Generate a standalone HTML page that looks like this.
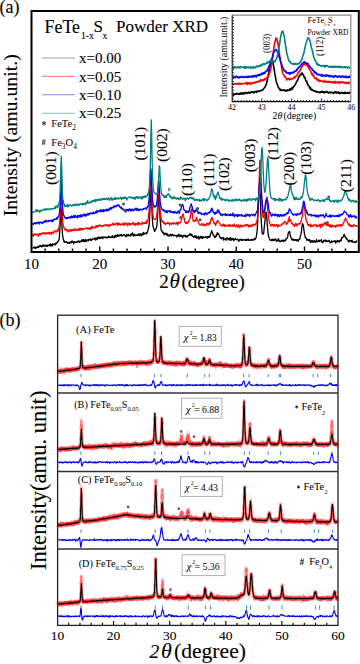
<!DOCTYPE html>
<html><head><meta charset="utf-8"><style>
html,body{margin:0;padding:0;background:#fff;}
body{width:360px;height:664px;overflow:hidden;font-family:"Liberation Serif",serif;}
svg{display:block;}
text.b{stroke:#000;stroke-width:0.2px;stroke-opacity:0.55;}
</style></head><body>
<svg width="360" height="664" viewBox="0 0 360 664">
<rect width="360" height="664" fill="#fff"/>
<text class="b" x="-0.5" y="12.6" font-size="18" font-family="Liberation Serif">(a)</text>
<path d="M32.5 248.1L32.9 248.2 33.3 247.8 33.7 247.3 34.1 247.5 34.5 247.1 34.9 247.7 35.3 248.6 35.7 247.2 36.1 247.1 36.5 247.8 36.9 247.6 37.3 247.4 37.7 246.6 38.1 247.2 38.5 247.6 38.9 246.1 39.3 246.7 39.7 245.6 40.1 246.0 40.5 245.5 40.9 246.6 41.3 245.8 41.7 246.8 42.1 246.7 42.5 246.3 42.9 244.6 43.3 246.0 43.7 246.2 44.1 246.3 44.5 245.1 44.9 245.7 45.3 245.3 45.7 245.4 46.1 246.6 46.5 245.2 46.9 245.7 47.3 246.3 47.7 245.2 48.1 245.4 48.5 245.5 48.9 245.4 49.3 244.4 49.7 245.3 50.1 246.1 50.5 244.0 50.9 245.6 51.3 245.0 51.7 244.4 52.1 246.1 52.5 245.2 52.9 243.7 53.3 244.5 53.7 244.8 54.1 244.1 54.5 244.6 54.9 243.9 55.3 244.3 55.7 244.7 56.1 243.0 56.5 243.4 56.9 242.7 57.3 242.8 57.7 241.4 58.1 241.3 58.5 240.7 58.9 240.1 59.3 237.9 59.7 232.0 60.1 225.5 60.5 217.1 60.9 207.3 61.3 209.7 61.7 218.8 62.1 228.6 62.5 234.3 62.9 237.1 63.3 239.1 63.7 240.3 64.1 242.2 64.5 241.3 64.9 241.7 65.3 242.4 65.7 242.2 66.1 242.2 66.5 241.7 66.9 242.5 67.3 242.2 67.7 243.4 68.1 243.0 68.5 242.6 68.9 243.1 69.3 242.3 69.7 243.3 70.1 242.5 70.5 242.9 70.9 241.6 71.3 242.7 71.7 241.3 72.1 241.0 72.5 242.2 72.9 241.7 73.3 242.4 73.7 243.8 74.1 241.6 74.5 241.8 74.9 242.3 75.3 242.5 75.7 241.9 76.1 241.9 76.5 242.5 76.9 242.3 77.3 241.2 77.7 241.8 78.1 241.8 78.5 241.0 78.9 241.9 79.3 241.1 79.7 242.3 80.1 241.7 80.5 241.6 80.9 241.0 81.3 241.3 81.7 239.9 82.1 240.5 82.5 241.4 82.9 239.6 83.3 241.6 83.7 239.7 84.1 241.4 84.5 240.2 84.9 241.3 85.3 240.8 85.7 239.5 86.1 241.4 86.5 241.5 86.9 240.4 87.3 240.1 87.7 240.1 88.1 239.5 88.5 240.9 88.9 239.7 89.3 239.9 89.7 239.3 90.1 239.4 90.5 238.9 90.9 240.6 91.3 239.5 91.7 240.2 92.1 239.5 92.5 238.9 92.9 239.1 93.3 238.9 93.7 239.2 94.1 238.9 94.5 238.8 94.9 238.0 95.3 238.3 95.7 240.0 96.1 238.3 96.5 237.9 96.9 238.8 97.3 239.5 97.7 237.4 98.1 238.2 98.5 237.8 98.9 236.9 99.3 238.6 99.7 238.0 100.1 238.0 100.5 237.4 100.9 238.2 101.3 237.4 101.7 237.7 102.1 236.9 102.5 236.8 102.9 238.6 103.3 237.2 103.7 237.7 104.1 237.5 104.5 237.1 104.9 237.1 105.3 237.8 105.7 237.1 106.1 237.2 106.5 237.2 106.9 238.0 107.3 237.6 107.7 237.4 108.1 236.7 108.5 236.0 108.9 237.6 109.3 237.6 109.7 236.8 110.1 237.2 110.5 237.3 110.9 237.3 111.3 237.3 111.7 236.3 112.1 237.7 112.5 235.7 112.9 237.1 113.3 236.8 113.7 237.0 114.1 237.7 114.5 237.4 114.9 235.5 115.3 235.1 115.7 236.8 116.1 235.5 116.5 236.1 116.9 236.7 117.3 234.9 117.7 234.5 118.1 236.1 118.5 235.9 118.9 235.7 119.3 235.8 119.7 235.2 120.1 234.7 120.5 235.6 120.9 235.0 121.3 234.5 121.7 236.0 122.1 235.6 122.5 235.9 122.9 234.9 123.3 235.1 123.7 234.9 124.1 234.9 124.5 235.7 124.9 235.0 125.3 235.8 125.7 235.7 126.1 236.9 126.5 234.5 126.9 236.1 127.3 235.4 127.7 235.4 128.1 234.4 128.5 235.1 128.9 235.9 129.3 235.3 129.7 235.4 130.1 235.1 130.5 236.1 130.9 235.3 131.3 233.7 131.7 234.8 132.1 233.9 132.5 232.9 132.9 234.8 133.3 236.1 133.7 235.2 134.1 234.3 134.5 234.5 134.9 235.9 135.3 235.2 135.7 235.1 136.1 235.0 136.5 235.0 136.9 235.5 137.3 235.3 137.7 235.1 138.1 234.1 138.5 235.2 138.9 234.3 139.3 235.5 139.7 233.8 140.1 234.6 140.5 234.6 140.9 233.7 141.3 235.8 141.7 235.5 142.1 234.1 142.5 234.9 142.9 234.6 143.3 232.4 143.7 234.3 144.1 234.0 144.5 233.9 144.9 233.0 145.3 233.4 145.7 233.2 146.1 233.9 146.5 233.0 146.9 232.4 147.3 232.9 147.7 230.8 148.1 229.9 148.5 227.3 148.9 227.1 149.3 222.3 149.7 215.6 150.1 206.1 150.5 195.3 150.9 189.6 151.3 193.3 151.7 203.3 152.1 213.1 152.5 221.2 152.9 225.1 153.3 227.3 153.7 228.5 154.1 229.3 154.5 231.3 154.9 230.7 155.3 230.3 155.7 229.6 156.1 228.3 156.5 227.5 156.9 225.6 157.3 220.3 157.7 213.7 158.1 204.8 158.5 196.7 158.9 193.6 159.3 201.0 159.7 209.9 160.1 219.0 160.5 223.4 160.9 227.8 161.3 230.6 161.7 230.6 162.1 231.2 162.5 232.4 162.9 232.7 163.3 232.3 163.7 233.6 164.1 234.9 164.5 233.5 164.9 233.7 165.3 233.2 165.7 234.3 166.1 233.3 166.5 233.5 166.9 235.3 167.3 233.9 167.7 235.3 168.1 235.7 168.5 234.9 168.9 235.2 169.3 236.2 169.7 234.8 170.1 234.5 170.5 234.1 170.9 235.1 171.3 236.1 171.7 235.8 172.1 234.5 172.5 234.6 172.9 234.9 173.3 235.5 173.7 235.2 174.1 235.6 174.5 235.7 174.9 235.3 175.3 235.5 175.7 235.7 176.1 235.5 176.5 236.0 176.9 237.0 177.3 236.1 177.7 235.8 178.1 234.6 178.5 236.1 178.9 234.5 179.3 234.9 179.7 236.5 180.1 236.4 180.5 235.9 180.9 234.8 181.3 235.8 181.7 235.6 182.1 236.5 182.5 237.7 182.9 236.3 183.3 235.6 183.7 235.4 184.1 236.2 184.5 236.1 184.9 235.4 185.3 236.3 185.7 235.4 186.1 237.0 186.5 237.0 186.9 237.0 187.3 235.9 187.7 236.5 188.1 235.9 188.5 235.5 188.9 235.3 189.3 234.3 189.7 233.8 190.1 235.0 190.5 234.2 190.9 234.6 191.3 235.6 191.7 234.1 192.1 235.2 192.5 236.2 192.9 236.6 193.3 236.3 193.7 237.4 194.1 236.9 194.5 236.0 194.9 236.3 195.3 237.5 195.7 237.3 196.1 235.7 196.5 238.1 196.9 237.6 197.3 238.1 197.7 237.0 198.1 237.1 198.5 236.5 198.9 239.1 199.3 237.2 199.7 238.5 200.1 237.0 200.5 237.6 200.9 236.3 201.3 237.2 201.7 238.2 202.1 236.7 202.5 238.3 202.9 237.8 203.3 236.8 203.7 237.2 204.1 237.3 204.5 237.6 204.9 237.2 205.3 237.0 205.7 237.4 206.1 236.9 206.5 236.7 206.9 237.5 207.3 238.2 207.7 236.4 208.1 237.4 208.5 236.8 208.9 236.4 209.3 237.4 209.7 236.0 210.1 236.7 210.5 234.1 210.9 233.6 211.3 231.8 211.7 230.6 212.1 231.8 212.5 232.5 212.9 234.4 213.3 235.1 213.7 235.2 214.1 236.5 214.5 236.9 214.9 237.7 215.3 236.3 215.7 236.8 216.1 235.2 216.5 236.2 216.9 234.2 217.3 232.7 217.7 233.4 218.1 234.4 218.5 233.5 218.9 234.8 219.3 235.9 219.7 236.3 220.1 237.9 220.5 237.4 220.9 237.7 221.3 238.7 221.7 237.9 222.1 238.8 222.5 237.9 222.9 237.8 223.3 237.5 223.7 240.1 224.1 238.6 224.5 239.1 224.9 238.9 225.3 239.1 225.7 239.0 226.1 240.4 226.5 238.4 226.9 238.0 227.3 238.4 227.7 238.2 228.1 239.7 228.5 239.8 228.9 238.6 229.3 238.3 229.7 239.1 230.1 240.3 230.5 237.4 230.9 239.8 231.3 238.7 231.7 240.2 232.1 238.7 232.5 239.3 232.9 238.5 233.3 238.9 233.7 240.6 234.1 240.2 234.5 239.4 234.9 239.1 235.3 238.4 235.7 239.5 236.1 239.7 236.5 239.7 236.9 239.7 237.3 239.0 237.7 239.8 238.1 239.8 238.5 240.8 238.9 241.2 239.3 239.8 239.7 239.4 240.1 239.9 240.5 239.6 240.9 239.5 241.3 240.0 241.7 239.3 242.1 240.5 242.5 240.0 242.9 240.3 243.3 240.0 243.7 239.7 244.1 239.5 244.5 240.0 244.9 239.8 245.3 240.4 245.7 240.3 246.1 239.3 246.5 240.3 246.9 239.4 247.3 239.9 247.7 240.1 248.1 238.9 248.5 240.4 248.9 240.4 249.3 240.2 249.7 240.0 250.1 240.1 250.5 239.6 250.9 240.1 251.3 239.8 251.7 240.2 252.1 239.2 252.5 240.2 252.9 240.0 253.3 239.7 253.7 239.4 254.1 240.0 254.5 238.2 254.9 239.5 255.3 239.0 255.7 238.5 256.1 237.7 256.5 235.3 256.9 232.7 257.3 228.6 257.7 221.5 258.1 212.0 258.5 200.3 258.9 192.0 259.3 186.7 259.7 187.4 260.1 193.6 260.5 202.4 260.9 214.4 261.3 222.3 261.7 226.9 262.1 232.9 262.5 233.6 262.9 234.2 263.3 233.9 263.7 233.2 264.1 228.9 264.5 225.1 264.9 221.3 265.3 216.7 265.7 212.5 266.1 212.2 266.5 214.2 266.9 219.1 267.3 224.9 267.7 229.6 268.1 233.1 268.5 236.4 268.9 236.9 269.3 238.5 269.7 239.6 270.1 239.9 270.5 240.5 270.9 240.2 271.3 239.8 271.7 240.3 272.1 239.5 272.5 239.1 272.9 240.7 273.3 240.3 273.7 240.6 274.1 239.2 274.5 240.2 274.9 240.0 275.3 239.9 275.7 238.9 276.1 240.3 276.5 241.2 276.9 240.8 277.3 240.1 277.7 240.6 278.1 241.1 278.5 238.6 278.9 240.5 279.3 241.0 279.7 241.0 280.1 241.8 280.5 241.3 280.9 240.8 281.3 240.7 281.7 241.1 282.1 240.1 282.5 240.4 282.9 241.1 283.3 241.7 283.7 240.2 284.1 240.2 284.5 240.3 284.9 241.0 285.3 239.9 285.7 240.7 286.1 238.7 286.5 238.8 286.9 238.1 287.3 237.9 287.7 236.9 288.1 233.6 288.5 232.5 288.9 232.2 289.3 231.4 289.7 231.7 290.1 235.0 290.5 236.1 290.9 237.4 291.3 237.7 291.7 239.4 292.1 239.0 292.5 240.3 292.9 239.1 293.3 239.3 293.7 240.1 294.1 239.6 294.5 240.6 294.9 240.3 295.3 239.5 295.7 240.2 296.1 239.9 296.5 240.7 296.9 239.6 297.3 239.6 297.7 240.7 298.1 241.2 298.5 240.9 298.9 239.2 299.3 239.0 299.7 239.3 300.1 237.4 300.5 235.6 300.9 234.7 301.3 232.7 301.7 229.1 302.1 225.7 302.5 223.6 302.9 224.6 303.3 225.1 303.7 228.3 304.1 231.4 304.5 234.2 304.9 235.5 305.3 237.5 305.7 237.5 306.1 238.5 306.5 238.5 306.9 240.4 307.3 239.8 307.7 239.5 308.1 240.0 308.5 240.2 308.9 240.9 309.3 239.4 309.7 239.9 310.1 240.4 310.5 242.5 310.9 241.4 311.3 240.7 311.7 241.4 312.1 242.3 312.5 240.8 312.9 240.7 313.3 241.8 313.7 241.4 314.1 241.5 314.5 240.7 314.9 242.4 315.3 242.3 315.7 241.5 316.1 241.6 316.5 239.7 316.9 241.6 317.3 241.0 317.7 241.5 318.1 241.7 318.5 241.0 318.9 240.0 319.3 241.5 319.7 240.7 320.1 241.0 320.5 240.8 320.9 241.0 321.3 239.7 321.7 242.1 322.1 241.5 322.5 242.1 322.9 242.7 323.3 241.3 323.7 240.1 324.1 240.7 324.5 240.5 324.9 241.0 325.3 241.4 325.7 240.0 326.1 241.6 326.5 240.3 326.9 241.6 327.3 241.3 327.7 241.2 328.1 241.3 328.5 241.0 328.9 241.0 329.3 240.2 329.7 241.4 330.1 242.7 330.5 242.8 330.9 242.3 331.3 241.9 331.7 240.9 332.1 242.4 332.5 241.4 332.9 241.4 333.3 241.2 333.7 241.5 334.1 241.1 334.5 241.3 334.9 240.6 335.3 241.1 335.7 243.0 336.1 241.3 336.5 241.1 336.9 241.7 337.3 241.8 337.7 240.4 338.1 241.0 338.5 241.7 338.9 241.2 339.3 241.0 339.7 241.9 340.1 240.1 340.5 240.4 340.9 239.7 341.3 240.7 341.7 237.7 342.1 238.0 342.5 237.3 342.9 237.3 343.3 236.5 343.7 236.4 344.1 234.2 344.5 236.0 344.9 235.9 345.3 236.5 345.7 238.2 346.1 237.9 346.5 237.8 346.9 239.5 347.3 239.1 347.7 240.1 348.1 241.0 348.5 241.2 348.9 242.2 349.3 241.1 349.7 240.2 350.1 240.8 350.5 240.8 350.9 240.6 351.3 241.8 351.7 241.1 352.1 240.2 352.5 242.1 352.9 241.6 353.3 241.9 353.7 241.8 354.1 242.2 354.5 241.8 354.9 242.6 355.3 242.1 355.7 242.1 356.1 242.1 356.5 240.8 356.9 241.7 357.3 241.7" fill="none" stroke="#000" stroke-width="1.3" stroke-linejoin="round"/>
<path d="M32.5 235.4L32.9 234.3 33.3 236.3 33.7 235.2 34.1 234.2 34.5 233.8 34.9 234.8 35.3 234.9 35.7 234.4 36.1 234.9 36.5 234.3 36.9 235.1 37.3 234.2 37.7 234.6 38.1 235.3 38.5 236.3 38.9 233.8 39.3 234.1 39.7 233.8 40.1 234.9 40.5 233.4 40.9 233.9 41.3 234.1 41.7 233.4 42.1 233.4 42.5 233.7 42.9 232.5 43.3 232.9 43.7 233.5 44.1 233.9 44.5 233.6 44.9 232.4 45.3 233.3 45.7 234.1 46.1 233.9 46.5 233.4 46.9 232.8 47.3 233.8 47.7 232.8 48.1 232.4 48.5 232.6 48.9 234.1 49.3 233.2 49.7 233.8 50.1 232.5 50.5 233.5 50.9 232.3 51.3 232.6 51.7 234.3 52.1 233.1 52.5 232.1 52.9 232.3 53.3 232.5 53.7 233.0 54.1 231.7 54.5 230.7 54.9 231.6 55.3 231.7 55.7 231.6 56.1 232.2 56.5 231.3 56.9 231.4 57.3 229.7 57.7 230.7 58.1 230.9 58.5 229.2 58.9 227.6 59.3 225.5 59.7 223.0 60.1 214.8 60.5 205.7 60.9 195.0 61.3 190.3 61.7 196.4 62.1 208.1 62.5 216.5 62.9 222.4 63.3 225.3 63.7 226.4 64.1 228.2 64.5 229.4 64.9 228.6 65.3 229.4 65.7 230.2 66.1 229.2 66.5 230.2 66.9 229.4 67.3 231.0 67.7 231.9 68.1 231.7 68.5 230.1 68.9 230.8 69.3 230.4 69.7 230.3 70.1 231.3 70.5 229.3 70.9 230.9 71.3 230.1 71.7 231.1 72.1 230.3 72.5 229.6 72.9 230.2 73.3 230.5 73.7 230.0 74.1 230.3 74.5 229.5 74.9 228.4 75.3 230.5 75.7 230.3 76.1 229.8 76.5 229.7 76.9 230.4 77.3 229.3 77.7 229.1 78.1 229.4 78.5 230.3 78.9 228.5 79.3 230.2 79.7 228.9 80.1 228.5 80.5 230.1 80.9 229.1 81.3 228.2 81.7 228.8 82.1 229.7 82.5 229.8 82.9 228.6 83.3 229.1 83.7 229.3 84.1 228.3 84.5 228.9 84.9 228.6 85.3 228.2 85.7 228.1 86.1 228.5 86.5 228.4 86.9 227.9 87.3 228.0 87.7 229.0 88.1 228.3 88.5 228.7 88.9 228.9 89.3 228.4 89.7 229.5 90.1 227.3 90.5 228.4 90.9 227.5 91.3 229.0 91.7 228.8 92.1 226.2 92.5 226.8 92.9 227.9 93.3 227.9 93.7 227.8 94.1 227.2 94.5 227.5 94.9 227.6 95.3 227.0 95.7 227.7 96.1 225.3 96.5 227.2 96.9 225.9 97.3 227.2 97.7 226.2 98.1 225.7 98.5 226.4 98.9 225.4 99.3 225.3 99.7 224.7 100.1 225.7 100.5 226.1 100.9 226.4 101.3 225.5 101.7 226.3 102.1 225.6 102.5 225.5 102.9 225.9 103.3 226.2 103.7 225.2 104.1 225.2 104.5 225.3 104.9 225.4 105.3 224.7 105.7 226.0 106.1 225.0 106.5 225.5 106.9 224.6 107.3 225.4 107.7 225.4 108.1 224.8 108.5 226.5 108.9 225.3 109.3 226.2 109.7 225.6 110.1 224.5 110.5 224.6 110.9 225.2 111.3 224.9 111.7 224.8 112.1 224.6 112.5 223.5 112.9 224.5 113.3 223.1 113.7 224.9 114.1 224.1 114.5 224.1 114.9 224.4 115.3 224.7 115.7 223.5 116.1 223.2 116.5 223.7 116.9 222.9 117.3 223.7 117.7 225.4 118.1 223.5 118.5 224.7 118.9 223.2 119.3 224.4 119.7 223.9 120.1 224.1 120.5 224.5 120.9 225.3 121.3 224.2 121.7 224.2 122.1 223.4 122.5 224.5 122.9 223.9 123.3 224.7 123.7 224.1 124.1 225.3 124.5 222.7 124.9 223.9 125.3 224.7 125.7 223.9 126.1 223.6 126.5 223.9 126.9 223.2 127.3 224.2 127.7 225.8 128.1 224.9 128.5 223.3 128.9 223.5 129.3 223.8 129.7 224.8 130.1 223.5 130.5 223.6 130.9 224.7 131.3 224.7 131.7 223.8 132.1 223.3 132.5 223.0 132.9 223.6 133.3 222.5 133.7 224.6 134.1 223.6 134.5 224.4 134.9 225.4 135.3 224.9 135.7 223.2 136.1 224.6 136.5 224.8 136.9 223.5 137.3 223.3 137.7 223.9 138.1 222.8 138.5 225.0 138.9 222.2 139.3 223.1 139.7 223.7 140.1 223.7 140.5 223.9 140.9 224.0 141.3 223.6 141.7 224.5 142.1 222.1 142.5 223.6 142.9 223.0 143.3 223.5 143.7 223.5 144.1 222.6 144.5 222.6 144.9 223.5 145.3 223.0 145.7 222.0 146.1 223.6 146.5 223.4 146.9 220.3 147.3 220.9 147.7 221.5 148.1 219.0 148.5 216.5 148.9 212.8 149.3 207.0 149.7 198.7 150.1 187.3 150.5 177.5 150.9 173.8 151.3 181.4 151.7 192.4 152.1 203.0 152.5 209.3 152.9 214.0 153.3 217.4 153.7 218.3 154.1 219.3 154.5 219.6 154.9 219.5 155.3 219.3 155.7 218.8 156.1 218.7 156.5 215.9 156.9 214.9 157.3 209.5 157.7 202.3 158.1 194.5 158.5 188.4 158.9 190.0 159.3 196.5 159.7 205.8 160.1 210.7 160.5 213.8 160.9 217.4 161.3 218.1 161.7 220.4 162.1 221.9 162.5 222.0 162.9 221.0 163.3 221.7 163.7 223.6 164.1 222.8 164.5 222.7 164.9 223.5 165.3 224.6 165.7 223.9 166.1 223.2 166.5 223.4 166.9 223.7 167.3 222.9 167.7 222.6 168.1 223.4 168.5 222.8 168.9 223.4 169.3 223.6 169.7 225.2 170.1 223.0 170.5 223.5 170.9 223.5 171.3 223.9 171.7 224.4 172.1 223.3 172.5 223.1 172.9 222.6 173.3 223.1 173.7 224.1 174.1 223.8 174.5 223.0 174.9 223.5 175.3 223.8 175.7 224.1 176.1 223.3 176.5 223.5 176.9 222.4 177.3 222.9 177.7 224.8 178.1 222.1 178.5 223.3 178.9 223.6 179.3 223.0 179.7 222.6 180.1 222.8 180.5 222.5 180.9 221.8 181.3 219.5 181.7 219.3 182.1 216.7 182.5 214.7 182.9 213.8 183.3 214.5 183.7 216.6 184.1 217.9 184.5 220.6 184.9 222.1 185.3 222.8 185.7 223.5 186.1 222.7 186.5 222.8 186.9 223.5 187.3 222.0 187.7 223.0 188.1 222.3 188.5 222.1 188.9 220.6 189.3 220.3 189.7 219.5 190.1 218.0 190.5 215.2 190.9 211.3 191.3 209.2 191.7 209.4 192.1 213.0 192.5 215.7 192.9 218.8 193.3 221.3 193.7 221.1 194.1 220.6 194.5 221.1 194.9 220.4 195.3 220.0 195.7 220.9 196.1 219.1 196.5 217.1 196.9 218.8 197.3 220.3 197.7 220.4 198.1 221.3 198.5 222.3 198.9 223.4 199.3 224.0 199.7 224.7 200.1 224.9 200.5 225.0 200.9 225.2 201.3 224.8 201.7 223.3 202.1 224.4 202.5 224.7 202.9 224.3 203.3 225.2 203.7 224.3 204.1 224.0 204.5 225.6 204.9 225.1 205.3 224.8 205.7 225.3 206.1 225.3 206.5 224.8 206.9 222.8 207.3 224.0 207.7 224.1 208.1 223.6 208.5 224.3 208.9 224.8 209.3 223.3 209.7 222.4 210.1 223.8 210.5 221.0 210.9 219.1 211.3 218.6 211.7 217.9 212.1 217.3 212.5 219.6 212.9 220.1 213.3 221.1 213.7 222.8 214.1 223.8 214.5 223.1 214.9 224.0 215.3 223.6 215.7 225.5 216.1 222.6 216.5 223.4 216.9 221.6 217.3 220.6 217.7 220.6 218.1 221.0 218.5 222.1 218.9 222.4 219.3 222.7 219.7 223.4 220.1 224.6 220.5 224.9 220.9 225.7 221.3 225.2 221.7 225.7 222.1 226.1 222.5 225.2 222.9 224.1 223.3 224.4 223.7 224.3 224.1 226.4 224.5 224.7 224.9 226.2 225.3 225.8 225.7 226.6 226.1 226.1 226.5 225.4 226.9 225.3 227.3 225.6 227.7 225.6 228.1 225.2 228.5 225.5 228.9 226.7 229.3 224.4 229.7 225.8 230.1 225.0 230.5 225.7 230.9 226.2 231.3 225.6 231.7 226.2 232.1 224.6 232.5 226.4 232.9 225.3 233.3 226.1 233.7 225.8 234.1 223.9 234.5 225.2 234.9 225.9 235.3 226.8 235.7 226.0 236.1 225.9 236.5 224.8 236.9 226.8 237.3 227.1 237.7 225.8 238.1 225.7 238.5 224.7 238.9 226.4 239.3 227.7 239.7 226.3 240.1 226.7 240.5 226.2 240.9 225.2 241.3 226.8 241.7 225.0 242.1 225.7 242.5 226.1 242.9 226.5 243.3 226.2 243.7 226.2 244.1 225.4 244.5 225.0 244.9 225.9 245.3 225.4 245.7 225.0 246.1 225.0 246.5 225.5 246.9 224.6 247.3 224.9 247.7 224.7 248.1 226.0 248.5 226.1 248.9 227.2 249.3 224.8 249.7 225.3 250.1 226.4 250.5 225.6 250.9 225.5 251.3 226.8 251.7 225.3 252.1 224.7 252.5 224.5 252.9 225.6 253.3 225.5 253.7 224.2 254.1 224.3 254.5 225.2 254.9 225.1 255.3 224.0 255.7 224.6 256.1 224.1 256.5 221.7 256.9 221.4 257.3 219.5 257.7 214.7 258.1 207.0 258.5 198.8 258.9 187.4 259.3 175.1 259.7 161.5 260.1 160.0 260.5 160.7 260.9 172.0 261.3 184.9 261.7 196.9 262.1 206.1 262.5 211.8 262.9 216.9 263.3 217.4 263.7 215.7 264.1 217.6 264.5 213.0 264.9 209.8 265.3 203.6 265.7 201.5 266.1 199.4 266.5 199.6 266.9 201.1 267.3 204.4 267.7 209.8 268.1 212.6 268.5 216.5 268.9 220.4 269.3 221.5 269.7 223.2 270.1 223.9 270.5 225.8 270.9 225.6 271.3 224.9 271.7 225.9 272.1 224.6 272.5 224.9 272.9 225.9 273.3 224.4 273.7 225.1 274.1 224.5 274.5 225.5 274.9 226.6 275.3 224.9 275.7 225.6 276.1 224.8 276.5 224.7 276.9 224.6 277.3 226.5 277.7 227.1 278.1 225.8 278.5 225.0 278.9 225.9 279.3 225.2 279.7 226.0 280.1 225.6 280.5 225.5 280.9 225.7 281.3 224.8 281.7 224.7 282.1 223.7 282.5 224.3 282.9 223.3 283.3 223.7 283.7 222.6 284.1 222.8 284.5 222.6 284.9 221.2 285.3 221.9 285.7 222.2 286.1 223.7 286.5 224.5 286.9 223.8 287.3 222.7 287.7 223.4 288.1 220.4 288.5 221.4 288.9 218.8 289.3 216.6 289.7 220.4 290.1 220.5 290.5 219.8 290.9 221.8 291.3 222.5 291.7 223.5 292.1 222.9 292.5 223.8 292.9 224.8 293.3 224.8 293.7 225.6 294.1 224.9 294.5 226.5 294.9 224.4 295.3 225.1 295.7 223.5 296.1 224.0 296.5 225.8 296.9 224.1 297.3 225.1 297.7 224.6 298.1 223.8 298.5 224.1 298.9 223.8 299.3 223.6 299.7 224.2 300.1 223.7 300.5 222.2 300.9 221.1 301.3 220.7 301.7 218.7 302.1 217.0 302.5 215.0 302.9 210.0 303.3 205.9 303.7 203.7 304.1 203.8 304.5 206.6 304.9 210.3 305.3 214.3 305.7 217.2 306.1 220.2 306.5 220.9 306.9 222.2 307.3 222.2 307.7 224.7 308.1 224.3 308.5 225.5 308.9 225.0 309.3 225.7 309.7 224.6 310.1 225.4 310.5 226.9 310.9 224.2 311.3 226.0 311.7 226.4 312.1 225.6 312.5 225.9 312.9 226.3 313.3 225.0 313.7 225.7 314.1 224.9 314.5 225.0 314.9 225.1 315.3 225.5 315.7 225.7 316.1 225.9 316.5 224.6 316.9 227.0 317.3 226.5 317.7 226.2 318.1 225.4 318.5 225.6 318.9 226.0 319.3 225.9 319.7 224.4 320.1 226.1 320.5 227.7 320.9 224.2 321.3 226.2 321.7 225.7 322.1 225.2 322.5 226.1 322.9 224.0 323.3 224.7 323.7 225.2 324.1 223.5 324.5 222.8 324.9 223.0 325.3 222.7 325.7 224.6 326.1 223.3 326.5 225.1 326.9 223.9 327.3 225.6 327.7 225.3 328.1 223.6 328.5 225.6 328.9 224.9 329.3 225.4 329.7 226.8 330.1 225.0 330.5 225.0 330.9 226.9 331.3 225.9 331.7 227.0 332.1 226.1 332.5 225.2 332.9 225.8 333.3 226.8 333.7 226.6 334.1 225.9 334.5 225.9 334.9 225.8 335.3 225.5 335.7 227.3 336.1 225.9 336.5 225.0 336.9 225.5 337.3 226.3 337.7 226.2 338.1 225.7 338.5 225.2 338.9 225.7 339.3 224.4 339.7 224.6 340.1 226.1 340.5 225.0 340.9 225.5 341.3 226.0 341.7 225.3 342.1 224.6 342.5 225.7 342.9 224.1 343.3 222.7 343.7 222.7 344.1 221.6 344.5 219.8 344.9 219.7 345.3 219.1 345.7 217.9 346.1 219.7 346.5 220.5 346.9 221.3 347.3 221.3 347.7 223.0 348.1 223.8 348.5 224.4 348.9 223.9 349.3 225.5 349.7 224.4 350.1 225.3 350.5 226.5 350.9 225.2 351.3 225.4 351.7 226.6 352.1 225.6 352.5 225.7 352.9 226.1 353.3 226.8 353.7 224.5 354.1 225.5 354.5 225.4 354.9 225.3 355.3 225.5 355.7 225.6 356.1 226.4 356.5 225.6 356.9 226.3 357.3 226.5" fill="none" stroke="#f00" stroke-width="1.3" stroke-linejoin="round"/>
<path d="M32.5 223.2L32.9 223.7 33.3 224.7 33.7 223.7 34.1 223.0 34.5 223.3 34.9 222.7 35.3 223.5 35.7 223.8 36.1 222.6 36.5 222.9 36.9 223.8 37.3 222.6 37.7 223.0 38.1 222.1 38.5 222.2 38.9 222.4 39.3 224.2 39.7 222.3 40.1 222.2 40.5 222.1 40.9 222.3 41.3 222.8 41.7 222.4 42.1 223.7 42.5 222.3 42.9 223.1 43.3 222.2 43.7 222.4 44.1 220.9 44.5 221.8 44.9 221.8 45.3 221.6 45.7 220.2 46.1 222.2 46.5 221.3 46.9 221.2 47.3 221.2 47.7 221.2 48.1 221.6 48.5 220.3 48.9 220.5 49.3 221.3 49.7 221.1 50.1 220.7 50.5 220.5 50.9 220.2 51.3 220.7 51.7 221.5 52.1 219.8 52.5 221.5 52.9 221.0 53.3 220.0 53.7 220.7 54.1 219.1 54.5 218.8 54.9 218.9 55.3 219.4 55.7 219.3 56.1 219.0 56.5 219.2 56.9 217.4 57.3 219.0 57.7 217.2 58.1 217.3 58.5 216.8 58.9 215.2 59.3 213.4 59.7 210.6 60.1 205.6 60.5 196.2 60.9 183.7 61.3 176.7 61.7 185.2 62.1 197.3 62.5 207.0 62.9 210.2 63.3 215.0 63.7 215.1 64.1 215.7 64.5 217.0 64.9 217.8 65.3 217.5 65.7 218.2 66.1 217.6 66.5 218.5 66.9 218.5 67.3 217.6 67.7 218.7 68.1 217.8 68.5 217.7 68.9 217.0 69.3 217.4 69.7 218.1 70.1 216.6 70.5 217.9 70.9 217.7 71.3 217.6 71.7 215.8 72.1 217.2 72.5 217.7 72.9 216.6 73.3 217.1 73.7 215.4 74.1 217.4 74.5 216.4 74.9 217.5 75.3 215.5 75.7 217.2 76.1 216.5 76.5 217.2 76.9 215.9 77.3 216.0 77.7 218.0 78.1 215.7 78.5 215.8 78.9 216.0 79.3 215.4 79.7 216.9 80.1 217.2 80.5 215.4 80.9 214.6 81.3 216.5 81.7 216.4 82.1 216.1 82.5 216.3 82.9 214.7 83.3 215.1 83.7 214.2 84.1 214.1 84.5 215.7 84.9 214.4 85.3 216.4 85.7 214.8 86.1 214.2 86.5 215.1 86.9 215.7 87.3 214.7 87.7 213.4 88.1 214.4 88.5 215.0 88.9 213.6 89.3 213.3 89.7 214.5 90.1 213.8 90.5 212.8 90.9 213.2 91.3 212.9 91.7 213.5 92.1 213.3 92.5 213.9 92.9 213.5 93.3 211.9 93.7 213.1 94.1 213.4 94.5 213.0 94.9 213.3 95.3 212.1 95.7 211.7 96.1 212.9 96.5 211.5 96.9 210.6 97.3 212.7 97.7 211.4 98.1 211.6 98.5 210.7 98.9 210.7 99.3 210.7 99.7 211.2 100.1 211.6 100.5 209.6 100.9 211.7 101.3 210.2 101.7 210.2 102.1 211.3 102.5 210.7 102.9 209.6 103.3 211.9 103.7 209.9 104.1 210.6 104.5 210.4 104.9 211.2 105.3 209.8 105.7 210.7 106.1 209.4 106.5 210.6 106.9 209.2 107.3 209.4 107.7 210.8 108.1 209.6 108.5 209.3 108.9 210.7 109.3 209.2 109.7 208.2 110.1 209.2 110.5 207.7 110.9 209.1 111.3 209.0 111.7 207.6 112.1 207.5 112.5 207.9 112.9 207.6 113.3 206.8 113.7 207.7 114.1 205.7 114.5 206.7 114.9 206.6 115.3 206.5 115.7 206.7 116.1 205.5 116.5 206.6 116.9 205.9 117.3 205.5 117.7 204.8 118.1 204.8 118.5 205.7 118.9 205.0 119.3 206.0 119.7 207.0 120.1 207.3 120.5 208.0 120.9 207.0 121.3 206.8 121.7 208.6 122.1 208.4 122.5 209.3 122.9 208.8 123.3 210.0 123.7 210.1 124.1 210.2 124.5 210.1 124.9 210.0 125.3 209.9 125.7 209.9 126.1 210.4 126.5 209.3 126.9 210.9 127.3 209.6 127.7 210.4 128.1 209.6 128.5 209.5 128.9 211.1 129.3 209.5 129.7 208.8 130.1 209.2 130.5 209.5 130.9 211.2 131.3 209.8 131.7 210.3 132.1 209.0 132.5 209.9 132.9 210.1 133.3 210.9 133.7 209.2 134.1 210.1 134.5 209.9 134.9 208.9 135.3 209.6 135.7 209.4 136.1 208.0 136.5 210.0 136.9 210.0 137.3 209.3 137.7 208.6 138.1 210.6 138.5 209.7 138.9 210.2 139.3 210.5 139.7 209.1 140.1 210.0 140.5 209.2 140.9 209.3 141.3 209.3 141.7 209.3 142.1 210.0 142.5 209.3 142.9 209.0 143.3 208.9 143.7 209.2 144.1 208.3 144.5 208.4 144.9 208.6 145.3 208.1 145.7 208.3 146.1 207.7 146.5 209.3 146.9 208.4 147.3 207.3 147.7 206.2 148.1 206.7 148.5 203.7 148.9 200.5 149.3 196.0 149.7 188.8 150.1 180.0 150.5 169.8 150.9 168.8 151.3 173.4 151.7 184.4 152.1 191.7 152.5 199.6 152.9 201.9 153.3 204.3 153.7 206.2 154.1 207.2 154.5 206.0 154.9 206.7 155.3 205.9 155.7 206.7 156.1 205.9 156.5 204.5 156.9 201.9 157.3 198.4 157.7 192.5 158.1 186.6 158.5 182.2 158.9 180.8 159.3 188.2 159.7 194.9 160.1 200.9 160.5 203.5 160.9 206.3 161.3 207.0 161.7 209.1 162.1 209.3 162.5 209.6 162.9 210.3 163.3 210.2 163.7 209.5 164.1 211.2 164.5 211.1 164.9 210.9 165.3 211.9 165.7 212.1 166.1 210.6 166.5 210.9 166.9 212.6 167.3 212.5 167.7 211.1 168.1 210.8 168.5 211.2 168.9 211.4 169.3 210.7 169.7 211.8 170.1 211.0 170.5 211.0 170.9 212.6 171.3 211.5 171.7 211.9 172.1 212.4 172.5 212.6 172.9 211.8 173.3 212.1 173.7 211.5 174.1 213.3 174.5 212.6 174.9 211.3 175.3 212.1 175.7 212.6 176.1 212.5 176.5 213.4 176.9 213.1 177.3 211.7 177.7 212.0 178.1 211.1 178.5 212.1 178.9 212.0 179.3 213.6 179.7 211.5 180.1 209.6 180.5 210.0 180.9 209.7 181.3 207.4 181.7 205.9 182.1 204.6 182.5 204.4 182.9 204.9 183.3 206.2 183.7 209.1 184.1 209.5 184.5 210.4 184.9 210.3 185.3 211.1 185.7 212.3 186.1 210.8 186.5 212.0 186.9 212.5 187.3 211.8 187.7 212.1 188.1 211.0 188.5 212.5 188.9 211.9 189.3 210.6 189.7 208.1 190.1 207.1 190.5 206.5 190.9 205.2 191.3 203.8 191.7 205.7 192.1 206.4 192.5 208.6 192.9 210.1 193.3 211.2 193.7 210.4 194.1 212.4 194.5 212.7 194.9 210.9 195.3 210.5 195.7 211.2 196.1 210.0 196.5 208.5 196.9 210.9 197.3 210.9 197.7 211.1 198.1 213.5 198.5 212.6 198.9 212.2 199.3 213.1 199.7 212.4 200.1 212.7 200.5 213.6 200.9 213.0 201.3 213.1 201.7 214.7 202.1 214.1 202.5 214.1 202.9 214.0 203.3 213.9 203.7 214.6 204.1 213.6 204.5 215.0 204.9 213.0 205.3 213.5 205.7 212.7 206.1 213.4 206.5 214.0 206.9 214.7 207.3 213.2 207.7 213.6 208.1 213.3 208.5 212.9 208.9 212.5 209.3 213.2 209.7 211.6 210.1 212.4 210.5 211.6 210.9 210.2 211.3 209.0 211.7 208.1 212.1 210.6 212.5 209.1 212.9 212.1 213.3 212.3 213.7 212.2 214.1 212.1 214.5 213.8 214.9 214.4 215.3 212.5 215.7 212.8 216.1 213.4 216.5 212.4 216.9 212.9 217.3 210.3 217.7 210.7 218.1 209.6 218.5 212.6 218.9 211.5 219.3 211.1 219.7 213.1 220.1 213.5 220.5 215.2 220.9 213.8 221.3 214.1 221.7 214.6 222.1 215.4 222.5 214.3 222.9 215.1 223.3 214.8 223.7 214.3 224.1 214.6 224.5 214.6 224.9 214.0 225.3 215.5 225.7 213.7 226.1 215.5 226.5 215.4 226.9 214.7 227.3 214.2 227.7 214.6 228.1 215.1 228.5 215.3 228.9 215.0 229.3 215.5 229.7 214.5 230.1 215.0 230.5 213.8 230.9 215.4 231.3 215.0 231.7 214.7 232.1 215.8 232.5 215.5 232.9 213.0 233.3 215.0 233.7 214.0 234.1 215.8 234.5 216.8 234.9 214.7 235.3 215.2 235.7 214.9 236.1 215.4 236.5 215.6 236.9 216.1 237.3 214.5 237.7 216.3 238.1 214.6 238.5 215.4 238.9 216.0 239.3 215.7 239.7 214.6 240.1 214.8 240.5 215.0 240.9 215.3 241.3 216.1 241.7 214.4 242.1 215.7 242.5 215.8 242.9 215.8 243.3 215.7 243.7 216.4 244.1 215.7 244.5 216.0 244.9 215.8 245.3 216.7 245.7 214.1 246.1 216.3 246.5 215.3 246.9 215.3 247.3 214.8 247.7 214.2 248.1 215.2 248.5 215.0 248.9 215.8 249.3 214.4 249.7 216.5 250.1 215.7 250.5 215.3 250.9 214.9 251.3 214.8 251.7 214.5 252.1 214.9 252.5 215.3 252.9 215.1 253.3 214.1 253.7 214.9 254.1 214.4 254.5 215.0 254.9 216.1 255.3 215.0 255.7 214.2 256.1 212.9 256.5 212.5 256.9 211.3 257.3 211.3 257.7 207.6 258.1 204.2 258.5 198.2 258.9 192.2 259.3 186.3 259.7 179.4 260.1 177.2 260.5 178.5 260.9 184.6 261.3 189.9 261.7 196.4 262.1 201.8 262.5 206.0 262.9 210.0 263.3 213.0 263.7 211.1 264.1 212.2 264.5 210.8 264.9 208.3 265.3 206.7 265.7 204.1 266.1 201.1 266.5 200.9 266.9 197.2 267.3 199.4 267.7 201.3 268.1 203.3 268.5 206.6 268.9 209.7 269.3 211.1 269.7 212.8 270.1 213.9 270.5 212.6 270.9 215.5 271.3 216.2 271.7 215.5 272.1 215.6 272.5 214.0 272.9 214.9 273.3 214.5 273.7 214.7 274.1 215.8 274.5 214.6 274.9 215.1 275.3 213.8 275.7 215.1 276.1 215.3 276.5 214.7 276.9 214.7 277.3 216.5 277.7 214.4 278.1 214.5 278.5 214.6 278.9 216.0 279.3 216.7 279.7 215.4 280.1 214.7 280.5 214.9 280.9 215.9 281.3 214.5 281.7 216.2 282.1 216.1 282.5 215.2 282.9 215.5 283.3 215.6 283.7 216.1 284.1 214.2 284.5 215.7 284.9 214.6 285.3 214.2 285.7 214.7 286.1 214.3 286.5 213.5 286.9 212.8 287.3 212.8 287.7 213.8 288.1 213.3 288.5 211.3 288.9 210.6 289.3 208.8 289.7 209.1 290.1 210.0 290.5 210.1 290.9 211.2 291.3 212.8 291.7 213.1 292.1 213.1 292.5 214.4 292.9 214.1 293.3 215.2 293.7 214.6 294.1 214.4 294.5 214.8 294.9 214.6 295.3 214.2 295.7 214.4 296.1 215.2 296.5 215.1 296.9 215.5 297.3 213.4 297.7 214.3 298.1 214.2 298.5 214.5 298.9 214.0 299.3 213.8 299.7 214.5 300.1 213.8 300.5 212.5 300.9 213.7 301.3 212.7 301.7 210.5 302.1 210.0 302.5 206.9 302.9 205.9 303.3 202.8 303.7 201.1 304.1 201.8 304.5 203.3 304.9 206.3 305.3 208.5 305.7 210.3 306.1 211.2 306.5 210.0 306.9 213.3 307.3 212.4 307.7 214.2 308.1 215.1 308.5 214.7 308.9 214.4 309.3 214.6 309.7 214.8 310.1 214.6 310.5 214.6 310.9 214.4 311.3 216.0 311.7 215.2 312.1 215.9 312.5 215.1 312.9 215.4 313.3 215.2 313.7 215.7 314.1 216.0 314.5 215.6 314.9 215.0 315.3 214.9 315.7 216.7 316.1 215.3 316.5 215.3 316.9 216.6 317.3 216.3 317.7 216.0 318.1 215.3 318.5 217.3 318.9 215.9 319.3 216.0 319.7 215.6 320.1 214.7 320.5 214.8 320.9 216.0 321.3 216.0 321.7 215.6 322.1 214.9 322.5 214.8 322.9 215.6 323.3 214.8 323.7 216.4 324.1 216.6 324.5 217.8 324.9 216.5 325.3 215.4 325.7 215.3 326.1 213.5 326.5 215.5 326.9 215.8 327.3 216.6 327.7 216.3 328.1 216.3 328.5 216.1 328.9 216.4 329.3 217.0 329.7 215.2 330.1 215.7 330.5 215.0 330.9 217.1 331.3 216.9 331.7 216.5 332.1 215.2 332.5 216.1 332.9 215.9 333.3 216.1 333.7 215.9 334.1 216.4 334.5 215.8 334.9 216.6 335.3 216.2 335.7 215.8 336.1 215.9 336.5 215.7 336.9 216.6 337.3 215.8 337.7 216.2 338.1 215.7 338.5 214.9 338.9 216.5 339.3 215.1 339.7 216.3 340.1 216.0 340.5 214.4 340.9 214.8 341.3 214.9 341.7 214.4 342.1 213.8 342.5 214.8 342.9 213.5 343.3 213.4 343.7 212.2 344.1 212.1 344.5 211.0 344.9 211.5 345.3 212.2 345.7 212.4 346.1 212.7 346.5 212.9 346.9 214.3 347.3 214.9 347.7 214.9 348.1 214.8 348.5 216.0 348.9 217.5 349.3 215.7 349.7 216.3 350.1 216.4 350.5 214.4 350.9 216.3 351.3 215.8 351.7 217.3 352.1 216.2 352.5 215.9 352.9 216.3 353.3 216.6 353.7 216.1 354.1 216.5 354.5 215.6 354.9 216.4 355.3 217.1 355.7 218.0 356.1 217.1 356.5 216.9 356.9 217.5 357.3 217.4" fill="none" stroke="#00f" stroke-width="1.3" stroke-linejoin="round"/>
<path d="M32.5 213.1L32.9 212.7 33.3 211.8 33.7 212.0 34.1 211.8 34.5 211.9 34.9 211.7 35.3 211.0 35.7 210.0 36.1 210.9 36.5 209.9 36.9 211.3 37.3 211.2 37.7 209.9 38.1 211.5 38.5 211.6 38.9 211.0 39.3 212.0 39.7 212.1 40.1 209.9 40.5 211.4 40.9 210.9 41.3 210.8 41.7 211.1 42.1 209.9 42.5 209.9 42.9 209.6 43.3 209.6 43.7 210.0 44.1 209.0 44.5 209.2 44.9 210.3 45.3 209.7 45.7 210.0 46.1 208.3 46.5 209.0 46.9 209.1 47.3 209.5 47.7 209.0 48.1 209.9 48.5 209.2 48.9 209.2 49.3 209.1 49.7 209.5 50.1 208.6 50.5 209.6 50.9 209.1 51.3 208.8 51.7 208.6 52.1 208.8 52.5 209.1 52.9 209.0 53.3 208.5 53.7 208.7 54.1 208.0 54.5 208.7 54.9 207.7 55.3 206.1 55.7 208.3 56.1 207.3 56.5 206.2 56.9 206.6 57.3 205.8 57.7 207.5 58.1 205.8 58.5 203.7 58.9 204.1 59.3 201.7 59.7 200.0 60.1 191.4 60.5 178.8 60.9 164.4 61.3 156.2 61.7 167.4 62.1 181.7 62.5 193.8 62.9 200.2 63.3 200.4 63.7 204.0 64.1 203.7 64.5 206.3 64.9 205.3 65.3 205.1 65.7 206.2 66.1 205.9 66.5 205.2 66.9 206.2 67.3 205.4 67.7 204.5 68.1 207.1 68.5 205.5 68.9 205.3 69.3 205.9 69.7 204.6 70.1 204.7 70.5 205.2 70.9 205.2 71.3 205.6 71.7 206.2 72.1 205.1 72.5 205.7 72.9 205.7 73.3 204.5 73.7 205.4 74.1 204.5 74.5 205.8 74.9 205.4 75.3 205.0 75.7 204.0 76.1 205.0 76.5 204.3 76.9 205.3 77.3 204.6 77.7 204.1 78.1 205.2 78.5 205.0 78.9 204.1 79.3 205.2 79.7 204.1 80.1 204.1 80.5 204.3 80.9 203.6 81.3 203.7 81.7 203.8 82.1 204.9 82.5 204.8 82.9 203.5 83.3 204.7 83.7 203.4 84.1 203.6 84.5 203.9 84.9 203.4 85.3 204.8 85.7 203.1 86.1 202.0 86.5 203.7 86.9 202.4 87.3 202.4 87.7 200.4 88.1 203.1 88.5 202.9 88.9 202.8 89.3 202.8 89.7 203.2 90.1 201.9 90.5 202.5 90.9 201.2 91.3 201.4 91.7 202.3 92.1 201.7 92.5 200.4 92.9 201.5 93.3 201.0 93.7 200.5 94.1 201.3 94.5 200.6 94.9 199.7 95.3 199.9 95.7 201.8 96.1 199.4 96.5 200.6 96.9 200.7 97.3 200.7 97.7 199.2 98.1 199.8 98.5 200.0 98.9 200.4 99.3 199.3 99.7 198.8 100.1 200.2 100.5 200.3 100.9 199.7 101.3 199.0 101.7 199.7 102.1 199.5 102.5 199.9 102.9 198.4 103.3 199.4 103.7 199.1 104.1 198.4 104.5 199.3 104.9 199.2 105.3 198.8 105.7 199.4 106.1 198.1 106.5 199.0 106.9 199.3 107.3 199.2 107.7 199.7 108.1 198.1 108.5 197.8 108.9 199.0 109.3 199.1 109.7 200.3 110.1 199.2 110.5 198.1 110.9 199.2 111.3 198.1 111.7 197.6 112.1 200.4 112.5 198.8 112.9 199.0 113.3 198.9 113.7 199.7 114.1 198.6 114.5 199.2 114.9 197.6 115.3 197.3 115.7 199.3 116.1 199.3 116.5 198.6 116.9 198.3 117.3 198.3 117.7 197.6 118.1 199.2 118.5 198.5 118.9 198.4 119.3 198.2 119.7 198.7 120.1 198.3 120.5 198.4 120.9 197.1 121.3 198.3 121.7 199.5 122.1 197.6 122.5 197.8 122.9 198.5 123.3 198.6 123.7 198.3 124.1 196.8 124.5 198.3 124.9 197.1 125.3 197.3 125.7 198.3 126.1 197.7 126.5 198.5 126.9 200.1 127.3 198.4 127.7 198.4 128.1 197.3 128.5 197.4 128.9 197.1 129.3 197.5 129.7 197.1 130.1 197.4 130.5 197.7 130.9 197.2 131.3 196.9 131.7 196.9 132.1 198.2 132.5 197.9 132.9 198.5 133.3 198.6 133.7 197.6 134.1 198.3 134.5 196.8 134.9 199.4 135.3 198.6 135.7 197.6 136.1 197.0 136.5 198.0 136.9 196.4 137.3 197.2 137.7 198.2 138.1 197.8 138.5 197.3 138.9 198.3 139.3 196.9 139.7 197.8 140.1 197.2 140.5 197.0 140.9 197.9 141.3 196.8 141.7 198.8 142.1 197.0 142.5 198.8 142.9 196.6 143.3 197.7 143.7 196.3 144.1 196.2 144.5 197.1 144.9 197.4 145.3 195.8 145.7 197.4 146.1 195.8 146.5 196.2 146.9 196.0 147.3 195.7 147.7 193.4 148.1 195.0 148.5 193.2 148.9 190.8 149.3 187.5 149.7 181.8 150.1 171.9 150.5 155.8 150.9 132.4 151.3 119.8 151.7 134.5 152.1 158.6 152.5 173.7 152.9 183.0 153.3 189.2 153.7 191.1 154.1 192.3 154.5 192.8 154.9 192.8 155.3 193.4 155.7 194.1 156.1 194.3 156.5 194.5 156.9 194.2 157.3 193.1 157.7 191.4 158.1 187.4 158.5 180.9 158.9 173.7 159.3 165.8 159.7 166.9 160.1 175.5 160.5 182.9 160.9 188.3 161.3 192.0 161.7 193.8 162.1 194.2 162.5 195.6 162.9 195.5 163.3 195.2 163.7 196.1 164.1 197.6 164.5 195.9 164.9 197.2 165.3 197.4 165.7 197.4 166.1 195.7 166.5 197.4 166.9 195.7 167.3 194.8 167.7 194.0 168.1 194.0 168.5 193.6 168.9 194.1 169.3 196.0 169.7 195.4 170.1 195.8 170.5 197.5 170.9 197.7 171.3 198.1 171.7 196.8 172.1 198.4 172.5 198.0 172.9 199.0 173.3 197.0 173.7 198.1 174.1 197.8 174.5 196.9 174.9 197.6 175.3 198.9 175.7 197.8 176.1 197.7 176.5 198.9 176.9 199.0 177.3 199.0 177.7 197.8 178.1 198.4 178.5 199.2 178.9 198.0 179.3 198.0 179.7 199.1 180.1 199.7 180.5 197.8 180.9 196.8 181.3 197.7 181.7 198.0 182.1 198.6 182.5 199.2 182.9 198.7 183.3 198.3 183.7 199.0 184.1 198.2 184.5 198.9 184.9 198.5 185.3 200.8 185.7 199.5 186.1 198.4 186.5 198.3 186.9 198.7 187.3 197.9 187.7 198.5 188.1 198.4 188.5 199.5 188.9 198.5 189.3 198.1 189.7 197.5 190.1 197.3 190.5 197.7 190.9 197.4 191.3 198.3 191.7 197.3 192.1 198.8 192.5 198.6 192.9 198.8 193.3 197.6 193.7 198.3 194.1 199.9 194.5 200.5 194.9 199.7 195.3 200.2 195.7 199.4 196.1 199.5 196.5 199.3 196.9 200.5 197.3 200.1 197.7 199.7 198.1 199.7 198.5 200.4 198.9 200.2 199.3 199.4 199.7 201.3 200.1 200.3 200.5 200.1 200.9 201.1 201.3 200.8 201.7 200.0 202.1 200.4 202.5 199.3 202.9 199.6 203.3 198.4 203.7 200.8 204.1 198.6 204.5 200.4 204.9 199.3 205.3 199.2 205.7 199.7 206.1 199.9 206.5 200.1 206.9 200.9 207.3 199.8 207.7 200.0 208.1 198.8 208.5 199.5 208.9 198.8 209.3 197.8 209.7 197.3 210.1 196.2 210.5 194.8 210.9 192.9 211.3 190.1 211.7 188.6 212.1 190.0 212.5 190.0 212.9 192.9 213.3 196.2 213.7 194.5 214.1 196.8 214.5 198.2 214.9 196.8 215.3 199.7 215.7 195.8 216.1 198.0 216.5 197.1 216.9 195.3 217.3 193.1 217.7 192.7 218.1 192.1 218.5 194.5 218.9 194.7 219.3 196.6 219.7 198.5 220.1 197.7 220.5 198.6 220.9 199.3 221.3 198.4 221.7 200.3 222.1 199.9 222.5 198.7 222.9 199.7 223.3 199.3 223.7 199.4 224.1 200.0 224.5 199.4 224.9 200.6 225.3 199.5 225.7 200.7 226.1 200.0 226.5 200.6 226.9 199.7 227.3 199.7 227.7 199.3 228.1 200.5 228.5 200.8 228.9 201.6 229.3 201.0 229.7 200.3 230.1 200.0 230.5 200.4 230.9 200.1 231.3 201.2 231.7 200.8 232.1 199.6 232.5 199.7 232.9 201.1 233.3 200.4 233.7 200.0 234.1 201.0 234.5 199.9 234.9 200.0 235.3 199.8 235.7 198.8 236.1 200.8 236.5 199.3 236.9 199.8 237.3 199.6 237.7 200.7 238.1 200.1 238.5 200.2 238.9 199.0 239.3 200.1 239.7 199.1 240.1 200.4 240.5 200.4 240.9 200.1 241.3 201.6 241.7 200.5 242.1 200.5 242.5 200.2 242.9 200.0 243.3 200.8 243.7 200.9 244.1 199.2 244.5 200.8 244.9 200.5 245.3 200.8 245.7 200.4 246.1 199.2 246.5 199.3 246.9 201.3 247.3 200.2 247.7 199.1 248.1 200.3 248.5 199.8 248.9 198.7 249.3 198.4 249.7 198.9 250.1 200.2 250.5 199.9 250.9 199.8 251.3 200.1 251.7 200.3 252.1 198.4 252.5 199.6 252.9 199.2 253.3 198.9 253.7 199.3 254.1 199.6 254.5 199.4 254.9 198.5 255.3 199.2 255.7 200.8 256.1 198.6 256.5 198.0 256.9 199.2 257.3 199.3 257.7 199.0 258.1 197.5 258.5 198.4 258.9 196.2 259.3 194.2 259.7 191.2 260.1 186.0 260.5 178.4 260.9 168.1 261.3 156.9 261.7 149.6 262.1 147.4 262.5 153.5 262.9 161.8 263.3 172.2 263.7 182.7 264.1 187.3 264.5 191.4 264.9 192.4 265.3 191.0 265.7 187.7 266.1 183.7 266.5 173.9 266.9 168.4 267.3 162.5 267.7 157.5 268.1 159.1 268.5 165.6 268.9 174.3 269.3 180.0 269.7 187.4 270.1 191.9 270.5 195.4 270.9 196.9 271.3 198.2 271.7 198.0 272.1 198.7 272.5 198.4 272.9 198.5 273.3 199.0 273.7 199.1 274.1 198.5 274.5 200.5 274.9 199.4 275.3 198.5 275.7 200.3 276.1 199.0 276.5 200.0 276.9 199.6 277.3 199.8 277.7 199.8 278.1 199.3 278.5 199.7 278.9 201.1 279.3 198.1 279.7 199.7 280.1 200.0 280.5 198.9 280.9 198.7 281.3 201.1 281.7 199.3 282.1 201.0 282.5 199.9 282.9 199.6 283.3 199.8 283.7 199.9 284.1 200.2 284.5 199.6 284.9 199.3 285.3 199.2 285.7 199.8 286.1 199.3 286.5 197.7 286.9 197.6 287.3 197.8 287.7 196.3 288.1 195.4 288.5 193.4 288.9 191.9 289.3 189.8 289.7 187.6 290.1 184.9 290.5 186.0 290.9 186.0 291.3 190.8 291.7 191.8 292.1 193.7 292.5 194.7 292.9 194.3 293.3 197.0 293.7 197.9 294.1 199.5 294.5 197.4 294.9 199.9 295.3 198.6 295.7 199.3 296.1 197.1 296.5 199.0 296.9 198.7 297.3 199.5 297.7 199.0 298.1 198.1 298.5 199.6 298.9 199.3 299.3 199.2 299.7 199.3 300.1 199.2 300.5 198.3 300.9 197.1 301.3 196.8 301.7 198.2 302.1 197.1 302.5 195.8 302.9 194.0 303.3 192.3 303.7 189.6 304.1 185.7 304.5 181.2 304.9 179.1 305.3 175.1 305.7 174.9 306.1 177.6 306.5 182.3 306.9 187.5 307.3 191.0 307.7 192.9 308.1 194.9 308.5 196.0 308.9 196.3 309.3 198.7 309.7 198.5 310.1 200.3 310.5 198.3 310.9 199.0 311.3 199.9 311.7 199.2 312.1 198.6 312.5 199.0 312.9 199.8 313.3 200.1 313.7 199.8 314.1 200.7 314.5 200.7 314.9 200.3 315.3 200.1 315.7 200.0 316.1 200.6 316.5 200.9 316.9 200.3 317.3 200.6 317.7 200.1 318.1 199.4 318.5 199.7 318.9 200.9 319.3 200.7 319.7 201.6 320.1 200.5 320.5 201.1 320.9 201.4 321.3 201.2 321.7 200.1 322.1 200.4 322.5 200.6 322.9 199.8 323.3 200.8 323.7 201.1 324.1 200.0 324.5 201.6 324.9 199.8 325.3 199.6 325.7 199.3 326.1 198.5 326.5 198.9 326.9 198.4 327.3 199.6 327.7 199.1 328.1 199.5 328.5 199.4 328.9 198.9 329.3 200.1 329.7 199.8 330.1 201.2 330.5 200.6 330.9 201.8 331.3 201.2 331.7 201.4 332.1 201.0 332.5 201.0 332.9 201.3 333.3 201.5 333.7 200.4 334.1 201.2 334.5 202.7 334.9 200.8 335.3 200.7 335.7 200.4 336.1 199.9 336.5 201.7 336.9 200.9 337.3 201.0 337.7 202.1 338.1 202.5 338.5 200.1 338.9 201.4 339.3 201.0 339.7 200.8 340.1 200.7 340.5 200.2 340.9 201.2 341.3 200.2 341.7 199.7 342.1 199.8 342.5 198.9 342.9 197.8 343.3 196.8 343.7 196.6 344.1 194.5 344.5 192.8 344.9 191.3 345.3 191.3 345.7 191.2 346.1 192.9 346.5 194.3 346.9 194.0 347.3 196.6 347.7 198.1 348.1 198.6 348.5 198.5 348.9 200.5 349.3 199.6 349.7 199.5 350.1 199.8 350.5 200.7 350.9 201.6 351.3 201.8 351.7 201.3 352.1 200.4 352.5 200.8 352.9 200.7 353.3 201.3 353.7 200.2 354.1 201.6 354.5 202.0 354.9 201.5 355.3 201.9 355.7 201.0 356.1 200.7 356.5 201.3 356.9 202.6 357.3 202.5" fill="none" stroke="#008080" stroke-width="1.3" stroke-linejoin="round"/>
<circle cx="123.5" cy="203.9" r="1.5" fill="#555"/>
<circle cx="125.6" cy="211.2" r="1.5" fill="#555"/>
<circle cx="180.1" cy="205.0" r="1.5" fill="#555"/>
<circle cx="180.8" cy="217.5" r="1.5" fill="#555"/>
<circle cx="197.6" cy="208.6" r="1.5" fill="#555"/>
<circle cx="200.1" cy="219.8" r="1.5" fill="#555"/>
<circle cx="328.7" cy="197.0" r="1.5" fill="#555"/>
<circle cx="327.3" cy="222.6" r="1.5" fill="#555"/>
<path d="M168.92 187.70L168.34 191.30M170.06 187.70L169.48 191.30M167.90 188.85H170.50M167.90 190.15H170.50" stroke="#555" stroke-width="0.55" fill="none"/>
<rect x="31.5" y="11" width="327.3" height="241" fill="none" stroke="#000" stroke-width="2"/>
<path d="M45.15 251V248.5 M58.80 251V248.5 M72.45 251V248.5 M86.10 251V248.5 M99.75 251V246.5 M113.40 251V248.5 M127.05 251V248.5 M140.70 251V248.5 M154.35 251V248.5 M168.00 251V246.5 M181.65 251V248.5 M195.30 251V248.5 M208.95 251V248.5 M222.60 251V248.5 M236.25 251V246.5 M249.90 251V248.5 M263.55 251V248.5 M277.20 251V248.5 M290.85 251V248.5 M304.50 251V246.5 M318.15 251V248.5 M331.80 251V248.5 M345.45 251V248.5" stroke="#000" stroke-width="1.4"/>
<text class="b" x="31.50" y="268.6" font-size="15" text-anchor="middle" font-family="Liberation Serif">10</text>
<text class="b" x="99.75" y="268.6" font-size="15" text-anchor="middle" font-family="Liberation Serif">20</text>
<text class="b" x="168.00" y="268.6" font-size="15" text-anchor="middle" font-family="Liberation Serif">30</text>
<text class="b" x="236.25" y="268.6" font-size="15" text-anchor="middle" font-family="Liberation Serif">40</text>
<text class="b" x="304.50" y="268.6" font-size="15" text-anchor="middle" font-family="Liberation Serif">50</text>
<text class="b" y="287.9" font-size="19" font-family="Liberation Serif"><tspan x="159.2">2</tspan><tspan x="169.6" font-style="italic" font-size="21">θ</tspan><tspan x="181.5">(degree)</tspan></text>
<text class="b" transform="translate(16.6 216.3) rotate(-90)" font-size="19.8" font-family="Liberation Serif">Intensity (amu.unit.)</text>
<text class="b" y="32.5" font-size="17.8" font-family="Liberation Serif"><tspan x="44.6">FeTe</tspan><tspan x="80.9" y="38.9" font-size="9.6">1-x</tspan><tspan x="93.5" y="32.4" font-size="17">S</tspan><tspan x="102.6" y="38.9" font-size="9.6">x</tspan><tspan x="116" y="31.8" font-size="17">Powder XRD</tspan></text>
<line x1="42" x2="75" y1="58.0" y2="58.0" stroke="#a0a0a0" stroke-width="1.1"/>
<text class="b" x="79" y="63.1" font-size="15" font-family="Liberation Serif">x=0.00</text>
<line x1="42" x2="75" y1="76.4" y2="76.4" stroke="#ff8888" stroke-width="1.1"/>
<text class="b" x="79" y="81.5" font-size="15" font-family="Liberation Serif">x=0.05</text>
<line x1="42" x2="75" y1="94.8" y2="94.8" stroke="#8888ff" stroke-width="1.1"/>
<text class="b" x="79" y="99.9" font-size="15" font-family="Liberation Serif">x=0.10</text>
<line x1="42" x2="75" y1="113.2" y2="113.2" stroke="#78c4c0" stroke-width="1.1"/>
<text class="b" x="79" y="118.3" font-size="15" font-family="Liberation Serif">x=0.25</text>
<path d="M44.00 121.10V125.50M42.09 122.20L45.91 124.40M42.09 124.40L45.91 122.20" stroke="#333" stroke-width="1.0"/>
<text x="51.3" y="127" font-size="10.5" font-family="Liberation Serif">FeTe<tspan font-size="7.5" dy="3">2</tspan></text>
<path d="M43.37 139.20L42.44 145.00M44.96 139.20L44.03 145.00M41.90 141.06H45.50M41.90 143.14H45.50" stroke="#222" stroke-width="0.65" fill="none"/>
<text x="51.3" y="146" font-size="10.5" font-family="Liberation Serif">Fe<tspan font-size="7.5" dy="3">3</tspan><tspan dy="-3">O</tspan><tspan font-size="7.5" dy="3">4</tspan></text>
<text class="b" transform="translate(56.3 185.0) rotate(-90)" font-size="15.5" font-family="Liberation Serif">(001)</text>
<text class="b" transform="translate(144.6 160.5) rotate(-90)" font-size="15.5" font-family="Liberation Serif">(101)</text>
<text class="b" transform="translate(166.8 162.0) rotate(-90)" font-size="15.5" font-family="Liberation Serif">(002)</text>
<text class="b" transform="translate(191.5 196.0) rotate(-90)" font-size="15.5" font-family="Liberation Serif">(110)</text>
<text class="b" transform="translate(213.8 186.0) rotate(-90)" font-size="15.5" font-family="Liberation Serif">(111)</text>
<text class="b" transform="translate(228.8 191.0) rotate(-90)" font-size="15.5" font-family="Liberation Serif">(102)</text>
<text class="b" transform="translate(254.5 172.2) rotate(-90)" font-size="15.5" font-family="Liberation Serif">(003)</text>
<text class="b" transform="translate(278.3 160.1) rotate(-90)" font-size="15.5" font-family="Liberation Serif">(112)</text>
<text class="b" transform="translate(293.7 185.4) rotate(-90)" font-size="15.5" font-family="Liberation Serif">(200)</text>
<text class="b" transform="translate(311.2 174.7) rotate(-90)" font-size="15.5" font-family="Liberation Serif">(103)</text>
<text class="b" transform="translate(351.0 192.2) rotate(-90)" font-size="15.5" font-family="Liberation Serif">(211)</text>
<path d="M232.8 94.1L233.2 94.8 233.6 94.1 234.0 94.9 234.4 94.4 234.8 93.9 235.2 94.5 235.6 93.7 236.0 93.6 236.4 93.3 236.8 94.1 237.2 93.9 237.6 93.8 238.0 93.7 238.4 94.4 238.8 93.6 239.2 93.4 239.6 94.2 240.0 94.3 240.4 93.8 240.8 92.8 241.2 93.3 241.6 93.8 242.0 93.5 242.4 94.1 242.8 92.8 243.2 93.6 243.6 93.0 244.0 93.9 244.4 93.2 244.8 93.6 245.2 92.9 245.6 92.5 246.0 92.6 246.4 92.7 246.8 92.5 247.2 93.5 247.6 93.5 248.0 93.0 248.4 92.3 248.8 92.7 249.2 92.4 249.6 93.3 250.0 92.8 250.4 92.8 250.8 92.4 251.2 91.6 251.6 92.1 252.0 91.9 252.4 92.5 252.8 92.4 253.2 91.9 253.6 92.0 254.0 92.9 254.4 91.7 254.8 91.6 255.2 91.9 255.6 91.6 256.0 91.6 256.4 92.0 256.8 92.4 257.2 90.8 257.6 91.5 258.0 91.4 258.4 91.3 258.8 91.1 259.2 90.9 259.6 91.4 260.0 90.7 260.4 90.7 260.8 90.6 261.2 90.5 261.6 90.3 262.0 90.6 262.4 90.0 262.8 89.8 263.2 89.4 263.6 88.7 264.0 88.3 264.4 87.7 264.8 87.6 265.2 86.5 265.6 85.5 266.0 85.0 266.4 83.9 266.8 81.4 267.2 81.3 267.6 78.6 268.0 76.5 268.4 74.8 268.8 72.0 269.2 69.3 269.6 68.2 270.0 64.5 270.4 63.0 270.8 61.9 271.2 60.0 271.6 60.0 272.0 60.4 272.4 62.0 272.8 61.9 273.2 64.0 273.6 66.5 274.0 68.5 274.4 70.3 274.8 73.4 275.2 75.6 275.6 77.9 276.0 80.2 276.4 82.0 276.8 83.3 277.2 84.6 277.6 85.1 278.0 86.5 278.4 87.5 278.8 87.8 279.2 88.6 279.6 88.5 280.0 89.9 280.4 90.4 280.8 89.5 281.2 90.0 281.6 89.8 282.0 90.6 282.4 90.3 282.8 90.2 283.2 90.1 283.6 90.3 284.0 89.9 284.4 90.7 284.8 90.1 285.2 90.6 285.6 90.5 286.0 90.9 286.4 90.4 286.8 90.8 287.2 89.9 287.6 90.6 288.0 90.2 288.4 90.3 288.8 90.2 289.2 90.5 289.6 89.0 290.0 90.0 290.4 89.0 290.8 90.0 291.2 88.4 291.6 88.5 292.0 87.9 292.4 89.1 292.8 87.4 293.2 87.6 293.6 86.8 294.0 85.7 294.4 85.7 294.8 85.6 295.2 84.5 295.6 84.3 296.0 82.9 296.4 82.2 296.8 81.2 297.2 80.7 297.6 80.5 298.0 79.0 298.4 78.0 298.8 76.9 299.2 76.0 299.6 76.3 300.0 74.6 300.4 74.2 300.8 74.2 301.2 73.8 301.6 74.7 302.0 72.8 302.4 74.3 302.8 74.8 303.2 74.4 303.6 75.2 304.0 76.4 304.4 77.7 304.8 77.3 305.2 77.9 305.6 79.9 306.0 81.1 306.4 81.1 306.8 81.2 307.2 83.7 307.6 83.8 308.0 85.2 308.4 85.4 308.8 85.9 309.2 86.5 309.6 88.0 310.0 88.5 310.4 87.4 310.8 88.4 311.2 90.0 311.6 89.4 312.0 89.3 312.4 90.2 312.8 90.3 313.2 90.6 313.6 90.6 314.0 90.8 314.4 90.9 314.8 91.4 315.2 91.0 315.6 91.3 316.0 91.4 316.4 92.2 316.8 91.8 317.2 91.6 317.6 92.0 318.0 92.0 318.4 92.3 318.8 92.1 319.2 92.7 319.6 92.5 320.0 92.0 320.4 91.8 320.8 92.4 321.2 92.3 321.6 92.0 322.0 91.4 322.4 91.3 322.8 92.3 323.2 92.5 323.6 92.6 324.0 91.6 324.4 92.7 324.8 92.0 325.2 92.5 325.6 92.5 326.0 92.0 326.4 92.1 326.8 91.4 327.2 92.0 327.6 91.6 328.0 92.6 328.4 92.5 328.8 92.9 329.2 92.6 329.6 92.2 330.0 92.7 330.4 92.3 330.8 92.8 331.2 92.7 331.6 92.1 332.0 92.6 332.4 92.6 332.8 92.5 333.2 93.0 333.6 93.4 334.0 92.5 334.4 92.5 334.8 91.7 335.2 92.6 335.6 92.5 336.0 91.8 336.4 92.9 336.8 93.0 337.2 92.4 337.6 92.6 338.0 92.4 338.4 93.2 338.8 92.1 339.2 92.7 339.6 93.7 340.0 92.9 340.4 93.1 340.8 92.8 341.2 92.4 341.6 92.9 342.0 93.1 342.4 92.5 342.8 93.1 343.2 93.5 343.6 93.5 344.0 92.3 344.4 92.6 344.8 92.3 345.2 93.5 345.6 93.3 346.0 93.4 346.4 92.7 346.8 92.6 347.2 93.1 347.6 93.2 348.0 92.7 348.4 93.2 348.8 93.4 349.2 93.3 349.6 92.7 350.0 92.2 350.4 93.1" fill="none" stroke="#000" stroke-width="1.6" stroke-linejoin="round"/>
<path d="M232.8 84.1L233.2 83.9 233.6 83.8 234.0 83.7 234.4 84.3 234.8 83.9 235.2 84.0 235.6 83.5 236.0 83.6 236.4 83.9 236.8 83.4 237.2 83.2 237.6 83.6 238.0 84.3 238.4 83.8 238.8 84.4 239.2 83.7 239.6 83.6 240.0 83.1 240.4 83.4 240.8 84.3 241.2 83.8 241.6 83.9 242.0 83.9 242.4 83.6 242.8 83.4 243.2 83.6 243.6 83.8 244.0 83.7 244.4 83.7 244.8 83.5 245.2 83.1 245.6 83.3 246.0 82.9 246.4 83.8 246.8 82.4 247.2 83.2 247.6 84.4 248.0 83.1 248.4 82.7 248.8 83.2 249.2 83.8 249.6 83.1 250.0 83.4 250.4 83.2 250.8 82.9 251.2 84.5 251.6 83.1 252.0 82.8 252.4 82.8 252.8 83.1 253.2 83.1 253.6 83.2 254.0 82.9 254.4 82.2 254.8 83.0 255.2 82.6 255.6 82.5 256.0 81.8 256.4 82.1 256.8 81.9 257.2 82.1 257.6 81.3 258.0 81.9 258.4 81.8 258.8 81.1 259.2 81.2 259.6 80.9 260.0 81.6 260.4 79.9 260.8 80.7 261.2 80.0 261.6 80.4 262.0 80.8 262.4 80.0 262.8 80.2 263.2 79.6 263.6 80.6 264.0 80.0 264.4 79.9 264.8 78.5 265.2 78.5 265.6 79.3 266.0 78.5 266.4 78.3 266.8 78.2 267.2 77.2 267.6 77.6 268.0 76.7 268.4 76.3 268.8 74.9 269.2 74.5 269.6 72.7 270.0 72.1 270.4 70.6 270.8 68.6 271.2 66.4 271.6 64.2 272.0 60.2 272.4 59.1 272.8 55.9 273.2 53.2 273.6 50.1 274.0 46.9 274.4 44.6 274.8 42.9 275.2 41.3 275.6 39.0 276.0 38.0 276.4 38.9 276.8 38.4 277.2 40.8 277.6 41.6 278.0 43.3 278.4 46.6 278.8 49.7 279.2 51.1 279.6 55.3 280.0 57.3 280.4 60.9 280.8 62.6 281.2 64.4 281.6 67.6 282.0 69.7 282.4 71.9 282.8 73.3 283.2 74.1 283.6 74.7 284.0 75.5 284.4 76.4 284.8 76.7 285.2 77.5 285.6 76.9 286.0 78.4 286.4 78.6 286.8 79.9 287.2 79.3 287.6 78.8 288.0 79.4 288.4 78.6 288.8 79.0 289.2 78.4 289.6 79.9 290.0 79.5 290.4 78.7 290.8 79.1 291.2 79.5 291.6 79.2 292.0 79.0 292.4 78.3 292.8 78.2 293.2 78.4 293.6 78.5 294.0 77.4 294.4 77.0 294.8 77.7 295.2 76.4 295.6 76.9 296.0 76.1 296.4 75.9 296.8 75.8 297.2 74.8 297.6 74.2 298.0 72.8 298.4 72.3 298.8 72.2 299.2 72.0 299.6 71.2 300.0 70.9 300.4 69.3 300.8 68.5 301.2 68.2 301.6 67.1 302.0 66.5 302.4 65.4 302.8 65.8 303.2 64.5 303.6 64.8 304.0 63.7 304.4 64.6 304.8 63.6 305.2 64.4 305.6 63.5 306.0 64.2 306.4 65.2 306.8 64.7 307.2 65.6 307.6 65.9 308.0 65.7 308.4 67.5 308.8 68.3 309.2 68.3 309.6 69.8 310.0 69.9 310.4 70.6 310.8 71.8 311.2 72.2 311.6 74.2 312.0 73.2 312.4 74.9 312.8 75.6 313.2 74.9 313.6 75.5 314.0 77.1 314.4 77.1 314.8 77.9 315.2 78.7 315.6 78.4 316.0 78.4 316.4 78.0 316.8 79.6 317.2 79.3 317.6 80.1 318.0 80.3 318.4 79.7 318.8 81.3 319.2 81.2 319.6 81.2 320.0 80.4 320.4 80.9 320.8 80.9 321.2 81.0 321.6 80.8 322.0 81.5 322.4 81.5 322.8 81.6 323.2 81.3 323.6 82.1 324.0 81.7 324.4 80.4 324.8 81.4 325.2 81.7 325.6 82.2 326.0 81.6 326.4 81.7 326.8 81.5 327.2 82.2 327.6 81.7 328.0 81.6 328.4 81.6 328.8 82.2 329.2 81.8 329.6 81.3 330.0 82.3 330.4 81.7 330.8 82.2 331.2 82.3 331.6 82.7 332.0 82.6 332.4 81.9 332.8 82.1 333.2 81.6 333.6 83.0 334.0 82.4 334.4 82.9 334.8 82.1 335.2 81.4 335.6 83.0 336.0 82.4 336.4 82.4 336.8 82.4 337.2 82.7 337.6 82.6 338.0 81.7 338.4 82.9 338.8 82.2 339.2 82.2 339.6 83.2 340.0 82.9 340.4 82.3 340.8 81.7 341.2 82.6 341.6 82.8 342.0 82.5 342.4 82.0 342.8 82.2 343.2 82.0 343.6 82.7 344.0 83.0 344.4 83.1 344.8 82.3 345.2 82.8 345.6 82.9 346.0 82.5 346.4 82.6 346.8 83.7 347.2 82.8 347.6 83.1 348.0 82.6 348.4 82.8 348.8 82.0 349.2 82.8 349.6 83.4 350.0 83.8 350.4 83.4" fill="none" stroke="#f00" stroke-width="1.6" stroke-linejoin="round"/>
<path d="M232.8 77.6L233.2 77.3 233.6 77.0 234.0 77.2 234.4 77.5 234.8 76.9 235.2 77.7 235.6 76.8 236.0 76.4 236.4 76.7 236.8 76.4 237.2 76.5 237.6 77.6 238.0 77.0 238.4 77.2 238.8 77.6 239.2 77.6 239.6 76.8 240.0 77.6 240.4 77.2 240.8 77.0 241.2 77.2 241.6 76.3 242.0 76.6 242.4 76.9 242.8 77.2 243.2 76.7 243.6 76.8 244.0 77.3 244.4 77.5 244.8 77.2 245.2 77.4 245.6 76.6 246.0 76.6 246.4 76.9 246.8 76.6 247.2 76.5 247.6 77.4 248.0 76.6 248.4 76.2 248.8 76.8 249.2 77.4 249.6 76.6 250.0 77.1 250.4 76.3 250.8 76.3 251.2 76.2 251.6 76.4 252.0 77.2 252.4 75.9 252.8 77.1 253.2 75.9 253.6 76.2 254.0 76.7 254.4 76.5 254.8 76.4 255.2 75.4 255.6 76.2 256.0 75.5 256.4 77.0 256.8 75.6 257.2 75.7 257.6 75.0 258.0 75.2 258.4 74.7 258.8 75.6 259.2 74.9 259.6 75.1 260.0 74.4 260.4 74.4 260.8 75.1 261.2 73.9 261.6 73.4 262.0 74.2 262.4 73.3 262.8 73.5 263.2 73.9 263.6 72.9 264.0 73.4 264.4 72.4 264.8 73.1 265.2 72.7 265.6 71.7 266.0 71.4 266.4 70.8 266.8 70.8 267.2 70.7 267.6 69.0 268.0 69.3 268.4 67.6 268.8 67.0 269.2 65.6 269.6 66.4 270.0 64.3 270.4 63.3 270.8 61.6 271.2 61.1 271.6 58.4 272.0 58.0 272.4 57.6 272.8 55.1 273.2 54.1 273.6 53.2 274.0 51.5 274.4 51.0 274.8 50.7 275.2 49.9 275.6 49.7 276.0 49.4 276.4 49.9 276.8 50.3 277.2 51.7 277.6 52.2 278.0 52.9 278.4 53.0 278.8 55.7 279.2 57.1 279.6 57.7 280.0 58.5 280.4 60.3 280.8 62.5 281.2 62.8 281.6 64.3 282.0 65.7 282.4 67.2 282.8 67.5 283.2 68.3 283.6 68.9 284.0 70.6 284.4 70.9 284.8 70.9 285.2 70.7 285.6 71.4 286.0 72.3 286.4 72.0 286.8 73.0 287.2 72.9 287.6 73.0 288.0 73.3 288.4 73.3 288.8 72.8 289.2 73.0 289.6 74.3 290.0 72.6 290.4 72.9 290.8 73.6 291.2 73.0 291.6 72.6 292.0 72.2 292.4 73.0 292.8 73.0 293.2 73.0 293.6 72.2 294.0 72.5 294.4 71.3 294.8 71.6 295.2 70.9 295.6 71.0 296.0 70.9 296.4 70.7 296.8 69.4 297.2 70.0 297.6 68.8 298.0 68.1 298.4 68.0 298.8 67.0 299.2 67.1 299.6 66.8 300.0 66.1 300.4 65.9 300.8 65.1 301.2 64.8 301.6 63.7 302.0 64.0 302.4 63.2 302.8 63.0 303.2 62.9 303.6 62.8 304.0 61.8 304.4 61.7 304.8 62.3 305.2 62.6 305.6 62.7 306.0 63.0 306.4 63.4 306.8 63.3 307.2 63.4 307.6 63.3 308.0 63.8 308.4 64.4 308.8 65.2 309.2 65.7 309.6 66.1 310.0 66.6 310.4 67.4 310.8 67.8 311.2 68.3 311.6 68.8 312.0 68.9 312.4 69.2 312.8 70.3 313.2 70.8 313.6 70.9 314.0 71.2 314.4 72.8 314.8 71.8 315.2 72.4 315.6 72.9 316.0 72.5 316.4 73.4 316.8 74.4 317.2 74.2 317.6 74.3 318.0 74.5 318.4 74.4 318.8 74.9 319.2 74.6 319.6 74.6 320.0 74.9 320.4 75.4 320.8 75.2 321.2 75.5 321.6 74.3 322.0 75.9 322.4 76.4 322.8 76.0 323.2 75.3 323.6 75.2 324.0 75.7 324.4 75.2 324.8 76.0 325.2 75.5 325.6 76.2 326.0 76.4 326.4 74.9 326.8 76.0 327.2 75.5 327.6 75.2 328.0 75.6 328.4 75.8 328.8 76.4 329.2 75.3 329.6 76.5 330.0 76.9 330.4 76.3 330.8 76.3 331.2 76.1 331.6 75.6 332.0 76.4 332.4 76.3 332.8 76.5 333.2 77.3 333.6 76.5 334.0 76.4 334.4 76.9 334.8 75.6 335.2 75.8 335.6 76.1 336.0 76.0 336.4 76.6 336.8 76.2 337.2 77.1 337.6 77.1 338.0 76.7 338.4 76.2 338.8 76.7 339.2 76.8 339.6 76.0 340.0 76.6 340.4 76.8 340.8 76.6 341.2 77.2 341.6 77.1 342.0 76.2 342.4 76.6 342.8 76.2 343.2 76.9 343.6 76.2 344.0 77.0 344.4 76.8 344.8 77.1 345.2 76.6 345.6 76.0 346.0 77.5 346.4 76.6 346.8 77.3 347.2 76.9 347.6 77.1 348.0 77.6 348.4 76.9 348.8 77.4 349.2 76.1 349.6 77.2 350.0 76.7 350.4 76.8" fill="none" stroke="#00f" stroke-width="1.6" stroke-linejoin="round"/>
<path d="M232.8 67.4L233.2 67.6 233.6 68.2 234.0 66.6 234.4 67.4 234.8 67.1 235.2 67.9 235.6 67.2 236.0 67.6 236.4 67.2 236.8 67.7 237.2 67.9 237.6 67.2 238.0 67.4 238.4 66.8 238.8 67.5 239.2 67.8 239.6 67.1 240.0 67.9 240.4 66.5 240.8 66.6 241.2 66.8 241.6 67.2 242.0 67.4 242.4 67.3 242.8 67.3 243.2 67.7 243.6 67.2 244.0 66.8 244.4 66.8 244.8 68.3 245.2 66.3 245.6 67.3 246.0 68.0 246.4 67.6 246.8 67.0 247.2 67.3 247.6 67.7 248.0 67.9 248.4 66.9 248.8 67.7 249.2 67.4 249.6 67.8 250.0 67.9 250.4 67.2 250.8 66.7 251.2 67.5 251.6 68.1 252.0 67.6 252.4 67.4 252.8 68.4 253.2 66.8 253.6 67.7 254.0 67.0 254.4 67.3 254.8 67.3 255.2 67.9 255.6 66.7 256.0 66.7 256.4 66.1 256.8 66.9 257.2 66.4 257.6 66.7 258.0 65.9 258.4 66.1 258.8 66.6 259.2 65.9 259.6 66.1 260.0 66.0 260.4 65.4 260.8 64.8 261.2 65.8 261.6 65.3 262.0 65.5 262.4 64.0 262.8 64.0 263.2 63.7 263.6 64.1 264.0 64.8 264.4 64.4 264.8 63.9 265.2 63.8 265.6 64.0 266.0 63.4 266.4 63.5 266.8 63.2 267.2 61.9 267.6 62.4 268.0 62.9 268.4 61.9 268.8 61.7 269.2 61.2 269.6 61.0 270.0 61.6 270.4 60.9 270.8 60.5 271.2 59.6 271.6 60.9 272.0 60.4 272.4 60.6 272.8 62.0 273.2 62.0 273.6 60.9 274.0 62.2 274.4 61.9 274.8 61.2 275.2 61.5 275.6 60.0 276.0 59.5 276.4 58.5 276.8 57.6 277.2 57.2 277.6 54.6 278.0 52.9 278.4 50.9 278.8 49.2 279.2 46.5 279.6 44.5 280.0 41.2 280.4 38.3 280.8 36.3 281.2 34.4 281.6 32.3 282.0 31.7 282.4 31.9 282.8 31.0 283.2 32.1 283.6 34.2 284.0 35.2 284.4 37.4 284.8 39.8 285.2 43.1 285.6 45.8 286.0 48.0 286.4 50.5 286.8 53.3 287.2 55.0 287.6 55.8 288.0 57.9 288.4 59.2 288.8 60.5 289.2 61.0 289.6 61.5 290.0 62.1 290.4 61.9 290.8 63.1 291.2 63.1 291.6 63.8 292.0 63.3 292.4 63.6 292.8 63.5 293.2 63.5 293.6 64.4 294.0 63.9 294.4 64.3 294.8 63.7 295.2 64.2 295.6 63.4 296.0 63.9 296.4 63.9 296.8 64.3 297.2 64.1 297.6 63.8 298.0 64.1 298.4 63.7 298.8 63.6 299.2 63.5 299.6 62.7 300.0 62.2 300.4 62.0 300.8 61.1 301.2 60.7 301.6 60.2 302.0 59.1 302.4 57.5 302.8 55.8 303.2 55.0 303.6 53.5 304.0 52.5 304.4 50.1 304.8 48.5 305.2 47.1 305.6 44.8 306.0 43.3 306.4 42.6 306.8 41.1 307.2 39.6 307.6 38.7 308.0 37.7 308.4 38.3 308.8 38.4 309.2 39.1 309.6 39.8 310.0 41.3 310.4 42.7 310.8 44.6 311.2 46.9 311.6 48.2 312.0 49.1 312.4 51.1 312.8 52.5 313.2 54.5 313.6 56.5 314.0 57.8 314.4 58.6 314.8 60.0 315.2 60.5 315.6 61.0 316.0 61.7 316.4 62.6 316.8 64.1 317.2 63.3 317.6 64.8 318.0 65.1 318.4 64.7 318.8 65.0 319.2 64.9 319.6 65.3 320.0 65.7 320.4 65.5 320.8 66.1 321.2 66.2 321.6 65.9 322.0 66.0 322.4 65.9 322.8 66.1 323.2 65.5 323.6 66.2 324.0 66.2 324.4 65.7 324.8 67.1 325.2 65.8 325.6 65.9 326.0 66.4 326.4 65.4 326.8 66.0 327.2 65.7 327.6 66.0 328.0 66.4 328.4 66.6 328.8 67.0 329.2 66.9 329.6 67.1 330.0 66.8 330.4 66.4 330.8 67.1 331.2 66.4 331.6 66.4 332.0 67.4 332.4 67.1 332.8 66.8 333.2 67.1 333.6 67.2 334.0 66.2 334.4 66.8 334.8 66.3 335.2 66.9 335.6 66.6 336.0 67.5 336.4 67.2 336.8 66.6 337.2 67.0 337.6 66.4 338.0 67.0 338.4 67.3 338.8 67.2 339.2 66.2 339.6 66.9 340.0 67.3 340.4 67.3 340.8 67.7 341.2 66.6 341.6 67.4 342.0 66.9 342.4 67.3 342.8 67.4 343.2 67.6 343.6 67.0 344.0 67.4 344.4 66.8 344.8 66.7 345.2 67.6 345.6 67.3 346.0 66.6 346.4 67.0 346.8 67.4 347.2 68.1 347.6 67.9 348.0 67.8 348.4 66.7 348.8 67.4 349.2 67.7 349.6 67.7 350.0 67.7 350.4 67.4" fill="none" stroke="#008080" stroke-width="1.6" stroke-linejoin="round"/>
<path d="M232.2 15.2H350.8V101.6" fill="none" stroke="#888" stroke-width="1.2"/>
<path d="M232.2 15.2V101.6H350.8" fill="none" stroke="#111" stroke-width="1.1"/>
<path d="M234.98 101.5V100.0 M237.96 101.5V100.0 M240.94 101.5V100.0 M243.92 101.5V100.0 M246.90 101.5V100.0 M249.88 101.5V100.0 M252.86 101.5V100.0 M255.84 101.5V100.0 M258.82 101.5V100.0 M261.80 101.5V98.5 M264.78 101.5V100.0 M267.76 101.5V100.0 M270.74 101.5V100.0 M273.72 101.5V100.0 M276.70 101.5V100.0 M279.68 101.5V100.0 M282.66 101.5V100.0 M285.64 101.5V100.0 M288.62 101.5V100.0 M291.60 101.5V98.5 M294.58 101.5V100.0 M297.56 101.5V100.0 M300.54 101.5V100.0 M303.52 101.5V100.0 M306.50 101.5V100.0 M309.48 101.5V100.0 M312.46 101.5V100.0 M315.44 101.5V100.0 M318.42 101.5V100.0 M321.40 101.5V98.5 M324.38 101.5V100.0 M327.36 101.5V100.0 M330.34 101.5V100.0 M333.32 101.5V100.0 M336.30 101.5V100.0 M339.28 101.5V100.0 M342.26 101.5V100.0 M345.24 101.5V100.0 M348.22 101.5V100.0 M232.5 98.9H234.0 M232.5 96.0H234.0 M232.5 93.1H234.0 M232.5 90.2H234.0 M232.5 87.3H234.0 M232.5 84.4H234.0 M232.5 81.5H234.0 M232.5 78.6H234.0 M232.5 75.7H234.0 M232.5 72.8H234.0 M232.5 69.9H234.0 M232.5 67.0H234.0 M232.5 64.1H234.0 M232.5 61.2H234.0 M232.5 58.3H234.0 M232.5 55.4H234.0 M232.5 52.5H234.0 M232.5 49.6H234.0 M232.5 46.7H234.0 M232.5 43.8H234.0 M232.5 40.9H234.0 M232.5 38.0H234.0 M232.5 35.1H234.0 M232.5 32.2H234.0 M232.5 29.3H234.0 M232.5 26.4H234.0 M232.5 23.5H234.0 M232.5 20.6H234.0 M232.5 17.7H234.0" stroke="#111" stroke-width="0.9"/>
<text x="232.00" y="109.6" font-size="8" text-anchor="middle" font-family="Liberation Serif">42</text>
<text x="261.80" y="109.6" font-size="8" text-anchor="middle" font-family="Liberation Serif">43</text>
<text x="291.60" y="109.6" font-size="8" text-anchor="middle" font-family="Liberation Serif">44</text>
<text x="321.40" y="109.6" font-size="8" text-anchor="middle" font-family="Liberation Serif">45</text>
<text x="351.20" y="109.6" font-size="8" text-anchor="middle" font-family="Liberation Serif">46</text>
<text y="119" font-size="9.8" font-family="Liberation Serif"><tspan x="272.6">2</tspan><tspan x="277.6" font-style="italic">θ</tspan><tspan x="283.6">(degree)</tspan></text>
<text transform="translate(226.6 97.5) rotate(-90)" font-size="9.9" font-family="Liberation Serif">Intensity (amu.unit.)</text>
<text y="23.4" font-size="8.4" font-family="Liberation Serif"><tspan x="307.6">FeTe</tspan><tspan x="323.8" y="26.2" font-size="4.6">1-x</tspan><tspan x="328.1" y="23.4">S</tspan><tspan x="333.2" y="26.2" font-size="4.6">x</tspan></text>
<text x="307.5" y="35.4" font-size="8.4" textLength="41" lengthAdjust="spacingAndGlyphs" font-family="Liberation Serif">Powder XRD</text>
<text transform="translate(269.6 52.9) rotate(-90)" font-size="9.4" textLength="19.2" lengthAdjust="spacingAndGlyphs" font-family="Liberation Serif">(003)</text>
<text transform="translate(322.6 55.9) rotate(-90)" font-size="9.4" textLength="19.2" lengthAdjust="spacingAndGlyphs" font-family="Liberation Serif">(112)</text>
<text class="b" x="-0.5" y="325.8" font-size="18" font-family="Liberation Serif">(b)</text>
<path d="M58.2 372.9L58.6 372.6 58.9 371.1 59.3 370.3 59.6 373.0 60.0 370.6 60.3 372.1 60.7 372.7 61.0 370.1 61.4 371.2 61.7 370.6 62.1 371.3 62.4 371.1 62.8 372.5 63.1 371.2 63.5 370.7 63.8 371.6 64.2 370.3 64.5 370.2 64.9 372.5 65.2 369.7 65.6 370.0 65.9 370.4 66.3 369.4 66.6 368.4 67.0 371.2 67.3 369.5 67.7 369.7 68.0 369.8 68.4 369.2 68.7 369.1 69.1 370.1 69.4 372.1 69.8 370.6 70.1 370.5 70.5 368.5 70.8 369.7 71.2 368.7 71.5 370.4 71.9 369.4 72.2 369.6 72.6 369.5 72.9 369.0 73.3 368.1 73.6 369.9 74.0 368.1 74.3 368.2 74.7 369.0 75.0 368.6 75.4 369.4 75.7 370.0 76.1 369.3 76.4 369.2 76.8 369.0 77.1 369.6 77.5 367.1 77.8 369.1 78.2 367.8 78.5 367.4 78.9 368.4 79.2 367.9 79.6 368.5 79.9 368.5 80.3 364.0 80.6 361.1 81.0 352.5 81.3 342.4 81.7 349.0 82.0 359.1 82.4 363.8 82.7 366.0 83.1 368.1 83.4 368.5 83.8 367.1 84.1 367.6 84.5 368.1 84.8 366.3 85.2 367.5 85.5 369.3 85.9 369.8 86.2 367.7 86.6 369.4 86.9 367.3 87.3 367.0 87.6 365.7 88.0 368.5 88.3 367.3 88.7 369.7 89.0 367.8 89.4 367.7 89.7 365.8 90.1 368.8 90.4 367.0 90.8 367.2 91.1 365.3 91.5 368.1 91.8 368.1 92.2 366.6 92.5 367.2 92.9 367.4 93.2 367.9 93.6 367.0 93.9 368.5 94.3 366.6 94.6 366.3 95.0 366.4 95.3 364.4 95.7 366.0 96.0 367.5 96.4 366.8 96.7 365.8 97.1 366.8 97.4 364.6 97.8 366.1 98.1 366.8 98.5 366.9 98.8 365.6 99.2 367.0 99.5 367.9 99.9 365.7 100.2 366.7 100.6 364.6 100.9 364.2 101.3 366.5 101.6 365.9 102.0 366.0 102.3 365.3 102.7 365.5 103.0 366.4 103.4 367.2 103.7 365.4 104.1 364.1 104.4 366.7 104.8 366.0 105.1 366.0 105.5 365.5 105.8 367.4 106.2 365.4 106.5 365.7 106.9 363.5 107.2 364.6 107.6 364.5 107.9 365.0 108.3 365.3 108.6 364.3 109.0 366.5 109.3 363.9 109.7 364.4 110.0 365.0 110.4 363.6 110.7 365.2 111.1 365.2 111.4 364.3 111.8 366.3 112.1 364.6 112.5 364.7 112.8 363.5 113.2 362.9 113.5 363.7 113.9 364.0 114.2 363.8 114.6 364.9 114.9 362.0 115.3 363.1 115.6 362.4 116.0 365.2 116.3 363.4 116.7 363.4 117.0 362.9 117.4 364.6 117.7 363.4 118.1 363.9 118.4 361.8 118.8 364.7 119.1 363.9 119.5 364.0 119.8 364.6 120.2 363.3 120.5 363.3 120.9 364.1 121.2 363.8 121.6 363.2 121.9 363.4 122.3 362.9 122.6 364.0 123.0 364.2 123.3 363.4 123.7 365.1 124.0 362.0 124.4 363.1 124.7 364.9 125.1 362.9 125.4 361.9 125.8 364.6 126.1 363.8 126.5 362.2 126.8 364.0 127.2 362.4 127.5 362.1 127.9 363.1 128.2 362.8 128.6 362.3 128.9 362.9 129.3 362.3 129.6 363.3 130.0 363.2 130.3 363.9 130.7 362.8 131.0 362.0 131.4 362.0 131.7 362.9 132.1 364.5 132.4 363.9 132.8 362.6 133.1 364.0 133.5 362.1 133.8 364.0 134.2 362.8 134.5 363.8 134.9 363.6 135.2 362.8 135.6 363.4 135.9 362.1 136.3 363.0 136.6 364.0 137.0 366.7 137.3 363.7 137.7 363.1 138.0 362.1 138.4 364.0 138.7 361.5 139.1 362.3 139.4 363.3 139.8 361.9 140.1 364.3 140.5 363.9 140.8 362.4 141.2 362.4 141.5 361.7 141.9 361.6 142.2 363.3 142.6 363.4 142.9 363.2 143.3 363.1 143.6 362.3 144.0 363.2 144.3 361.5 144.7 362.8 145.0 364.1 145.4 364.0 145.7 362.3 146.1 362.4 146.4 364.0 146.8 364.3 147.1 361.3 147.5 362.3 147.8 362.9 148.2 363.7 148.5 361.8 148.9 363.2 149.2 362.3 149.6 364.6 149.9 362.8 150.3 362.3 150.6 362.1 151.0 363.3 151.3 362.8 151.7 361.1 152.0 362.1 152.4 360.5 152.7 360.6 153.1 359.3 153.4 357.1 153.8 351.6 154.1 339.2 154.5 325.7 154.8 321.0 155.2 331.4 155.5 345.2 155.9 356.3 156.2 357.7 156.6 359.2 156.9 362.1 157.3 362.3 157.6 362.8 158.0 361.7 158.3 360.8 158.7 361.4 159.0 362.1 159.4 360.0 159.7 357.7 160.1 351.4 160.4 342.4 160.8 337.0 161.1 339.6 161.5 347.4 161.8 355.2 162.2 359.6 162.5 362.1 162.9 361.0 163.2 362.2 163.6 360.6 163.9 361.5 164.3 363.1 164.6 363.6 165.0 361.8 165.3 362.2 165.7 363.7 166.0 362.7 166.4 362.5 166.7 363.5 167.1 363.3 167.4 364.1 167.8 363.8 168.1 362.6 168.5 363.1 168.8 363.1 169.2 362.0 169.5 362.3 169.9 364.1 170.2 361.8 170.6 364.2 170.9 363.5 171.3 363.2 171.6 363.8 172.0 363.7 172.3 364.4 172.7 363.0 173.0 363.1 173.4 363.1 173.7 365.1 174.1 364.2 174.4 362.6 174.8 363.1 175.1 362.8 175.5 363.4 175.8 363.6 176.2 365.5 176.5 361.8 176.9 364.4 177.2 363.9 177.6 362.9 177.9 363.4 178.3 363.1 178.6 363.6 179.0 364.4 179.3 362.2 179.7 364.7 180.0 363.2 180.4 364.9 180.7 363.9 181.1 364.7 181.4 364.1 181.8 364.6 182.1 363.6 182.5 362.8 182.8 364.2 183.2 364.2 183.5 365.5 183.9 361.7 184.2 363.3 184.6 364.4 184.9 362.2 185.3 362.9 185.6 364.5 186.0 363.0 186.3 359.9 186.7 360.8 187.0 359.9 187.4 359.8 187.7 360.4 188.1 361.5 188.4 361.5 188.8 362.5 189.1 364.0 189.5 363.7 189.8 365.3 190.2 363.4 190.5 361.6 190.9 363.5 191.2 364.1 191.6 364.2 191.9 363.9 192.3 363.1 192.6 365.2 193.0 363.3 193.3 364.6 193.7 363.7 194.0 362.9 194.4 365.2 194.7 361.7 195.1 363.2 195.4 364.4 195.8 363.7 196.1 364.7 196.5 363.9 196.8 363.6 197.2 366.0 197.5 363.8 197.9 363.9 198.2 363.1 198.6 363.4 198.9 364.6 199.3 364.6 199.6 364.1 200.0 363.4 200.3 364.7 200.7 362.5 201.0 363.7 201.4 363.8 201.7 363.2 202.1 363.9 202.4 362.8 202.8 361.8 203.1 362.6 203.5 359.6 203.8 358.5 204.2 357.8 204.5 360.5 204.9 362.3 205.2 364.1 205.6 365.8 205.9 363.8 206.3 364.3 206.6 364.1 207.0 361.0 207.3 362.9 207.7 364.1 208.0 364.4 208.4 362.8 208.7 363.2 209.1 361.9 209.4 359.3 209.8 361.2 210.1 362.8 210.5 363.1 210.8 362.8 211.2 365.5 211.5 364.2 211.9 364.2 212.2 364.7 212.6 364.1 212.9 365.6 213.3 365.4 213.6 365.8 214.0 365.3 214.3 364.1 214.7 364.6 215.0 365.6 215.4 364.5 215.7 367.5 216.1 364.7 216.4 364.4 216.8 365.9 217.1 365.6 217.5 364.9 217.8 364.8 218.2 365.4 218.5 365.7 218.9 365.7 219.2 364.8 219.6 365.4 219.9 365.8 220.3 365.8 220.6 362.3 221.0 364.3 221.3 364.4 221.7 364.9 222.0 365.3 222.4 366.0 222.7 365.7 223.1 365.1 223.4 365.2 223.8 366.8 224.1 364.7 224.5 365.5 224.8 366.7 225.2 365.6 225.5 363.5 225.9 365.7 226.2 365.0 226.6 365.3 226.9 366.3 227.3 365.8 227.6 365.2 228.0 366.2 228.3 365.8 228.7 365.5 229.0 365.7 229.4 365.7 229.7 365.2 230.1 365.1 230.4 365.5 230.8 364.7 231.1 364.4 231.5 366.7 231.8 365.4 232.2 365.6 232.5 365.5 232.9 365.6 233.2 365.6 233.6 365.7 233.9 364.9 234.3 366.5 234.6 365.0 235.0 366.6 235.3 364.0 235.7 364.7 236.0 366.6 236.4 365.6 236.7 365.1 237.1 366.0 237.4 364.8 237.8 365.8 238.1 363.7 238.5 365.3 238.8 365.1 239.2 366.1 239.5 366.4 239.9 364.8 240.2 367.0 240.6 364.9 240.9 363.4 241.3 363.0 241.6 366.2 242.0 364.1 242.3 362.1 242.7 358.1 243.0 350.4 243.4 342.7 243.7 334.9 244.1 340.4 244.4 348.3 244.8 354.8 245.1 362.5 245.5 363.4 245.8 364.3 246.2 366.2 246.5 364.6 246.9 365.9 247.2 364.8 247.6 363.7 247.9 363.6 248.3 360.0 248.6 357.1 249.0 351.3 249.3 347.0 249.7 349.4 250.0 354.7 250.4 359.1 250.7 363.5 251.1 364.1 251.4 365.6 251.8 364.5 252.1 365.6 252.5 366.0 252.8 365.0 253.2 365.4 253.5 365.3 253.9 366.5 254.2 365.2 254.6 366.3 254.9 367.3 255.3 366.2 255.6 364.5 256.0 366.1 256.3 366.9 256.7 365.7 257.0 367.0 257.4 366.6 257.7 366.4 258.1 365.8 258.4 365.6 258.8 365.8 259.1 366.1 259.5 366.5 259.8 366.4 260.2 365.8 260.5 366.1 260.9 366.4 261.2 364.6 261.6 365.4 261.9 365.3 262.3 365.9 262.6 365.8 263.0 365.8 263.3 365.3 263.7 366.6 264.0 366.3 264.4 364.5 264.7 366.0 265.1 364.9 265.4 367.5 265.8 365.5 266.1 365.4 266.5 365.6 266.8 364.9 267.2 364.2 267.5 364.4 267.9 361.8 268.2 361.2 268.6 361.2 268.9 360.2 269.3 364.0 269.6 364.5 270.0 365.7 270.3 364.6 270.7 366.4 271.0 366.2 271.4 365.5 271.7 368.0 272.1 366.5 272.4 365.8 272.8 366.2 273.1 366.9 273.5 367.1 273.8 366.6 274.2 367.2 274.5 367.4 274.9 365.0 275.2 365.6 275.6 365.2 275.9 366.1 276.3 367.3 276.6 366.6 277.0 365.0 277.3 365.6 277.7 366.6 278.0 364.7 278.4 364.1 278.7 362.4 279.1 357.5 279.4 356.8 279.8 355.7 280.1 358.1 280.5 360.0 280.8 362.7 281.2 364.3 281.5 365.7 281.9 365.9 282.2 366.0 282.6 367.6 282.9 367.2 283.3 365.4 283.6 365.5 284.0 367.7 284.3 365.9 284.7 367.4 285.0 367.6 285.4 365.7 285.7 366.0 286.1 366.3 286.4 365.5 286.8 365.4 287.1 365.9 287.5 367.0 287.8 365.9 288.2 366.1 288.5 365.9 288.9 365.0 289.2 367.6 289.6 364.2 289.9 365.7 290.3 366.8 290.6 365.0 291.0 366.8 291.3 367.4 291.7 365.5 292.0 366.5 292.4 365.3 292.7 366.8 293.1 366.4 293.4 366.5 293.8 367.6 294.1 366.8 294.5 367.5 294.8 366.9 295.2 365.3 295.5 366.6 295.9 366.8 296.2 365.0 296.6 367.5 296.9 366.4 297.3 366.7 297.6 365.5 298.0 366.4 298.3 366.6 298.7 366.1 299.0 366.4 299.4 364.5 299.7 367.6 300.1 365.4 300.4 364.4 300.8 365.5 301.1 365.6 301.5 366.9 301.8 365.6 302.2 366.6 302.5 365.5 302.9 368.4 303.2 366.9 303.6 368.1 303.9 365.5 304.3 367.0 304.6 365.5 305.0 366.9 305.3 367.0 305.7 365.0 306.0 365.4 306.4 365.3 306.7 365.0 307.1 365.7 307.4 365.5 307.8 365.1 308.1 366.5 308.5 366.9 308.8 365.2 309.2 365.9 309.5 366.4 309.9 366.1 310.2 365.7 310.6 367.0 310.9 367.0 311.3 366.7 311.6 365.6 312.0 367.1 312.3 366.1 312.7 363.2 313.0 362.7 313.4 363.5 313.7 362.2 314.1 364.2 314.4 364.8 314.8 364.8 315.1 365.7 315.5 364.7 315.8 365.8 316.2 364.5 316.5 368.4 316.9 367.7 317.2 367.5 317.6 366.7 317.9 367.3 318.3 367.6 318.6 367.3 319.0 367.3 319.3 365.6 319.7 366.8 320.0 366.0 320.4 365.4 320.7 365.4 321.1 366.8 321.4 367.4 321.8 365.2 322.1 368.0 322.5 367.8 322.8 366.1 323.2 366.0 323.5 366.4 323.9 367.3 324.2 366.1 324.6 365.5 324.9 366.8 325.3 364.6 325.6 366.6 326.0 367.5 326.3 366.7 326.7 367.1 327.0 366.8 327.4 367.0 327.7 366.5 328.1 365.6 328.4 366.1 328.8 366.1 329.1 367.1 329.5 367.1 329.8 365.3 330.2 362.7 330.5 360.3 330.9 358.1 331.2 357.9 331.6 357.7 331.9 359.9 332.3 361.8 332.6 365.2 333.0 365.7 333.3 365.9 333.7 366.2 334.0 367.8 334.4 366.2 334.7 367.9 335.1 367.5 335.4 366.5 335.8 367.3 336.1 366.4 336.5 365.8 336.8 366.3 337.2 365.7 337.5 367.0" fill="none" stroke="#f11" stroke-width="2.4" stroke-linejoin="round" opacity="0.5"/>
<path d="M56.8 371.4a1.4 1.4 0 1 0 2.8 0a1.4 1.4 0 1 0-2.8 0M57.2 371.8a1.4 1.4 0 1 0 2.8 0a1.4 1.4 0 1 0-2.8 0M57.5 372.0a1.4 1.4 0 1 0 2.8 0a1.4 1.4 0 1 0-2.8 0M57.9 368.6a1.4 1.4 0 1 0 2.8 0a1.4 1.4 0 1 0-2.8 0M58.2 371.5a1.4 1.4 0 1 0 2.8 0a1.4 1.4 0 1 0-2.8 0M58.6 369.6a1.4 1.4 0 1 0 2.8 0a1.4 1.4 0 1 0-2.8 0M58.9 371.3a1.4 1.4 0 1 0 2.8 0a1.4 1.4 0 1 0-2.8 0M59.3 370.3a1.4 1.4 0 1 0 2.8 0a1.4 1.4 0 1 0-2.8 0M59.6 371.1a1.4 1.4 0 1 0 2.8 0a1.4 1.4 0 1 0-2.8 0M60.0 372.1a1.4 1.4 0 1 0 2.8 0a1.4 1.4 0 1 0-2.8 0M60.3 369.5a1.4 1.4 0 1 0 2.8 0a1.4 1.4 0 1 0-2.8 0M60.7 371.1a1.4 1.4 0 1 0 2.8 0a1.4 1.4 0 1 0-2.8 0M61.0 370.8a1.4 1.4 0 1 0 2.8 0a1.4 1.4 0 1 0-2.8 0M61.4 369.2a1.4 1.4 0 1 0 2.8 0a1.4 1.4 0 1 0-2.8 0M61.7 371.3a1.4 1.4 0 1 0 2.8 0a1.4 1.4 0 1 0-2.8 0M62.1 370.8a1.4 1.4 0 1 0 2.8 0a1.4 1.4 0 1 0-2.8 0M62.4 370.3a1.4 1.4 0 1 0 2.8 0a1.4 1.4 0 1 0-2.8 0M62.8 370.0a1.4 1.4 0 1 0 2.8 0a1.4 1.4 0 1 0-2.8 0M63.1 373.3a1.4 1.4 0 1 0 2.8 0a1.4 1.4 0 1 0-2.8 0M63.5 370.2a1.4 1.4 0 1 0 2.8 0a1.4 1.4 0 1 0-2.8 0M63.8 369.0a1.4 1.4 0 1 0 2.8 0a1.4 1.4 0 1 0-2.8 0M64.2 369.7a1.4 1.4 0 1 0 2.8 0a1.4 1.4 0 1 0-2.8 0M64.5 370.1a1.4 1.4 0 1 0 2.8 0a1.4 1.4 0 1 0-2.8 0M64.9 370.1a1.4 1.4 0 1 0 2.8 0a1.4 1.4 0 1 0-2.8 0M65.2 370.3a1.4 1.4 0 1 0 2.8 0a1.4 1.4 0 1 0-2.8 0M65.6 369.4a1.4 1.4 0 1 0 2.8 0a1.4 1.4 0 1 0-2.8 0M65.9 370.7a1.4 1.4 0 1 0 2.8 0a1.4 1.4 0 1 0-2.8 0M66.3 369.8a1.4 1.4 0 1 0 2.8 0a1.4 1.4 0 1 0-2.8 0M66.6 369.0a1.4 1.4 0 1 0 2.8 0a1.4 1.4 0 1 0-2.8 0M67.0 369.4a1.4 1.4 0 1 0 2.8 0a1.4 1.4 0 1 0-2.8 0M67.3 369.8a1.4 1.4 0 1 0 2.8 0a1.4 1.4 0 1 0-2.8 0M67.7 370.8a1.4 1.4 0 1 0 2.8 0a1.4 1.4 0 1 0-2.8 0M68.0 370.4a1.4 1.4 0 1 0 2.8 0a1.4 1.4 0 1 0-2.8 0M68.4 369.7a1.4 1.4 0 1 0 2.8 0a1.4 1.4 0 1 0-2.8 0M68.7 369.9a1.4 1.4 0 1 0 2.8 0a1.4 1.4 0 1 0-2.8 0M69.1 370.0a1.4 1.4 0 1 0 2.8 0a1.4 1.4 0 1 0-2.8 0M69.4 371.5a1.4 1.4 0 1 0 2.8 0a1.4 1.4 0 1 0-2.8 0M69.8 369.2a1.4 1.4 0 1 0 2.8 0a1.4 1.4 0 1 0-2.8 0M70.1 370.1a1.4 1.4 0 1 0 2.8 0a1.4 1.4 0 1 0-2.8 0M70.5 370.3a1.4 1.4 0 1 0 2.8 0a1.4 1.4 0 1 0-2.8 0M70.8 368.8a1.4 1.4 0 1 0 2.8 0a1.4 1.4 0 1 0-2.8 0M71.2 369.8a1.4 1.4 0 1 0 2.8 0a1.4 1.4 0 1 0-2.8 0M71.5 369.7a1.4 1.4 0 1 0 2.8 0a1.4 1.4 0 1 0-2.8 0M71.9 369.1a1.4 1.4 0 1 0 2.8 0a1.4 1.4 0 1 0-2.8 0M72.2 369.9a1.4 1.4 0 1 0 2.8 0a1.4 1.4 0 1 0-2.8 0M72.6 370.3a1.4 1.4 0 1 0 2.8 0a1.4 1.4 0 1 0-2.8 0M72.9 370.3a1.4 1.4 0 1 0 2.8 0a1.4 1.4 0 1 0-2.8 0M73.3 369.1a1.4 1.4 0 1 0 2.8 0a1.4 1.4 0 1 0-2.8 0M73.6 369.4a1.4 1.4 0 1 0 2.8 0a1.4 1.4 0 1 0-2.8 0M74.0 371.2a1.4 1.4 0 1 0 2.8 0a1.4 1.4 0 1 0-2.8 0M74.3 368.2a1.4 1.4 0 1 0 2.8 0a1.4 1.4 0 1 0-2.8 0M74.7 369.3a1.4 1.4 0 1 0 2.8 0a1.4 1.4 0 1 0-2.8 0M75.0 369.8a1.4 1.4 0 1 0 2.8 0a1.4 1.4 0 1 0-2.8 0M75.4 369.1a1.4 1.4 0 1 0 2.8 0a1.4 1.4 0 1 0-2.8 0M75.7 369.5a1.4 1.4 0 1 0 2.8 0a1.4 1.4 0 1 0-2.8 0M76.1 369.0a1.4 1.4 0 1 0 2.8 0a1.4 1.4 0 1 0-2.8 0M76.4 369.4a1.4 1.4 0 1 0 2.8 0a1.4 1.4 0 1 0-2.8 0M76.8 369.8a1.4 1.4 0 1 0 2.8 0a1.4 1.4 0 1 0-2.8 0M77.1 368.4a1.4 1.4 0 1 0 2.8 0a1.4 1.4 0 1 0-2.8 0M77.5 368.6a1.4 1.4 0 1 0 2.8 0a1.4 1.4 0 1 0-2.8 0M77.8 368.2a1.4 1.4 0 1 0 2.8 0a1.4 1.4 0 1 0-2.8 0M78.2 367.7a1.4 1.4 0 1 0 2.8 0a1.4 1.4 0 1 0-2.8 0M78.5 367.5a1.4 1.4 0 1 0 2.8 0a1.4 1.4 0 1 0-2.8 0M78.9 365.2a1.4 1.4 0 1 0 2.8 0a1.4 1.4 0 1 0-2.8 0M79.2 361.9a1.4 1.4 0 1 0 2.8 0a1.4 1.4 0 1 0-2.8 0M79.6 352.2a1.4 1.4 0 1 0 2.8 0a1.4 1.4 0 1 0-2.8 0M79.9 343.2a1.4 1.4 0 1 0 2.8 0a1.4 1.4 0 1 0-2.8 0M80.3 348.8a1.4 1.4 0 1 0 2.8 0a1.4 1.4 0 1 0-2.8 0M80.6 358.2a1.4 1.4 0 1 0 2.8 0a1.4 1.4 0 1 0-2.8 0M81.0 366.4a1.4 1.4 0 1 0 2.8 0a1.4 1.4 0 1 0-2.8 0M81.3 366.4a1.4 1.4 0 1 0 2.8 0a1.4 1.4 0 1 0-2.8 0M81.7 367.5a1.4 1.4 0 1 0 2.8 0a1.4 1.4 0 1 0-2.8 0M82.0 369.3a1.4 1.4 0 1 0 2.8 0a1.4 1.4 0 1 0-2.8 0M82.4 366.9a1.4 1.4 0 1 0 2.8 0a1.4 1.4 0 1 0-2.8 0M82.7 368.6a1.4 1.4 0 1 0 2.8 0a1.4 1.4 0 1 0-2.8 0M83.1 368.2a1.4 1.4 0 1 0 2.8 0a1.4 1.4 0 1 0-2.8 0M83.4 367.8a1.4 1.4 0 1 0 2.8 0a1.4 1.4 0 1 0-2.8 0M83.8 367.2a1.4 1.4 0 1 0 2.8 0a1.4 1.4 0 1 0-2.8 0M84.1 368.3a1.4 1.4 0 1 0 2.8 0a1.4 1.4 0 1 0-2.8 0M84.5 367.5a1.4 1.4 0 1 0 2.8 0a1.4 1.4 0 1 0-2.8 0M84.8 368.7a1.4 1.4 0 1 0 2.8 0a1.4 1.4 0 1 0-2.8 0M85.2 368.9a1.4 1.4 0 1 0 2.8 0a1.4 1.4 0 1 0-2.8 0M85.5 366.6a1.4 1.4 0 1 0 2.8 0a1.4 1.4 0 1 0-2.8 0M85.9 367.3a1.4 1.4 0 1 0 2.8 0a1.4 1.4 0 1 0-2.8 0M86.2 367.5a1.4 1.4 0 1 0 2.8 0a1.4 1.4 0 1 0-2.8 0M86.6 366.7a1.4 1.4 0 1 0 2.8 0a1.4 1.4 0 1 0-2.8 0M86.9 366.7a1.4 1.4 0 1 0 2.8 0a1.4 1.4 0 1 0-2.8 0M87.3 367.7a1.4 1.4 0 1 0 2.8 0a1.4 1.4 0 1 0-2.8 0M87.6 367.4a1.4 1.4 0 1 0 2.8 0a1.4 1.4 0 1 0-2.8 0M88.0 366.1a1.4 1.4 0 1 0 2.8 0a1.4 1.4 0 1 0-2.8 0M88.3 367.0a1.4 1.4 0 1 0 2.8 0a1.4 1.4 0 1 0-2.8 0M88.7 367.9a1.4 1.4 0 1 0 2.8 0a1.4 1.4 0 1 0-2.8 0M89.0 366.4a1.4 1.4 0 1 0 2.8 0a1.4 1.4 0 1 0-2.8 0M89.4 366.6a1.4 1.4 0 1 0 2.8 0a1.4 1.4 0 1 0-2.8 0M89.7 368.7a1.4 1.4 0 1 0 2.8 0a1.4 1.4 0 1 0-2.8 0M90.1 368.4a1.4 1.4 0 1 0 2.8 0a1.4 1.4 0 1 0-2.8 0M90.4 365.9a1.4 1.4 0 1 0 2.8 0a1.4 1.4 0 1 0-2.8 0M90.8 366.0a1.4 1.4 0 1 0 2.8 0a1.4 1.4 0 1 0-2.8 0M91.1 367.5a1.4 1.4 0 1 0 2.8 0a1.4 1.4 0 1 0-2.8 0M91.5 366.1a1.4 1.4 0 1 0 2.8 0a1.4 1.4 0 1 0-2.8 0M91.8 366.8a1.4 1.4 0 1 0 2.8 0a1.4 1.4 0 1 0-2.8 0M92.2 366.6a1.4 1.4 0 1 0 2.8 0a1.4 1.4 0 1 0-2.8 0M92.5 367.4a1.4 1.4 0 1 0 2.8 0a1.4 1.4 0 1 0-2.8 0M92.9 364.8a1.4 1.4 0 1 0 2.8 0a1.4 1.4 0 1 0-2.8 0M93.2 365.0a1.4 1.4 0 1 0 2.8 0a1.4 1.4 0 1 0-2.8 0M93.6 365.8a1.4 1.4 0 1 0 2.8 0a1.4 1.4 0 1 0-2.8 0M93.9 367.6a1.4 1.4 0 1 0 2.8 0a1.4 1.4 0 1 0-2.8 0M94.3 366.6a1.4 1.4 0 1 0 2.8 0a1.4 1.4 0 1 0-2.8 0M94.6 365.2a1.4 1.4 0 1 0 2.8 0a1.4 1.4 0 1 0-2.8 0M95.0 367.1a1.4 1.4 0 1 0 2.8 0a1.4 1.4 0 1 0-2.8 0M95.3 367.2a1.4 1.4 0 1 0 2.8 0a1.4 1.4 0 1 0-2.8 0M95.7 366.3a1.4 1.4 0 1 0 2.8 0a1.4 1.4 0 1 0-2.8 0M96.0 366.2a1.4 1.4 0 1 0 2.8 0a1.4 1.4 0 1 0-2.8 0M96.4 366.8a1.4 1.4 0 1 0 2.8 0a1.4 1.4 0 1 0-2.8 0M96.7 367.4a1.4 1.4 0 1 0 2.8 0a1.4 1.4 0 1 0-2.8 0M97.1 366.5a1.4 1.4 0 1 0 2.8 0a1.4 1.4 0 1 0-2.8 0M97.4 366.8a1.4 1.4 0 1 0 2.8 0a1.4 1.4 0 1 0-2.8 0M97.8 366.2a1.4 1.4 0 1 0 2.8 0a1.4 1.4 0 1 0-2.8 0M98.1 365.9a1.4 1.4 0 1 0 2.8 0a1.4 1.4 0 1 0-2.8 0M98.5 365.4a1.4 1.4 0 1 0 2.8 0a1.4 1.4 0 1 0-2.8 0M98.8 366.3a1.4 1.4 0 1 0 2.8 0a1.4 1.4 0 1 0-2.8 0M99.2 365.8a1.4 1.4 0 1 0 2.8 0a1.4 1.4 0 1 0-2.8 0M99.5 365.8a1.4 1.4 0 1 0 2.8 0a1.4 1.4 0 1 0-2.8 0M99.9 366.8a1.4 1.4 0 1 0 2.8 0a1.4 1.4 0 1 0-2.8 0M100.2 366.4a1.4 1.4 0 1 0 2.8 0a1.4 1.4 0 1 0-2.8 0M100.6 366.6a1.4 1.4 0 1 0 2.8 0a1.4 1.4 0 1 0-2.8 0M100.9 364.5a1.4 1.4 0 1 0 2.8 0a1.4 1.4 0 1 0-2.8 0M101.3 366.3a1.4 1.4 0 1 0 2.8 0a1.4 1.4 0 1 0-2.8 0M101.6 365.3a1.4 1.4 0 1 0 2.8 0a1.4 1.4 0 1 0-2.8 0M102.0 365.0a1.4 1.4 0 1 0 2.8 0a1.4 1.4 0 1 0-2.8 0M102.3 364.9a1.4 1.4 0 1 0 2.8 0a1.4 1.4 0 1 0-2.8 0M102.7 366.6a1.4 1.4 0 1 0 2.8 0a1.4 1.4 0 1 0-2.8 0M103.0 366.3a1.4 1.4 0 1 0 2.8 0a1.4 1.4 0 1 0-2.8 0M103.4 364.9a1.4 1.4 0 1 0 2.8 0a1.4 1.4 0 1 0-2.8 0M103.7 364.5a1.4 1.4 0 1 0 2.8 0a1.4 1.4 0 1 0-2.8 0M104.1 365.4a1.4 1.4 0 1 0 2.8 0a1.4 1.4 0 1 0-2.8 0M104.4 365.0a1.4 1.4 0 1 0 2.8 0a1.4 1.4 0 1 0-2.8 0M104.8 366.7a1.4 1.4 0 1 0 2.8 0a1.4 1.4 0 1 0-2.8 0M105.1 364.0a1.4 1.4 0 1 0 2.8 0a1.4 1.4 0 1 0-2.8 0M105.5 363.7a1.4 1.4 0 1 0 2.8 0a1.4 1.4 0 1 0-2.8 0M105.8 365.0a1.4 1.4 0 1 0 2.8 0a1.4 1.4 0 1 0-2.8 0M106.2 365.2a1.4 1.4 0 1 0 2.8 0a1.4 1.4 0 1 0-2.8 0M106.5 365.2a1.4 1.4 0 1 0 2.8 0a1.4 1.4 0 1 0-2.8 0M106.9 365.7a1.4 1.4 0 1 0 2.8 0a1.4 1.4 0 1 0-2.8 0M107.2 366.8a1.4 1.4 0 1 0 2.8 0a1.4 1.4 0 1 0-2.8 0M107.6 364.7a1.4 1.4 0 1 0 2.8 0a1.4 1.4 0 1 0-2.8 0M107.9 364.5a1.4 1.4 0 1 0 2.8 0a1.4 1.4 0 1 0-2.8 0M108.3 363.4a1.4 1.4 0 1 0 2.8 0a1.4 1.4 0 1 0-2.8 0M108.6 365.0a1.4 1.4 0 1 0 2.8 0a1.4 1.4 0 1 0-2.8 0M109.0 365.5a1.4 1.4 0 1 0 2.8 0a1.4 1.4 0 1 0-2.8 0M109.3 364.5a1.4 1.4 0 1 0 2.8 0a1.4 1.4 0 1 0-2.8 0M109.7 365.7a1.4 1.4 0 1 0 2.8 0a1.4 1.4 0 1 0-2.8 0M110.0 364.7a1.4 1.4 0 1 0 2.8 0a1.4 1.4 0 1 0-2.8 0M110.4 365.9a1.4 1.4 0 1 0 2.8 0a1.4 1.4 0 1 0-2.8 0M110.7 364.8a1.4 1.4 0 1 0 2.8 0a1.4 1.4 0 1 0-2.8 0M111.1 363.6a1.4 1.4 0 1 0 2.8 0a1.4 1.4 0 1 0-2.8 0M111.4 363.9a1.4 1.4 0 1 0 2.8 0a1.4 1.4 0 1 0-2.8 0M111.8 363.1a1.4 1.4 0 1 0 2.8 0a1.4 1.4 0 1 0-2.8 0M112.1 362.9a1.4 1.4 0 1 0 2.8 0a1.4 1.4 0 1 0-2.8 0M112.5 364.5a1.4 1.4 0 1 0 2.8 0a1.4 1.4 0 1 0-2.8 0M112.8 365.0a1.4 1.4 0 1 0 2.8 0a1.4 1.4 0 1 0-2.8 0M113.2 365.9a1.4 1.4 0 1 0 2.8 0a1.4 1.4 0 1 0-2.8 0M113.5 364.1a1.4 1.4 0 1 0 2.8 0a1.4 1.4 0 1 0-2.8 0M113.9 363.9a1.4 1.4 0 1 0 2.8 0a1.4 1.4 0 1 0-2.8 0M114.2 363.1a1.4 1.4 0 1 0 2.8 0a1.4 1.4 0 1 0-2.8 0M114.6 364.9a1.4 1.4 0 1 0 2.8 0a1.4 1.4 0 1 0-2.8 0M114.9 364.3a1.4 1.4 0 1 0 2.8 0a1.4 1.4 0 1 0-2.8 0M115.3 363.4a1.4 1.4 0 1 0 2.8 0a1.4 1.4 0 1 0-2.8 0M115.6 364.5a1.4 1.4 0 1 0 2.8 0a1.4 1.4 0 1 0-2.8 0M116.0 364.3a1.4 1.4 0 1 0 2.8 0a1.4 1.4 0 1 0-2.8 0M116.3 362.2a1.4 1.4 0 1 0 2.8 0a1.4 1.4 0 1 0-2.8 0M116.7 364.4a1.4 1.4 0 1 0 2.8 0a1.4 1.4 0 1 0-2.8 0M117.0 363.8a1.4 1.4 0 1 0 2.8 0a1.4 1.4 0 1 0-2.8 0M117.4 363.3a1.4 1.4 0 1 0 2.8 0a1.4 1.4 0 1 0-2.8 0M117.7 363.3a1.4 1.4 0 1 0 2.8 0a1.4 1.4 0 1 0-2.8 0M118.1 365.0a1.4 1.4 0 1 0 2.8 0a1.4 1.4 0 1 0-2.8 0M118.4 364.8a1.4 1.4 0 1 0 2.8 0a1.4 1.4 0 1 0-2.8 0M118.8 365.0a1.4 1.4 0 1 0 2.8 0a1.4 1.4 0 1 0-2.8 0M119.1 362.5a1.4 1.4 0 1 0 2.8 0a1.4 1.4 0 1 0-2.8 0M119.5 362.9a1.4 1.4 0 1 0 2.8 0a1.4 1.4 0 1 0-2.8 0M119.8 364.2a1.4 1.4 0 1 0 2.8 0a1.4 1.4 0 1 0-2.8 0M120.2 362.4a1.4 1.4 0 1 0 2.8 0a1.4 1.4 0 1 0-2.8 0M120.5 362.8a1.4 1.4 0 1 0 2.8 0a1.4 1.4 0 1 0-2.8 0M120.9 361.9a1.4 1.4 0 1 0 2.8 0a1.4 1.4 0 1 0-2.8 0M121.2 365.0a1.4 1.4 0 1 0 2.8 0a1.4 1.4 0 1 0-2.8 0M121.6 364.3a1.4 1.4 0 1 0 2.8 0a1.4 1.4 0 1 0-2.8 0M121.9 363.8a1.4 1.4 0 1 0 2.8 0a1.4 1.4 0 1 0-2.8 0M122.3 363.6a1.4 1.4 0 1 0 2.8 0a1.4 1.4 0 1 0-2.8 0M122.6 363.0a1.4 1.4 0 1 0 2.8 0a1.4 1.4 0 1 0-2.8 0M123.0 363.0a1.4 1.4 0 1 0 2.8 0a1.4 1.4 0 1 0-2.8 0M123.3 363.9a1.4 1.4 0 1 0 2.8 0a1.4 1.4 0 1 0-2.8 0M123.7 362.8a1.4 1.4 0 1 0 2.8 0a1.4 1.4 0 1 0-2.8 0M124.0 364.4a1.4 1.4 0 1 0 2.8 0a1.4 1.4 0 1 0-2.8 0M124.4 362.9a1.4 1.4 0 1 0 2.8 0a1.4 1.4 0 1 0-2.8 0M124.7 362.6a1.4 1.4 0 1 0 2.8 0a1.4 1.4 0 1 0-2.8 0M125.1 364.4a1.4 1.4 0 1 0 2.8 0a1.4 1.4 0 1 0-2.8 0M125.4 363.2a1.4 1.4 0 1 0 2.8 0a1.4 1.4 0 1 0-2.8 0M125.8 363.8a1.4 1.4 0 1 0 2.8 0a1.4 1.4 0 1 0-2.8 0M126.1 363.0a1.4 1.4 0 1 0 2.8 0a1.4 1.4 0 1 0-2.8 0M126.5 361.4a1.4 1.4 0 1 0 2.8 0a1.4 1.4 0 1 0-2.8 0M126.8 363.8a1.4 1.4 0 1 0 2.8 0a1.4 1.4 0 1 0-2.8 0M127.2 362.1a1.4 1.4 0 1 0 2.8 0a1.4 1.4 0 1 0-2.8 0M127.5 364.2a1.4 1.4 0 1 0 2.8 0a1.4 1.4 0 1 0-2.8 0M127.9 361.9a1.4 1.4 0 1 0 2.8 0a1.4 1.4 0 1 0-2.8 0M128.2 361.7a1.4 1.4 0 1 0 2.8 0a1.4 1.4 0 1 0-2.8 0M128.6 363.5a1.4 1.4 0 1 0 2.8 0a1.4 1.4 0 1 0-2.8 0M128.9 363.6a1.4 1.4 0 1 0 2.8 0a1.4 1.4 0 1 0-2.8 0M129.3 363.3a1.4 1.4 0 1 0 2.8 0a1.4 1.4 0 1 0-2.8 0M129.6 362.2a1.4 1.4 0 1 0 2.8 0a1.4 1.4 0 1 0-2.8 0M130.0 364.0a1.4 1.4 0 1 0 2.8 0a1.4 1.4 0 1 0-2.8 0M130.3 362.0a1.4 1.4 0 1 0 2.8 0a1.4 1.4 0 1 0-2.8 0M130.7 362.8a1.4 1.4 0 1 0 2.8 0a1.4 1.4 0 1 0-2.8 0M131.0 362.5a1.4 1.4 0 1 0 2.8 0a1.4 1.4 0 1 0-2.8 0M131.4 362.9a1.4 1.4 0 1 0 2.8 0a1.4 1.4 0 1 0-2.8 0M131.7 363.9a1.4 1.4 0 1 0 2.8 0a1.4 1.4 0 1 0-2.8 0M132.1 362.6a1.4 1.4 0 1 0 2.8 0a1.4 1.4 0 1 0-2.8 0M132.4 363.6a1.4 1.4 0 1 0 2.8 0a1.4 1.4 0 1 0-2.8 0M132.8 363.7a1.4 1.4 0 1 0 2.8 0a1.4 1.4 0 1 0-2.8 0M133.1 361.7a1.4 1.4 0 1 0 2.8 0a1.4 1.4 0 1 0-2.8 0M133.5 362.1a1.4 1.4 0 1 0 2.8 0a1.4 1.4 0 1 0-2.8 0M133.8 362.8a1.4 1.4 0 1 0 2.8 0a1.4 1.4 0 1 0-2.8 0M134.2 362.6a1.4 1.4 0 1 0 2.8 0a1.4 1.4 0 1 0-2.8 0M134.5 363.4a1.4 1.4 0 1 0 2.8 0a1.4 1.4 0 1 0-2.8 0M134.9 361.5a1.4 1.4 0 1 0 2.8 0a1.4 1.4 0 1 0-2.8 0M135.2 363.7a1.4 1.4 0 1 0 2.8 0a1.4 1.4 0 1 0-2.8 0M135.6 363.7a1.4 1.4 0 1 0 2.8 0a1.4 1.4 0 1 0-2.8 0M135.9 362.9a1.4 1.4 0 1 0 2.8 0a1.4 1.4 0 1 0-2.8 0M136.3 361.9a1.4 1.4 0 1 0 2.8 0a1.4 1.4 0 1 0-2.8 0M136.6 363.1a1.4 1.4 0 1 0 2.8 0a1.4 1.4 0 1 0-2.8 0M137.0 362.6a1.4 1.4 0 1 0 2.8 0a1.4 1.4 0 1 0-2.8 0M137.3 363.5a1.4 1.4 0 1 0 2.8 0a1.4 1.4 0 1 0-2.8 0M137.7 362.9a1.4 1.4 0 1 0 2.8 0a1.4 1.4 0 1 0-2.8 0M138.0 363.6a1.4 1.4 0 1 0 2.8 0a1.4 1.4 0 1 0-2.8 0M138.4 362.6a1.4 1.4 0 1 0 2.8 0a1.4 1.4 0 1 0-2.8 0M138.7 364.2a1.4 1.4 0 1 0 2.8 0a1.4 1.4 0 1 0-2.8 0M139.1 361.0a1.4 1.4 0 1 0 2.8 0a1.4 1.4 0 1 0-2.8 0M139.4 362.1a1.4 1.4 0 1 0 2.8 0a1.4 1.4 0 1 0-2.8 0M139.8 363.4a1.4 1.4 0 1 0 2.8 0a1.4 1.4 0 1 0-2.8 0M140.1 361.7a1.4 1.4 0 1 0 2.8 0a1.4 1.4 0 1 0-2.8 0M140.5 363.6a1.4 1.4 0 1 0 2.8 0a1.4 1.4 0 1 0-2.8 0M140.8 361.9a1.4 1.4 0 1 0 2.8 0a1.4 1.4 0 1 0-2.8 0M141.2 363.0a1.4 1.4 0 1 0 2.8 0a1.4 1.4 0 1 0-2.8 0M141.5 362.1a1.4 1.4 0 1 0 2.8 0a1.4 1.4 0 1 0-2.8 0M141.9 362.5a1.4 1.4 0 1 0 2.8 0a1.4 1.4 0 1 0-2.8 0M142.2 363.0a1.4 1.4 0 1 0 2.8 0a1.4 1.4 0 1 0-2.8 0M142.6 362.8a1.4 1.4 0 1 0 2.8 0a1.4 1.4 0 1 0-2.8 0M142.9 362.5a1.4 1.4 0 1 0 2.8 0a1.4 1.4 0 1 0-2.8 0M143.3 364.7a1.4 1.4 0 1 0 2.8 0a1.4 1.4 0 1 0-2.8 0M143.6 362.8a1.4 1.4 0 1 0 2.8 0a1.4 1.4 0 1 0-2.8 0M144.0 362.0a1.4 1.4 0 1 0 2.8 0a1.4 1.4 0 1 0-2.8 0M144.3 363.6a1.4 1.4 0 1 0 2.8 0a1.4 1.4 0 1 0-2.8 0M144.7 363.5a1.4 1.4 0 1 0 2.8 0a1.4 1.4 0 1 0-2.8 0M145.0 363.8a1.4 1.4 0 1 0 2.8 0a1.4 1.4 0 1 0-2.8 0M145.4 364.3a1.4 1.4 0 1 0 2.8 0a1.4 1.4 0 1 0-2.8 0M145.7 361.9a1.4 1.4 0 1 0 2.8 0a1.4 1.4 0 1 0-2.8 0M146.1 363.6a1.4 1.4 0 1 0 2.8 0a1.4 1.4 0 1 0-2.8 0M146.4 363.7a1.4 1.4 0 1 0 2.8 0a1.4 1.4 0 1 0-2.8 0M146.8 362.7a1.4 1.4 0 1 0 2.8 0a1.4 1.4 0 1 0-2.8 0M147.1 362.9a1.4 1.4 0 1 0 2.8 0a1.4 1.4 0 1 0-2.8 0M147.5 360.1a1.4 1.4 0 1 0 2.8 0a1.4 1.4 0 1 0-2.8 0M147.8 362.1a1.4 1.4 0 1 0 2.8 0a1.4 1.4 0 1 0-2.8 0M148.2 364.1a1.4 1.4 0 1 0 2.8 0a1.4 1.4 0 1 0-2.8 0M148.5 361.0a1.4 1.4 0 1 0 2.8 0a1.4 1.4 0 1 0-2.8 0M148.9 362.0a1.4 1.4 0 1 0 2.8 0a1.4 1.4 0 1 0-2.8 0M149.2 362.7a1.4 1.4 0 1 0 2.8 0a1.4 1.4 0 1 0-2.8 0M149.6 362.8a1.4 1.4 0 1 0 2.8 0a1.4 1.4 0 1 0-2.8 0M149.9 363.7a1.4 1.4 0 1 0 2.8 0a1.4 1.4 0 1 0-2.8 0M150.3 360.7a1.4 1.4 0 1 0 2.8 0a1.4 1.4 0 1 0-2.8 0M150.6 362.0a1.4 1.4 0 1 0 2.8 0a1.4 1.4 0 1 0-2.8 0M151.0 362.5a1.4 1.4 0 1 0 2.8 0a1.4 1.4 0 1 0-2.8 0M151.3 360.2a1.4 1.4 0 1 0 2.8 0a1.4 1.4 0 1 0-2.8 0M151.7 360.5a1.4 1.4 0 1 0 2.8 0a1.4 1.4 0 1 0-2.8 0M152.0 359.9a1.4 1.4 0 1 0 2.8 0a1.4 1.4 0 1 0-2.8 0M152.4 353.3a1.4 1.4 0 1 0 2.8 0a1.4 1.4 0 1 0-2.8 0M152.7 340.6a1.4 1.4 0 1 0 2.8 0a1.4 1.4 0 1 0-2.8 0M153.1 323.0a1.4 1.4 0 1 0 2.8 0a1.4 1.4 0 1 0-2.8 0M153.4 320.2a1.4 1.4 0 1 0 2.8 0a1.4 1.4 0 1 0-2.8 0M153.8 332.0a1.4 1.4 0 1 0 2.8 0a1.4 1.4 0 1 0-2.8 0M154.1 346.0a1.4 1.4 0 1 0 2.8 0a1.4 1.4 0 1 0-2.8 0M154.5 355.5a1.4 1.4 0 1 0 2.8 0a1.4 1.4 0 1 0-2.8 0M154.8 362.2a1.4 1.4 0 1 0 2.8 0a1.4 1.4 0 1 0-2.8 0M155.2 360.8a1.4 1.4 0 1 0 2.8 0a1.4 1.4 0 1 0-2.8 0M155.5 360.7a1.4 1.4 0 1 0 2.8 0a1.4 1.4 0 1 0-2.8 0M155.9 362.0a1.4 1.4 0 1 0 2.8 0a1.4 1.4 0 1 0-2.8 0M156.2 361.6a1.4 1.4 0 1 0 2.8 0a1.4 1.4 0 1 0-2.8 0M156.6 361.7a1.4 1.4 0 1 0 2.8 0a1.4 1.4 0 1 0-2.8 0M156.9 361.9a1.4 1.4 0 1 0 2.8 0a1.4 1.4 0 1 0-2.8 0M157.3 362.5a1.4 1.4 0 1 0 2.8 0a1.4 1.4 0 1 0-2.8 0M157.6 361.8a1.4 1.4 0 1 0 2.8 0a1.4 1.4 0 1 0-2.8 0M158.0 359.8a1.4 1.4 0 1 0 2.8 0a1.4 1.4 0 1 0-2.8 0M158.3 358.3a1.4 1.4 0 1 0 2.8 0a1.4 1.4 0 1 0-2.8 0M158.7 353.1a1.4 1.4 0 1 0 2.8 0a1.4 1.4 0 1 0-2.8 0M159.0 343.1a1.4 1.4 0 1 0 2.8 0a1.4 1.4 0 1 0-2.8 0M159.4 337.3a1.4 1.4 0 1 0 2.8 0a1.4 1.4 0 1 0-2.8 0M159.7 339.8a1.4 1.4 0 1 0 2.8 0a1.4 1.4 0 1 0-2.8 0M160.1 347.7a1.4 1.4 0 1 0 2.8 0a1.4 1.4 0 1 0-2.8 0M160.4 356.5a1.4 1.4 0 1 0 2.8 0a1.4 1.4 0 1 0-2.8 0M160.8 361.8a1.4 1.4 0 1 0 2.8 0a1.4 1.4 0 1 0-2.8 0M161.1 362.9a1.4 1.4 0 1 0 2.8 0a1.4 1.4 0 1 0-2.8 0M161.5 362.1a1.4 1.4 0 1 0 2.8 0a1.4 1.4 0 1 0-2.8 0M161.8 363.2a1.4 1.4 0 1 0 2.8 0a1.4 1.4 0 1 0-2.8 0M162.2 362.0a1.4 1.4 0 1 0 2.8 0a1.4 1.4 0 1 0-2.8 0M162.5 361.5a1.4 1.4 0 1 0 2.8 0a1.4 1.4 0 1 0-2.8 0M162.9 363.3a1.4 1.4 0 1 0 2.8 0a1.4 1.4 0 1 0-2.8 0M163.2 363.1a1.4 1.4 0 1 0 2.8 0a1.4 1.4 0 1 0-2.8 0M163.6 363.4a1.4 1.4 0 1 0 2.8 0a1.4 1.4 0 1 0-2.8 0M163.9 362.9a1.4 1.4 0 1 0 2.8 0a1.4 1.4 0 1 0-2.8 0M164.3 363.3a1.4 1.4 0 1 0 2.8 0a1.4 1.4 0 1 0-2.8 0M164.6 362.6a1.4 1.4 0 1 0 2.8 0a1.4 1.4 0 1 0-2.8 0M165.0 363.5a1.4 1.4 0 1 0 2.8 0a1.4 1.4 0 1 0-2.8 0M165.3 363.8a1.4 1.4 0 1 0 2.8 0a1.4 1.4 0 1 0-2.8 0M165.7 363.1a1.4 1.4 0 1 0 2.8 0a1.4 1.4 0 1 0-2.8 0M166.0 363.8a1.4 1.4 0 1 0 2.8 0a1.4 1.4 0 1 0-2.8 0M166.4 361.7a1.4 1.4 0 1 0 2.8 0a1.4 1.4 0 1 0-2.8 0M166.7 362.5a1.4 1.4 0 1 0 2.8 0a1.4 1.4 0 1 0-2.8 0M167.1 364.4a1.4 1.4 0 1 0 2.8 0a1.4 1.4 0 1 0-2.8 0M167.4 364.7a1.4 1.4 0 1 0 2.8 0a1.4 1.4 0 1 0-2.8 0M167.8 363.5a1.4 1.4 0 1 0 2.8 0a1.4 1.4 0 1 0-2.8 0M168.1 363.2a1.4 1.4 0 1 0 2.8 0a1.4 1.4 0 1 0-2.8 0M168.5 362.2a1.4 1.4 0 1 0 2.8 0a1.4 1.4 0 1 0-2.8 0M168.8 363.6a1.4 1.4 0 1 0 2.8 0a1.4 1.4 0 1 0-2.8 0M169.2 364.0a1.4 1.4 0 1 0 2.8 0a1.4 1.4 0 1 0-2.8 0M169.5 362.1a1.4 1.4 0 1 0 2.8 0a1.4 1.4 0 1 0-2.8 0M169.9 363.8a1.4 1.4 0 1 0 2.8 0a1.4 1.4 0 1 0-2.8 0M170.2 363.8a1.4 1.4 0 1 0 2.8 0a1.4 1.4 0 1 0-2.8 0M170.6 363.7a1.4 1.4 0 1 0 2.8 0a1.4 1.4 0 1 0-2.8 0M170.9 362.4a1.4 1.4 0 1 0 2.8 0a1.4 1.4 0 1 0-2.8 0M171.3 363.8a1.4 1.4 0 1 0 2.8 0a1.4 1.4 0 1 0-2.8 0M171.6 362.1a1.4 1.4 0 1 0 2.8 0a1.4 1.4 0 1 0-2.8 0M172.0 364.7a1.4 1.4 0 1 0 2.8 0a1.4 1.4 0 1 0-2.8 0M172.3 363.5a1.4 1.4 0 1 0 2.8 0a1.4 1.4 0 1 0-2.8 0M172.7 362.4a1.4 1.4 0 1 0 2.8 0a1.4 1.4 0 1 0-2.8 0M173.0 364.6a1.4 1.4 0 1 0 2.8 0a1.4 1.4 0 1 0-2.8 0M173.4 364.4a1.4 1.4 0 1 0 2.8 0a1.4 1.4 0 1 0-2.8 0M173.7 362.9a1.4 1.4 0 1 0 2.8 0a1.4 1.4 0 1 0-2.8 0M174.1 365.3a1.4 1.4 0 1 0 2.8 0a1.4 1.4 0 1 0-2.8 0M174.4 362.6a1.4 1.4 0 1 0 2.8 0a1.4 1.4 0 1 0-2.8 0M174.8 363.7a1.4 1.4 0 1 0 2.8 0a1.4 1.4 0 1 0-2.8 0M175.1 364.5a1.4 1.4 0 1 0 2.8 0a1.4 1.4 0 1 0-2.8 0M175.5 361.6a1.4 1.4 0 1 0 2.8 0a1.4 1.4 0 1 0-2.8 0M175.8 364.4a1.4 1.4 0 1 0 2.8 0a1.4 1.4 0 1 0-2.8 0M176.2 363.5a1.4 1.4 0 1 0 2.8 0a1.4 1.4 0 1 0-2.8 0M176.5 363.5a1.4 1.4 0 1 0 2.8 0a1.4 1.4 0 1 0-2.8 0M176.9 362.6a1.4 1.4 0 1 0 2.8 0a1.4 1.4 0 1 0-2.8 0M177.2 363.8a1.4 1.4 0 1 0 2.8 0a1.4 1.4 0 1 0-2.8 0M177.6 362.6a1.4 1.4 0 1 0 2.8 0a1.4 1.4 0 1 0-2.8 0M177.9 362.7a1.4 1.4 0 1 0 2.8 0a1.4 1.4 0 1 0-2.8 0M178.3 363.2a1.4 1.4 0 1 0 2.8 0a1.4 1.4 0 1 0-2.8 0M178.6 362.5a1.4 1.4 0 1 0 2.8 0a1.4 1.4 0 1 0-2.8 0M179.0 364.9a1.4 1.4 0 1 0 2.8 0a1.4 1.4 0 1 0-2.8 0M179.3 362.5a1.4 1.4 0 1 0 2.8 0a1.4 1.4 0 1 0-2.8 0M179.7 363.0a1.4 1.4 0 1 0 2.8 0a1.4 1.4 0 1 0-2.8 0M180.0 363.3a1.4 1.4 0 1 0 2.8 0a1.4 1.4 0 1 0-2.8 0M180.4 363.6a1.4 1.4 0 1 0 2.8 0a1.4 1.4 0 1 0-2.8 0M180.7 364.3a1.4 1.4 0 1 0 2.8 0a1.4 1.4 0 1 0-2.8 0M181.1 364.3a1.4 1.4 0 1 0 2.8 0a1.4 1.4 0 1 0-2.8 0M181.4 363.4a1.4 1.4 0 1 0 2.8 0a1.4 1.4 0 1 0-2.8 0M181.8 363.3a1.4 1.4 0 1 0 2.8 0a1.4 1.4 0 1 0-2.8 0M182.1 363.6a1.4 1.4 0 1 0 2.8 0a1.4 1.4 0 1 0-2.8 0M182.5 364.3a1.4 1.4 0 1 0 2.8 0a1.4 1.4 0 1 0-2.8 0M182.8 364.1a1.4 1.4 0 1 0 2.8 0a1.4 1.4 0 1 0-2.8 0M183.2 363.1a1.4 1.4 0 1 0 2.8 0a1.4 1.4 0 1 0-2.8 0M183.5 361.6a1.4 1.4 0 1 0 2.8 0a1.4 1.4 0 1 0-2.8 0M183.9 364.9a1.4 1.4 0 1 0 2.8 0a1.4 1.4 0 1 0-2.8 0M184.2 363.4a1.4 1.4 0 1 0 2.8 0a1.4 1.4 0 1 0-2.8 0M184.6 362.0a1.4 1.4 0 1 0 2.8 0a1.4 1.4 0 1 0-2.8 0M184.9 361.0a1.4 1.4 0 1 0 2.8 0a1.4 1.4 0 1 0-2.8 0M185.3 359.1a1.4 1.4 0 1 0 2.8 0a1.4 1.4 0 1 0-2.8 0M185.6 358.0a1.4 1.4 0 1 0 2.8 0a1.4 1.4 0 1 0-2.8 0M186.0 358.8a1.4 1.4 0 1 0 2.8 0a1.4 1.4 0 1 0-2.8 0M186.3 359.9a1.4 1.4 0 1 0 2.8 0a1.4 1.4 0 1 0-2.8 0M186.7 360.8a1.4 1.4 0 1 0 2.8 0a1.4 1.4 0 1 0-2.8 0M187.0 361.1a1.4 1.4 0 1 0 2.8 0a1.4 1.4 0 1 0-2.8 0M187.4 362.7a1.4 1.4 0 1 0 2.8 0a1.4 1.4 0 1 0-2.8 0M187.7 363.9a1.4 1.4 0 1 0 2.8 0a1.4 1.4 0 1 0-2.8 0M188.1 363.1a1.4 1.4 0 1 0 2.8 0a1.4 1.4 0 1 0-2.8 0M188.4 363.7a1.4 1.4 0 1 0 2.8 0a1.4 1.4 0 1 0-2.8 0M188.8 362.0a1.4 1.4 0 1 0 2.8 0a1.4 1.4 0 1 0-2.8 0M189.1 363.6a1.4 1.4 0 1 0 2.8 0a1.4 1.4 0 1 0-2.8 0M189.5 363.7a1.4 1.4 0 1 0 2.8 0a1.4 1.4 0 1 0-2.8 0M189.8 362.8a1.4 1.4 0 1 0 2.8 0a1.4 1.4 0 1 0-2.8 0M190.2 362.4a1.4 1.4 0 1 0 2.8 0a1.4 1.4 0 1 0-2.8 0M190.5 364.2a1.4 1.4 0 1 0 2.8 0a1.4 1.4 0 1 0-2.8 0M190.9 363.2a1.4 1.4 0 1 0 2.8 0a1.4 1.4 0 1 0-2.8 0M191.2 364.3a1.4 1.4 0 1 0 2.8 0a1.4 1.4 0 1 0-2.8 0M191.6 363.6a1.4 1.4 0 1 0 2.8 0a1.4 1.4 0 1 0-2.8 0M191.9 364.5a1.4 1.4 0 1 0 2.8 0a1.4 1.4 0 1 0-2.8 0M192.3 363.7a1.4 1.4 0 1 0 2.8 0a1.4 1.4 0 1 0-2.8 0M192.6 362.7a1.4 1.4 0 1 0 2.8 0a1.4 1.4 0 1 0-2.8 0M193.0 363.9a1.4 1.4 0 1 0 2.8 0a1.4 1.4 0 1 0-2.8 0M193.3 363.7a1.4 1.4 0 1 0 2.8 0a1.4 1.4 0 1 0-2.8 0M193.7 364.6a1.4 1.4 0 1 0 2.8 0a1.4 1.4 0 1 0-2.8 0M194.0 363.6a1.4 1.4 0 1 0 2.8 0a1.4 1.4 0 1 0-2.8 0M194.4 363.7a1.4 1.4 0 1 0 2.8 0a1.4 1.4 0 1 0-2.8 0M194.7 364.8a1.4 1.4 0 1 0 2.8 0a1.4 1.4 0 1 0-2.8 0M195.1 365.0a1.4 1.4 0 1 0 2.8 0a1.4 1.4 0 1 0-2.8 0M195.4 364.7a1.4 1.4 0 1 0 2.8 0a1.4 1.4 0 1 0-2.8 0M195.8 364.9a1.4 1.4 0 1 0 2.8 0a1.4 1.4 0 1 0-2.8 0M196.1 364.4a1.4 1.4 0 1 0 2.8 0a1.4 1.4 0 1 0-2.8 0M196.5 364.7a1.4 1.4 0 1 0 2.8 0a1.4 1.4 0 1 0-2.8 0M196.8 364.8a1.4 1.4 0 1 0 2.8 0a1.4 1.4 0 1 0-2.8 0M197.2 364.4a1.4 1.4 0 1 0 2.8 0a1.4 1.4 0 1 0-2.8 0M197.5 364.1a1.4 1.4 0 1 0 2.8 0a1.4 1.4 0 1 0-2.8 0M197.9 364.2a1.4 1.4 0 1 0 2.8 0a1.4 1.4 0 1 0-2.8 0M198.2 366.1a1.4 1.4 0 1 0 2.8 0a1.4 1.4 0 1 0-2.8 0M198.6 364.1a1.4 1.4 0 1 0 2.8 0a1.4 1.4 0 1 0-2.8 0M198.9 363.9a1.4 1.4 0 1 0 2.8 0a1.4 1.4 0 1 0-2.8 0M199.3 363.8a1.4 1.4 0 1 0 2.8 0a1.4 1.4 0 1 0-2.8 0M199.6 364.0a1.4 1.4 0 1 0 2.8 0a1.4 1.4 0 1 0-2.8 0M200.0 364.2a1.4 1.4 0 1 0 2.8 0a1.4 1.4 0 1 0-2.8 0M200.3 363.0a1.4 1.4 0 1 0 2.8 0a1.4 1.4 0 1 0-2.8 0M200.7 362.1a1.4 1.4 0 1 0 2.8 0a1.4 1.4 0 1 0-2.8 0M201.0 363.7a1.4 1.4 0 1 0 2.8 0a1.4 1.4 0 1 0-2.8 0M201.4 361.2a1.4 1.4 0 1 0 2.8 0a1.4 1.4 0 1 0-2.8 0M201.7 361.2a1.4 1.4 0 1 0 2.8 0a1.4 1.4 0 1 0-2.8 0M202.1 359.1a1.4 1.4 0 1 0 2.8 0a1.4 1.4 0 1 0-2.8 0M202.4 358.4a1.4 1.4 0 1 0 2.8 0a1.4 1.4 0 1 0-2.8 0M202.8 359.2a1.4 1.4 0 1 0 2.8 0a1.4 1.4 0 1 0-2.8 0M203.1 360.0a1.4 1.4 0 1 0 2.8 0a1.4 1.4 0 1 0-2.8 0M203.5 361.2a1.4 1.4 0 1 0 2.8 0a1.4 1.4 0 1 0-2.8 0M203.8 362.0a1.4 1.4 0 1 0 2.8 0a1.4 1.4 0 1 0-2.8 0M204.2 363.0a1.4 1.4 0 1 0 2.8 0a1.4 1.4 0 1 0-2.8 0M204.5 364.0a1.4 1.4 0 1 0 2.8 0a1.4 1.4 0 1 0-2.8 0M204.9 362.4a1.4 1.4 0 1 0 2.8 0a1.4 1.4 0 1 0-2.8 0M205.2 364.2a1.4 1.4 0 1 0 2.8 0a1.4 1.4 0 1 0-2.8 0M205.6 364.2a1.4 1.4 0 1 0 2.8 0a1.4 1.4 0 1 0-2.8 0M205.9 364.7a1.4 1.4 0 1 0 2.8 0a1.4 1.4 0 1 0-2.8 0M206.3 363.8a1.4 1.4 0 1 0 2.8 0a1.4 1.4 0 1 0-2.8 0M206.6 364.0a1.4 1.4 0 1 0 2.8 0a1.4 1.4 0 1 0-2.8 0M207.0 362.7a1.4 1.4 0 1 0 2.8 0a1.4 1.4 0 1 0-2.8 0M207.3 361.8a1.4 1.4 0 1 0 2.8 0a1.4 1.4 0 1 0-2.8 0M207.7 359.3a1.4 1.4 0 1 0 2.8 0a1.4 1.4 0 1 0-2.8 0M208.0 359.8a1.4 1.4 0 1 0 2.8 0a1.4 1.4 0 1 0-2.8 0M208.4 361.2a1.4 1.4 0 1 0 2.8 0a1.4 1.4 0 1 0-2.8 0M208.7 361.3a1.4 1.4 0 1 0 2.8 0a1.4 1.4 0 1 0-2.8 0M209.1 363.0a1.4 1.4 0 1 0 2.8 0a1.4 1.4 0 1 0-2.8 0M209.4 362.8a1.4 1.4 0 1 0 2.8 0a1.4 1.4 0 1 0-2.8 0M209.8 365.4a1.4 1.4 0 1 0 2.8 0a1.4 1.4 0 1 0-2.8 0M210.1 363.7a1.4 1.4 0 1 0 2.8 0a1.4 1.4 0 1 0-2.8 0M210.5 365.2a1.4 1.4 0 1 0 2.8 0a1.4 1.4 0 1 0-2.8 0M210.8 364.7a1.4 1.4 0 1 0 2.8 0a1.4 1.4 0 1 0-2.8 0M211.2 363.8a1.4 1.4 0 1 0 2.8 0a1.4 1.4 0 1 0-2.8 0M211.5 365.5a1.4 1.4 0 1 0 2.8 0a1.4 1.4 0 1 0-2.8 0M211.9 364.7a1.4 1.4 0 1 0 2.8 0a1.4 1.4 0 1 0-2.8 0M212.2 364.9a1.4 1.4 0 1 0 2.8 0a1.4 1.4 0 1 0-2.8 0M212.6 365.1a1.4 1.4 0 1 0 2.8 0a1.4 1.4 0 1 0-2.8 0M212.9 364.7a1.4 1.4 0 1 0 2.8 0a1.4 1.4 0 1 0-2.8 0M213.3 364.5a1.4 1.4 0 1 0 2.8 0a1.4 1.4 0 1 0-2.8 0M213.6 365.2a1.4 1.4 0 1 0 2.8 0a1.4 1.4 0 1 0-2.8 0M214.0 364.5a1.4 1.4 0 1 0 2.8 0a1.4 1.4 0 1 0-2.8 0M214.3 364.9a1.4 1.4 0 1 0 2.8 0a1.4 1.4 0 1 0-2.8 0M214.7 364.3a1.4 1.4 0 1 0 2.8 0a1.4 1.4 0 1 0-2.8 0M215.0 363.6a1.4 1.4 0 1 0 2.8 0a1.4 1.4 0 1 0-2.8 0M215.4 364.3a1.4 1.4 0 1 0 2.8 0a1.4 1.4 0 1 0-2.8 0M215.7 364.5a1.4 1.4 0 1 0 2.8 0a1.4 1.4 0 1 0-2.8 0M216.1 365.0a1.4 1.4 0 1 0 2.8 0a1.4 1.4 0 1 0-2.8 0M216.4 366.0a1.4 1.4 0 1 0 2.8 0a1.4 1.4 0 1 0-2.8 0M216.8 363.5a1.4 1.4 0 1 0 2.8 0a1.4 1.4 0 1 0-2.8 0M217.1 365.1a1.4 1.4 0 1 0 2.8 0a1.4 1.4 0 1 0-2.8 0M217.5 363.1a1.4 1.4 0 1 0 2.8 0a1.4 1.4 0 1 0-2.8 0M217.8 364.1a1.4 1.4 0 1 0 2.8 0a1.4 1.4 0 1 0-2.8 0M218.2 364.6a1.4 1.4 0 1 0 2.8 0a1.4 1.4 0 1 0-2.8 0M218.5 363.1a1.4 1.4 0 1 0 2.8 0a1.4 1.4 0 1 0-2.8 0M218.9 363.5a1.4 1.4 0 1 0 2.8 0a1.4 1.4 0 1 0-2.8 0M219.2 365.2a1.4 1.4 0 1 0 2.8 0a1.4 1.4 0 1 0-2.8 0M219.6 365.2a1.4 1.4 0 1 0 2.8 0a1.4 1.4 0 1 0-2.8 0M219.9 365.0a1.4 1.4 0 1 0 2.8 0a1.4 1.4 0 1 0-2.8 0M220.3 364.5a1.4 1.4 0 1 0 2.8 0a1.4 1.4 0 1 0-2.8 0M220.6 367.0a1.4 1.4 0 1 0 2.8 0a1.4 1.4 0 1 0-2.8 0M221.0 365.0a1.4 1.4 0 1 0 2.8 0a1.4 1.4 0 1 0-2.8 0M221.3 364.5a1.4 1.4 0 1 0 2.8 0a1.4 1.4 0 1 0-2.8 0M221.7 366.6a1.4 1.4 0 1 0 2.8 0a1.4 1.4 0 1 0-2.8 0M222.0 365.7a1.4 1.4 0 1 0 2.8 0a1.4 1.4 0 1 0-2.8 0M222.4 364.9a1.4 1.4 0 1 0 2.8 0a1.4 1.4 0 1 0-2.8 0M222.7 366.3a1.4 1.4 0 1 0 2.8 0a1.4 1.4 0 1 0-2.8 0M223.1 365.4a1.4 1.4 0 1 0 2.8 0a1.4 1.4 0 1 0-2.8 0M223.4 365.8a1.4 1.4 0 1 0 2.8 0a1.4 1.4 0 1 0-2.8 0M223.8 365.5a1.4 1.4 0 1 0 2.8 0a1.4 1.4 0 1 0-2.8 0M224.1 364.4a1.4 1.4 0 1 0 2.8 0a1.4 1.4 0 1 0-2.8 0M224.5 366.2a1.4 1.4 0 1 0 2.8 0a1.4 1.4 0 1 0-2.8 0M224.8 365.5a1.4 1.4 0 1 0 2.8 0a1.4 1.4 0 1 0-2.8 0M225.2 364.5a1.4 1.4 0 1 0 2.8 0a1.4 1.4 0 1 0-2.8 0M225.5 364.7a1.4 1.4 0 1 0 2.8 0a1.4 1.4 0 1 0-2.8 0M225.9 366.2a1.4 1.4 0 1 0 2.8 0a1.4 1.4 0 1 0-2.8 0M226.2 365.1a1.4 1.4 0 1 0 2.8 0a1.4 1.4 0 1 0-2.8 0M226.6 365.5a1.4 1.4 0 1 0 2.8 0a1.4 1.4 0 1 0-2.8 0M226.9 366.0a1.4 1.4 0 1 0 2.8 0a1.4 1.4 0 1 0-2.8 0M227.3 365.6a1.4 1.4 0 1 0 2.8 0a1.4 1.4 0 1 0-2.8 0M227.6 364.2a1.4 1.4 0 1 0 2.8 0a1.4 1.4 0 1 0-2.8 0M228.0 366.0a1.4 1.4 0 1 0 2.8 0a1.4 1.4 0 1 0-2.8 0M228.3 366.3a1.4 1.4 0 1 0 2.8 0a1.4 1.4 0 1 0-2.8 0M228.7 366.2a1.4 1.4 0 1 0 2.8 0a1.4 1.4 0 1 0-2.8 0M229.0 366.9a1.4 1.4 0 1 0 2.8 0a1.4 1.4 0 1 0-2.8 0M229.4 365.8a1.4 1.4 0 1 0 2.8 0a1.4 1.4 0 1 0-2.8 0M229.7 366.2a1.4 1.4 0 1 0 2.8 0a1.4 1.4 0 1 0-2.8 0M230.1 366.9a1.4 1.4 0 1 0 2.8 0a1.4 1.4 0 1 0-2.8 0M230.4 365.3a1.4 1.4 0 1 0 2.8 0a1.4 1.4 0 1 0-2.8 0M230.8 367.1a1.4 1.4 0 1 0 2.8 0a1.4 1.4 0 1 0-2.8 0M231.1 367.1a1.4 1.4 0 1 0 2.8 0a1.4 1.4 0 1 0-2.8 0M231.5 366.3a1.4 1.4 0 1 0 2.8 0a1.4 1.4 0 1 0-2.8 0M231.8 367.2a1.4 1.4 0 1 0 2.8 0a1.4 1.4 0 1 0-2.8 0M232.2 366.4a1.4 1.4 0 1 0 2.8 0a1.4 1.4 0 1 0-2.8 0M232.5 364.9a1.4 1.4 0 1 0 2.8 0a1.4 1.4 0 1 0-2.8 0M232.9 366.6a1.4 1.4 0 1 0 2.8 0a1.4 1.4 0 1 0-2.8 0M233.2 365.9a1.4 1.4 0 1 0 2.8 0a1.4 1.4 0 1 0-2.8 0M233.6 366.0a1.4 1.4 0 1 0 2.8 0a1.4 1.4 0 1 0-2.8 0M233.9 365.8a1.4 1.4 0 1 0 2.8 0a1.4 1.4 0 1 0-2.8 0M234.3 366.8a1.4 1.4 0 1 0 2.8 0a1.4 1.4 0 1 0-2.8 0M234.6 366.2a1.4 1.4 0 1 0 2.8 0a1.4 1.4 0 1 0-2.8 0M235.0 365.1a1.4 1.4 0 1 0 2.8 0a1.4 1.4 0 1 0-2.8 0M235.3 366.1a1.4 1.4 0 1 0 2.8 0a1.4 1.4 0 1 0-2.8 0M235.7 366.3a1.4 1.4 0 1 0 2.8 0a1.4 1.4 0 1 0-2.8 0M236.0 365.1a1.4 1.4 0 1 0 2.8 0a1.4 1.4 0 1 0-2.8 0M236.4 365.3a1.4 1.4 0 1 0 2.8 0a1.4 1.4 0 1 0-2.8 0M236.7 365.4a1.4 1.4 0 1 0 2.8 0a1.4 1.4 0 1 0-2.8 0M237.1 365.2a1.4 1.4 0 1 0 2.8 0a1.4 1.4 0 1 0-2.8 0M237.4 366.0a1.4 1.4 0 1 0 2.8 0a1.4 1.4 0 1 0-2.8 0M237.8 366.5a1.4 1.4 0 1 0 2.8 0a1.4 1.4 0 1 0-2.8 0M238.1 367.2a1.4 1.4 0 1 0 2.8 0a1.4 1.4 0 1 0-2.8 0M238.5 366.6a1.4 1.4 0 1 0 2.8 0a1.4 1.4 0 1 0-2.8 0M238.8 366.4a1.4 1.4 0 1 0 2.8 0a1.4 1.4 0 1 0-2.8 0M239.2 366.4a1.4 1.4 0 1 0 2.8 0a1.4 1.4 0 1 0-2.8 0M239.5 366.4a1.4 1.4 0 1 0 2.8 0a1.4 1.4 0 1 0-2.8 0M239.9 364.8a1.4 1.4 0 1 0 2.8 0a1.4 1.4 0 1 0-2.8 0M240.2 365.4a1.4 1.4 0 1 0 2.8 0a1.4 1.4 0 1 0-2.8 0M240.6 364.5a1.4 1.4 0 1 0 2.8 0a1.4 1.4 0 1 0-2.8 0M240.9 362.5a1.4 1.4 0 1 0 2.8 0a1.4 1.4 0 1 0-2.8 0M241.3 358.4a1.4 1.4 0 1 0 2.8 0a1.4 1.4 0 1 0-2.8 0M241.6 351.0a1.4 1.4 0 1 0 2.8 0a1.4 1.4 0 1 0-2.8 0M242.0 341.2a1.4 1.4 0 1 0 2.8 0a1.4 1.4 0 1 0-2.8 0M242.3 334.0a1.4 1.4 0 1 0 2.8 0a1.4 1.4 0 1 0-2.8 0M242.7 339.2a1.4 1.4 0 1 0 2.8 0a1.4 1.4 0 1 0-2.8 0M243.0 348.5a1.4 1.4 0 1 0 2.8 0a1.4 1.4 0 1 0-2.8 0M243.4 357.0a1.4 1.4 0 1 0 2.8 0a1.4 1.4 0 1 0-2.8 0M243.7 362.0a1.4 1.4 0 1 0 2.8 0a1.4 1.4 0 1 0-2.8 0M244.1 364.3a1.4 1.4 0 1 0 2.8 0a1.4 1.4 0 1 0-2.8 0M244.4 364.0a1.4 1.4 0 1 0 2.8 0a1.4 1.4 0 1 0-2.8 0M244.8 364.7a1.4 1.4 0 1 0 2.8 0a1.4 1.4 0 1 0-2.8 0M245.1 363.5a1.4 1.4 0 1 0 2.8 0a1.4 1.4 0 1 0-2.8 0M245.5 363.0a1.4 1.4 0 1 0 2.8 0a1.4 1.4 0 1 0-2.8 0M245.8 363.1a1.4 1.4 0 1 0 2.8 0a1.4 1.4 0 1 0-2.8 0M246.2 365.6a1.4 1.4 0 1 0 2.8 0a1.4 1.4 0 1 0-2.8 0M246.5 361.6a1.4 1.4 0 1 0 2.8 0a1.4 1.4 0 1 0-2.8 0M246.9 361.0a1.4 1.4 0 1 0 2.8 0a1.4 1.4 0 1 0-2.8 0M247.2 357.3a1.4 1.4 0 1 0 2.8 0a1.4 1.4 0 1 0-2.8 0M247.6 350.1a1.4 1.4 0 1 0 2.8 0a1.4 1.4 0 1 0-2.8 0M247.9 348.3a1.4 1.4 0 1 0 2.8 0a1.4 1.4 0 1 0-2.8 0M248.3 350.4a1.4 1.4 0 1 0 2.8 0a1.4 1.4 0 1 0-2.8 0M248.6 355.0a1.4 1.4 0 1 0 2.8 0a1.4 1.4 0 1 0-2.8 0M249.0 361.3a1.4 1.4 0 1 0 2.8 0a1.4 1.4 0 1 0-2.8 0M249.3 363.2a1.4 1.4 0 1 0 2.8 0a1.4 1.4 0 1 0-2.8 0M249.7 363.7a1.4 1.4 0 1 0 2.8 0a1.4 1.4 0 1 0-2.8 0M250.0 365.5a1.4 1.4 0 1 0 2.8 0a1.4 1.4 0 1 0-2.8 0M250.4 364.9a1.4 1.4 0 1 0 2.8 0a1.4 1.4 0 1 0-2.8 0M250.7 364.4a1.4 1.4 0 1 0 2.8 0a1.4 1.4 0 1 0-2.8 0M251.1 364.5a1.4 1.4 0 1 0 2.8 0a1.4 1.4 0 1 0-2.8 0M251.4 367.6a1.4 1.4 0 1 0 2.8 0a1.4 1.4 0 1 0-2.8 0M251.8 365.3a1.4 1.4 0 1 0 2.8 0a1.4 1.4 0 1 0-2.8 0M252.1 365.8a1.4 1.4 0 1 0 2.8 0a1.4 1.4 0 1 0-2.8 0M252.5 365.3a1.4 1.4 0 1 0 2.8 0a1.4 1.4 0 1 0-2.8 0M252.8 366.0a1.4 1.4 0 1 0 2.8 0a1.4 1.4 0 1 0-2.8 0M253.2 365.7a1.4 1.4 0 1 0 2.8 0a1.4 1.4 0 1 0-2.8 0M253.5 365.6a1.4 1.4 0 1 0 2.8 0a1.4 1.4 0 1 0-2.8 0M253.9 364.9a1.4 1.4 0 1 0 2.8 0a1.4 1.4 0 1 0-2.8 0M254.2 364.7a1.4 1.4 0 1 0 2.8 0a1.4 1.4 0 1 0-2.8 0M254.6 365.3a1.4 1.4 0 1 0 2.8 0a1.4 1.4 0 1 0-2.8 0M254.9 366.2a1.4 1.4 0 1 0 2.8 0a1.4 1.4 0 1 0-2.8 0M255.3 367.7a1.4 1.4 0 1 0 2.8 0a1.4 1.4 0 1 0-2.8 0M255.6 366.9a1.4 1.4 0 1 0 2.8 0a1.4 1.4 0 1 0-2.8 0M256.0 367.6a1.4 1.4 0 1 0 2.8 0a1.4 1.4 0 1 0-2.8 0M256.3 366.4a1.4 1.4 0 1 0 2.8 0a1.4 1.4 0 1 0-2.8 0M256.7 365.9a1.4 1.4 0 1 0 2.8 0a1.4 1.4 0 1 0-2.8 0M257.0 364.9a1.4 1.4 0 1 0 2.8 0a1.4 1.4 0 1 0-2.8 0M257.4 366.0a1.4 1.4 0 1 0 2.8 0a1.4 1.4 0 1 0-2.8 0M257.7 364.2a1.4 1.4 0 1 0 2.8 0a1.4 1.4 0 1 0-2.8 0M258.1 365.8a1.4 1.4 0 1 0 2.8 0a1.4 1.4 0 1 0-2.8 0M258.4 367.4a1.4 1.4 0 1 0 2.8 0a1.4 1.4 0 1 0-2.8 0M258.8 366.3a1.4 1.4 0 1 0 2.8 0a1.4 1.4 0 1 0-2.8 0M259.1 367.0a1.4 1.4 0 1 0 2.8 0a1.4 1.4 0 1 0-2.8 0M259.5 365.7a1.4 1.4 0 1 0 2.8 0a1.4 1.4 0 1 0-2.8 0M259.8 364.9a1.4 1.4 0 1 0 2.8 0a1.4 1.4 0 1 0-2.8 0M260.2 365.6a1.4 1.4 0 1 0 2.8 0a1.4 1.4 0 1 0-2.8 0M260.5 365.7a1.4 1.4 0 1 0 2.8 0a1.4 1.4 0 1 0-2.8 0M260.9 367.1a1.4 1.4 0 1 0 2.8 0a1.4 1.4 0 1 0-2.8 0M261.2 367.7a1.4 1.4 0 1 0 2.8 0a1.4 1.4 0 1 0-2.8 0M261.6 365.4a1.4 1.4 0 1 0 2.8 0a1.4 1.4 0 1 0-2.8 0M261.9 365.7a1.4 1.4 0 1 0 2.8 0a1.4 1.4 0 1 0-2.8 0M262.3 365.9a1.4 1.4 0 1 0 2.8 0a1.4 1.4 0 1 0-2.8 0M262.6 365.7a1.4 1.4 0 1 0 2.8 0a1.4 1.4 0 1 0-2.8 0M263.0 365.0a1.4 1.4 0 1 0 2.8 0a1.4 1.4 0 1 0-2.8 0M263.3 366.1a1.4 1.4 0 1 0 2.8 0a1.4 1.4 0 1 0-2.8 0M263.7 366.3a1.4 1.4 0 1 0 2.8 0a1.4 1.4 0 1 0-2.8 0M264.0 366.3a1.4 1.4 0 1 0 2.8 0a1.4 1.4 0 1 0-2.8 0M264.4 364.8a1.4 1.4 0 1 0 2.8 0a1.4 1.4 0 1 0-2.8 0M264.7 365.7a1.4 1.4 0 1 0 2.8 0a1.4 1.4 0 1 0-2.8 0M265.1 364.0a1.4 1.4 0 1 0 2.8 0a1.4 1.4 0 1 0-2.8 0M265.4 365.8a1.4 1.4 0 1 0 2.8 0a1.4 1.4 0 1 0-2.8 0M265.8 363.3a1.4 1.4 0 1 0 2.8 0a1.4 1.4 0 1 0-2.8 0M266.1 362.8a1.4 1.4 0 1 0 2.8 0a1.4 1.4 0 1 0-2.8 0M266.5 361.2a1.4 1.4 0 1 0 2.8 0a1.4 1.4 0 1 0-2.8 0M266.8 359.9a1.4 1.4 0 1 0 2.8 0a1.4 1.4 0 1 0-2.8 0M267.2 359.3a1.4 1.4 0 1 0 2.8 0a1.4 1.4 0 1 0-2.8 0M267.5 359.6a1.4 1.4 0 1 0 2.8 0a1.4 1.4 0 1 0-2.8 0M267.9 364.0a1.4 1.4 0 1 0 2.8 0a1.4 1.4 0 1 0-2.8 0M268.2 364.1a1.4 1.4 0 1 0 2.8 0a1.4 1.4 0 1 0-2.8 0M268.6 365.0a1.4 1.4 0 1 0 2.8 0a1.4 1.4 0 1 0-2.8 0M268.9 367.2a1.4 1.4 0 1 0 2.8 0a1.4 1.4 0 1 0-2.8 0M269.3 365.6a1.4 1.4 0 1 0 2.8 0a1.4 1.4 0 1 0-2.8 0M269.6 366.3a1.4 1.4 0 1 0 2.8 0a1.4 1.4 0 1 0-2.8 0M270.0 366.0a1.4 1.4 0 1 0 2.8 0a1.4 1.4 0 1 0-2.8 0M270.3 367.0a1.4 1.4 0 1 0 2.8 0a1.4 1.4 0 1 0-2.8 0M270.7 366.4a1.4 1.4 0 1 0 2.8 0a1.4 1.4 0 1 0-2.8 0M271.0 366.3a1.4 1.4 0 1 0 2.8 0a1.4 1.4 0 1 0-2.8 0M271.4 365.8a1.4 1.4 0 1 0 2.8 0a1.4 1.4 0 1 0-2.8 0M271.7 366.3a1.4 1.4 0 1 0 2.8 0a1.4 1.4 0 1 0-2.8 0M272.1 367.1a1.4 1.4 0 1 0 2.8 0a1.4 1.4 0 1 0-2.8 0M272.4 364.3a1.4 1.4 0 1 0 2.8 0a1.4 1.4 0 1 0-2.8 0M272.8 366.0a1.4 1.4 0 1 0 2.8 0a1.4 1.4 0 1 0-2.8 0M273.1 365.7a1.4 1.4 0 1 0 2.8 0a1.4 1.4 0 1 0-2.8 0M273.5 365.8a1.4 1.4 0 1 0 2.8 0a1.4 1.4 0 1 0-2.8 0M273.8 364.4a1.4 1.4 0 1 0 2.8 0a1.4 1.4 0 1 0-2.8 0M274.2 366.7a1.4 1.4 0 1 0 2.8 0a1.4 1.4 0 1 0-2.8 0M274.5 365.3a1.4 1.4 0 1 0 2.8 0a1.4 1.4 0 1 0-2.8 0M274.9 365.8a1.4 1.4 0 1 0 2.8 0a1.4 1.4 0 1 0-2.8 0M275.2 365.5a1.4 1.4 0 1 0 2.8 0a1.4 1.4 0 1 0-2.8 0M275.6 364.5a1.4 1.4 0 1 0 2.8 0a1.4 1.4 0 1 0-2.8 0M275.9 365.4a1.4 1.4 0 1 0 2.8 0a1.4 1.4 0 1 0-2.8 0M276.3 364.1a1.4 1.4 0 1 0 2.8 0a1.4 1.4 0 1 0-2.8 0M276.6 364.4a1.4 1.4 0 1 0 2.8 0a1.4 1.4 0 1 0-2.8 0M277.0 363.9a1.4 1.4 0 1 0 2.8 0a1.4 1.4 0 1 0-2.8 0M277.3 362.2a1.4 1.4 0 1 0 2.8 0a1.4 1.4 0 1 0-2.8 0M277.7 359.2a1.4 1.4 0 1 0 2.8 0a1.4 1.4 0 1 0-2.8 0M278.0 356.0a1.4 1.4 0 1 0 2.8 0a1.4 1.4 0 1 0-2.8 0M278.4 357.2a1.4 1.4 0 1 0 2.8 0a1.4 1.4 0 1 0-2.8 0M278.7 358.0a1.4 1.4 0 1 0 2.8 0a1.4 1.4 0 1 0-2.8 0M279.1 359.8a1.4 1.4 0 1 0 2.8 0a1.4 1.4 0 1 0-2.8 0M279.4 362.9a1.4 1.4 0 1 0 2.8 0a1.4 1.4 0 1 0-2.8 0M279.8 364.3a1.4 1.4 0 1 0 2.8 0a1.4 1.4 0 1 0-2.8 0M280.1 365.4a1.4 1.4 0 1 0 2.8 0a1.4 1.4 0 1 0-2.8 0M280.5 365.3a1.4 1.4 0 1 0 2.8 0a1.4 1.4 0 1 0-2.8 0M280.8 365.2a1.4 1.4 0 1 0 2.8 0a1.4 1.4 0 1 0-2.8 0M281.2 367.4a1.4 1.4 0 1 0 2.8 0a1.4 1.4 0 1 0-2.8 0M281.5 366.1a1.4 1.4 0 1 0 2.8 0a1.4 1.4 0 1 0-2.8 0M281.9 365.8a1.4 1.4 0 1 0 2.8 0a1.4 1.4 0 1 0-2.8 0M282.2 365.9a1.4 1.4 0 1 0 2.8 0a1.4 1.4 0 1 0-2.8 0M282.6 366.0a1.4 1.4 0 1 0 2.8 0a1.4 1.4 0 1 0-2.8 0M282.9 367.4a1.4 1.4 0 1 0 2.8 0a1.4 1.4 0 1 0-2.8 0M283.3 366.6a1.4 1.4 0 1 0 2.8 0a1.4 1.4 0 1 0-2.8 0M283.6 367.2a1.4 1.4 0 1 0 2.8 0a1.4 1.4 0 1 0-2.8 0M284.0 363.6a1.4 1.4 0 1 0 2.8 0a1.4 1.4 0 1 0-2.8 0M284.3 366.5a1.4 1.4 0 1 0 2.8 0a1.4 1.4 0 1 0-2.8 0M284.7 367.1a1.4 1.4 0 1 0 2.8 0a1.4 1.4 0 1 0-2.8 0M285.0 367.9a1.4 1.4 0 1 0 2.8 0a1.4 1.4 0 1 0-2.8 0M285.4 366.3a1.4 1.4 0 1 0 2.8 0a1.4 1.4 0 1 0-2.8 0M285.7 364.8a1.4 1.4 0 1 0 2.8 0a1.4 1.4 0 1 0-2.8 0M286.1 366.8a1.4 1.4 0 1 0 2.8 0a1.4 1.4 0 1 0-2.8 0M286.4 365.8a1.4 1.4 0 1 0 2.8 0a1.4 1.4 0 1 0-2.8 0M286.8 364.8a1.4 1.4 0 1 0 2.8 0a1.4 1.4 0 1 0-2.8 0M287.1 365.8a1.4 1.4 0 1 0 2.8 0a1.4 1.4 0 1 0-2.8 0M287.5 367.2a1.4 1.4 0 1 0 2.8 0a1.4 1.4 0 1 0-2.8 0M287.8 367.3a1.4 1.4 0 1 0 2.8 0a1.4 1.4 0 1 0-2.8 0M288.2 366.9a1.4 1.4 0 1 0 2.8 0a1.4 1.4 0 1 0-2.8 0M288.5 365.4a1.4 1.4 0 1 0 2.8 0a1.4 1.4 0 1 0-2.8 0M288.9 368.4a1.4 1.4 0 1 0 2.8 0a1.4 1.4 0 1 0-2.8 0M289.2 365.3a1.4 1.4 0 1 0 2.8 0a1.4 1.4 0 1 0-2.8 0M289.6 366.2a1.4 1.4 0 1 0 2.8 0a1.4 1.4 0 1 0-2.8 0M289.9 365.1a1.4 1.4 0 1 0 2.8 0a1.4 1.4 0 1 0-2.8 0M290.3 367.4a1.4 1.4 0 1 0 2.8 0a1.4 1.4 0 1 0-2.8 0M290.6 366.7a1.4 1.4 0 1 0 2.8 0a1.4 1.4 0 1 0-2.8 0M291.0 367.1a1.4 1.4 0 1 0 2.8 0a1.4 1.4 0 1 0-2.8 0M291.3 366.4a1.4 1.4 0 1 0 2.8 0a1.4 1.4 0 1 0-2.8 0M291.7 366.3a1.4 1.4 0 1 0 2.8 0a1.4 1.4 0 1 0-2.8 0M292.0 366.5a1.4 1.4 0 1 0 2.8 0a1.4 1.4 0 1 0-2.8 0M292.4 364.7a1.4 1.4 0 1 0 2.8 0a1.4 1.4 0 1 0-2.8 0M292.7 367.2a1.4 1.4 0 1 0 2.8 0a1.4 1.4 0 1 0-2.8 0M293.1 367.1a1.4 1.4 0 1 0 2.8 0a1.4 1.4 0 1 0-2.8 0M293.4 366.0a1.4 1.4 0 1 0 2.8 0a1.4 1.4 0 1 0-2.8 0M293.8 366.3a1.4 1.4 0 1 0 2.8 0a1.4 1.4 0 1 0-2.8 0M294.1 366.6a1.4 1.4 0 1 0 2.8 0a1.4 1.4 0 1 0-2.8 0M294.5 367.7a1.4 1.4 0 1 0 2.8 0a1.4 1.4 0 1 0-2.8 0M294.8 366.7a1.4 1.4 0 1 0 2.8 0a1.4 1.4 0 1 0-2.8 0M295.2 366.4a1.4 1.4 0 1 0 2.8 0a1.4 1.4 0 1 0-2.8 0M295.5 365.9a1.4 1.4 0 1 0 2.8 0a1.4 1.4 0 1 0-2.8 0M295.9 365.1a1.4 1.4 0 1 0 2.8 0a1.4 1.4 0 1 0-2.8 0M296.2 365.9a1.4 1.4 0 1 0 2.8 0a1.4 1.4 0 1 0-2.8 0M296.6 366.4a1.4 1.4 0 1 0 2.8 0a1.4 1.4 0 1 0-2.8 0M296.9 366.2a1.4 1.4 0 1 0 2.8 0a1.4 1.4 0 1 0-2.8 0M297.3 366.4a1.4 1.4 0 1 0 2.8 0a1.4 1.4 0 1 0-2.8 0M297.6 367.0a1.4 1.4 0 1 0 2.8 0a1.4 1.4 0 1 0-2.8 0M298.0 366.8a1.4 1.4 0 1 0 2.8 0a1.4 1.4 0 1 0-2.8 0M298.3 366.6a1.4 1.4 0 1 0 2.8 0a1.4 1.4 0 1 0-2.8 0M298.7 366.9a1.4 1.4 0 1 0 2.8 0a1.4 1.4 0 1 0-2.8 0M299.0 366.5a1.4 1.4 0 1 0 2.8 0a1.4 1.4 0 1 0-2.8 0M299.4 366.4a1.4 1.4 0 1 0 2.8 0a1.4 1.4 0 1 0-2.8 0M299.7 366.8a1.4 1.4 0 1 0 2.8 0a1.4 1.4 0 1 0-2.8 0M300.1 364.9a1.4 1.4 0 1 0 2.8 0a1.4 1.4 0 1 0-2.8 0M300.4 367.5a1.4 1.4 0 1 0 2.8 0a1.4 1.4 0 1 0-2.8 0M300.8 365.3a1.4 1.4 0 1 0 2.8 0a1.4 1.4 0 1 0-2.8 0M301.1 367.1a1.4 1.4 0 1 0 2.8 0a1.4 1.4 0 1 0-2.8 0M301.5 366.4a1.4 1.4 0 1 0 2.8 0a1.4 1.4 0 1 0-2.8 0M301.8 367.3a1.4 1.4 0 1 0 2.8 0a1.4 1.4 0 1 0-2.8 0M302.2 366.4a1.4 1.4 0 1 0 2.8 0a1.4 1.4 0 1 0-2.8 0M302.5 365.6a1.4 1.4 0 1 0 2.8 0a1.4 1.4 0 1 0-2.8 0M302.9 367.3a1.4 1.4 0 1 0 2.8 0a1.4 1.4 0 1 0-2.8 0M303.2 366.6a1.4 1.4 0 1 0 2.8 0a1.4 1.4 0 1 0-2.8 0M303.6 366.5a1.4 1.4 0 1 0 2.8 0a1.4 1.4 0 1 0-2.8 0M303.9 366.5a1.4 1.4 0 1 0 2.8 0a1.4 1.4 0 1 0-2.8 0M304.3 367.3a1.4 1.4 0 1 0 2.8 0a1.4 1.4 0 1 0-2.8 0M304.6 367.1a1.4 1.4 0 1 0 2.8 0a1.4 1.4 0 1 0-2.8 0M305.0 366.6a1.4 1.4 0 1 0 2.8 0a1.4 1.4 0 1 0-2.8 0M305.3 365.1a1.4 1.4 0 1 0 2.8 0a1.4 1.4 0 1 0-2.8 0M305.7 366.1a1.4 1.4 0 1 0 2.8 0a1.4 1.4 0 1 0-2.8 0M306.0 366.5a1.4 1.4 0 1 0 2.8 0a1.4 1.4 0 1 0-2.8 0M306.4 367.9a1.4 1.4 0 1 0 2.8 0a1.4 1.4 0 1 0-2.8 0M306.7 366.7a1.4 1.4 0 1 0 2.8 0a1.4 1.4 0 1 0-2.8 0M307.1 366.3a1.4 1.4 0 1 0 2.8 0a1.4 1.4 0 1 0-2.8 0M307.4 367.4a1.4 1.4 0 1 0 2.8 0a1.4 1.4 0 1 0-2.8 0M307.8 366.3a1.4 1.4 0 1 0 2.8 0a1.4 1.4 0 1 0-2.8 0M308.1 366.4a1.4 1.4 0 1 0 2.8 0a1.4 1.4 0 1 0-2.8 0M308.5 366.5a1.4 1.4 0 1 0 2.8 0a1.4 1.4 0 1 0-2.8 0M308.8 365.1a1.4 1.4 0 1 0 2.8 0a1.4 1.4 0 1 0-2.8 0M309.2 367.1a1.4 1.4 0 1 0 2.8 0a1.4 1.4 0 1 0-2.8 0M309.5 366.6a1.4 1.4 0 1 0 2.8 0a1.4 1.4 0 1 0-2.8 0M309.9 365.9a1.4 1.4 0 1 0 2.8 0a1.4 1.4 0 1 0-2.8 0M310.2 364.9a1.4 1.4 0 1 0 2.8 0a1.4 1.4 0 1 0-2.8 0M310.6 365.5a1.4 1.4 0 1 0 2.8 0a1.4 1.4 0 1 0-2.8 0M310.9 365.8a1.4 1.4 0 1 0 2.8 0a1.4 1.4 0 1 0-2.8 0M311.3 363.1a1.4 1.4 0 1 0 2.8 0a1.4 1.4 0 1 0-2.8 0M311.6 361.9a1.4 1.4 0 1 0 2.8 0a1.4 1.4 0 1 0-2.8 0M312.0 362.8a1.4 1.4 0 1 0 2.8 0a1.4 1.4 0 1 0-2.8 0M312.3 361.6a1.4 1.4 0 1 0 2.8 0a1.4 1.4 0 1 0-2.8 0M312.7 362.0a1.4 1.4 0 1 0 2.8 0a1.4 1.4 0 1 0-2.8 0M313.0 364.4a1.4 1.4 0 1 0 2.8 0a1.4 1.4 0 1 0-2.8 0M313.4 364.9a1.4 1.4 0 1 0 2.8 0a1.4 1.4 0 1 0-2.8 0M313.7 365.7a1.4 1.4 0 1 0 2.8 0a1.4 1.4 0 1 0-2.8 0M314.1 365.7a1.4 1.4 0 1 0 2.8 0a1.4 1.4 0 1 0-2.8 0M314.4 366.6a1.4 1.4 0 1 0 2.8 0a1.4 1.4 0 1 0-2.8 0M314.8 366.2a1.4 1.4 0 1 0 2.8 0a1.4 1.4 0 1 0-2.8 0M315.1 365.9a1.4 1.4 0 1 0 2.8 0a1.4 1.4 0 1 0-2.8 0M315.5 366.0a1.4 1.4 0 1 0 2.8 0a1.4 1.4 0 1 0-2.8 0M315.8 367.0a1.4 1.4 0 1 0 2.8 0a1.4 1.4 0 1 0-2.8 0M316.2 367.3a1.4 1.4 0 1 0 2.8 0a1.4 1.4 0 1 0-2.8 0M316.5 367.2a1.4 1.4 0 1 0 2.8 0a1.4 1.4 0 1 0-2.8 0M316.9 367.1a1.4 1.4 0 1 0 2.8 0a1.4 1.4 0 1 0-2.8 0M317.2 363.7a1.4 1.4 0 1 0 2.8 0a1.4 1.4 0 1 0-2.8 0M317.6 365.6a1.4 1.4 0 1 0 2.8 0a1.4 1.4 0 1 0-2.8 0M317.9 366.2a1.4 1.4 0 1 0 2.8 0a1.4 1.4 0 1 0-2.8 0M318.3 366.7a1.4 1.4 0 1 0 2.8 0a1.4 1.4 0 1 0-2.8 0M318.6 365.1a1.4 1.4 0 1 0 2.8 0a1.4 1.4 0 1 0-2.8 0M319.0 367.7a1.4 1.4 0 1 0 2.8 0a1.4 1.4 0 1 0-2.8 0M319.3 366.8a1.4 1.4 0 1 0 2.8 0a1.4 1.4 0 1 0-2.8 0M319.7 366.0a1.4 1.4 0 1 0 2.8 0a1.4 1.4 0 1 0-2.8 0M320.0 366.6a1.4 1.4 0 1 0 2.8 0a1.4 1.4 0 1 0-2.8 0M320.4 366.2a1.4 1.4 0 1 0 2.8 0a1.4 1.4 0 1 0-2.8 0M320.7 365.9a1.4 1.4 0 1 0 2.8 0a1.4 1.4 0 1 0-2.8 0M321.1 366.9a1.4 1.4 0 1 0 2.8 0a1.4 1.4 0 1 0-2.8 0M321.4 366.1a1.4 1.4 0 1 0 2.8 0a1.4 1.4 0 1 0-2.8 0M321.8 365.3a1.4 1.4 0 1 0 2.8 0a1.4 1.4 0 1 0-2.8 0M322.1 366.0a1.4 1.4 0 1 0 2.8 0a1.4 1.4 0 1 0-2.8 0M322.5 366.4a1.4 1.4 0 1 0 2.8 0a1.4 1.4 0 1 0-2.8 0M322.8 365.6a1.4 1.4 0 1 0 2.8 0a1.4 1.4 0 1 0-2.8 0M323.2 367.6a1.4 1.4 0 1 0 2.8 0a1.4 1.4 0 1 0-2.8 0M323.5 365.6a1.4 1.4 0 1 0 2.8 0a1.4 1.4 0 1 0-2.8 0M323.9 368.0a1.4 1.4 0 1 0 2.8 0a1.4 1.4 0 1 0-2.8 0M324.2 367.3a1.4 1.4 0 1 0 2.8 0a1.4 1.4 0 1 0-2.8 0M324.6 365.7a1.4 1.4 0 1 0 2.8 0a1.4 1.4 0 1 0-2.8 0M324.9 366.6a1.4 1.4 0 1 0 2.8 0a1.4 1.4 0 1 0-2.8 0M325.3 367.5a1.4 1.4 0 1 0 2.8 0a1.4 1.4 0 1 0-2.8 0M325.6 366.3a1.4 1.4 0 1 0 2.8 0a1.4 1.4 0 1 0-2.8 0M326.0 365.4a1.4 1.4 0 1 0 2.8 0a1.4 1.4 0 1 0-2.8 0M326.3 366.5a1.4 1.4 0 1 0 2.8 0a1.4 1.4 0 1 0-2.8 0M326.7 368.1a1.4 1.4 0 1 0 2.8 0a1.4 1.4 0 1 0-2.8 0M327.0 365.0a1.4 1.4 0 1 0 2.8 0a1.4 1.4 0 1 0-2.8 0M327.4 366.7a1.4 1.4 0 1 0 2.8 0a1.4 1.4 0 1 0-2.8 0M327.7 366.1a1.4 1.4 0 1 0 2.8 0a1.4 1.4 0 1 0-2.8 0M328.1 365.6a1.4 1.4 0 1 0 2.8 0a1.4 1.4 0 1 0-2.8 0M328.4 364.6a1.4 1.4 0 1 0 2.8 0a1.4 1.4 0 1 0-2.8 0M328.8 363.1a1.4 1.4 0 1 0 2.8 0a1.4 1.4 0 1 0-2.8 0M329.1 361.9a1.4 1.4 0 1 0 2.8 0a1.4 1.4 0 1 0-2.8 0M329.5 358.8a1.4 1.4 0 1 0 2.8 0a1.4 1.4 0 1 0-2.8 0M329.8 355.8a1.4 1.4 0 1 0 2.8 0a1.4 1.4 0 1 0-2.8 0M330.2 358.8a1.4 1.4 0 1 0 2.8 0a1.4 1.4 0 1 0-2.8 0M330.5 358.9a1.4 1.4 0 1 0 2.8 0a1.4 1.4 0 1 0-2.8 0M330.9 363.1a1.4 1.4 0 1 0 2.8 0a1.4 1.4 0 1 0-2.8 0M331.2 364.6a1.4 1.4 0 1 0 2.8 0a1.4 1.4 0 1 0-2.8 0M331.6 366.5a1.4 1.4 0 1 0 2.8 0a1.4 1.4 0 1 0-2.8 0M331.9 366.3a1.4 1.4 0 1 0 2.8 0a1.4 1.4 0 1 0-2.8 0M332.3 367.1a1.4 1.4 0 1 0 2.8 0a1.4 1.4 0 1 0-2.8 0M332.6 366.3a1.4 1.4 0 1 0 2.8 0a1.4 1.4 0 1 0-2.8 0M333.0 367.2a1.4 1.4 0 1 0 2.8 0a1.4 1.4 0 1 0-2.8 0M333.3 366.7a1.4 1.4 0 1 0 2.8 0a1.4 1.4 0 1 0-2.8 0M333.7 368.3a1.4 1.4 0 1 0 2.8 0a1.4 1.4 0 1 0-2.8 0M334.0 365.9a1.4 1.4 0 1 0 2.8 0a1.4 1.4 0 1 0-2.8 0M334.4 367.5a1.4 1.4 0 1 0 2.8 0a1.4 1.4 0 1 0-2.8 0M334.7 366.9a1.4 1.4 0 1 0 2.8 0a1.4 1.4 0 1 0-2.8 0M335.1 366.7a1.4 1.4 0 1 0 2.8 0a1.4 1.4 0 1 0-2.8 0M335.4 366.1a1.4 1.4 0 1 0 2.8 0a1.4 1.4 0 1 0-2.8 0M335.8 367.0a1.4 1.4 0 1 0 2.8 0a1.4 1.4 0 1 0-2.8 0M336.1 365.3a1.4 1.4 0 1 0 2.8 0a1.4 1.4 0 1 0-2.8 0" fill="none" stroke="#f01818" stroke-width="0.45" opacity="0.55"/>
<path d="M58.2 371.2L58.6 371.4 58.9 371.1 59.3 371.5 59.6 371.2 60.0 371.2 60.3 371.1 60.7 371.1 61.0 371.0 61.4 370.9 61.7 370.9 62.1 371.1 62.4 371.0 62.8 371.0 63.1 370.8 63.5 370.7 63.8 370.4 64.2 370.7 64.5 370.7 64.9 370.5 65.2 370.6 65.6 370.7 65.9 370.5 66.3 370.6 66.6 370.4 67.0 370.0 67.3 370.2 67.7 370.2 68.0 370.3 68.4 370.0 68.7 370.0 69.1 369.9 69.4 370.0 69.8 370.0 70.1 370.1 70.5 370.0 70.8 369.9 71.2 369.8 71.5 369.8 71.9 369.7 72.2 369.9 72.6 369.2 72.9 369.5 73.3 369.6 73.6 369.6 74.0 369.3 74.3 369.4 74.7 369.5 75.0 369.2 75.4 368.9 75.7 369.1 76.1 368.9 76.4 369.2 76.8 368.9 77.1 369.2 77.5 368.9 77.8 368.7 78.2 368.6 78.5 368.4 78.9 368.5 79.2 368.5 79.6 368.0 79.9 367.7 80.3 366.0 80.6 361.3 81.0 351.1 81.3 341.5 81.7 347.9 82.0 359.2 82.4 364.9 82.7 366.8 83.1 367.4 83.4 367.9 83.8 367.8 84.1 367.9 84.5 368.0 84.8 368.0 85.2 368.0 85.5 367.9 85.9 368.1 86.2 367.7 86.6 368.1 86.9 367.8 87.3 367.7 87.6 367.8 88.0 367.8 88.3 367.4 88.7 367.7 89.0 367.4 89.4 367.4 89.7 367.6 90.1 367.3 90.4 367.5 90.8 367.3 91.1 367.6 91.5 367.3 91.8 367.1 92.2 367.0 92.5 367.0 92.9 367.1 93.2 367.1 93.6 367.2 93.9 367.0 94.3 366.9 94.6 366.9 95.0 366.8 95.3 366.8 95.7 366.9 96.0 366.8 96.4 366.6 96.7 366.3 97.1 366.4 97.4 366.6 97.8 366.1 98.1 366.3 98.5 366.4 98.8 366.2 99.2 366.1 99.5 366.5 99.9 366.4 100.2 366.1 100.6 366.3 100.9 366.2 101.3 365.8 101.6 366.4 102.0 365.8 102.3 365.8 102.7 365.6 103.0 365.8 103.4 365.5 103.7 365.7 104.1 365.8 104.4 365.6 104.8 365.5 105.1 365.7 105.5 365.3 105.8 365.5 106.2 365.3 106.5 365.3 106.9 365.3 107.2 365.2 107.6 365.2 107.9 365.0 108.3 365.0 108.6 365.1 109.0 365.0 109.3 364.8 109.7 364.8 110.0 364.7 110.4 364.8 110.7 364.8 111.1 364.7 111.4 364.5 111.8 364.6 112.1 364.3 112.5 364.1 112.8 364.4 113.2 364.2 113.5 364.2 113.9 364.1 114.2 364.4 114.6 364.0 114.9 364.2 115.3 364.1 115.6 363.9 116.0 363.8 116.3 364.1 116.7 364.0 117.0 364.0 117.4 364.1 117.7 363.8 118.1 363.8 118.4 363.7 118.8 363.7 119.1 363.6 119.5 363.4 119.8 363.8 120.2 363.2 120.5 363.5 120.9 363.5 121.2 363.5 121.6 363.3 121.9 363.4 122.3 363.4 122.6 363.3 123.0 363.4 123.3 363.4 123.7 363.3 124.0 363.5 124.4 363.2 124.7 363.4 125.1 363.3 125.4 363.4 125.8 363.4 126.1 363.4 126.5 363.2 126.8 363.2 127.2 363.2 127.5 363.3 127.9 363.4 128.2 363.5 128.6 363.2 128.9 363.3 129.3 363.0 129.6 362.9 130.0 363.1 130.3 363.1 130.7 363.0 131.0 363.0 131.4 363.3 131.7 363.1 132.1 362.9 132.4 363.5 132.8 363.2 133.1 363.1 133.5 363.3 133.8 363.0 134.2 363.4 134.5 362.9 134.9 362.9 135.2 363.1 135.6 363.0 135.9 363.3 136.3 362.8 136.6 363.0 137.0 363.1 137.3 363.1 137.7 363.2 138.0 363.1 138.4 363.4 138.7 363.0 139.1 363.0 139.4 363.1 139.8 362.9 140.1 362.9 140.5 362.9 140.8 362.9 141.2 362.8 141.5 362.9 141.9 362.7 142.2 363.0 142.6 362.7 142.9 363.2 143.3 363.1 143.6 363.0 144.0 362.8 144.3 362.8 144.7 363.0 145.0 362.9 145.4 362.9 145.7 362.7 146.1 362.9 146.4 362.6 146.8 362.8 147.1 362.5 147.5 362.6 147.8 362.8 148.2 362.6 148.5 362.6 148.9 362.7 149.2 362.6 149.6 362.7 149.9 362.1 150.3 362.5 150.6 362.5 151.0 362.1 151.3 362.1 151.7 362.3 152.0 361.8 152.4 361.6 152.7 361.4 153.1 360.5 153.4 358.4 153.8 352.1 154.1 340.2 154.5 325.4 154.8 320.4 155.2 331.3 155.5 346.4 155.9 355.6 156.2 359.4 156.6 361.2 156.9 361.2 157.3 362.0 157.6 361.8 158.0 362.2 158.3 361.9 158.7 361.7 159.0 361.6 159.4 360.8 159.7 358.4 160.1 352.8 160.4 343.4 160.8 336.4 161.1 339.3 161.5 348.5 161.8 356.1 162.2 360.0 162.5 361.7 162.9 362.3 163.2 362.3 163.6 362.4 163.9 362.9 164.3 362.6 164.6 362.9 165.0 362.8 165.3 362.7 165.7 363.0 166.0 363.0 166.4 363.3 166.7 363.4 167.1 363.1 167.4 363.3 167.8 363.3 168.1 363.1 168.5 363.1 168.8 363.5 169.2 363.2 169.5 363.2 169.9 363.2 170.2 363.3 170.6 363.2 170.9 363.4 171.3 363.5 171.6 363.3 172.0 363.1 172.3 363.4 172.7 363.1 173.0 363.3 173.4 363.6 173.7 363.7 174.1 363.5 174.4 363.3 174.8 363.5 175.1 363.1 175.5 363.3 175.8 363.7 176.2 363.6 176.5 363.3 176.9 363.2 177.2 363.6 177.6 363.5 177.9 363.4 178.3 363.6 178.6 363.5 179.0 363.3 179.3 363.7 179.7 363.5 180.0 363.4 180.4 363.4 180.7 363.6 181.1 363.5 181.4 363.7 181.8 363.6 182.1 363.8 182.5 363.5 182.8 363.5 183.2 363.3 183.5 363.4 183.9 363.7 184.2 364.0 184.6 363.3 184.9 363.2 185.3 363.1 185.6 362.7 186.0 361.7 186.3 360.7 186.7 359.3 187.0 358.8 187.4 359.2 187.7 360.3 188.1 361.3 188.4 362.2 188.8 363.0 189.1 363.5 189.5 363.6 189.8 363.6 190.2 363.8 190.5 363.9 190.9 363.7 191.2 363.6 191.6 363.9 191.9 363.9 192.3 364.0 192.6 363.9 193.0 363.8 193.3 363.9 193.7 363.8 194.0 363.8 194.4 363.9 194.7 363.9 195.1 364.2 195.4 363.8 195.8 364.0 196.1 363.9 196.5 364.3 196.8 364.1 197.2 364.0 197.5 364.2 197.9 364.1 198.2 364.0 198.6 364.3 198.9 364.2 199.3 364.3 199.6 364.2 200.0 364.2 200.3 364.1 200.7 363.9 201.0 364.1 201.4 364.0 201.7 364.0 202.1 363.8 202.4 363.3 202.8 362.4 203.1 361.1 203.5 359.2 203.8 357.4 204.2 357.9 204.5 359.9 204.9 361.5 205.2 362.9 205.6 363.5 205.9 364.2 206.3 364.1 206.6 364.1 207.0 363.9 207.3 364.2 207.7 364.3 208.0 363.8 208.4 363.2 208.7 362.3 209.1 360.6 209.4 359.7 209.8 360.0 210.1 361.1 210.5 362.5 210.8 363.7 211.2 364.1 211.5 364.4 211.9 364.5 212.2 364.6 212.6 364.5 212.9 364.6 213.3 364.8 213.6 364.9 214.0 364.9 214.3 364.6 214.7 364.9 215.0 364.9 215.4 364.8 215.7 364.9 216.1 365.0 216.4 365.1 216.8 364.7 217.1 365.0 217.5 364.9 217.8 364.9 218.2 365.1 218.5 365.1 218.9 364.9 219.2 365.0 219.6 365.1 219.9 364.8 220.3 365.2 220.6 365.1 221.0 365.1 221.3 365.2 221.7 365.4 222.0 365.2 222.4 365.1 222.7 365.4 223.1 365.1 223.4 365.1 223.8 365.0 224.1 365.4 224.5 365.3 224.8 365.3 225.2 365.3 225.5 365.3 225.9 365.2 226.2 365.2 226.6 365.4 226.9 365.4 227.3 365.6 227.6 365.3 228.0 365.3 228.3 365.3 228.7 365.6 229.0 365.3 229.4 365.6 229.7 365.7 230.1 365.5 230.4 365.6 230.8 365.2 231.1 365.5 231.5 365.3 231.8 365.6 232.2 365.6 232.5 365.5 232.9 365.7 233.2 365.7 233.6 365.5 233.9 365.6 234.3 365.4 234.6 365.6 235.0 366.0 235.3 365.6 235.7 365.7 236.0 365.6 236.4 365.8 236.7 365.8 237.1 365.7 237.4 365.4 237.8 365.6 238.1 365.9 238.5 365.7 238.8 365.8 239.2 365.6 239.5 365.3 239.9 365.6 240.2 365.6 240.6 365.3 240.9 365.2 241.3 365.2 241.6 364.7 242.0 364.3 242.3 362.6 242.7 358.5 243.0 351.4 243.4 341.4 243.7 334.9 244.1 338.8 244.4 348.4 244.8 357.0 245.1 361.9 245.5 363.7 245.8 364.2 246.2 364.7 246.5 365.0 246.9 364.8 247.2 364.6 247.6 364.3 247.9 363.2 248.3 360.6 248.6 356.1 249.0 350.3 249.3 346.9 249.7 348.8 250.0 354.2 250.4 359.0 250.7 362.6 251.1 364.1 251.4 365.2 251.8 365.5 252.1 365.7 252.5 365.7 252.8 365.6 253.2 365.9 253.5 365.7 253.9 365.9 254.2 365.7 254.6 365.8 254.9 366.0 255.3 366.2 255.6 365.9 256.0 366.3 256.3 366.4 256.7 365.8 257.0 366.0 257.4 365.8 257.7 366.0 258.1 365.9 258.4 366.0 258.8 366.2 259.1 366.2 259.5 366.1 259.8 366.0 260.2 366.0 260.5 366.1 260.9 366.1 261.2 366.0 261.6 366.1 261.9 365.8 262.3 366.2 262.6 366.3 263.0 366.1 263.3 365.8 263.7 366.2 264.0 366.0 264.4 365.5 264.7 365.9 265.1 366.0 265.4 366.0 265.8 366.0 266.1 365.8 266.5 365.5 266.8 364.7 267.2 364.0 267.5 363.0 267.9 361.7 268.2 360.2 268.6 360.1 268.9 361.2 269.3 362.2 269.6 363.5 270.0 364.8 270.3 365.4 270.7 365.6 271.0 365.5 271.4 365.9 271.7 365.8 272.1 366.1 272.4 366.0 272.8 366.1 273.1 366.1 273.5 366.0 273.8 366.2 274.2 366.2 274.5 366.1 274.9 366.2 275.2 366.0 275.6 366.2 275.9 366.1 276.3 365.8 276.6 365.9 277.0 365.8 277.3 365.7 277.7 365.6 278.0 365.3 278.4 364.1 278.7 362.2 279.1 358.9 279.4 356.1 279.8 355.5 280.1 357.7 280.5 360.9 280.8 363.3 281.2 364.7 281.5 365.5 281.9 365.6 282.2 365.7 282.6 366.1 282.9 365.9 283.3 366.3 283.6 365.9 284.0 366.2 284.3 366.0 284.7 366.2 285.0 366.0 285.4 366.2 285.7 366.2 286.1 366.1 286.4 366.3 286.8 366.4 287.1 366.1 287.5 366.4 287.8 366.3 288.2 366.2 288.5 366.6 288.9 365.9 289.2 366.2 289.6 366.0 289.9 366.2 290.3 366.2 290.6 366.8 291.0 366.3 291.3 366.6 291.7 366.5 292.0 366.2 292.4 366.4 292.7 366.5 293.1 366.3 293.4 366.3 293.8 366.4 294.1 366.1 294.5 366.2 294.8 366.4 295.2 366.4 295.5 366.2 295.9 366.3 296.2 366.3 296.6 366.3 296.9 366.4 297.3 366.3 297.6 366.4 298.0 366.1 298.3 366.2 298.7 366.4 299.0 366.1 299.4 366.4 299.7 366.2 300.1 366.2 300.4 366.4 300.8 366.3 301.1 366.2 301.5 366.3 301.8 366.4 302.2 366.8 302.5 366.0 302.9 366.4 303.2 366.3 303.6 366.5 303.9 366.3 304.3 366.0 304.6 366.6 305.0 366.2 305.3 366.4 305.7 366.2 306.0 366.2 306.4 366.3 306.7 366.5 307.1 366.5 307.4 366.3 307.8 366.4 308.1 366.3 308.5 366.4 308.8 366.4 309.2 366.4 309.5 366.2 309.9 366.3 310.2 366.3 310.6 366.3 310.9 366.1 311.3 366.3 311.6 365.7 312.0 365.4 312.3 364.6 312.7 363.8 313.0 362.4 313.4 362.7 313.7 362.9 314.1 363.6 314.4 364.7 314.8 365.8 315.1 365.9 315.5 365.9 315.8 366.2 316.2 366.5 316.5 366.1 316.9 366.3 317.2 366.3 317.6 366.7 317.9 366.4 318.3 366.6 318.6 366.3 319.0 366.3 319.3 366.6 319.7 366.5 320.0 366.2 320.4 366.5 320.7 366.5 321.1 366.4 321.4 366.5 321.8 366.5 322.1 366.4 322.5 366.4 322.8 366.4 323.2 366.4 323.5 366.3 323.9 366.4 324.2 366.2 324.6 366.5 324.9 366.4 325.3 366.3 325.6 366.6 326.0 366.7 326.3 366.6 326.7 366.2 327.0 366.6 327.4 366.4 327.7 366.3 328.1 366.2 328.4 366.2 328.8 366.4 329.1 366.1 329.5 365.6 329.8 364.8 330.2 363.3 330.5 361.1 330.9 358.5 331.2 356.4 331.6 357.4 331.9 359.8 332.3 362.4 332.6 364.5 333.0 365.5 333.3 365.7 333.7 366.0 334.0 366.4 334.4 366.4 334.7 366.5 335.1 366.3 335.4 366.4 335.8 366.5 336.1 366.4 336.5 366.3 336.8 366.5 337.2 366.7 337.5 366.4" fill="none" stroke="#000" stroke-width="1.05" stroke-linejoin="round"/>
<path d="M81.00 373.8V377.3 M154.30 373.8V377.3 M161.00 373.8V377.3 M187.30 373.8V377.3 M204.80 373.8V377.3 M209.30 373.8V377.3 M243.70 373.8V377.3 M249.00 373.8V377.3 M268.20 373.8V377.3 M279.30 373.8V377.3 M280.60 373.8V377.3 M313.10 373.8V377.3 M317.60 373.8V377.3 M330.60 373.8V377.3" stroke="#30a0a0" stroke-width="1"/>
<path d="M58.2 385.6L58.6 385.5 58.9 384.8 59.3 385.2 59.6 385.2 60.0 385.4 60.3 385.5 60.7 384.7 61.0 384.7 61.4 385.6 61.7 385.2 62.1 385.4 62.4 385.3 62.8 385.8 63.1 384.7 63.5 385.6 63.8 384.9 64.2 385.5 64.5 385.7 64.9 384.6 65.2 385.3 65.6 385.1 65.9 385.1 66.3 385.2 66.6 384.8 67.0 384.8 67.3 385.4 67.7 385.5 68.0 385.0 68.4 384.6 68.7 386.1 69.1 385.6 69.4 385.3 69.8 384.8 70.1 385.0 70.5 385.3 70.8 384.8 71.2 385.8 71.5 385.2 71.9 385.3 72.2 384.8 72.6 384.8 72.9 384.9 73.3 385.3 73.6 385.1 74.0 385.1 74.3 385.3 74.7 385.3 75.0 385.8 75.4 385.1 75.7 384.8 76.1 385.2 76.4 385.8 76.8 385.0 77.1 385.2 77.5 385.1 77.8 385.4 78.2 385.5 78.5 385.6 78.9 386.7 79.2 388.3 79.6 389.4 79.9 389.5 80.3 388.6 80.6 386.7 81.0 384.9 81.3 384.0 81.7 382.4 82.0 383.0 82.4 383.1 82.7 384.4 83.1 384.7 83.4 384.7 83.8 385.4 84.1 384.9 84.5 385.0 84.8 385.1 85.2 384.9 85.5 385.7 85.9 385.0 86.2 385.3 86.6 384.7 86.9 385.0 87.3 385.1 87.6 385.1 88.0 385.0 88.3 385.2 88.7 385.8 89.0 385.1 89.4 385.1 89.7 385.0 90.1 386.2 90.4 385.8 90.8 385.4 91.1 385.5 91.5 384.9 91.8 385.1 92.2 385.3 92.5 385.2 92.9 384.9 93.2 384.9 93.6 385.4 93.9 385.3 94.3 384.4 94.6 385.2 95.0 385.7 95.3 384.9 95.7 385.3 96.0 384.6 96.4 385.5 96.7 384.8 97.1 384.7 97.4 385.1 97.8 386.1 98.1 384.9 98.5 384.7 98.8 385.4 99.2 385.3 99.5 385.8 99.9 384.7 100.2 384.6 100.6 385.1 100.9 385.3 101.3 385.3 101.6 385.6 102.0 384.6 102.3 384.9 102.7 385.1 103.0 385.5 103.4 385.4 103.7 385.0 104.1 384.8 104.4 385.5 104.8 385.6 105.1 386.3 105.5 385.1 105.8 385.8 106.2 384.7 106.5 385.0 106.9 384.9 107.2 385.0 107.6 384.8 107.9 385.0 108.3 385.2 108.6 385.0 109.0 385.4 109.3 385.2 109.7 385.2 110.0 385.8 110.4 385.3 110.7 385.2 111.1 385.2 111.4 385.2 111.8 385.4 112.1 384.9 112.5 385.6 112.8 385.8 113.2 385.6 113.5 385.0 113.9 384.6 114.2 385.0 114.6 385.2 114.9 385.5 115.3 385.1 115.6 385.1 116.0 385.8 116.3 384.9 116.7 385.6 117.0 385.5 117.4 384.7 117.7 385.3 118.1 385.0 118.4 384.8 118.8 384.5 119.1 384.6 119.5 385.4 119.8 385.0 120.2 385.3 120.5 384.8 120.9 385.1 121.2 385.1 121.6 384.6 121.9 384.5 122.3 385.4 122.6 385.2 123.0 384.8 123.3 385.1 123.7 385.4 124.0 385.9 124.4 384.8 124.7 385.4 125.1 386.0 125.4 385.2 125.8 385.8 126.1 384.2 126.5 385.8 126.8 385.2 127.2 384.5 127.5 385.5 127.9 385.6 128.2 385.7 128.6 385.7 128.9 385.2 129.3 384.9 129.6 385.0 130.0 385.2 130.3 385.3 130.7 385.0 131.0 385.2 131.4 385.5 131.7 385.3 132.1 386.1 132.4 386.0 132.8 384.7 133.1 385.0 133.5 384.7 133.8 384.7 134.2 385.4 134.5 384.8 134.9 384.8 135.2 385.1 135.6 385.5 135.9 385.0 136.3 385.0 136.6 385.5 137.0 385.4 137.3 385.4 137.7 385.6 138.0 384.8 138.4 385.3 138.7 384.9 139.1 385.6 139.4 385.5 139.8 384.8 140.1 385.7 140.5 384.7 140.8 385.6 141.2 385.3 141.5 384.8 141.9 384.7 142.2 385.1 142.6 385.2 142.9 384.9 143.3 385.4 143.6 384.6 144.0 385.2 144.3 385.2 144.7 384.5 145.0 385.3 145.4 384.7 145.7 384.2 146.1 384.9 146.4 385.1 146.8 385.5 147.1 385.0 147.5 385.8 147.8 385.8 148.2 385.6 148.5 385.7 148.9 385.3 149.2 385.0 149.6 385.4 149.9 385.6 150.3 385.3 150.6 385.1 151.0 384.6 151.3 385.4 151.7 385.0 152.0 383.8 152.4 383.2 152.7 382.0 153.1 380.5 153.4 380.6 153.8 381.7 154.1 382.7 154.5 385.2 154.8 387.0 155.2 387.9 155.5 388.0 155.9 386.0 156.2 386.1 156.6 385.9 156.9 385.8 157.3 385.9 157.6 384.8 158.0 385.0 158.3 384.8 158.7 385.5 159.0 384.6 159.4 385.5 159.7 385.1 160.1 384.2 160.4 382.2 160.8 381.8 161.1 382.0 161.5 381.5 161.8 383.0 162.2 384.0 162.5 385.1 162.9 385.1 163.2 385.3 163.6 385.0 163.9 385.2 164.3 385.1 164.6 385.5 165.0 385.1 165.3 385.6 165.7 384.5 166.0 385.7 166.4 385.1 166.7 385.6 167.1 385.2 167.4 385.5 167.8 385.8 168.1 385.0 168.5 385.2 168.8 385.1 169.2 385.3 169.5 384.5 169.9 385.1 170.2 385.1 170.6 384.9 170.9 385.1 171.3 384.6 171.6 385.7 172.0 385.4 172.3 385.9 172.7 384.8 173.0 384.7 173.4 385.3 173.7 384.5 174.1 385.3 174.4 384.9 174.8 385.1 175.1 385.3 175.5 385.2 175.8 385.9 176.2 385.4 176.5 384.7 176.9 385.6 177.2 384.7 177.6 385.2 177.9 384.7 178.3 384.9 178.6 385.7 179.0 385.0 179.3 384.9 179.7 385.0 180.0 385.1 180.4 385.8 180.7 384.7 181.1 384.7 181.4 385.4 181.8 384.6 182.1 385.0 182.5 385.6 182.8 385.2 183.2 385.0 183.5 384.9 183.9 384.8 184.2 385.0 184.6 385.2 184.9 385.7 185.3 385.6 185.6 385.0 186.0 384.9 186.3 385.5 186.7 384.5 187.0 385.0 187.4 385.1 187.7 384.7 188.1 384.8 188.4 385.3 188.8 384.5 189.1 384.8 189.5 384.9 189.8 385.2 190.2 384.6 190.5 385.6 190.9 385.1 191.2 385.1 191.6 385.0 191.9 384.9 192.3 384.8 192.6 385.6 193.0 385.3 193.3 385.1 193.7 385.6 194.0 384.9 194.4 385.4 194.7 385.2 195.1 384.8 195.4 385.5 195.8 384.6 196.1 385.4 196.5 384.8 196.8 385.3 197.2 385.7 197.5 385.4 197.9 384.9 198.2 385.2 198.6 385.0 198.9 384.7 199.3 384.7 199.6 385.2 200.0 385.4 200.3 384.5 200.7 385.1 201.0 385.4 201.4 385.2 201.7 384.8 202.1 385.6 202.4 384.7 202.8 385.4 203.1 385.8 203.5 384.4 203.8 385.3 204.2 385.3 204.5 385.3 204.9 384.9 205.2 385.0 205.6 384.6 205.9 385.2 206.3 385.4 206.6 384.9 207.0 384.8 207.3 385.0 207.7 385.2 208.0 385.2 208.4 385.1 208.7 385.2 209.1 384.6 209.4 384.1 209.8 385.4 210.1 385.7 210.5 384.6 210.8 384.9 211.2 385.3 211.5 385.5 211.9 385.4 212.2 385.7 212.6 385.1 212.9 385.3 213.3 385.3 213.6 385.0 214.0 385.6 214.3 385.4 214.7 385.5 215.0 385.0 215.4 385.6 215.7 384.7 216.1 385.3 216.4 384.1 216.8 384.8 217.1 385.4 217.5 385.0 217.8 385.2 218.2 384.5 218.5 385.8 218.9 385.4 219.2 385.2 219.6 385.3 219.9 385.3 220.3 385.7 220.6 385.2 221.0 384.6 221.3 385.1 221.7 385.7 222.0 385.4 222.4 385.0 222.7 385.4 223.1 385.2 223.4 385.4 223.8 384.5 224.1 384.8 224.5 385.4 224.8 385.1 225.2 385.3 225.5 385.9 225.9 385.0 226.2 385.3 226.6 384.9 226.9 384.9 227.3 385.1 227.6 384.6 228.0 384.3 228.3 385.7 228.7 385.1 229.0 385.6 229.4 385.2 229.7 385.2 230.1 385.4 230.4 385.4 230.8 384.7 231.1 385.6 231.5 384.8 231.8 385.2 232.2 386.2 232.5 385.2 232.9 385.8 233.2 385.0 233.6 385.4 233.9 385.2 234.3 385.3 234.6 384.8 235.0 384.8 235.3 385.3 235.7 384.5 236.0 384.8 236.4 385.4 236.7 384.9 237.1 384.8 237.4 384.7 237.8 385.2 238.1 385.0 238.5 385.2 238.8 385.1 239.2 385.9 239.5 385.0 239.9 384.4 240.2 385.2 240.6 385.2 240.9 385.2 241.3 384.5 241.6 385.5 242.0 384.7 242.3 384.2 242.7 382.6 243.0 382.3 243.4 381.1 243.7 381.3 244.1 381.1 244.4 382.2 244.8 384.4 245.1 385.5 245.5 386.9 245.8 386.4 246.2 386.4 246.5 385.8 246.9 385.4 247.2 384.8 247.6 384.3 247.9 384.0 248.3 383.0 248.6 382.6 249.0 382.1 249.3 381.5 249.7 383.0 250.0 384.3 250.4 384.6 250.7 385.1 251.1 385.2 251.4 384.9 251.8 384.6 252.1 385.5 252.5 385.6 252.8 385.4 253.2 385.3 253.5 385.3 253.9 385.2 254.2 385.3 254.6 385.2 254.9 385.3 255.3 384.8 255.6 384.9 256.0 385.4 256.3 385.0 256.7 384.2 257.0 385.2 257.4 384.3 257.7 385.9 258.1 385.4 258.4 385.4 258.8 384.9 259.1 384.7 259.5 385.1 259.8 385.2 260.2 384.9 260.5 385.2 260.9 385.4 261.2 385.4 261.6 384.8 261.9 384.3 262.3 385.2 262.6 384.9 263.0 385.3 263.3 385.8 263.7 385.8 264.0 385.3 264.4 385.6 264.7 385.8 265.1 385.2 265.4 385.3 265.8 385.5 266.1 385.2 266.5 385.0 266.8 384.9 267.2 385.2 267.5 384.9 267.9 385.5 268.2 385.0 268.6 385.7 268.9 385.6 269.3 384.7 269.6 385.6 270.0 385.0 270.3 385.7 270.7 385.4 271.0 385.2 271.4 385.4 271.7 385.0 272.1 385.3 272.4 385.3 272.8 385.1 273.1 385.3 273.5 384.8 273.8 385.4 274.2 384.7 274.5 385.4 274.9 385.4 275.2 385.4 275.6 385.0 275.9 386.3 276.3 385.1 276.6 385.2 277.0 384.9 277.3 385.6 277.7 384.8 278.0 385.2 278.4 384.2 278.7 384.4 279.1 383.8 279.4 384.1 279.8 383.6 280.1 383.5 280.5 384.2 280.8 383.9 281.2 384.3 281.5 385.2 281.9 384.3 282.2 385.4 282.6 385.0 282.9 384.8 283.3 385.3 283.6 385.4 284.0 385.0 284.3 385.1 284.7 385.5 285.0 385.5 285.4 385.2 285.7 384.9 286.1 384.8 286.4 385.0 286.8 385.4 287.1 385.4 287.5 385.3 287.8 385.7 288.2 385.1 288.5 385.0 288.9 385.0 289.2 385.9 289.6 384.4 289.9 385.3 290.3 385.4 290.6 385.2 291.0 386.1 291.3 385.6 291.7 385.5 292.0 384.8 292.4 385.4 292.7 385.0 293.1 385.2 293.4 385.3 293.8 385.0 294.1 385.4 294.5 385.8 294.8 385.6 295.2 385.3 295.5 384.5 295.9 385.6 296.2 385.6 296.6 385.1 296.9 385.0 297.3 385.4 297.6 384.9 298.0 385.5 298.3 384.8 298.7 384.8 299.0 385.2 299.4 384.6 299.7 385.2 300.1 385.4 300.4 384.7 300.8 385.5 301.1 385.0 301.5 385.4 301.8 385.3 302.2 385.0 302.5 385.0 302.9 384.6 303.2 384.9 303.6 384.9 303.9 385.8 304.3 385.6 304.6 384.7 305.0 385.5 305.3 385.3 305.7 385.1 306.0 385.4 306.4 385.5 306.7 385.0 307.1 385.1 307.4 385.3 307.8 384.8 308.1 385.3 308.5 385.2 308.8 385.0 309.2 384.9 309.5 385.3 309.9 385.6 310.2 385.4 310.6 385.0 310.9 385.7 311.3 385.7 311.6 386.0 312.0 386.4 312.3 385.8 312.7 386.3 313.0 386.3 313.4 386.3 313.7 387.4 314.1 387.0 314.4 385.9 314.8 386.5 315.1 386.0 315.5 386.4 315.8 385.8 316.2 385.5 316.5 385.5 316.9 385.5 317.2 385.3 317.6 385.2 317.9 385.2 318.3 385.4 318.6 384.8 319.0 385.2 319.3 385.2 319.7 385.0 320.0 385.5 320.4 384.7 320.7 385.1 321.1 384.9 321.4 385.4 321.8 385.0 322.1 385.2 322.5 385.3 322.8 384.6 323.2 385.4 323.5 384.9 323.9 385.1 324.2 385.2 324.6 385.5 324.9 385.5 325.3 385.9 325.6 385.3 326.0 385.0 326.3 385.0 326.7 385.4 327.0 385.8 327.4 385.3 327.7 384.9 328.1 385.2 328.4 385.0 328.8 384.8 329.1 384.2 329.5 383.2 329.8 383.7 330.2 384.1 330.5 383.8 330.9 383.1 331.2 384.2 331.6 383.8 331.9 385.5 332.3 385.0 332.6 384.6 333.0 385.5 333.3 384.9 333.7 385.4 334.0 385.2 334.4 384.8 334.7 385.4 335.1 384.7 335.4 385.7 335.8 385.2 336.1 384.8 336.5 384.5 336.8 385.8 337.2 385.7 337.5 384.7" fill="none" stroke="#0000f0" stroke-width="1.1" stroke-linejoin="round"/>
<path d="M58.2 450.9L58.6 449.6 58.9 449.2 59.3 449.3 59.6 449.2 60.0 450.6 60.3 449.5 60.7 447.8 61.0 451.0 61.4 450.0 61.7 448.3 62.1 448.9 62.4 448.4 62.8 449.2 63.1 449.5 63.5 449.3 63.8 448.6 64.2 448.4 64.5 449.7 64.9 448.9 65.2 450.9 65.6 448.3 65.9 449.6 66.3 448.9 66.6 448.2 67.0 450.0 67.3 448.9 67.7 448.0 68.0 448.5 68.4 449.6 68.7 447.7 69.1 449.8 69.4 449.2 69.8 448.4 70.1 449.7 70.5 450.1 70.8 449.1 71.2 448.7 71.5 450.1 71.9 449.7 72.2 447.7 72.6 448.2 72.9 448.2 73.3 448.0 73.6 447.1 74.0 449.1 74.3 448.3 74.7 448.3 75.0 449.4 75.4 447.7 75.7 448.1 76.1 448.3 76.4 447.7 76.8 447.9 77.1 448.6 77.5 447.9 77.8 449.0 78.2 447.1 78.5 447.8 78.9 446.3 79.2 447.2 79.6 446.5 79.9 447.6 80.3 445.1 80.6 439.3 81.0 429.8 81.3 421.2 81.7 426.1 82.0 436.0 82.4 442.2 82.7 445.9 83.1 446.4 83.4 446.4 83.8 446.9 84.1 445.8 84.5 448.6 84.8 446.4 85.2 446.8 85.5 447.8 85.9 446.0 86.2 448.1 86.6 448.1 86.9 447.1 87.3 446.4 87.6 446.9 88.0 445.7 88.3 448.4 88.7 447.3 89.0 446.6 89.4 446.4 89.7 447.7 90.1 448.4 90.4 446.1 90.8 446.6 91.1 445.6 91.5 447.7 91.8 447.2 92.2 449.0 92.5 446.9 92.9 446.6 93.2 446.4 93.6 447.7 93.9 445.5 94.3 447.5 94.6 447.1 95.0 446.4 95.3 446.0 95.7 447.7 96.0 448.4 96.4 446.4 96.7 447.2 97.1 448.2 97.4 446.1 97.8 446.4 98.1 445.6 98.5 446.5 98.8 446.5 99.2 446.2 99.5 445.9 99.9 445.1 100.2 445.3 100.6 445.6 100.9 447.0 101.3 446.0 101.6 445.7 102.0 447.0 102.3 446.9 102.7 445.7 103.0 445.8 103.4 446.9 103.7 446.6 104.1 445.6 104.4 446.5 104.8 446.2 105.1 447.2 105.5 445.5 105.8 447.0 106.2 446.6 106.5 445.3 106.9 447.1 107.2 446.9 107.6 445.0 107.9 447.8 108.3 445.1 108.6 445.3 109.0 445.8 109.3 446.7 109.7 446.5 110.0 445.9 110.4 447.1 110.7 446.3 111.1 447.1 111.4 448.3 111.8 446.1 112.1 443.7 112.5 445.5 112.8 444.9 113.2 445.9 113.5 445.9 113.9 444.7 114.2 444.8 114.6 445.5 114.9 445.6 115.3 443.5 115.6 446.6 116.0 445.7 116.3 445.7 116.7 445.9 117.0 444.8 117.4 445.6 117.7 446.5 118.1 446.5 118.4 446.0 118.8 445.3 119.1 444.8 119.5 446.7 119.8 446.0 120.2 445.1 120.5 443.6 120.9 444.7 121.2 443.7 121.6 446.5 121.9 445.6 122.3 444.7 122.6 445.1 123.0 447.6 123.3 446.4 123.7 444.1 124.0 445.2 124.4 444.2 124.7 443.7 125.1 445.4 125.4 447.3 125.8 446.6 126.1 445.2 126.5 444.8 126.8 445.3 127.2 446.0 127.5 443.8 127.9 443.4 128.2 446.7 128.6 445.3 128.9 446.5 129.3 445.2 129.6 446.3 130.0 444.4 130.3 445.4 130.7 446.3 131.0 445.8 131.4 444.5 131.7 445.7 132.1 444.3 132.4 443.6 132.8 445.3 133.1 446.1 133.5 445.6 133.8 443.7 134.2 445.5 134.5 445.4 134.9 444.3 135.2 442.5 135.6 445.6 135.9 445.5 136.3 445.1 136.6 443.1 137.0 443.3 137.3 445.5 137.7 445.3 138.0 445.0 138.4 444.3 138.7 444.9 139.1 444.0 139.4 444.2 139.8 443.7 140.1 444.7 140.5 444.1 140.8 445.3 141.2 445.0 141.5 443.7 141.9 446.0 142.2 443.3 142.6 444.7 142.9 445.3 143.3 445.4 143.6 442.3 144.0 445.1 144.3 445.3 144.7 445.5 145.0 442.2 145.4 443.6 145.7 444.1 146.1 443.7 146.4 445.3 146.8 443.5 147.1 445.1 147.5 444.5 147.8 442.7 148.2 443.1 148.5 443.5 148.9 444.0 149.2 444.8 149.6 443.7 149.9 444.6 150.3 442.3 150.6 441.0 151.0 443.4 151.3 444.0 151.7 443.2 152.0 442.5 152.4 443.6 152.7 444.8 153.1 442.5 153.4 440.8 153.8 437.4 154.1 432.6 154.5 420.0 154.8 413.5 155.2 419.2 155.5 429.9 155.9 436.2 156.2 441.8 156.6 443.1 156.9 443.3 157.3 444.0 157.6 442.7 158.0 443.3 158.3 442.9 158.7 444.0 159.0 442.7 159.4 443.6 159.7 442.1 160.1 442.6 160.4 441.5 160.8 439.1 161.1 433.3 161.5 424.1 161.8 417.8 162.2 420.1 162.5 432.0 162.9 437.5 163.2 441.2 163.6 441.9 163.9 444.0 164.3 442.5 164.6 444.0 165.0 444.7 165.3 445.2 165.7 444.8 166.0 444.3 166.4 442.7 166.7 445.0 167.1 444.9 167.4 444.6 167.8 444.6 168.1 444.0 168.5 443.5 168.8 444.9 169.2 445.1 169.5 443.0 169.9 444.8 170.2 444.2 170.6 444.8 170.9 444.2 171.3 445.0 171.6 444.9 172.0 444.8 172.3 442.8 172.7 444.7 173.0 444.0 173.4 443.0 173.7 444.6 174.1 442.8 174.4 444.8 174.8 445.5 175.1 443.5 175.5 444.8 175.8 444.4 176.2 444.6 176.5 442.8 176.9 444.5 177.2 444.1 177.6 444.6 177.9 443.9 178.3 444.9 178.6 444.1 179.0 444.4 179.3 444.9 179.7 443.6 180.0 443.8 180.4 441.9 180.7 440.0 181.1 436.4 181.4 435.8 181.8 436.9 182.1 438.3 182.5 441.5 182.8 442.8 183.2 442.2 183.5 443.8 183.9 444.8 184.2 443.3 184.6 442.1 184.9 443.9 185.3 443.0 185.6 445.1 186.0 442.9 186.3 442.1 186.7 440.3 187.0 439.5 187.4 437.3 187.7 435.5 188.1 435.2 188.4 435.2 188.8 439.4 189.1 439.6 189.5 442.2 189.8 442.6 190.2 442.4 190.5 445.2 190.9 442.0 191.2 445.2 191.6 442.7 191.9 444.1 192.3 446.0 192.6 442.1 193.0 442.8 193.3 445.2 193.7 444.2 194.0 443.6 194.4 444.1 194.7 443.2 195.1 444.2 195.4 445.4 195.8 443.8 196.1 444.2 196.5 445.2 196.8 445.9 197.2 443.6 197.5 444.4 197.9 443.6 198.2 443.5 198.6 443.7 198.9 443.5 199.3 442.6 199.6 442.3 200.0 443.4 200.3 444.2 200.7 445.1 201.0 443.5 201.4 443.8 201.7 444.5 202.1 444.4 202.4 443.3 202.8 442.6 203.1 443.0 203.5 439.3 203.8 437.8 204.2 437.1 204.5 440.5 204.9 441.6 205.2 444.6 205.6 443.3 205.9 444.5 206.3 444.7 206.6 445.4 207.0 442.8 207.3 445.3 207.7 443.8 208.0 443.5 208.4 442.7 208.7 441.5 209.1 440.1 209.4 437.2 209.8 439.9 210.1 440.8 210.5 441.4 210.8 443.1 211.2 445.7 211.5 444.3 211.9 443.7 212.2 445.6 212.6 443.4 212.9 444.0 213.3 443.6 213.6 443.9 214.0 444.8 214.3 444.7 214.7 443.5 215.0 444.1 215.4 444.3 215.7 443.8 216.1 444.2 216.4 443.6 216.8 443.6 217.1 444.2 217.5 443.3 217.8 444.6 218.2 444.0 218.5 443.4 218.9 443.7 219.2 443.8 219.6 444.1 219.9 444.3 220.3 444.0 220.6 443.5 221.0 445.5 221.3 445.0 221.7 444.3 222.0 445.1 222.4 444.5 222.7 444.0 223.1 444.3 223.4 446.6 223.8 445.1 224.1 445.1 224.5 443.9 224.8 444.8 225.2 446.2 225.5 444.6 225.9 445.2 226.2 445.3 226.6 444.8 226.9 445.6 227.3 444.4 227.6 444.7 228.0 443.7 228.3 446.5 228.7 444.5 229.0 444.3 229.4 445.4 229.7 443.8 230.1 444.2 230.4 443.5 230.8 444.2 231.1 443.9 231.5 444.7 231.8 444.1 232.2 443.7 232.5 444.0 232.9 444.1 233.2 443.8 233.6 445.0 233.9 444.8 234.3 444.3 234.6 443.2 235.0 444.6 235.3 443.1 235.7 444.3 236.0 444.2 236.4 443.6 236.7 443.4 237.1 443.5 237.4 445.9 237.8 443.9 238.1 443.9 238.5 444.9 238.8 444.4 239.2 444.9 239.5 442.8 239.9 442.9 240.2 446.7 240.6 443.6 240.9 443.3 241.3 443.5 241.6 443.9 242.0 441.6 242.3 441.8 242.7 438.9 243.0 433.4 243.4 421.6 243.7 407.3 244.1 400.5 244.4 406.9 244.8 423.6 245.1 432.3 245.5 438.9 245.8 443.0 246.2 442.1 246.5 443.3 246.9 442.8 247.2 443.7 247.6 443.1 247.9 442.4 248.3 443.4 248.6 440.3 249.0 435.9 249.3 431.3 249.7 426.4 250.0 423.3 250.4 429.0 250.7 434.9 251.1 440.8 251.4 441.1 251.8 443.5 252.1 441.9 252.5 443.3 252.8 443.9 253.2 444.2 253.5 443.9 253.9 443.9 254.2 443.5 254.6 443.7 254.9 444.4 255.3 444.6 255.6 444.7 256.0 445.0 256.3 445.2 256.7 442.6 257.0 443.8 257.4 444.1 257.7 443.7 258.1 445.1 258.4 444.9 258.8 444.2 259.1 444.4 259.5 445.3 259.8 444.0 260.2 444.0 260.5 445.0 260.9 444.7 261.2 445.5 261.6 444.6 261.9 444.9 262.3 443.8 262.6 443.4 263.0 444.2 263.3 442.0 263.7 444.6 264.0 445.1 264.4 444.3 264.7 444.0 265.1 445.1 265.4 444.1 265.8 445.0 266.1 445.9 266.5 444.5 266.8 444.4 267.2 443.5 267.5 442.4 267.9 441.1 268.2 439.5 268.6 439.4 268.9 437.1 269.3 439.3 269.6 441.5 270.0 441.5 270.3 443.0 270.7 443.1 271.0 444.3 271.4 444.8 271.7 445.4 272.1 444.6 272.4 443.6 272.8 444.4 273.1 444.7 273.5 445.4 273.8 442.4 274.2 444.5 274.5 442.7 274.9 444.8 275.2 444.6 275.6 444.6 275.9 444.9 276.3 444.5 276.6 443.6 277.0 444.4 277.3 445.1 277.7 443.8 278.0 443.8 278.4 442.4 278.7 443.7 279.1 440.5 279.4 437.1 279.8 433.3 280.1 429.9 280.5 431.1 280.8 436.2 281.2 439.7 281.5 442.9 281.9 444.3 282.2 442.9 282.6 444.3 282.9 445.3 283.3 446.1 283.6 442.9 284.0 443.0 284.3 444.6 284.7 444.0 285.0 443.4 285.4 444.6 285.7 443.6 286.1 442.4 286.4 444.3 286.8 444.4 287.1 444.9 287.5 445.2 287.8 444.5 288.2 444.2 288.5 443.8 288.9 442.9 289.2 444.0 289.6 445.2 289.9 444.9 290.3 446.1 290.6 444.2 291.0 442.8 291.3 445.1 291.7 445.3 292.0 443.4 292.4 443.0 292.7 444.5 293.1 445.0 293.4 443.4 293.8 444.1 294.1 443.7 294.5 443.4 294.8 443.3 295.2 444.5 295.5 444.1 295.9 443.8 296.2 442.2 296.6 445.9 296.9 443.6 297.3 444.3 297.6 443.4 298.0 444.7 298.3 443.1 298.7 444.5 299.0 444.2 299.4 445.2 299.7 443.5 300.1 443.9 300.4 444.2 300.8 446.2 301.1 443.1 301.5 444.7 301.8 443.8 302.2 444.7 302.5 445.0 302.9 444.5 303.2 444.6 303.6 444.6 303.9 443.9 304.3 444.2 304.6 443.0 305.0 444.1 305.3 443.7 305.7 444.2 306.0 445.0 306.4 444.7 306.7 444.8 307.1 445.3 307.4 442.3 307.8 444.8 308.1 444.4 308.5 444.3 308.8 443.2 309.2 444.8 309.5 445.3 309.9 445.2 310.2 444.2 310.6 444.8 310.9 445.1 311.3 445.8 311.6 445.1 312.0 444.0 312.3 443.5 312.7 442.8 313.0 441.8 313.4 440.0 313.7 440.2 314.1 439.0 314.4 439.7 314.8 441.9 315.1 442.2 315.5 443.2 315.8 442.1 316.2 444.8 316.5 444.2 316.9 444.2 317.2 444.7 317.6 444.5 317.9 443.7 318.3 446.1 318.6 444.0 319.0 445.2 319.3 445.9 319.7 443.8 320.0 444.5 320.4 443.7 320.7 445.3 321.1 444.1 321.4 443.4 321.8 445.5 322.1 445.2 322.5 443.6 322.8 445.4 323.2 444.6 323.5 446.7 323.9 445.9 324.2 443.9 324.6 444.1 324.9 443.6 325.3 444.5 325.6 444.4 326.0 445.0 326.3 444.4 326.7 443.0 327.0 443.6 327.4 445.5 327.7 445.2 328.1 444.0 328.4 444.0 328.8 443.9 329.1 443.9 329.5 442.2 329.8 444.1 330.2 441.9 330.5 440.7 330.9 434.6 331.2 431.0 331.6 425.8 331.9 420.7 332.3 428.2 332.6 433.8 333.0 437.9 333.3 440.2 333.7 443.9 334.0 443.7 334.4 444.3 334.7 443.7 335.1 443.4 335.4 444.9 335.8 443.4 336.1 445.0 336.5 442.8 336.8 443.5 337.2 443.1 337.5 445.5" fill="none" stroke="#f11" stroke-width="2.4" stroke-linejoin="round" opacity="0.5"/>
<path d="M56.8 448.1a1.4 1.4 0 1 0 2.8 0a1.4 1.4 0 1 0-2.8 0M57.2 448.5a1.4 1.4 0 1 0 2.8 0a1.4 1.4 0 1 0-2.8 0M57.5 450.0a1.4 1.4 0 1 0 2.8 0a1.4 1.4 0 1 0-2.8 0M57.9 449.6a1.4 1.4 0 1 0 2.8 0a1.4 1.4 0 1 0-2.8 0M58.2 451.2a1.4 1.4 0 1 0 2.8 0a1.4 1.4 0 1 0-2.8 0M58.6 450.8a1.4 1.4 0 1 0 2.8 0a1.4 1.4 0 1 0-2.8 0M58.9 449.8a1.4 1.4 0 1 0 2.8 0a1.4 1.4 0 1 0-2.8 0M59.3 449.9a1.4 1.4 0 1 0 2.8 0a1.4 1.4 0 1 0-2.8 0M59.6 447.8a1.4 1.4 0 1 0 2.8 0a1.4 1.4 0 1 0-2.8 0M60.0 448.5a1.4 1.4 0 1 0 2.8 0a1.4 1.4 0 1 0-2.8 0M60.3 449.0a1.4 1.4 0 1 0 2.8 0a1.4 1.4 0 1 0-2.8 0M60.7 449.1a1.4 1.4 0 1 0 2.8 0a1.4 1.4 0 1 0-2.8 0M61.0 448.1a1.4 1.4 0 1 0 2.8 0a1.4 1.4 0 1 0-2.8 0M61.4 448.4a1.4 1.4 0 1 0 2.8 0a1.4 1.4 0 1 0-2.8 0M61.7 448.4a1.4 1.4 0 1 0 2.8 0a1.4 1.4 0 1 0-2.8 0M62.1 450.0a1.4 1.4 0 1 0 2.8 0a1.4 1.4 0 1 0-2.8 0M62.4 449.4a1.4 1.4 0 1 0 2.8 0a1.4 1.4 0 1 0-2.8 0M62.8 448.8a1.4 1.4 0 1 0 2.8 0a1.4 1.4 0 1 0-2.8 0M63.1 448.8a1.4 1.4 0 1 0 2.8 0a1.4 1.4 0 1 0-2.8 0M63.5 449.2a1.4 1.4 0 1 0 2.8 0a1.4 1.4 0 1 0-2.8 0M63.8 448.4a1.4 1.4 0 1 0 2.8 0a1.4 1.4 0 1 0-2.8 0M64.2 448.7a1.4 1.4 0 1 0 2.8 0a1.4 1.4 0 1 0-2.8 0M64.5 447.5a1.4 1.4 0 1 0 2.8 0a1.4 1.4 0 1 0-2.8 0M64.9 449.4a1.4 1.4 0 1 0 2.8 0a1.4 1.4 0 1 0-2.8 0M65.2 449.7a1.4 1.4 0 1 0 2.8 0a1.4 1.4 0 1 0-2.8 0M65.6 449.1a1.4 1.4 0 1 0 2.8 0a1.4 1.4 0 1 0-2.8 0M65.9 449.2a1.4 1.4 0 1 0 2.8 0a1.4 1.4 0 1 0-2.8 0M66.3 449.1a1.4 1.4 0 1 0 2.8 0a1.4 1.4 0 1 0-2.8 0M66.6 450.4a1.4 1.4 0 1 0 2.8 0a1.4 1.4 0 1 0-2.8 0M67.0 448.9a1.4 1.4 0 1 0 2.8 0a1.4 1.4 0 1 0-2.8 0M67.3 447.6a1.4 1.4 0 1 0 2.8 0a1.4 1.4 0 1 0-2.8 0M67.7 447.8a1.4 1.4 0 1 0 2.8 0a1.4 1.4 0 1 0-2.8 0M68.0 449.2a1.4 1.4 0 1 0 2.8 0a1.4 1.4 0 1 0-2.8 0M68.4 449.5a1.4 1.4 0 1 0 2.8 0a1.4 1.4 0 1 0-2.8 0M68.7 449.2a1.4 1.4 0 1 0 2.8 0a1.4 1.4 0 1 0-2.8 0M69.1 449.3a1.4 1.4 0 1 0 2.8 0a1.4 1.4 0 1 0-2.8 0M69.4 448.7a1.4 1.4 0 1 0 2.8 0a1.4 1.4 0 1 0-2.8 0M69.8 447.3a1.4 1.4 0 1 0 2.8 0a1.4 1.4 0 1 0-2.8 0M70.1 447.9a1.4 1.4 0 1 0 2.8 0a1.4 1.4 0 1 0-2.8 0M70.5 447.0a1.4 1.4 0 1 0 2.8 0a1.4 1.4 0 1 0-2.8 0M70.8 448.1a1.4 1.4 0 1 0 2.8 0a1.4 1.4 0 1 0-2.8 0M71.2 447.3a1.4 1.4 0 1 0 2.8 0a1.4 1.4 0 1 0-2.8 0M71.5 448.5a1.4 1.4 0 1 0 2.8 0a1.4 1.4 0 1 0-2.8 0M71.9 448.2a1.4 1.4 0 1 0 2.8 0a1.4 1.4 0 1 0-2.8 0M72.2 446.7a1.4 1.4 0 1 0 2.8 0a1.4 1.4 0 1 0-2.8 0M72.6 448.9a1.4 1.4 0 1 0 2.8 0a1.4 1.4 0 1 0-2.8 0M72.9 448.9a1.4 1.4 0 1 0 2.8 0a1.4 1.4 0 1 0-2.8 0M73.3 447.1a1.4 1.4 0 1 0 2.8 0a1.4 1.4 0 1 0-2.8 0M73.6 448.3a1.4 1.4 0 1 0 2.8 0a1.4 1.4 0 1 0-2.8 0M74.0 448.8a1.4 1.4 0 1 0 2.8 0a1.4 1.4 0 1 0-2.8 0M74.3 447.9a1.4 1.4 0 1 0 2.8 0a1.4 1.4 0 1 0-2.8 0M74.7 448.8a1.4 1.4 0 1 0 2.8 0a1.4 1.4 0 1 0-2.8 0M75.0 448.2a1.4 1.4 0 1 0 2.8 0a1.4 1.4 0 1 0-2.8 0M75.4 448.9a1.4 1.4 0 1 0 2.8 0a1.4 1.4 0 1 0-2.8 0M75.7 448.1a1.4 1.4 0 1 0 2.8 0a1.4 1.4 0 1 0-2.8 0M76.1 447.8a1.4 1.4 0 1 0 2.8 0a1.4 1.4 0 1 0-2.8 0M76.4 448.3a1.4 1.4 0 1 0 2.8 0a1.4 1.4 0 1 0-2.8 0M76.8 448.4a1.4 1.4 0 1 0 2.8 0a1.4 1.4 0 1 0-2.8 0M77.1 447.9a1.4 1.4 0 1 0 2.8 0a1.4 1.4 0 1 0-2.8 0M77.5 447.2a1.4 1.4 0 1 0 2.8 0a1.4 1.4 0 1 0-2.8 0M77.8 446.7a1.4 1.4 0 1 0 2.8 0a1.4 1.4 0 1 0-2.8 0M78.2 446.7a1.4 1.4 0 1 0 2.8 0a1.4 1.4 0 1 0-2.8 0M78.5 445.9a1.4 1.4 0 1 0 2.8 0a1.4 1.4 0 1 0-2.8 0M78.9 444.6a1.4 1.4 0 1 0 2.8 0a1.4 1.4 0 1 0-2.8 0M79.2 439.0a1.4 1.4 0 1 0 2.8 0a1.4 1.4 0 1 0-2.8 0M79.6 428.2a1.4 1.4 0 1 0 2.8 0a1.4 1.4 0 1 0-2.8 0M79.9 419.9a1.4 1.4 0 1 0 2.8 0a1.4 1.4 0 1 0-2.8 0M80.3 425.6a1.4 1.4 0 1 0 2.8 0a1.4 1.4 0 1 0-2.8 0M80.6 437.8a1.4 1.4 0 1 0 2.8 0a1.4 1.4 0 1 0-2.8 0M81.0 444.4a1.4 1.4 0 1 0 2.8 0a1.4 1.4 0 1 0-2.8 0M81.3 445.5a1.4 1.4 0 1 0 2.8 0a1.4 1.4 0 1 0-2.8 0M81.7 447.0a1.4 1.4 0 1 0 2.8 0a1.4 1.4 0 1 0-2.8 0M82.0 446.7a1.4 1.4 0 1 0 2.8 0a1.4 1.4 0 1 0-2.8 0M82.4 447.1a1.4 1.4 0 1 0 2.8 0a1.4 1.4 0 1 0-2.8 0M82.7 447.0a1.4 1.4 0 1 0 2.8 0a1.4 1.4 0 1 0-2.8 0M83.1 446.8a1.4 1.4 0 1 0 2.8 0a1.4 1.4 0 1 0-2.8 0M83.4 446.2a1.4 1.4 0 1 0 2.8 0a1.4 1.4 0 1 0-2.8 0M83.8 445.3a1.4 1.4 0 1 0 2.8 0a1.4 1.4 0 1 0-2.8 0M84.1 447.5a1.4 1.4 0 1 0 2.8 0a1.4 1.4 0 1 0-2.8 0M84.5 448.3a1.4 1.4 0 1 0 2.8 0a1.4 1.4 0 1 0-2.8 0M84.8 446.6a1.4 1.4 0 1 0 2.8 0a1.4 1.4 0 1 0-2.8 0M85.2 447.7a1.4 1.4 0 1 0 2.8 0a1.4 1.4 0 1 0-2.8 0M85.5 447.0a1.4 1.4 0 1 0 2.8 0a1.4 1.4 0 1 0-2.8 0M85.9 447.5a1.4 1.4 0 1 0 2.8 0a1.4 1.4 0 1 0-2.8 0M86.2 446.6a1.4 1.4 0 1 0 2.8 0a1.4 1.4 0 1 0-2.8 0M86.6 447.1a1.4 1.4 0 1 0 2.8 0a1.4 1.4 0 1 0-2.8 0M86.9 447.2a1.4 1.4 0 1 0 2.8 0a1.4 1.4 0 1 0-2.8 0M87.3 445.3a1.4 1.4 0 1 0 2.8 0a1.4 1.4 0 1 0-2.8 0M87.6 447.4a1.4 1.4 0 1 0 2.8 0a1.4 1.4 0 1 0-2.8 0M88.0 447.1a1.4 1.4 0 1 0 2.8 0a1.4 1.4 0 1 0-2.8 0M88.3 445.1a1.4 1.4 0 1 0 2.8 0a1.4 1.4 0 1 0-2.8 0M88.7 447.7a1.4 1.4 0 1 0 2.8 0a1.4 1.4 0 1 0-2.8 0M89.0 447.1a1.4 1.4 0 1 0 2.8 0a1.4 1.4 0 1 0-2.8 0M89.4 447.3a1.4 1.4 0 1 0 2.8 0a1.4 1.4 0 1 0-2.8 0M89.7 447.4a1.4 1.4 0 1 0 2.8 0a1.4 1.4 0 1 0-2.8 0M90.1 446.7a1.4 1.4 0 1 0 2.8 0a1.4 1.4 0 1 0-2.8 0M90.4 446.2a1.4 1.4 0 1 0 2.8 0a1.4 1.4 0 1 0-2.8 0M90.8 446.6a1.4 1.4 0 1 0 2.8 0a1.4 1.4 0 1 0-2.8 0M91.1 446.6a1.4 1.4 0 1 0 2.8 0a1.4 1.4 0 1 0-2.8 0M91.5 448.8a1.4 1.4 0 1 0 2.8 0a1.4 1.4 0 1 0-2.8 0M91.8 448.5a1.4 1.4 0 1 0 2.8 0a1.4 1.4 0 1 0-2.8 0M92.2 446.5a1.4 1.4 0 1 0 2.8 0a1.4 1.4 0 1 0-2.8 0M92.5 446.6a1.4 1.4 0 1 0 2.8 0a1.4 1.4 0 1 0-2.8 0M92.9 447.1a1.4 1.4 0 1 0 2.8 0a1.4 1.4 0 1 0-2.8 0M93.2 447.3a1.4 1.4 0 1 0 2.8 0a1.4 1.4 0 1 0-2.8 0M93.6 446.3a1.4 1.4 0 1 0 2.8 0a1.4 1.4 0 1 0-2.8 0M93.9 446.0a1.4 1.4 0 1 0 2.8 0a1.4 1.4 0 1 0-2.8 0M94.3 448.4a1.4 1.4 0 1 0 2.8 0a1.4 1.4 0 1 0-2.8 0M94.6 447.6a1.4 1.4 0 1 0 2.8 0a1.4 1.4 0 1 0-2.8 0M95.0 445.4a1.4 1.4 0 1 0 2.8 0a1.4 1.4 0 1 0-2.8 0M95.3 445.2a1.4 1.4 0 1 0 2.8 0a1.4 1.4 0 1 0-2.8 0M95.7 446.0a1.4 1.4 0 1 0 2.8 0a1.4 1.4 0 1 0-2.8 0M96.0 446.8a1.4 1.4 0 1 0 2.8 0a1.4 1.4 0 1 0-2.8 0M96.4 447.1a1.4 1.4 0 1 0 2.8 0a1.4 1.4 0 1 0-2.8 0M96.7 446.3a1.4 1.4 0 1 0 2.8 0a1.4 1.4 0 1 0-2.8 0M97.1 445.2a1.4 1.4 0 1 0 2.8 0a1.4 1.4 0 1 0-2.8 0M97.4 446.7a1.4 1.4 0 1 0 2.8 0a1.4 1.4 0 1 0-2.8 0M97.8 447.0a1.4 1.4 0 1 0 2.8 0a1.4 1.4 0 1 0-2.8 0M98.1 446.5a1.4 1.4 0 1 0 2.8 0a1.4 1.4 0 1 0-2.8 0M98.5 446.1a1.4 1.4 0 1 0 2.8 0a1.4 1.4 0 1 0-2.8 0M98.8 446.9a1.4 1.4 0 1 0 2.8 0a1.4 1.4 0 1 0-2.8 0M99.2 446.4a1.4 1.4 0 1 0 2.8 0a1.4 1.4 0 1 0-2.8 0M99.5 445.5a1.4 1.4 0 1 0 2.8 0a1.4 1.4 0 1 0-2.8 0M99.9 446.5a1.4 1.4 0 1 0 2.8 0a1.4 1.4 0 1 0-2.8 0M100.2 445.3a1.4 1.4 0 1 0 2.8 0a1.4 1.4 0 1 0-2.8 0M100.6 447.2a1.4 1.4 0 1 0 2.8 0a1.4 1.4 0 1 0-2.8 0M100.9 446.7a1.4 1.4 0 1 0 2.8 0a1.4 1.4 0 1 0-2.8 0M101.3 445.5a1.4 1.4 0 1 0 2.8 0a1.4 1.4 0 1 0-2.8 0M101.6 446.5a1.4 1.4 0 1 0 2.8 0a1.4 1.4 0 1 0-2.8 0M102.0 447.3a1.4 1.4 0 1 0 2.8 0a1.4 1.4 0 1 0-2.8 0M102.3 444.5a1.4 1.4 0 1 0 2.8 0a1.4 1.4 0 1 0-2.8 0M102.7 446.1a1.4 1.4 0 1 0 2.8 0a1.4 1.4 0 1 0-2.8 0M103.0 447.6a1.4 1.4 0 1 0 2.8 0a1.4 1.4 0 1 0-2.8 0M103.4 444.9a1.4 1.4 0 1 0 2.8 0a1.4 1.4 0 1 0-2.8 0M103.7 446.1a1.4 1.4 0 1 0 2.8 0a1.4 1.4 0 1 0-2.8 0M104.1 445.0a1.4 1.4 0 1 0 2.8 0a1.4 1.4 0 1 0-2.8 0M104.4 446.1a1.4 1.4 0 1 0 2.8 0a1.4 1.4 0 1 0-2.8 0M104.8 444.2a1.4 1.4 0 1 0 2.8 0a1.4 1.4 0 1 0-2.8 0M105.1 444.8a1.4 1.4 0 1 0 2.8 0a1.4 1.4 0 1 0-2.8 0M105.5 445.7a1.4 1.4 0 1 0 2.8 0a1.4 1.4 0 1 0-2.8 0M105.8 446.2a1.4 1.4 0 1 0 2.8 0a1.4 1.4 0 1 0-2.8 0M106.2 446.4a1.4 1.4 0 1 0 2.8 0a1.4 1.4 0 1 0-2.8 0M106.5 446.4a1.4 1.4 0 1 0 2.8 0a1.4 1.4 0 1 0-2.8 0M106.9 447.0a1.4 1.4 0 1 0 2.8 0a1.4 1.4 0 1 0-2.8 0M107.2 446.6a1.4 1.4 0 1 0 2.8 0a1.4 1.4 0 1 0-2.8 0M107.6 446.6a1.4 1.4 0 1 0 2.8 0a1.4 1.4 0 1 0-2.8 0M107.9 445.2a1.4 1.4 0 1 0 2.8 0a1.4 1.4 0 1 0-2.8 0M108.3 445.9a1.4 1.4 0 1 0 2.8 0a1.4 1.4 0 1 0-2.8 0M108.6 448.6a1.4 1.4 0 1 0 2.8 0a1.4 1.4 0 1 0-2.8 0M109.0 447.8a1.4 1.4 0 1 0 2.8 0a1.4 1.4 0 1 0-2.8 0M109.3 446.6a1.4 1.4 0 1 0 2.8 0a1.4 1.4 0 1 0-2.8 0M109.7 446.5a1.4 1.4 0 1 0 2.8 0a1.4 1.4 0 1 0-2.8 0M110.0 446.7a1.4 1.4 0 1 0 2.8 0a1.4 1.4 0 1 0-2.8 0M110.4 445.5a1.4 1.4 0 1 0 2.8 0a1.4 1.4 0 1 0-2.8 0M110.7 447.5a1.4 1.4 0 1 0 2.8 0a1.4 1.4 0 1 0-2.8 0M111.1 445.5a1.4 1.4 0 1 0 2.8 0a1.4 1.4 0 1 0-2.8 0M111.4 445.8a1.4 1.4 0 1 0 2.8 0a1.4 1.4 0 1 0-2.8 0M111.8 447.6a1.4 1.4 0 1 0 2.8 0a1.4 1.4 0 1 0-2.8 0M112.1 444.1a1.4 1.4 0 1 0 2.8 0a1.4 1.4 0 1 0-2.8 0M112.5 446.1a1.4 1.4 0 1 0 2.8 0a1.4 1.4 0 1 0-2.8 0M112.8 444.3a1.4 1.4 0 1 0 2.8 0a1.4 1.4 0 1 0-2.8 0M113.2 445.2a1.4 1.4 0 1 0 2.8 0a1.4 1.4 0 1 0-2.8 0M113.5 445.6a1.4 1.4 0 1 0 2.8 0a1.4 1.4 0 1 0-2.8 0M113.9 445.4a1.4 1.4 0 1 0 2.8 0a1.4 1.4 0 1 0-2.8 0M114.2 445.8a1.4 1.4 0 1 0 2.8 0a1.4 1.4 0 1 0-2.8 0M114.6 445.0a1.4 1.4 0 1 0 2.8 0a1.4 1.4 0 1 0-2.8 0M114.9 445.6a1.4 1.4 0 1 0 2.8 0a1.4 1.4 0 1 0-2.8 0M115.3 444.6a1.4 1.4 0 1 0 2.8 0a1.4 1.4 0 1 0-2.8 0M115.6 445.3a1.4 1.4 0 1 0 2.8 0a1.4 1.4 0 1 0-2.8 0M116.0 444.4a1.4 1.4 0 1 0 2.8 0a1.4 1.4 0 1 0-2.8 0M116.3 446.1a1.4 1.4 0 1 0 2.8 0a1.4 1.4 0 1 0-2.8 0M116.7 444.5a1.4 1.4 0 1 0 2.8 0a1.4 1.4 0 1 0-2.8 0M117.0 446.1a1.4 1.4 0 1 0 2.8 0a1.4 1.4 0 1 0-2.8 0M117.4 445.2a1.4 1.4 0 1 0 2.8 0a1.4 1.4 0 1 0-2.8 0M117.7 445.3a1.4 1.4 0 1 0 2.8 0a1.4 1.4 0 1 0-2.8 0M118.1 446.5a1.4 1.4 0 1 0 2.8 0a1.4 1.4 0 1 0-2.8 0M118.4 445.6a1.4 1.4 0 1 0 2.8 0a1.4 1.4 0 1 0-2.8 0M118.8 443.9a1.4 1.4 0 1 0 2.8 0a1.4 1.4 0 1 0-2.8 0M119.1 445.9a1.4 1.4 0 1 0 2.8 0a1.4 1.4 0 1 0-2.8 0M119.5 443.0a1.4 1.4 0 1 0 2.8 0a1.4 1.4 0 1 0-2.8 0M119.8 445.6a1.4 1.4 0 1 0 2.8 0a1.4 1.4 0 1 0-2.8 0M120.2 445.1a1.4 1.4 0 1 0 2.8 0a1.4 1.4 0 1 0-2.8 0M120.5 444.2a1.4 1.4 0 1 0 2.8 0a1.4 1.4 0 1 0-2.8 0M120.9 445.4a1.4 1.4 0 1 0 2.8 0a1.4 1.4 0 1 0-2.8 0M121.2 445.1a1.4 1.4 0 1 0 2.8 0a1.4 1.4 0 1 0-2.8 0M121.6 447.0a1.4 1.4 0 1 0 2.8 0a1.4 1.4 0 1 0-2.8 0M121.9 444.9a1.4 1.4 0 1 0 2.8 0a1.4 1.4 0 1 0-2.8 0M122.3 446.9a1.4 1.4 0 1 0 2.8 0a1.4 1.4 0 1 0-2.8 0M122.6 446.4a1.4 1.4 0 1 0 2.8 0a1.4 1.4 0 1 0-2.8 0M123.0 444.7a1.4 1.4 0 1 0 2.8 0a1.4 1.4 0 1 0-2.8 0M123.3 444.5a1.4 1.4 0 1 0 2.8 0a1.4 1.4 0 1 0-2.8 0M123.7 446.3a1.4 1.4 0 1 0 2.8 0a1.4 1.4 0 1 0-2.8 0M124.0 445.1a1.4 1.4 0 1 0 2.8 0a1.4 1.4 0 1 0-2.8 0M124.4 445.3a1.4 1.4 0 1 0 2.8 0a1.4 1.4 0 1 0-2.8 0M124.7 444.9a1.4 1.4 0 1 0 2.8 0a1.4 1.4 0 1 0-2.8 0M125.1 444.1a1.4 1.4 0 1 0 2.8 0a1.4 1.4 0 1 0-2.8 0M125.4 444.8a1.4 1.4 0 1 0 2.8 0a1.4 1.4 0 1 0-2.8 0M125.8 444.3a1.4 1.4 0 1 0 2.8 0a1.4 1.4 0 1 0-2.8 0M126.1 443.8a1.4 1.4 0 1 0 2.8 0a1.4 1.4 0 1 0-2.8 0M126.5 444.8a1.4 1.4 0 1 0 2.8 0a1.4 1.4 0 1 0-2.8 0M126.8 446.6a1.4 1.4 0 1 0 2.8 0a1.4 1.4 0 1 0-2.8 0M127.2 446.4a1.4 1.4 0 1 0 2.8 0a1.4 1.4 0 1 0-2.8 0M127.5 445.0a1.4 1.4 0 1 0 2.8 0a1.4 1.4 0 1 0-2.8 0M127.9 445.1a1.4 1.4 0 1 0 2.8 0a1.4 1.4 0 1 0-2.8 0M128.2 445.4a1.4 1.4 0 1 0 2.8 0a1.4 1.4 0 1 0-2.8 0M128.6 446.1a1.4 1.4 0 1 0 2.8 0a1.4 1.4 0 1 0-2.8 0M128.9 445.2a1.4 1.4 0 1 0 2.8 0a1.4 1.4 0 1 0-2.8 0M129.3 444.5a1.4 1.4 0 1 0 2.8 0a1.4 1.4 0 1 0-2.8 0M129.6 444.6a1.4 1.4 0 1 0 2.8 0a1.4 1.4 0 1 0-2.8 0M130.0 445.8a1.4 1.4 0 1 0 2.8 0a1.4 1.4 0 1 0-2.8 0M130.3 447.1a1.4 1.4 0 1 0 2.8 0a1.4 1.4 0 1 0-2.8 0M130.7 444.3a1.4 1.4 0 1 0 2.8 0a1.4 1.4 0 1 0-2.8 0M131.0 443.1a1.4 1.4 0 1 0 2.8 0a1.4 1.4 0 1 0-2.8 0M131.4 445.5a1.4 1.4 0 1 0 2.8 0a1.4 1.4 0 1 0-2.8 0M131.7 444.7a1.4 1.4 0 1 0 2.8 0a1.4 1.4 0 1 0-2.8 0M132.1 444.9a1.4 1.4 0 1 0 2.8 0a1.4 1.4 0 1 0-2.8 0M132.4 445.8a1.4 1.4 0 1 0 2.8 0a1.4 1.4 0 1 0-2.8 0M132.8 444.8a1.4 1.4 0 1 0 2.8 0a1.4 1.4 0 1 0-2.8 0M133.1 443.6a1.4 1.4 0 1 0 2.8 0a1.4 1.4 0 1 0-2.8 0M133.5 443.1a1.4 1.4 0 1 0 2.8 0a1.4 1.4 0 1 0-2.8 0M133.8 444.7a1.4 1.4 0 1 0 2.8 0a1.4 1.4 0 1 0-2.8 0M134.2 443.7a1.4 1.4 0 1 0 2.8 0a1.4 1.4 0 1 0-2.8 0M134.5 444.9a1.4 1.4 0 1 0 2.8 0a1.4 1.4 0 1 0-2.8 0M134.9 443.6a1.4 1.4 0 1 0 2.8 0a1.4 1.4 0 1 0-2.8 0M135.2 444.3a1.4 1.4 0 1 0 2.8 0a1.4 1.4 0 1 0-2.8 0M135.6 443.4a1.4 1.4 0 1 0 2.8 0a1.4 1.4 0 1 0-2.8 0M135.9 444.3a1.4 1.4 0 1 0 2.8 0a1.4 1.4 0 1 0-2.8 0M136.3 444.2a1.4 1.4 0 1 0 2.8 0a1.4 1.4 0 1 0-2.8 0M136.6 445.1a1.4 1.4 0 1 0 2.8 0a1.4 1.4 0 1 0-2.8 0M137.0 445.7a1.4 1.4 0 1 0 2.8 0a1.4 1.4 0 1 0-2.8 0M137.3 444.4a1.4 1.4 0 1 0 2.8 0a1.4 1.4 0 1 0-2.8 0M137.7 443.8a1.4 1.4 0 1 0 2.8 0a1.4 1.4 0 1 0-2.8 0M138.0 446.1a1.4 1.4 0 1 0 2.8 0a1.4 1.4 0 1 0-2.8 0M138.4 444.8a1.4 1.4 0 1 0 2.8 0a1.4 1.4 0 1 0-2.8 0M138.7 445.0a1.4 1.4 0 1 0 2.8 0a1.4 1.4 0 1 0-2.8 0M139.1 444.9a1.4 1.4 0 1 0 2.8 0a1.4 1.4 0 1 0-2.8 0M139.4 445.6a1.4 1.4 0 1 0 2.8 0a1.4 1.4 0 1 0-2.8 0M139.8 445.2a1.4 1.4 0 1 0 2.8 0a1.4 1.4 0 1 0-2.8 0M140.1 444.9a1.4 1.4 0 1 0 2.8 0a1.4 1.4 0 1 0-2.8 0M140.5 445.0a1.4 1.4 0 1 0 2.8 0a1.4 1.4 0 1 0-2.8 0M140.8 443.6a1.4 1.4 0 1 0 2.8 0a1.4 1.4 0 1 0-2.8 0M141.2 443.8a1.4 1.4 0 1 0 2.8 0a1.4 1.4 0 1 0-2.8 0M141.5 444.2a1.4 1.4 0 1 0 2.8 0a1.4 1.4 0 1 0-2.8 0M141.9 444.3a1.4 1.4 0 1 0 2.8 0a1.4 1.4 0 1 0-2.8 0M142.2 444.3a1.4 1.4 0 1 0 2.8 0a1.4 1.4 0 1 0-2.8 0M142.6 444.5a1.4 1.4 0 1 0 2.8 0a1.4 1.4 0 1 0-2.8 0M142.9 444.2a1.4 1.4 0 1 0 2.8 0a1.4 1.4 0 1 0-2.8 0M143.3 443.8a1.4 1.4 0 1 0 2.8 0a1.4 1.4 0 1 0-2.8 0M143.6 442.8a1.4 1.4 0 1 0 2.8 0a1.4 1.4 0 1 0-2.8 0M144.0 444.8a1.4 1.4 0 1 0 2.8 0a1.4 1.4 0 1 0-2.8 0M144.3 444.6a1.4 1.4 0 1 0 2.8 0a1.4 1.4 0 1 0-2.8 0M144.7 443.4a1.4 1.4 0 1 0 2.8 0a1.4 1.4 0 1 0-2.8 0M145.0 444.5a1.4 1.4 0 1 0 2.8 0a1.4 1.4 0 1 0-2.8 0M145.4 444.4a1.4 1.4 0 1 0 2.8 0a1.4 1.4 0 1 0-2.8 0M145.7 444.1a1.4 1.4 0 1 0 2.8 0a1.4 1.4 0 1 0-2.8 0M146.1 442.4a1.4 1.4 0 1 0 2.8 0a1.4 1.4 0 1 0-2.8 0M146.4 442.9a1.4 1.4 0 1 0 2.8 0a1.4 1.4 0 1 0-2.8 0M146.8 443.4a1.4 1.4 0 1 0 2.8 0a1.4 1.4 0 1 0-2.8 0M147.1 445.3a1.4 1.4 0 1 0 2.8 0a1.4 1.4 0 1 0-2.8 0M147.5 443.2a1.4 1.4 0 1 0 2.8 0a1.4 1.4 0 1 0-2.8 0M147.8 443.6a1.4 1.4 0 1 0 2.8 0a1.4 1.4 0 1 0-2.8 0M148.2 442.9a1.4 1.4 0 1 0 2.8 0a1.4 1.4 0 1 0-2.8 0M148.5 443.3a1.4 1.4 0 1 0 2.8 0a1.4 1.4 0 1 0-2.8 0M148.9 444.0a1.4 1.4 0 1 0 2.8 0a1.4 1.4 0 1 0-2.8 0M149.2 441.9a1.4 1.4 0 1 0 2.8 0a1.4 1.4 0 1 0-2.8 0M149.6 441.2a1.4 1.4 0 1 0 2.8 0a1.4 1.4 0 1 0-2.8 0M149.9 444.1a1.4 1.4 0 1 0 2.8 0a1.4 1.4 0 1 0-2.8 0M150.3 443.5a1.4 1.4 0 1 0 2.8 0a1.4 1.4 0 1 0-2.8 0M150.6 442.9a1.4 1.4 0 1 0 2.8 0a1.4 1.4 0 1 0-2.8 0M151.0 444.1a1.4 1.4 0 1 0 2.8 0a1.4 1.4 0 1 0-2.8 0M151.3 443.8a1.4 1.4 0 1 0 2.8 0a1.4 1.4 0 1 0-2.8 0M151.7 440.8a1.4 1.4 0 1 0 2.8 0a1.4 1.4 0 1 0-2.8 0M152.0 441.2a1.4 1.4 0 1 0 2.8 0a1.4 1.4 0 1 0-2.8 0M152.4 439.1a1.4 1.4 0 1 0 2.8 0a1.4 1.4 0 1 0-2.8 0M152.7 430.2a1.4 1.4 0 1 0 2.8 0a1.4 1.4 0 1 0-2.8 0M153.1 419.8a1.4 1.4 0 1 0 2.8 0a1.4 1.4 0 1 0-2.8 0M153.4 413.8a1.4 1.4 0 1 0 2.8 0a1.4 1.4 0 1 0-2.8 0M153.8 417.8a1.4 1.4 0 1 0 2.8 0a1.4 1.4 0 1 0-2.8 0M154.1 427.9a1.4 1.4 0 1 0 2.8 0a1.4 1.4 0 1 0-2.8 0M154.5 436.5a1.4 1.4 0 1 0 2.8 0a1.4 1.4 0 1 0-2.8 0M154.8 439.8a1.4 1.4 0 1 0 2.8 0a1.4 1.4 0 1 0-2.8 0M155.2 442.8a1.4 1.4 0 1 0 2.8 0a1.4 1.4 0 1 0-2.8 0M155.5 441.4a1.4 1.4 0 1 0 2.8 0a1.4 1.4 0 1 0-2.8 0M155.9 443.9a1.4 1.4 0 1 0 2.8 0a1.4 1.4 0 1 0-2.8 0M156.2 441.8a1.4 1.4 0 1 0 2.8 0a1.4 1.4 0 1 0-2.8 0M156.6 443.3a1.4 1.4 0 1 0 2.8 0a1.4 1.4 0 1 0-2.8 0M156.9 442.1a1.4 1.4 0 1 0 2.8 0a1.4 1.4 0 1 0-2.8 0M157.3 443.1a1.4 1.4 0 1 0 2.8 0a1.4 1.4 0 1 0-2.8 0M157.6 444.2a1.4 1.4 0 1 0 2.8 0a1.4 1.4 0 1 0-2.8 0M158.0 444.2a1.4 1.4 0 1 0 2.8 0a1.4 1.4 0 1 0-2.8 0M158.3 444.1a1.4 1.4 0 1 0 2.8 0a1.4 1.4 0 1 0-2.8 0M158.7 442.6a1.4 1.4 0 1 0 2.8 0a1.4 1.4 0 1 0-2.8 0M159.0 441.9a1.4 1.4 0 1 0 2.8 0a1.4 1.4 0 1 0-2.8 0M159.4 439.3a1.4 1.4 0 1 0 2.8 0a1.4 1.4 0 1 0-2.8 0M159.7 433.7a1.4 1.4 0 1 0 2.8 0a1.4 1.4 0 1 0-2.8 0M160.1 423.9a1.4 1.4 0 1 0 2.8 0a1.4 1.4 0 1 0-2.8 0M160.4 418.9a1.4 1.4 0 1 0 2.8 0a1.4 1.4 0 1 0-2.8 0M160.8 422.2a1.4 1.4 0 1 0 2.8 0a1.4 1.4 0 1 0-2.8 0M161.1 432.0a1.4 1.4 0 1 0 2.8 0a1.4 1.4 0 1 0-2.8 0M161.5 438.4a1.4 1.4 0 1 0 2.8 0a1.4 1.4 0 1 0-2.8 0M161.8 442.0a1.4 1.4 0 1 0 2.8 0a1.4 1.4 0 1 0-2.8 0M162.2 442.0a1.4 1.4 0 1 0 2.8 0a1.4 1.4 0 1 0-2.8 0M162.5 442.8a1.4 1.4 0 1 0 2.8 0a1.4 1.4 0 1 0-2.8 0M162.9 442.2a1.4 1.4 0 1 0 2.8 0a1.4 1.4 0 1 0-2.8 0M163.2 443.2a1.4 1.4 0 1 0 2.8 0a1.4 1.4 0 1 0-2.8 0M163.6 443.4a1.4 1.4 0 1 0 2.8 0a1.4 1.4 0 1 0-2.8 0M163.9 444.4a1.4 1.4 0 1 0 2.8 0a1.4 1.4 0 1 0-2.8 0M164.3 442.6a1.4 1.4 0 1 0 2.8 0a1.4 1.4 0 1 0-2.8 0M164.6 446.5a1.4 1.4 0 1 0 2.8 0a1.4 1.4 0 1 0-2.8 0M165.0 443.7a1.4 1.4 0 1 0 2.8 0a1.4 1.4 0 1 0-2.8 0M165.3 444.9a1.4 1.4 0 1 0 2.8 0a1.4 1.4 0 1 0-2.8 0M165.7 444.7a1.4 1.4 0 1 0 2.8 0a1.4 1.4 0 1 0-2.8 0M166.0 441.7a1.4 1.4 0 1 0 2.8 0a1.4 1.4 0 1 0-2.8 0M166.4 443.7a1.4 1.4 0 1 0 2.8 0a1.4 1.4 0 1 0-2.8 0M166.7 445.1a1.4 1.4 0 1 0 2.8 0a1.4 1.4 0 1 0-2.8 0M167.1 441.8a1.4 1.4 0 1 0 2.8 0a1.4 1.4 0 1 0-2.8 0M167.4 444.6a1.4 1.4 0 1 0 2.8 0a1.4 1.4 0 1 0-2.8 0M167.8 443.1a1.4 1.4 0 1 0 2.8 0a1.4 1.4 0 1 0-2.8 0M168.1 443.5a1.4 1.4 0 1 0 2.8 0a1.4 1.4 0 1 0-2.8 0M168.5 444.1a1.4 1.4 0 1 0 2.8 0a1.4 1.4 0 1 0-2.8 0M168.8 442.4a1.4 1.4 0 1 0 2.8 0a1.4 1.4 0 1 0-2.8 0M169.2 444.1a1.4 1.4 0 1 0 2.8 0a1.4 1.4 0 1 0-2.8 0M169.5 443.4a1.4 1.4 0 1 0 2.8 0a1.4 1.4 0 1 0-2.8 0M169.9 443.3a1.4 1.4 0 1 0 2.8 0a1.4 1.4 0 1 0-2.8 0M170.2 444.6a1.4 1.4 0 1 0 2.8 0a1.4 1.4 0 1 0-2.8 0M170.6 446.9a1.4 1.4 0 1 0 2.8 0a1.4 1.4 0 1 0-2.8 0M170.9 444.3a1.4 1.4 0 1 0 2.8 0a1.4 1.4 0 1 0-2.8 0M171.3 444.4a1.4 1.4 0 1 0 2.8 0a1.4 1.4 0 1 0-2.8 0M171.6 443.9a1.4 1.4 0 1 0 2.8 0a1.4 1.4 0 1 0-2.8 0M172.0 443.4a1.4 1.4 0 1 0 2.8 0a1.4 1.4 0 1 0-2.8 0M172.3 444.2a1.4 1.4 0 1 0 2.8 0a1.4 1.4 0 1 0-2.8 0M172.7 445.3a1.4 1.4 0 1 0 2.8 0a1.4 1.4 0 1 0-2.8 0M173.0 444.1a1.4 1.4 0 1 0 2.8 0a1.4 1.4 0 1 0-2.8 0M173.4 444.7a1.4 1.4 0 1 0 2.8 0a1.4 1.4 0 1 0-2.8 0M173.7 443.8a1.4 1.4 0 1 0 2.8 0a1.4 1.4 0 1 0-2.8 0M174.1 446.1a1.4 1.4 0 1 0 2.8 0a1.4 1.4 0 1 0-2.8 0M174.4 442.5a1.4 1.4 0 1 0 2.8 0a1.4 1.4 0 1 0-2.8 0M174.8 444.4a1.4 1.4 0 1 0 2.8 0a1.4 1.4 0 1 0-2.8 0M175.1 444.4a1.4 1.4 0 1 0 2.8 0a1.4 1.4 0 1 0-2.8 0M175.5 444.2a1.4 1.4 0 1 0 2.8 0a1.4 1.4 0 1 0-2.8 0M175.8 443.0a1.4 1.4 0 1 0 2.8 0a1.4 1.4 0 1 0-2.8 0M176.2 442.9a1.4 1.4 0 1 0 2.8 0a1.4 1.4 0 1 0-2.8 0M176.5 443.7a1.4 1.4 0 1 0 2.8 0a1.4 1.4 0 1 0-2.8 0M176.9 443.9a1.4 1.4 0 1 0 2.8 0a1.4 1.4 0 1 0-2.8 0M177.2 442.8a1.4 1.4 0 1 0 2.8 0a1.4 1.4 0 1 0-2.8 0M177.6 442.8a1.4 1.4 0 1 0 2.8 0a1.4 1.4 0 1 0-2.8 0M177.9 444.1a1.4 1.4 0 1 0 2.8 0a1.4 1.4 0 1 0-2.8 0M178.3 444.3a1.4 1.4 0 1 0 2.8 0a1.4 1.4 0 1 0-2.8 0M178.6 442.4a1.4 1.4 0 1 0 2.8 0a1.4 1.4 0 1 0-2.8 0M179.0 441.0a1.4 1.4 0 1 0 2.8 0a1.4 1.4 0 1 0-2.8 0M179.3 438.9a1.4 1.4 0 1 0 2.8 0a1.4 1.4 0 1 0-2.8 0M179.7 439.0a1.4 1.4 0 1 0 2.8 0a1.4 1.4 0 1 0-2.8 0M180.0 435.5a1.4 1.4 0 1 0 2.8 0a1.4 1.4 0 1 0-2.8 0M180.4 435.7a1.4 1.4 0 1 0 2.8 0a1.4 1.4 0 1 0-2.8 0M180.7 439.1a1.4 1.4 0 1 0 2.8 0a1.4 1.4 0 1 0-2.8 0M181.1 442.7a1.4 1.4 0 1 0 2.8 0a1.4 1.4 0 1 0-2.8 0M181.4 443.3a1.4 1.4 0 1 0 2.8 0a1.4 1.4 0 1 0-2.8 0M181.8 441.9a1.4 1.4 0 1 0 2.8 0a1.4 1.4 0 1 0-2.8 0M182.1 443.4a1.4 1.4 0 1 0 2.8 0a1.4 1.4 0 1 0-2.8 0M182.5 443.3a1.4 1.4 0 1 0 2.8 0a1.4 1.4 0 1 0-2.8 0M182.8 443.4a1.4 1.4 0 1 0 2.8 0a1.4 1.4 0 1 0-2.8 0M183.2 442.6a1.4 1.4 0 1 0 2.8 0a1.4 1.4 0 1 0-2.8 0M183.5 443.3a1.4 1.4 0 1 0 2.8 0a1.4 1.4 0 1 0-2.8 0M183.9 442.6a1.4 1.4 0 1 0 2.8 0a1.4 1.4 0 1 0-2.8 0M184.2 443.6a1.4 1.4 0 1 0 2.8 0a1.4 1.4 0 1 0-2.8 0M184.6 442.9a1.4 1.4 0 1 0 2.8 0a1.4 1.4 0 1 0-2.8 0M184.9 440.8a1.4 1.4 0 1 0 2.8 0a1.4 1.4 0 1 0-2.8 0M185.3 439.3a1.4 1.4 0 1 0 2.8 0a1.4 1.4 0 1 0-2.8 0M185.6 438.8a1.4 1.4 0 1 0 2.8 0a1.4 1.4 0 1 0-2.8 0M186.0 438.3a1.4 1.4 0 1 0 2.8 0a1.4 1.4 0 1 0-2.8 0M186.3 436.7a1.4 1.4 0 1 0 2.8 0a1.4 1.4 0 1 0-2.8 0M186.7 435.1a1.4 1.4 0 1 0 2.8 0a1.4 1.4 0 1 0-2.8 0M187.0 433.0a1.4 1.4 0 1 0 2.8 0a1.4 1.4 0 1 0-2.8 0M187.4 437.7a1.4 1.4 0 1 0 2.8 0a1.4 1.4 0 1 0-2.8 0M187.7 439.9a1.4 1.4 0 1 0 2.8 0a1.4 1.4 0 1 0-2.8 0M188.1 441.9a1.4 1.4 0 1 0 2.8 0a1.4 1.4 0 1 0-2.8 0M188.4 442.1a1.4 1.4 0 1 0 2.8 0a1.4 1.4 0 1 0-2.8 0M188.8 443.2a1.4 1.4 0 1 0 2.8 0a1.4 1.4 0 1 0-2.8 0M189.1 443.1a1.4 1.4 0 1 0 2.8 0a1.4 1.4 0 1 0-2.8 0M189.5 446.1a1.4 1.4 0 1 0 2.8 0a1.4 1.4 0 1 0-2.8 0M189.8 444.4a1.4 1.4 0 1 0 2.8 0a1.4 1.4 0 1 0-2.8 0M190.2 443.7a1.4 1.4 0 1 0 2.8 0a1.4 1.4 0 1 0-2.8 0M190.5 443.9a1.4 1.4 0 1 0 2.8 0a1.4 1.4 0 1 0-2.8 0M190.9 443.8a1.4 1.4 0 1 0 2.8 0a1.4 1.4 0 1 0-2.8 0M191.2 444.1a1.4 1.4 0 1 0 2.8 0a1.4 1.4 0 1 0-2.8 0M191.6 443.6a1.4 1.4 0 1 0 2.8 0a1.4 1.4 0 1 0-2.8 0M191.9 444.0a1.4 1.4 0 1 0 2.8 0a1.4 1.4 0 1 0-2.8 0M192.3 444.9a1.4 1.4 0 1 0 2.8 0a1.4 1.4 0 1 0-2.8 0M192.6 444.7a1.4 1.4 0 1 0 2.8 0a1.4 1.4 0 1 0-2.8 0M193.0 444.3a1.4 1.4 0 1 0 2.8 0a1.4 1.4 0 1 0-2.8 0M193.3 445.2a1.4 1.4 0 1 0 2.8 0a1.4 1.4 0 1 0-2.8 0M193.7 444.2a1.4 1.4 0 1 0 2.8 0a1.4 1.4 0 1 0-2.8 0M194.0 443.2a1.4 1.4 0 1 0 2.8 0a1.4 1.4 0 1 0-2.8 0M194.4 442.5a1.4 1.4 0 1 0 2.8 0a1.4 1.4 0 1 0-2.8 0M194.7 443.4a1.4 1.4 0 1 0 2.8 0a1.4 1.4 0 1 0-2.8 0M195.1 444.0a1.4 1.4 0 1 0 2.8 0a1.4 1.4 0 1 0-2.8 0M195.4 444.4a1.4 1.4 0 1 0 2.8 0a1.4 1.4 0 1 0-2.8 0M195.8 445.0a1.4 1.4 0 1 0 2.8 0a1.4 1.4 0 1 0-2.8 0M196.1 443.6a1.4 1.4 0 1 0 2.8 0a1.4 1.4 0 1 0-2.8 0M196.5 443.4a1.4 1.4 0 1 0 2.8 0a1.4 1.4 0 1 0-2.8 0M196.8 444.7a1.4 1.4 0 1 0 2.8 0a1.4 1.4 0 1 0-2.8 0M197.2 445.0a1.4 1.4 0 1 0 2.8 0a1.4 1.4 0 1 0-2.8 0M197.5 443.6a1.4 1.4 0 1 0 2.8 0a1.4 1.4 0 1 0-2.8 0M197.9 444.3a1.4 1.4 0 1 0 2.8 0a1.4 1.4 0 1 0-2.8 0M198.2 445.2a1.4 1.4 0 1 0 2.8 0a1.4 1.4 0 1 0-2.8 0M198.6 444.3a1.4 1.4 0 1 0 2.8 0a1.4 1.4 0 1 0-2.8 0M198.9 443.9a1.4 1.4 0 1 0 2.8 0a1.4 1.4 0 1 0-2.8 0M199.3 442.2a1.4 1.4 0 1 0 2.8 0a1.4 1.4 0 1 0-2.8 0M199.6 445.1a1.4 1.4 0 1 0 2.8 0a1.4 1.4 0 1 0-2.8 0M200.0 444.5a1.4 1.4 0 1 0 2.8 0a1.4 1.4 0 1 0-2.8 0M200.3 444.0a1.4 1.4 0 1 0 2.8 0a1.4 1.4 0 1 0-2.8 0M200.7 443.3a1.4 1.4 0 1 0 2.8 0a1.4 1.4 0 1 0-2.8 0M201.0 442.3a1.4 1.4 0 1 0 2.8 0a1.4 1.4 0 1 0-2.8 0M201.4 442.5a1.4 1.4 0 1 0 2.8 0a1.4 1.4 0 1 0-2.8 0M201.7 441.2a1.4 1.4 0 1 0 2.8 0a1.4 1.4 0 1 0-2.8 0M202.1 440.5a1.4 1.4 0 1 0 2.8 0a1.4 1.4 0 1 0-2.8 0M202.4 437.2a1.4 1.4 0 1 0 2.8 0a1.4 1.4 0 1 0-2.8 0M202.8 439.7a1.4 1.4 0 1 0 2.8 0a1.4 1.4 0 1 0-2.8 0M203.1 440.1a1.4 1.4 0 1 0 2.8 0a1.4 1.4 0 1 0-2.8 0M203.5 442.8a1.4 1.4 0 1 0 2.8 0a1.4 1.4 0 1 0-2.8 0M203.8 442.1a1.4 1.4 0 1 0 2.8 0a1.4 1.4 0 1 0-2.8 0M204.2 443.8a1.4 1.4 0 1 0 2.8 0a1.4 1.4 0 1 0-2.8 0M204.5 444.8a1.4 1.4 0 1 0 2.8 0a1.4 1.4 0 1 0-2.8 0M204.9 443.9a1.4 1.4 0 1 0 2.8 0a1.4 1.4 0 1 0-2.8 0M205.2 442.6a1.4 1.4 0 1 0 2.8 0a1.4 1.4 0 1 0-2.8 0M205.6 443.6a1.4 1.4 0 1 0 2.8 0a1.4 1.4 0 1 0-2.8 0M205.9 444.3a1.4 1.4 0 1 0 2.8 0a1.4 1.4 0 1 0-2.8 0M206.3 442.5a1.4 1.4 0 1 0 2.8 0a1.4 1.4 0 1 0-2.8 0M206.6 442.2a1.4 1.4 0 1 0 2.8 0a1.4 1.4 0 1 0-2.8 0M207.0 443.1a1.4 1.4 0 1 0 2.8 0a1.4 1.4 0 1 0-2.8 0M207.3 441.0a1.4 1.4 0 1 0 2.8 0a1.4 1.4 0 1 0-2.8 0M207.7 440.9a1.4 1.4 0 1 0 2.8 0a1.4 1.4 0 1 0-2.8 0M208.0 438.2a1.4 1.4 0 1 0 2.8 0a1.4 1.4 0 1 0-2.8 0M208.4 437.8a1.4 1.4 0 1 0 2.8 0a1.4 1.4 0 1 0-2.8 0M208.7 440.1a1.4 1.4 0 1 0 2.8 0a1.4 1.4 0 1 0-2.8 0M209.1 443.4a1.4 1.4 0 1 0 2.8 0a1.4 1.4 0 1 0-2.8 0M209.4 442.4a1.4 1.4 0 1 0 2.8 0a1.4 1.4 0 1 0-2.8 0M209.8 443.6a1.4 1.4 0 1 0 2.8 0a1.4 1.4 0 1 0-2.8 0M210.1 444.1a1.4 1.4 0 1 0 2.8 0a1.4 1.4 0 1 0-2.8 0M210.5 443.1a1.4 1.4 0 1 0 2.8 0a1.4 1.4 0 1 0-2.8 0M210.8 444.9a1.4 1.4 0 1 0 2.8 0a1.4 1.4 0 1 0-2.8 0M211.2 444.2a1.4 1.4 0 1 0 2.8 0a1.4 1.4 0 1 0-2.8 0M211.5 444.4a1.4 1.4 0 1 0 2.8 0a1.4 1.4 0 1 0-2.8 0M211.9 442.6a1.4 1.4 0 1 0 2.8 0a1.4 1.4 0 1 0-2.8 0M212.2 442.6a1.4 1.4 0 1 0 2.8 0a1.4 1.4 0 1 0-2.8 0M212.6 441.7a1.4 1.4 0 1 0 2.8 0a1.4 1.4 0 1 0-2.8 0M212.9 443.9a1.4 1.4 0 1 0 2.8 0a1.4 1.4 0 1 0-2.8 0M213.3 443.9a1.4 1.4 0 1 0 2.8 0a1.4 1.4 0 1 0-2.8 0M213.6 444.7a1.4 1.4 0 1 0 2.8 0a1.4 1.4 0 1 0-2.8 0M214.0 445.4a1.4 1.4 0 1 0 2.8 0a1.4 1.4 0 1 0-2.8 0M214.3 443.9a1.4 1.4 0 1 0 2.8 0a1.4 1.4 0 1 0-2.8 0M214.7 443.9a1.4 1.4 0 1 0 2.8 0a1.4 1.4 0 1 0-2.8 0M215.0 444.5a1.4 1.4 0 1 0 2.8 0a1.4 1.4 0 1 0-2.8 0M215.4 445.4a1.4 1.4 0 1 0 2.8 0a1.4 1.4 0 1 0-2.8 0M215.7 443.4a1.4 1.4 0 1 0 2.8 0a1.4 1.4 0 1 0-2.8 0M216.1 444.7a1.4 1.4 0 1 0 2.8 0a1.4 1.4 0 1 0-2.8 0M216.4 443.9a1.4 1.4 0 1 0 2.8 0a1.4 1.4 0 1 0-2.8 0M216.8 443.9a1.4 1.4 0 1 0 2.8 0a1.4 1.4 0 1 0-2.8 0M217.1 444.8a1.4 1.4 0 1 0 2.8 0a1.4 1.4 0 1 0-2.8 0M217.5 443.5a1.4 1.4 0 1 0 2.8 0a1.4 1.4 0 1 0-2.8 0M217.8 443.2a1.4 1.4 0 1 0 2.8 0a1.4 1.4 0 1 0-2.8 0M218.2 444.7a1.4 1.4 0 1 0 2.8 0a1.4 1.4 0 1 0-2.8 0M218.5 444.1a1.4 1.4 0 1 0 2.8 0a1.4 1.4 0 1 0-2.8 0M218.9 443.9a1.4 1.4 0 1 0 2.8 0a1.4 1.4 0 1 0-2.8 0M219.2 444.1a1.4 1.4 0 1 0 2.8 0a1.4 1.4 0 1 0-2.8 0M219.6 444.6a1.4 1.4 0 1 0 2.8 0a1.4 1.4 0 1 0-2.8 0M219.9 443.9a1.4 1.4 0 1 0 2.8 0a1.4 1.4 0 1 0-2.8 0M220.3 444.8a1.4 1.4 0 1 0 2.8 0a1.4 1.4 0 1 0-2.8 0M220.6 444.5a1.4 1.4 0 1 0 2.8 0a1.4 1.4 0 1 0-2.8 0M221.0 445.4a1.4 1.4 0 1 0 2.8 0a1.4 1.4 0 1 0-2.8 0M221.3 445.2a1.4 1.4 0 1 0 2.8 0a1.4 1.4 0 1 0-2.8 0M221.7 444.9a1.4 1.4 0 1 0 2.8 0a1.4 1.4 0 1 0-2.8 0M222.0 444.0a1.4 1.4 0 1 0 2.8 0a1.4 1.4 0 1 0-2.8 0M222.4 444.3a1.4 1.4 0 1 0 2.8 0a1.4 1.4 0 1 0-2.8 0M222.7 443.7a1.4 1.4 0 1 0 2.8 0a1.4 1.4 0 1 0-2.8 0M223.1 446.6a1.4 1.4 0 1 0 2.8 0a1.4 1.4 0 1 0-2.8 0M223.4 444.0a1.4 1.4 0 1 0 2.8 0a1.4 1.4 0 1 0-2.8 0M223.8 444.7a1.4 1.4 0 1 0 2.8 0a1.4 1.4 0 1 0-2.8 0M224.1 445.3a1.4 1.4 0 1 0 2.8 0a1.4 1.4 0 1 0-2.8 0M224.5 443.0a1.4 1.4 0 1 0 2.8 0a1.4 1.4 0 1 0-2.8 0M224.8 443.5a1.4 1.4 0 1 0 2.8 0a1.4 1.4 0 1 0-2.8 0M225.2 443.8a1.4 1.4 0 1 0 2.8 0a1.4 1.4 0 1 0-2.8 0M225.5 443.3a1.4 1.4 0 1 0 2.8 0a1.4 1.4 0 1 0-2.8 0M225.9 443.1a1.4 1.4 0 1 0 2.8 0a1.4 1.4 0 1 0-2.8 0M226.2 443.7a1.4 1.4 0 1 0 2.8 0a1.4 1.4 0 1 0-2.8 0M226.6 445.3a1.4 1.4 0 1 0 2.8 0a1.4 1.4 0 1 0-2.8 0M226.9 444.8a1.4 1.4 0 1 0 2.8 0a1.4 1.4 0 1 0-2.8 0M227.3 444.2a1.4 1.4 0 1 0 2.8 0a1.4 1.4 0 1 0-2.8 0M227.6 444.2a1.4 1.4 0 1 0 2.8 0a1.4 1.4 0 1 0-2.8 0M228.0 442.8a1.4 1.4 0 1 0 2.8 0a1.4 1.4 0 1 0-2.8 0M228.3 444.8a1.4 1.4 0 1 0 2.8 0a1.4 1.4 0 1 0-2.8 0M228.7 444.5a1.4 1.4 0 1 0 2.8 0a1.4 1.4 0 1 0-2.8 0M229.0 443.3a1.4 1.4 0 1 0 2.8 0a1.4 1.4 0 1 0-2.8 0M229.4 444.4a1.4 1.4 0 1 0 2.8 0a1.4 1.4 0 1 0-2.8 0M229.7 444.0a1.4 1.4 0 1 0 2.8 0a1.4 1.4 0 1 0-2.8 0M230.1 443.7a1.4 1.4 0 1 0 2.8 0a1.4 1.4 0 1 0-2.8 0M230.4 443.3a1.4 1.4 0 1 0 2.8 0a1.4 1.4 0 1 0-2.8 0M230.8 443.6a1.4 1.4 0 1 0 2.8 0a1.4 1.4 0 1 0-2.8 0M231.1 443.4a1.4 1.4 0 1 0 2.8 0a1.4 1.4 0 1 0-2.8 0M231.5 444.6a1.4 1.4 0 1 0 2.8 0a1.4 1.4 0 1 0-2.8 0M231.8 444.5a1.4 1.4 0 1 0 2.8 0a1.4 1.4 0 1 0-2.8 0M232.2 444.4a1.4 1.4 0 1 0 2.8 0a1.4 1.4 0 1 0-2.8 0M232.5 444.0a1.4 1.4 0 1 0 2.8 0a1.4 1.4 0 1 0-2.8 0M232.9 443.8a1.4 1.4 0 1 0 2.8 0a1.4 1.4 0 1 0-2.8 0M233.2 445.9a1.4 1.4 0 1 0 2.8 0a1.4 1.4 0 1 0-2.8 0M233.6 442.6a1.4 1.4 0 1 0 2.8 0a1.4 1.4 0 1 0-2.8 0M233.9 445.1a1.4 1.4 0 1 0 2.8 0a1.4 1.4 0 1 0-2.8 0M234.3 444.4a1.4 1.4 0 1 0 2.8 0a1.4 1.4 0 1 0-2.8 0M234.6 444.2a1.4 1.4 0 1 0 2.8 0a1.4 1.4 0 1 0-2.8 0M235.0 443.7a1.4 1.4 0 1 0 2.8 0a1.4 1.4 0 1 0-2.8 0M235.3 443.9a1.4 1.4 0 1 0 2.8 0a1.4 1.4 0 1 0-2.8 0M235.7 443.1a1.4 1.4 0 1 0 2.8 0a1.4 1.4 0 1 0-2.8 0M236.0 442.9a1.4 1.4 0 1 0 2.8 0a1.4 1.4 0 1 0-2.8 0M236.4 443.9a1.4 1.4 0 1 0 2.8 0a1.4 1.4 0 1 0-2.8 0M236.7 442.6a1.4 1.4 0 1 0 2.8 0a1.4 1.4 0 1 0-2.8 0M237.1 444.7a1.4 1.4 0 1 0 2.8 0a1.4 1.4 0 1 0-2.8 0M237.4 444.9a1.4 1.4 0 1 0 2.8 0a1.4 1.4 0 1 0-2.8 0M237.8 441.0a1.4 1.4 0 1 0 2.8 0a1.4 1.4 0 1 0-2.8 0M238.1 442.5a1.4 1.4 0 1 0 2.8 0a1.4 1.4 0 1 0-2.8 0M238.5 444.0a1.4 1.4 0 1 0 2.8 0a1.4 1.4 0 1 0-2.8 0M238.8 443.9a1.4 1.4 0 1 0 2.8 0a1.4 1.4 0 1 0-2.8 0M239.2 443.7a1.4 1.4 0 1 0 2.8 0a1.4 1.4 0 1 0-2.8 0M239.5 443.8a1.4 1.4 0 1 0 2.8 0a1.4 1.4 0 1 0-2.8 0M239.9 443.9a1.4 1.4 0 1 0 2.8 0a1.4 1.4 0 1 0-2.8 0M240.2 443.7a1.4 1.4 0 1 0 2.8 0a1.4 1.4 0 1 0-2.8 0M240.6 444.1a1.4 1.4 0 1 0 2.8 0a1.4 1.4 0 1 0-2.8 0M240.9 441.6a1.4 1.4 0 1 0 2.8 0a1.4 1.4 0 1 0-2.8 0M241.3 439.7a1.4 1.4 0 1 0 2.8 0a1.4 1.4 0 1 0-2.8 0M241.6 431.3a1.4 1.4 0 1 0 2.8 0a1.4 1.4 0 1 0-2.8 0M242.0 421.3a1.4 1.4 0 1 0 2.8 0a1.4 1.4 0 1 0-2.8 0M242.3 406.7a1.4 1.4 0 1 0 2.8 0a1.4 1.4 0 1 0-2.8 0M242.7 402.4a1.4 1.4 0 1 0 2.8 0a1.4 1.4 0 1 0-2.8 0M243.0 410.9a1.4 1.4 0 1 0 2.8 0a1.4 1.4 0 1 0-2.8 0M243.4 423.2a1.4 1.4 0 1 0 2.8 0a1.4 1.4 0 1 0-2.8 0M243.7 432.4a1.4 1.4 0 1 0 2.8 0a1.4 1.4 0 1 0-2.8 0M244.1 439.1a1.4 1.4 0 1 0 2.8 0a1.4 1.4 0 1 0-2.8 0M244.4 441.5a1.4 1.4 0 1 0 2.8 0a1.4 1.4 0 1 0-2.8 0M244.8 442.6a1.4 1.4 0 1 0 2.8 0a1.4 1.4 0 1 0-2.8 0M245.1 443.7a1.4 1.4 0 1 0 2.8 0a1.4 1.4 0 1 0-2.8 0M245.5 443.8a1.4 1.4 0 1 0 2.8 0a1.4 1.4 0 1 0-2.8 0M245.8 440.8a1.4 1.4 0 1 0 2.8 0a1.4 1.4 0 1 0-2.8 0M246.2 444.2a1.4 1.4 0 1 0 2.8 0a1.4 1.4 0 1 0-2.8 0M246.5 442.4a1.4 1.4 0 1 0 2.8 0a1.4 1.4 0 1 0-2.8 0M246.9 441.7a1.4 1.4 0 1 0 2.8 0a1.4 1.4 0 1 0-2.8 0M247.2 441.7a1.4 1.4 0 1 0 2.8 0a1.4 1.4 0 1 0-2.8 0M247.6 436.8a1.4 1.4 0 1 0 2.8 0a1.4 1.4 0 1 0-2.8 0M247.9 430.4a1.4 1.4 0 1 0 2.8 0a1.4 1.4 0 1 0-2.8 0M248.3 424.8a1.4 1.4 0 1 0 2.8 0a1.4 1.4 0 1 0-2.8 0M248.6 424.3a1.4 1.4 0 1 0 2.8 0a1.4 1.4 0 1 0-2.8 0M249.0 429.0a1.4 1.4 0 1 0 2.8 0a1.4 1.4 0 1 0-2.8 0M249.3 435.5a1.4 1.4 0 1 0 2.8 0a1.4 1.4 0 1 0-2.8 0M249.7 438.8a1.4 1.4 0 1 0 2.8 0a1.4 1.4 0 1 0-2.8 0M250.0 441.2a1.4 1.4 0 1 0 2.8 0a1.4 1.4 0 1 0-2.8 0M250.4 444.2a1.4 1.4 0 1 0 2.8 0a1.4 1.4 0 1 0-2.8 0M250.7 443.0a1.4 1.4 0 1 0 2.8 0a1.4 1.4 0 1 0-2.8 0M251.1 444.8a1.4 1.4 0 1 0 2.8 0a1.4 1.4 0 1 0-2.8 0M251.4 443.9a1.4 1.4 0 1 0 2.8 0a1.4 1.4 0 1 0-2.8 0M251.8 444.0a1.4 1.4 0 1 0 2.8 0a1.4 1.4 0 1 0-2.8 0M252.1 443.7a1.4 1.4 0 1 0 2.8 0a1.4 1.4 0 1 0-2.8 0M252.5 444.2a1.4 1.4 0 1 0 2.8 0a1.4 1.4 0 1 0-2.8 0M252.8 443.6a1.4 1.4 0 1 0 2.8 0a1.4 1.4 0 1 0-2.8 0M253.2 443.5a1.4 1.4 0 1 0 2.8 0a1.4 1.4 0 1 0-2.8 0M253.5 443.9a1.4 1.4 0 1 0 2.8 0a1.4 1.4 0 1 0-2.8 0M253.9 443.5a1.4 1.4 0 1 0 2.8 0a1.4 1.4 0 1 0-2.8 0M254.2 444.4a1.4 1.4 0 1 0 2.8 0a1.4 1.4 0 1 0-2.8 0M254.6 444.2a1.4 1.4 0 1 0 2.8 0a1.4 1.4 0 1 0-2.8 0M254.9 443.9a1.4 1.4 0 1 0 2.8 0a1.4 1.4 0 1 0-2.8 0M255.3 444.0a1.4 1.4 0 1 0 2.8 0a1.4 1.4 0 1 0-2.8 0M255.6 444.0a1.4 1.4 0 1 0 2.8 0a1.4 1.4 0 1 0-2.8 0M256.0 445.7a1.4 1.4 0 1 0 2.8 0a1.4 1.4 0 1 0-2.8 0M256.3 444.2a1.4 1.4 0 1 0 2.8 0a1.4 1.4 0 1 0-2.8 0M256.7 443.7a1.4 1.4 0 1 0 2.8 0a1.4 1.4 0 1 0-2.8 0M257.0 443.9a1.4 1.4 0 1 0 2.8 0a1.4 1.4 0 1 0-2.8 0M257.4 444.8a1.4 1.4 0 1 0 2.8 0a1.4 1.4 0 1 0-2.8 0M257.7 444.0a1.4 1.4 0 1 0 2.8 0a1.4 1.4 0 1 0-2.8 0M258.1 444.1a1.4 1.4 0 1 0 2.8 0a1.4 1.4 0 1 0-2.8 0M258.4 444.0a1.4 1.4 0 1 0 2.8 0a1.4 1.4 0 1 0-2.8 0M258.8 444.4a1.4 1.4 0 1 0 2.8 0a1.4 1.4 0 1 0-2.8 0M259.1 444.5a1.4 1.4 0 1 0 2.8 0a1.4 1.4 0 1 0-2.8 0M259.5 444.6a1.4 1.4 0 1 0 2.8 0a1.4 1.4 0 1 0-2.8 0M259.8 442.8a1.4 1.4 0 1 0 2.8 0a1.4 1.4 0 1 0-2.8 0M260.2 443.3a1.4 1.4 0 1 0 2.8 0a1.4 1.4 0 1 0-2.8 0M260.5 442.0a1.4 1.4 0 1 0 2.8 0a1.4 1.4 0 1 0-2.8 0M260.9 444.9a1.4 1.4 0 1 0 2.8 0a1.4 1.4 0 1 0-2.8 0M261.2 445.2a1.4 1.4 0 1 0 2.8 0a1.4 1.4 0 1 0-2.8 0M261.6 445.3a1.4 1.4 0 1 0 2.8 0a1.4 1.4 0 1 0-2.8 0M261.9 444.3a1.4 1.4 0 1 0 2.8 0a1.4 1.4 0 1 0-2.8 0M262.3 445.2a1.4 1.4 0 1 0 2.8 0a1.4 1.4 0 1 0-2.8 0M262.6 444.2a1.4 1.4 0 1 0 2.8 0a1.4 1.4 0 1 0-2.8 0M263.0 444.1a1.4 1.4 0 1 0 2.8 0a1.4 1.4 0 1 0-2.8 0M263.3 442.9a1.4 1.4 0 1 0 2.8 0a1.4 1.4 0 1 0-2.8 0M263.7 443.5a1.4 1.4 0 1 0 2.8 0a1.4 1.4 0 1 0-2.8 0M264.0 443.6a1.4 1.4 0 1 0 2.8 0a1.4 1.4 0 1 0-2.8 0M264.4 444.9a1.4 1.4 0 1 0 2.8 0a1.4 1.4 0 1 0-2.8 0M264.7 445.4a1.4 1.4 0 1 0 2.8 0a1.4 1.4 0 1 0-2.8 0M265.1 443.5a1.4 1.4 0 1 0 2.8 0a1.4 1.4 0 1 0-2.8 0M265.4 443.9a1.4 1.4 0 1 0 2.8 0a1.4 1.4 0 1 0-2.8 0M265.8 443.3a1.4 1.4 0 1 0 2.8 0a1.4 1.4 0 1 0-2.8 0M266.1 441.5a1.4 1.4 0 1 0 2.8 0a1.4 1.4 0 1 0-2.8 0M266.5 439.4a1.4 1.4 0 1 0 2.8 0a1.4 1.4 0 1 0-2.8 0M266.8 438.8a1.4 1.4 0 1 0 2.8 0a1.4 1.4 0 1 0-2.8 0M267.2 437.2a1.4 1.4 0 1 0 2.8 0a1.4 1.4 0 1 0-2.8 0M267.5 438.2a1.4 1.4 0 1 0 2.8 0a1.4 1.4 0 1 0-2.8 0M267.9 439.4a1.4 1.4 0 1 0 2.8 0a1.4 1.4 0 1 0-2.8 0M268.2 440.8a1.4 1.4 0 1 0 2.8 0a1.4 1.4 0 1 0-2.8 0M268.6 442.1a1.4 1.4 0 1 0 2.8 0a1.4 1.4 0 1 0-2.8 0M268.9 443.5a1.4 1.4 0 1 0 2.8 0a1.4 1.4 0 1 0-2.8 0M269.3 442.8a1.4 1.4 0 1 0 2.8 0a1.4 1.4 0 1 0-2.8 0M269.6 444.6a1.4 1.4 0 1 0 2.8 0a1.4 1.4 0 1 0-2.8 0M270.0 442.6a1.4 1.4 0 1 0 2.8 0a1.4 1.4 0 1 0-2.8 0M270.3 444.1a1.4 1.4 0 1 0 2.8 0a1.4 1.4 0 1 0-2.8 0M270.7 444.4a1.4 1.4 0 1 0 2.8 0a1.4 1.4 0 1 0-2.8 0M271.0 443.5a1.4 1.4 0 1 0 2.8 0a1.4 1.4 0 1 0-2.8 0M271.4 442.8a1.4 1.4 0 1 0 2.8 0a1.4 1.4 0 1 0-2.8 0M271.7 444.7a1.4 1.4 0 1 0 2.8 0a1.4 1.4 0 1 0-2.8 0M272.1 443.6a1.4 1.4 0 1 0 2.8 0a1.4 1.4 0 1 0-2.8 0M272.4 444.8a1.4 1.4 0 1 0 2.8 0a1.4 1.4 0 1 0-2.8 0M272.8 444.8a1.4 1.4 0 1 0 2.8 0a1.4 1.4 0 1 0-2.8 0M273.1 444.2a1.4 1.4 0 1 0 2.8 0a1.4 1.4 0 1 0-2.8 0M273.5 444.2a1.4 1.4 0 1 0 2.8 0a1.4 1.4 0 1 0-2.8 0M273.8 445.0a1.4 1.4 0 1 0 2.8 0a1.4 1.4 0 1 0-2.8 0M274.2 444.5a1.4 1.4 0 1 0 2.8 0a1.4 1.4 0 1 0-2.8 0M274.5 443.3a1.4 1.4 0 1 0 2.8 0a1.4 1.4 0 1 0-2.8 0M274.9 444.3a1.4 1.4 0 1 0 2.8 0a1.4 1.4 0 1 0-2.8 0M275.2 444.6a1.4 1.4 0 1 0 2.8 0a1.4 1.4 0 1 0-2.8 0M275.6 444.2a1.4 1.4 0 1 0 2.8 0a1.4 1.4 0 1 0-2.8 0M275.9 444.1a1.4 1.4 0 1 0 2.8 0a1.4 1.4 0 1 0-2.8 0M276.3 443.8a1.4 1.4 0 1 0 2.8 0a1.4 1.4 0 1 0-2.8 0M276.6 443.6a1.4 1.4 0 1 0 2.8 0a1.4 1.4 0 1 0-2.8 0M277.0 442.6a1.4 1.4 0 1 0 2.8 0a1.4 1.4 0 1 0-2.8 0M277.3 441.4a1.4 1.4 0 1 0 2.8 0a1.4 1.4 0 1 0-2.8 0M277.7 441.8a1.4 1.4 0 1 0 2.8 0a1.4 1.4 0 1 0-2.8 0M278.0 437.2a1.4 1.4 0 1 0 2.8 0a1.4 1.4 0 1 0-2.8 0M278.4 433.8a1.4 1.4 0 1 0 2.8 0a1.4 1.4 0 1 0-2.8 0M278.7 429.3a1.4 1.4 0 1 0 2.8 0a1.4 1.4 0 1 0-2.8 0M279.1 431.4a1.4 1.4 0 1 0 2.8 0a1.4 1.4 0 1 0-2.8 0M279.4 434.3a1.4 1.4 0 1 0 2.8 0a1.4 1.4 0 1 0-2.8 0M279.8 441.5a1.4 1.4 0 1 0 2.8 0a1.4 1.4 0 1 0-2.8 0M280.1 440.8a1.4 1.4 0 1 0 2.8 0a1.4 1.4 0 1 0-2.8 0M280.5 442.2a1.4 1.4 0 1 0 2.8 0a1.4 1.4 0 1 0-2.8 0M280.8 444.4a1.4 1.4 0 1 0 2.8 0a1.4 1.4 0 1 0-2.8 0M281.2 444.8a1.4 1.4 0 1 0 2.8 0a1.4 1.4 0 1 0-2.8 0M281.5 442.2a1.4 1.4 0 1 0 2.8 0a1.4 1.4 0 1 0-2.8 0M281.9 444.3a1.4 1.4 0 1 0 2.8 0a1.4 1.4 0 1 0-2.8 0M282.2 444.8a1.4 1.4 0 1 0 2.8 0a1.4 1.4 0 1 0-2.8 0M282.6 443.1a1.4 1.4 0 1 0 2.8 0a1.4 1.4 0 1 0-2.8 0M282.9 444.8a1.4 1.4 0 1 0 2.8 0a1.4 1.4 0 1 0-2.8 0M283.3 443.8a1.4 1.4 0 1 0 2.8 0a1.4 1.4 0 1 0-2.8 0M283.6 443.4a1.4 1.4 0 1 0 2.8 0a1.4 1.4 0 1 0-2.8 0M284.0 443.9a1.4 1.4 0 1 0 2.8 0a1.4 1.4 0 1 0-2.8 0M284.3 443.9a1.4 1.4 0 1 0 2.8 0a1.4 1.4 0 1 0-2.8 0M284.7 443.1a1.4 1.4 0 1 0 2.8 0a1.4 1.4 0 1 0-2.8 0M285.0 446.2a1.4 1.4 0 1 0 2.8 0a1.4 1.4 0 1 0-2.8 0M285.4 443.9a1.4 1.4 0 1 0 2.8 0a1.4 1.4 0 1 0-2.8 0M285.7 443.7a1.4 1.4 0 1 0 2.8 0a1.4 1.4 0 1 0-2.8 0M286.1 445.0a1.4 1.4 0 1 0 2.8 0a1.4 1.4 0 1 0-2.8 0M286.4 444.2a1.4 1.4 0 1 0 2.8 0a1.4 1.4 0 1 0-2.8 0M286.8 445.4a1.4 1.4 0 1 0 2.8 0a1.4 1.4 0 1 0-2.8 0M287.1 444.1a1.4 1.4 0 1 0 2.8 0a1.4 1.4 0 1 0-2.8 0M287.5 444.6a1.4 1.4 0 1 0 2.8 0a1.4 1.4 0 1 0-2.8 0M287.8 444.4a1.4 1.4 0 1 0 2.8 0a1.4 1.4 0 1 0-2.8 0M288.2 444.5a1.4 1.4 0 1 0 2.8 0a1.4 1.4 0 1 0-2.8 0M288.5 444.2a1.4 1.4 0 1 0 2.8 0a1.4 1.4 0 1 0-2.8 0M288.9 444.2a1.4 1.4 0 1 0 2.8 0a1.4 1.4 0 1 0-2.8 0M289.2 445.8a1.4 1.4 0 1 0 2.8 0a1.4 1.4 0 1 0-2.8 0M289.6 443.8a1.4 1.4 0 1 0 2.8 0a1.4 1.4 0 1 0-2.8 0M289.9 443.9a1.4 1.4 0 1 0 2.8 0a1.4 1.4 0 1 0-2.8 0M290.3 444.1a1.4 1.4 0 1 0 2.8 0a1.4 1.4 0 1 0-2.8 0M290.6 444.8a1.4 1.4 0 1 0 2.8 0a1.4 1.4 0 1 0-2.8 0M291.0 444.7a1.4 1.4 0 1 0 2.8 0a1.4 1.4 0 1 0-2.8 0M291.3 445.1a1.4 1.4 0 1 0 2.8 0a1.4 1.4 0 1 0-2.8 0M291.7 443.2a1.4 1.4 0 1 0 2.8 0a1.4 1.4 0 1 0-2.8 0M292.0 444.6a1.4 1.4 0 1 0 2.8 0a1.4 1.4 0 1 0-2.8 0M292.4 444.2a1.4 1.4 0 1 0 2.8 0a1.4 1.4 0 1 0-2.8 0M292.7 444.1a1.4 1.4 0 1 0 2.8 0a1.4 1.4 0 1 0-2.8 0M293.1 444.5a1.4 1.4 0 1 0 2.8 0a1.4 1.4 0 1 0-2.8 0M293.4 442.7a1.4 1.4 0 1 0 2.8 0a1.4 1.4 0 1 0-2.8 0M293.8 444.6a1.4 1.4 0 1 0 2.8 0a1.4 1.4 0 1 0-2.8 0M294.1 444.5a1.4 1.4 0 1 0 2.8 0a1.4 1.4 0 1 0-2.8 0M294.5 443.2a1.4 1.4 0 1 0 2.8 0a1.4 1.4 0 1 0-2.8 0M294.8 444.3a1.4 1.4 0 1 0 2.8 0a1.4 1.4 0 1 0-2.8 0M295.2 445.7a1.4 1.4 0 1 0 2.8 0a1.4 1.4 0 1 0-2.8 0M295.5 444.0a1.4 1.4 0 1 0 2.8 0a1.4 1.4 0 1 0-2.8 0M295.9 444.9a1.4 1.4 0 1 0 2.8 0a1.4 1.4 0 1 0-2.8 0M296.2 444.2a1.4 1.4 0 1 0 2.8 0a1.4 1.4 0 1 0-2.8 0M296.6 443.7a1.4 1.4 0 1 0 2.8 0a1.4 1.4 0 1 0-2.8 0M296.9 443.6a1.4 1.4 0 1 0 2.8 0a1.4 1.4 0 1 0-2.8 0M297.3 444.0a1.4 1.4 0 1 0 2.8 0a1.4 1.4 0 1 0-2.8 0M297.6 445.5a1.4 1.4 0 1 0 2.8 0a1.4 1.4 0 1 0-2.8 0M298.0 445.1a1.4 1.4 0 1 0 2.8 0a1.4 1.4 0 1 0-2.8 0M298.3 443.8a1.4 1.4 0 1 0 2.8 0a1.4 1.4 0 1 0-2.8 0M298.7 445.2a1.4 1.4 0 1 0 2.8 0a1.4 1.4 0 1 0-2.8 0M299.0 444.3a1.4 1.4 0 1 0 2.8 0a1.4 1.4 0 1 0-2.8 0M299.4 443.8a1.4 1.4 0 1 0 2.8 0a1.4 1.4 0 1 0-2.8 0M299.7 444.7a1.4 1.4 0 1 0 2.8 0a1.4 1.4 0 1 0-2.8 0M300.1 443.6a1.4 1.4 0 1 0 2.8 0a1.4 1.4 0 1 0-2.8 0M300.4 443.1a1.4 1.4 0 1 0 2.8 0a1.4 1.4 0 1 0-2.8 0M300.8 445.5a1.4 1.4 0 1 0 2.8 0a1.4 1.4 0 1 0-2.8 0M301.1 442.8a1.4 1.4 0 1 0 2.8 0a1.4 1.4 0 1 0-2.8 0M301.5 444.8a1.4 1.4 0 1 0 2.8 0a1.4 1.4 0 1 0-2.8 0M301.8 443.1a1.4 1.4 0 1 0 2.8 0a1.4 1.4 0 1 0-2.8 0M302.2 444.3a1.4 1.4 0 1 0 2.8 0a1.4 1.4 0 1 0-2.8 0M302.5 444.2a1.4 1.4 0 1 0 2.8 0a1.4 1.4 0 1 0-2.8 0M302.9 444.0a1.4 1.4 0 1 0 2.8 0a1.4 1.4 0 1 0-2.8 0M303.2 442.5a1.4 1.4 0 1 0 2.8 0a1.4 1.4 0 1 0-2.8 0M303.6 444.3a1.4 1.4 0 1 0 2.8 0a1.4 1.4 0 1 0-2.8 0M303.9 444.3a1.4 1.4 0 1 0 2.8 0a1.4 1.4 0 1 0-2.8 0M304.3 443.6a1.4 1.4 0 1 0 2.8 0a1.4 1.4 0 1 0-2.8 0M304.6 444.3a1.4 1.4 0 1 0 2.8 0a1.4 1.4 0 1 0-2.8 0M305.0 445.2a1.4 1.4 0 1 0 2.8 0a1.4 1.4 0 1 0-2.8 0M305.3 443.8a1.4 1.4 0 1 0 2.8 0a1.4 1.4 0 1 0-2.8 0M305.7 444.6a1.4 1.4 0 1 0 2.8 0a1.4 1.4 0 1 0-2.8 0M306.0 443.4a1.4 1.4 0 1 0 2.8 0a1.4 1.4 0 1 0-2.8 0M306.4 444.7a1.4 1.4 0 1 0 2.8 0a1.4 1.4 0 1 0-2.8 0M306.7 444.9a1.4 1.4 0 1 0 2.8 0a1.4 1.4 0 1 0-2.8 0M307.1 446.4a1.4 1.4 0 1 0 2.8 0a1.4 1.4 0 1 0-2.8 0M307.4 445.1a1.4 1.4 0 1 0 2.8 0a1.4 1.4 0 1 0-2.8 0M307.8 444.7a1.4 1.4 0 1 0 2.8 0a1.4 1.4 0 1 0-2.8 0M308.1 445.5a1.4 1.4 0 1 0 2.8 0a1.4 1.4 0 1 0-2.8 0M308.5 443.5a1.4 1.4 0 1 0 2.8 0a1.4 1.4 0 1 0-2.8 0M308.8 445.2a1.4 1.4 0 1 0 2.8 0a1.4 1.4 0 1 0-2.8 0M309.2 443.8a1.4 1.4 0 1 0 2.8 0a1.4 1.4 0 1 0-2.8 0M309.5 443.7a1.4 1.4 0 1 0 2.8 0a1.4 1.4 0 1 0-2.8 0M309.9 445.1a1.4 1.4 0 1 0 2.8 0a1.4 1.4 0 1 0-2.8 0M310.2 444.3a1.4 1.4 0 1 0 2.8 0a1.4 1.4 0 1 0-2.8 0M310.6 444.9a1.4 1.4 0 1 0 2.8 0a1.4 1.4 0 1 0-2.8 0M310.9 442.2a1.4 1.4 0 1 0 2.8 0a1.4 1.4 0 1 0-2.8 0M311.3 442.9a1.4 1.4 0 1 0 2.8 0a1.4 1.4 0 1 0-2.8 0M311.6 441.1a1.4 1.4 0 1 0 2.8 0a1.4 1.4 0 1 0-2.8 0M312.0 440.2a1.4 1.4 0 1 0 2.8 0a1.4 1.4 0 1 0-2.8 0M312.3 437.9a1.4 1.4 0 1 0 2.8 0a1.4 1.4 0 1 0-2.8 0M312.7 440.3a1.4 1.4 0 1 0 2.8 0a1.4 1.4 0 1 0-2.8 0M313.0 440.6a1.4 1.4 0 1 0 2.8 0a1.4 1.4 0 1 0-2.8 0M313.4 440.8a1.4 1.4 0 1 0 2.8 0a1.4 1.4 0 1 0-2.8 0M313.7 441.5a1.4 1.4 0 1 0 2.8 0a1.4 1.4 0 1 0-2.8 0M314.1 442.7a1.4 1.4 0 1 0 2.8 0a1.4 1.4 0 1 0-2.8 0M314.4 445.0a1.4 1.4 0 1 0 2.8 0a1.4 1.4 0 1 0-2.8 0M314.8 444.0a1.4 1.4 0 1 0 2.8 0a1.4 1.4 0 1 0-2.8 0M315.1 443.9a1.4 1.4 0 1 0 2.8 0a1.4 1.4 0 1 0-2.8 0M315.5 444.7a1.4 1.4 0 1 0 2.8 0a1.4 1.4 0 1 0-2.8 0M315.8 444.3a1.4 1.4 0 1 0 2.8 0a1.4 1.4 0 1 0-2.8 0M316.2 444.5a1.4 1.4 0 1 0 2.8 0a1.4 1.4 0 1 0-2.8 0M316.5 444.9a1.4 1.4 0 1 0 2.8 0a1.4 1.4 0 1 0-2.8 0M316.9 444.6a1.4 1.4 0 1 0 2.8 0a1.4 1.4 0 1 0-2.8 0M317.2 445.1a1.4 1.4 0 1 0 2.8 0a1.4 1.4 0 1 0-2.8 0M317.6 443.4a1.4 1.4 0 1 0 2.8 0a1.4 1.4 0 1 0-2.8 0M317.9 444.4a1.4 1.4 0 1 0 2.8 0a1.4 1.4 0 1 0-2.8 0M318.3 444.1a1.4 1.4 0 1 0 2.8 0a1.4 1.4 0 1 0-2.8 0M318.6 444.5a1.4 1.4 0 1 0 2.8 0a1.4 1.4 0 1 0-2.8 0M319.0 444.3a1.4 1.4 0 1 0 2.8 0a1.4 1.4 0 1 0-2.8 0M319.3 443.8a1.4 1.4 0 1 0 2.8 0a1.4 1.4 0 1 0-2.8 0M319.7 444.1a1.4 1.4 0 1 0 2.8 0a1.4 1.4 0 1 0-2.8 0M320.0 445.2a1.4 1.4 0 1 0 2.8 0a1.4 1.4 0 1 0-2.8 0M320.4 443.9a1.4 1.4 0 1 0 2.8 0a1.4 1.4 0 1 0-2.8 0M320.7 443.3a1.4 1.4 0 1 0 2.8 0a1.4 1.4 0 1 0-2.8 0M321.1 444.9a1.4 1.4 0 1 0 2.8 0a1.4 1.4 0 1 0-2.8 0M321.4 445.2a1.4 1.4 0 1 0 2.8 0a1.4 1.4 0 1 0-2.8 0M321.8 444.2a1.4 1.4 0 1 0 2.8 0a1.4 1.4 0 1 0-2.8 0M322.1 444.5a1.4 1.4 0 1 0 2.8 0a1.4 1.4 0 1 0-2.8 0M322.5 443.7a1.4 1.4 0 1 0 2.8 0a1.4 1.4 0 1 0-2.8 0M322.8 444.2a1.4 1.4 0 1 0 2.8 0a1.4 1.4 0 1 0-2.8 0M323.2 445.3a1.4 1.4 0 1 0 2.8 0a1.4 1.4 0 1 0-2.8 0M323.5 445.0a1.4 1.4 0 1 0 2.8 0a1.4 1.4 0 1 0-2.8 0M323.9 444.5a1.4 1.4 0 1 0 2.8 0a1.4 1.4 0 1 0-2.8 0M324.2 444.1a1.4 1.4 0 1 0 2.8 0a1.4 1.4 0 1 0-2.8 0M324.6 443.0a1.4 1.4 0 1 0 2.8 0a1.4 1.4 0 1 0-2.8 0M324.9 444.6a1.4 1.4 0 1 0 2.8 0a1.4 1.4 0 1 0-2.8 0M325.3 444.7a1.4 1.4 0 1 0 2.8 0a1.4 1.4 0 1 0-2.8 0M325.6 445.1a1.4 1.4 0 1 0 2.8 0a1.4 1.4 0 1 0-2.8 0M326.0 445.9a1.4 1.4 0 1 0 2.8 0a1.4 1.4 0 1 0-2.8 0M326.3 444.5a1.4 1.4 0 1 0 2.8 0a1.4 1.4 0 1 0-2.8 0M326.7 444.9a1.4 1.4 0 1 0 2.8 0a1.4 1.4 0 1 0-2.8 0M327.0 443.2a1.4 1.4 0 1 0 2.8 0a1.4 1.4 0 1 0-2.8 0M327.4 445.0a1.4 1.4 0 1 0 2.8 0a1.4 1.4 0 1 0-2.8 0M327.7 444.6a1.4 1.4 0 1 0 2.8 0a1.4 1.4 0 1 0-2.8 0M328.1 444.8a1.4 1.4 0 1 0 2.8 0a1.4 1.4 0 1 0-2.8 0M328.4 443.9a1.4 1.4 0 1 0 2.8 0a1.4 1.4 0 1 0-2.8 0M328.8 442.9a1.4 1.4 0 1 0 2.8 0a1.4 1.4 0 1 0-2.8 0M329.1 441.8a1.4 1.4 0 1 0 2.8 0a1.4 1.4 0 1 0-2.8 0M329.5 436.2a1.4 1.4 0 1 0 2.8 0a1.4 1.4 0 1 0-2.8 0M329.8 431.3a1.4 1.4 0 1 0 2.8 0a1.4 1.4 0 1 0-2.8 0M330.2 425.5a1.4 1.4 0 1 0 2.8 0a1.4 1.4 0 1 0-2.8 0M330.5 422.0a1.4 1.4 0 1 0 2.8 0a1.4 1.4 0 1 0-2.8 0M330.9 425.9a1.4 1.4 0 1 0 2.8 0a1.4 1.4 0 1 0-2.8 0M331.2 433.8a1.4 1.4 0 1 0 2.8 0a1.4 1.4 0 1 0-2.8 0M331.6 438.7a1.4 1.4 0 1 0 2.8 0a1.4 1.4 0 1 0-2.8 0M331.9 442.0a1.4 1.4 0 1 0 2.8 0a1.4 1.4 0 1 0-2.8 0M332.3 443.5a1.4 1.4 0 1 0 2.8 0a1.4 1.4 0 1 0-2.8 0M332.6 442.9a1.4 1.4 0 1 0 2.8 0a1.4 1.4 0 1 0-2.8 0M333.0 444.1a1.4 1.4 0 1 0 2.8 0a1.4 1.4 0 1 0-2.8 0M333.3 444.9a1.4 1.4 0 1 0 2.8 0a1.4 1.4 0 1 0-2.8 0M333.7 443.8a1.4 1.4 0 1 0 2.8 0a1.4 1.4 0 1 0-2.8 0M334.0 443.9a1.4 1.4 0 1 0 2.8 0a1.4 1.4 0 1 0-2.8 0M334.4 443.3a1.4 1.4 0 1 0 2.8 0a1.4 1.4 0 1 0-2.8 0M334.7 444.9a1.4 1.4 0 1 0 2.8 0a1.4 1.4 0 1 0-2.8 0M335.1 445.9a1.4 1.4 0 1 0 2.8 0a1.4 1.4 0 1 0-2.8 0M335.4 443.2a1.4 1.4 0 1 0 2.8 0a1.4 1.4 0 1 0-2.8 0M335.8 445.0a1.4 1.4 0 1 0 2.8 0a1.4 1.4 0 1 0-2.8 0M336.1 445.1a1.4 1.4 0 1 0 2.8 0a1.4 1.4 0 1 0-2.8 0" fill="none" stroke="#f01818" stroke-width="0.45" opacity="0.55"/>
<path d="M58.2 449.4L58.6 449.4 58.9 449.3 59.3 449.3 59.6 449.4 60.0 449.5 60.3 449.3 60.7 449.4 61.0 449.3 61.4 449.1 61.7 449.4 62.1 449.4 62.4 449.1 62.8 449.4 63.1 449.2 63.5 449.1 63.8 449.4 64.2 448.7 64.5 448.8 64.9 449.1 65.2 448.9 65.6 448.8 65.9 449.1 66.3 449.0 66.6 448.7 67.0 448.8 67.3 448.9 67.7 449.1 68.0 448.5 68.4 448.8 68.7 448.7 69.1 448.4 69.4 448.6 69.8 448.4 70.1 448.5 70.5 448.8 70.8 448.6 71.2 448.7 71.5 448.6 71.9 448.5 72.2 448.6 72.6 448.3 72.9 448.4 73.3 448.5 73.6 448.2 74.0 448.3 74.3 448.5 74.7 448.5 75.0 448.1 75.4 448.1 75.7 448.3 76.1 448.2 76.4 448.0 76.8 448.1 77.1 448.1 77.5 448.0 77.8 448.3 78.2 448.0 78.5 447.9 78.9 447.8 79.2 448.0 79.6 447.5 79.9 446.7 80.3 445.4 80.6 441.3 81.0 434.2 81.3 429.0 81.7 432.4 82.0 439.7 82.4 444.4 82.7 446.5 83.1 446.7 83.4 447.3 83.8 447.3 84.1 447.4 84.5 447.0 84.8 447.7 85.2 447.2 85.5 447.3 85.9 447.5 86.2 447.3 86.6 447.3 86.9 447.0 87.3 447.3 87.6 447.4 88.0 447.4 88.3 447.3 88.7 447.3 89.0 447.3 89.4 447.1 89.7 447.1 90.1 447.5 90.4 447.0 90.8 447.3 91.1 447.1 91.5 447.3 91.8 447.0 92.2 447.1 92.5 447.1 92.9 447.0 93.2 447.0 93.6 446.8 93.9 446.9 94.3 446.8 94.6 447.0 95.0 446.8 95.3 446.6 95.7 446.7 96.0 446.8 96.4 446.6 96.7 446.9 97.1 446.8 97.4 446.8 97.8 446.5 98.1 446.6 98.5 446.8 98.8 446.4 99.2 446.6 99.5 446.5 99.9 446.4 100.2 446.5 100.6 446.3 100.9 446.5 101.3 446.3 101.6 446.2 102.0 446.6 102.3 446.3 102.7 446.1 103.0 446.5 103.4 446.2 103.7 445.8 104.1 446.3 104.4 446.4 104.8 446.3 105.1 446.5 105.5 446.2 105.8 446.3 106.2 446.0 106.5 446.2 106.9 446.4 107.2 446.2 107.6 446.1 107.9 445.8 108.3 446.0 108.6 445.9 109.0 446.2 109.3 445.9 109.7 446.1 110.0 445.9 110.4 446.3 110.7 445.8 111.1 446.0 111.4 446.3 111.8 445.9 112.1 445.8 112.5 446.0 112.8 446.0 113.2 446.0 113.5 445.5 113.9 445.8 114.2 445.5 114.6 446.1 114.9 445.8 115.3 445.7 115.6 445.8 116.0 445.8 116.3 445.5 116.7 445.9 117.0 445.6 117.4 445.4 117.7 445.8 118.1 445.8 118.4 445.8 118.8 445.6 119.1 445.4 119.5 445.7 119.8 445.8 120.2 445.6 120.5 445.7 120.9 445.3 121.2 445.6 121.6 445.6 121.9 445.2 122.3 445.1 122.6 445.3 123.0 445.4 123.3 445.4 123.7 445.3 124.0 445.3 124.4 445.3 124.7 445.3 125.1 445.3 125.4 445.3 125.8 445.2 126.1 445.2 126.5 445.1 126.8 445.3 127.2 445.1 127.5 445.4 127.9 445.1 128.2 445.1 128.6 445.0 128.9 445.0 129.3 445.1 129.6 445.0 130.0 444.9 130.3 444.8 130.7 445.0 131.0 445.0 131.4 445.0 131.7 445.1 132.1 444.8 132.4 444.6 132.8 444.8 133.1 444.6 133.5 444.6 133.8 445.0 134.2 444.9 134.5 444.7 134.9 444.7 135.2 444.7 135.6 444.4 135.9 444.8 136.3 444.6 136.6 444.9 137.0 444.5 137.3 444.8 137.7 444.5 138.0 444.7 138.4 444.4 138.7 444.7 139.1 444.5 139.4 444.4 139.8 444.5 140.1 444.5 140.5 444.5 140.8 444.7 141.2 444.5 141.5 444.0 141.9 444.3 142.2 444.1 142.6 444.3 142.9 444.4 143.3 444.1 143.6 444.1 144.0 444.3 144.3 444.2 144.7 444.5 145.0 444.2 145.4 444.3 145.7 444.4 146.1 444.1 146.4 444.1 146.8 443.9 147.1 444.1 147.5 444.2 147.8 444.2 148.2 444.0 148.5 443.8 148.9 443.8 149.2 443.7 149.6 443.9 149.9 444.0 150.3 443.4 150.6 443.4 151.0 443.9 151.3 443.4 151.7 443.6 152.0 443.2 152.4 443.4 152.7 443.2 153.1 442.6 153.4 441.5 153.8 438.2 154.1 430.9 154.5 420.3 154.8 413.2 155.2 418.0 155.5 428.8 155.9 437.0 156.2 440.9 156.6 442.4 156.9 442.8 157.3 443.2 157.6 443.3 158.0 443.4 158.3 443.4 158.7 443.5 159.0 443.1 159.4 443.5 159.7 443.1 160.1 442.8 160.4 441.9 160.8 439.4 161.1 433.3 161.5 424.3 161.8 418.0 162.2 421.7 162.5 431.1 162.9 438.0 163.2 441.4 163.6 443.1 163.9 442.9 164.3 443.4 164.6 443.7 165.0 443.8 165.3 443.9 165.7 443.6 166.0 443.7 166.4 443.9 166.7 443.8 167.1 444.1 167.4 443.9 167.8 444.0 168.1 444.0 168.5 443.9 168.8 444.0 169.2 443.9 169.5 444.0 169.9 443.9 170.2 444.0 170.6 443.8 170.9 443.8 171.3 444.1 171.6 444.1 172.0 443.9 172.3 444.0 172.7 443.9 173.0 444.3 173.4 443.8 173.7 444.3 174.1 443.9 174.4 444.1 174.8 444.0 175.1 444.0 175.5 444.2 175.8 444.2 176.2 444.0 176.5 443.9 176.9 444.4 177.2 444.3 177.6 444.1 177.9 444.0 178.3 444.1 178.6 444.1 179.0 444.3 179.3 443.9 179.7 444.1 180.0 444.0 180.4 444.3 180.7 444.3 181.1 444.1 181.4 444.2 181.8 444.3 182.1 444.0 182.5 443.9 182.8 444.2 183.2 444.1 183.5 444.0 183.9 444.3 184.2 444.1 184.6 443.7 184.9 444.0 185.3 443.9 185.6 444.0 186.0 443.3 186.3 442.6 186.7 441.8 187.0 441.2 187.4 441.2 187.7 442.2 188.1 443.0 188.4 443.8 188.8 444.2 189.1 443.8 189.5 443.9 189.8 443.9 190.2 444.0 190.5 444.0 190.9 444.1 191.2 444.3 191.6 443.9 191.9 443.9 192.3 443.8 192.6 444.3 193.0 444.3 193.3 443.9 193.7 443.9 194.0 444.1 194.4 444.3 194.7 444.3 195.1 444.2 195.4 444.2 195.8 444.2 196.1 444.0 196.5 444.4 196.8 444.1 197.2 444.0 197.5 444.0 197.9 443.9 198.2 444.1 198.6 444.3 198.9 443.9 199.3 444.3 199.6 444.4 200.0 444.1 200.3 443.9 200.7 443.9 201.0 444.0 201.4 443.8 201.7 443.7 202.1 443.7 202.4 443.4 202.8 442.8 203.1 441.2 203.5 439.9 203.8 438.4 204.2 438.7 204.5 440.0 204.9 442.1 205.2 442.9 205.6 443.8 205.9 443.9 206.3 443.7 206.6 443.8 207.0 444.2 207.3 444.0 207.7 443.8 208.0 443.6 208.4 443.0 208.7 441.7 209.1 440.4 209.4 439.2 209.8 439.4 210.1 440.8 210.5 442.1 210.8 443.3 211.2 443.7 211.5 444.0 211.9 444.1 212.2 444.2 212.6 444.2 212.9 444.2 213.3 444.1 213.6 444.2 214.0 444.0 214.3 444.1 214.7 444.3 215.0 444.2 215.4 444.2 215.7 444.0 216.1 444.4 216.4 444.1 216.8 444.2 217.1 444.2 217.5 444.3 217.8 444.1 218.2 444.1 218.5 443.9 218.9 444.2 219.2 444.0 219.6 444.3 219.9 444.4 220.3 443.9 220.6 444.0 221.0 444.3 221.3 444.4 221.7 444.3 222.0 444.3 222.4 444.3 222.7 444.3 223.1 444.5 223.4 444.3 223.8 444.0 224.1 444.2 224.5 444.3 224.8 444.1 225.2 444.2 225.5 444.1 225.9 444.1 226.2 444.3 226.6 444.2 226.9 444.1 227.3 444.1 227.6 444.2 228.0 444.5 228.3 444.3 228.7 444.4 229.0 444.3 229.4 443.9 229.7 444.3 230.1 444.1 230.4 444.0 230.8 444.1 231.1 444.5 231.5 444.0 231.8 444.1 232.2 444.4 232.5 444.3 232.9 443.9 233.2 444.2 233.6 444.1 233.9 444.2 234.3 444.3 234.6 444.1 235.0 444.1 235.3 444.4 235.7 443.9 236.0 444.1 236.4 444.2 236.7 443.9 237.1 444.0 237.4 443.9 237.8 444.1 238.1 444.0 238.5 444.1 238.8 444.2 239.2 444.0 239.5 443.8 239.9 443.9 240.2 443.8 240.6 443.5 240.9 443.7 241.3 443.4 241.6 443.2 242.0 442.4 242.3 441.7 242.7 439.3 243.0 432.9 243.4 421.3 243.7 407.8 244.1 401.2 244.4 409.1 244.8 422.7 245.1 433.6 245.5 439.2 245.8 441.6 246.2 442.4 246.5 442.9 246.9 443.2 247.2 443.1 247.6 443.2 247.9 442.8 248.3 442.3 248.6 440.9 249.0 438.1 249.3 433.2 249.7 428.8 250.0 427.0 250.4 430.6 250.7 435.7 251.1 439.7 251.4 441.8 251.8 442.8 252.1 443.6 252.5 443.5 252.8 443.9 253.2 443.8 253.5 444.0 253.9 444.4 254.2 444.3 254.6 444.2 254.9 443.9 255.3 444.2 255.6 444.2 256.0 444.2 256.3 444.4 256.7 443.9 257.0 444.3 257.4 444.2 257.7 444.1 258.1 444.5 258.4 444.0 258.8 444.2 259.1 444.3 259.5 443.9 259.8 444.0 260.2 444.1 260.5 444.4 260.9 444.4 261.2 444.3 261.6 444.3 261.9 443.9 262.3 444.3 262.6 444.2 263.0 444.4 263.3 444.4 263.7 444.6 264.0 444.3 264.4 444.3 264.7 444.0 265.1 444.2 265.4 444.0 265.8 444.2 266.1 443.9 266.5 443.9 266.8 443.5 267.2 443.0 267.5 442.2 267.9 440.8 268.2 439.5 268.6 438.3 268.9 438.7 269.3 439.4 269.6 441.1 270.0 442.6 270.3 442.7 270.7 443.5 271.0 443.9 271.4 444.2 271.7 444.0 272.1 444.2 272.4 444.1 272.8 444.3 273.1 444.0 273.5 444.3 273.8 443.8 274.2 443.9 274.5 444.5 274.9 444.2 275.2 444.1 275.6 444.5 275.9 444.3 276.3 444.3 276.6 444.1 277.0 444.2 277.3 444.1 277.7 443.7 278.0 443.9 278.4 443.4 278.7 442.9 279.1 441.1 279.4 437.7 279.8 433.6 280.1 430.6 280.5 431.4 280.8 435.0 281.2 439.0 281.5 441.7 281.9 443.1 282.2 443.8 282.6 443.9 282.9 443.9 283.3 443.8 283.6 444.3 284.0 444.1 284.3 444.2 284.7 444.2 285.0 444.0 285.4 444.2 285.7 443.9 286.1 444.2 286.4 444.2 286.8 444.6 287.1 444.4 287.5 444.3 287.8 444.4 288.2 444.5 288.5 444.2 288.9 444.3 289.2 444.3 289.6 444.7 289.9 444.4 290.3 444.1 290.6 444.5 291.0 444.8 291.3 444.2 291.7 444.9 292.0 444.4 292.4 444.5 292.7 444.3 293.1 444.3 293.4 444.2 293.8 444.2 294.1 444.1 294.5 444.6 294.8 444.2 295.2 444.5 295.5 444.4 295.9 444.3 296.2 444.4 296.6 444.4 296.9 444.3 297.3 444.4 297.6 444.4 298.0 444.2 298.3 444.2 298.7 444.3 299.0 444.4 299.4 444.6 299.7 444.6 300.1 444.5 300.4 444.6 300.8 444.4 301.1 444.6 301.5 444.4 301.8 444.5 302.2 444.4 302.5 444.4 302.9 444.7 303.2 444.2 303.6 444.4 303.9 444.3 304.3 444.6 304.6 444.7 305.0 444.4 305.3 444.0 305.7 444.5 306.0 444.5 306.4 444.1 306.7 444.4 307.1 444.4 307.4 444.0 307.8 444.5 308.1 444.5 308.5 444.4 308.8 444.2 309.2 444.3 309.5 444.3 309.9 444.4 310.2 444.2 310.6 444.5 310.9 444.3 311.3 443.9 311.6 444.4 312.0 443.9 312.3 443.3 312.7 442.7 313.0 441.3 313.4 440.5 313.7 439.2 314.1 439.4 314.4 440.6 314.8 441.8 315.1 442.6 315.5 443.3 315.8 444.0 316.2 444.1 316.5 444.2 316.9 444.4 317.2 444.1 317.6 444.5 317.9 444.0 318.3 444.6 318.6 444.1 319.0 444.3 319.3 444.3 319.7 444.5 320.0 444.5 320.4 444.5 320.7 444.5 321.1 444.5 321.4 444.4 321.8 444.1 322.1 444.1 322.5 444.1 322.8 444.4 323.2 444.4 323.5 444.4 323.9 444.5 324.2 444.4 324.6 444.3 324.9 444.2 325.3 444.1 325.6 444.6 326.0 444.5 326.3 444.2 326.7 444.3 327.0 444.4 327.4 444.6 327.7 444.2 328.1 444.3 328.4 444.4 328.8 443.9 329.1 444.0 329.5 444.0 329.8 443.7 330.2 443.6 330.5 442.2 330.9 440.1 331.2 437.0 331.6 434.5 331.9 433.6 332.3 435.3 332.6 438.3 333.0 440.8 333.3 442.6 333.7 443.7 334.0 444.1 334.4 444.2 334.7 444.3 335.1 444.2 335.4 444.2 335.8 444.5 336.1 444.4 336.5 444.2 336.8 444.5 337.2 444.5 337.5 444.5" fill="none" stroke="#000" stroke-width="1.05" stroke-linejoin="round"/>
<path d="M81.00 451.3V455.0 M154.80 451.3V455.0 M161.50 451.3V455.0 M187.90 451.3V455.0 M204.80 451.3V455.0 M209.70 451.3V455.0 M244.30 451.3V455.0 M249.60 451.3V455.0 M268.20 451.3V455.0 M280.60 451.3V455.0 M313.70 451.3V455.0 M318.20 451.3V455.0 M332.20 451.3V455.0" stroke="#30a0a0" stroke-width="1"/>
<path d="M58.2 462.4L58.6 462.1 58.9 462.5 59.3 463.0 59.6 462.4 60.0 462.0 60.3 462.5 60.7 461.8 61.0 462.4 61.4 462.2 61.7 462.7 62.1 462.4 62.4 462.7 62.8 463.3 63.1 462.2 63.5 462.0 63.8 462.5 64.2 462.3 64.5 462.4 64.9 462.1 65.2 462.5 65.6 462.3 65.9 461.4 66.3 462.2 66.6 462.4 67.0 462.8 67.3 462.1 67.7 462.0 68.0 462.8 68.4 462.1 68.7 462.4 69.1 462.5 69.4 462.6 69.8 462.3 70.1 461.8 70.5 462.7 70.8 462.1 71.2 462.1 71.5 463.1 71.9 462.7 72.2 461.9 72.6 462.1 72.9 462.2 73.3 462.0 73.6 461.5 74.0 462.6 74.3 462.6 74.7 462.4 75.0 462.1 75.4 462.4 75.7 462.6 76.1 461.9 76.4 462.2 76.8 462.1 77.1 462.6 77.5 462.4 77.8 461.8 78.2 462.0 78.5 463.0 78.9 461.8 79.2 461.9 79.6 460.8 79.9 460.2 80.3 458.5 80.6 458.6 81.0 460.3 81.3 463.5 81.7 465.8 82.0 466.2 82.4 464.7 82.7 464.7 83.1 463.0 83.4 462.2 83.8 462.4 84.1 462.1 84.5 462.1 84.8 462.0 85.2 462.3 85.5 462.1 85.9 461.6 86.2 462.5 86.6 462.1 86.9 462.8 87.3 462.5 87.6 462.6 88.0 462.4 88.3 462.8 88.7 462.2 89.0 461.9 89.4 462.4 89.7 461.2 90.1 462.2 90.4 462.4 90.8 462.1 91.1 462.8 91.5 462.6 91.8 462.4 92.2 462.1 92.5 462.8 92.9 462.0 93.2 462.1 93.6 462.6 93.9 462.6 94.3 463.1 94.6 462.2 95.0 461.5 95.3 462.6 95.7 462.8 96.0 462.2 96.4 462.9 96.7 463.0 97.1 462.0 97.4 462.1 97.8 461.8 98.1 462.5 98.5 462.6 98.8 462.6 99.2 461.8 99.5 462.0 99.9 461.7 100.2 461.6 100.6 461.7 100.9 461.6 101.3 462.2 101.6 462.5 102.0 462.6 102.3 462.3 102.7 462.0 103.0 462.3 103.4 462.5 103.7 462.2 104.1 462.3 104.4 462.2 104.8 462.1 105.1 462.3 105.5 461.8 105.8 462.7 106.2 461.7 106.5 462.5 106.9 461.7 107.2 462.9 107.6 462.7 107.9 462.0 108.3 462.1 108.6 461.8 109.0 462.3 109.3 462.5 109.7 463.4 110.0 461.7 110.4 462.8 110.7 462.1 111.1 462.4 111.4 462.7 111.8 462.5 112.1 462.5 112.5 462.2 112.8 462.3 113.2 462.4 113.5 462.8 113.9 461.7 114.2 462.1 114.6 461.8 114.9 461.9 115.3 462.0 115.6 462.8 116.0 463.2 116.3 462.9 116.7 461.8 117.0 462.3 117.4 461.8 117.7 462.5 118.1 462.8 118.4 462.5 118.8 462.7 119.1 462.2 119.5 461.5 119.8 461.5 120.2 462.3 120.5 462.5 120.9 462.8 121.2 462.2 121.6 462.3 121.9 462.4 122.3 462.7 122.6 462.3 123.0 461.8 123.3 462.7 123.7 462.5 124.0 462.5 124.4 461.8 124.7 462.3 125.1 461.6 125.4 461.5 125.8 462.2 126.1 462.1 126.5 462.5 126.8 462.9 127.2 462.3 127.5 463.0 127.9 462.1 128.2 462.6 128.6 461.8 128.9 462.4 129.3 462.2 129.6 462.2 130.0 462.5 130.3 461.5 130.7 462.3 131.0 462.0 131.4 462.3 131.7 462.5 132.1 462.1 132.4 462.1 132.8 461.8 133.1 462.5 133.5 462.0 133.8 462.5 134.2 461.7 134.5 462.9 134.9 461.9 135.2 462.8 135.6 462.1 135.9 462.5 136.3 462.2 136.6 462.6 137.0 462.3 137.3 462.8 137.7 462.6 138.0 462.6 138.4 463.0 138.7 462.0 139.1 462.8 139.4 462.3 139.8 461.7 140.1 462.5 140.5 462.2 140.8 463.0 141.2 462.1 141.5 462.3 141.9 462.4 142.2 461.5 142.6 462.5 142.9 461.9 143.3 462.9 143.6 463.0 144.0 462.3 144.3 461.6 144.7 462.4 145.0 462.4 145.4 462.6 145.7 462.2 146.1 461.8 146.4 462.2 146.8 461.9 147.1 463.0 147.5 462.0 147.8 462.0 148.2 462.3 148.5 461.8 148.9 462.1 149.2 462.2 149.6 462.1 149.9 462.2 150.3 462.8 150.6 462.5 151.0 461.8 151.3 462.1 151.7 462.6 152.0 462.0 152.4 462.2 152.7 461.8 153.1 461.5 153.4 460.4 153.8 459.5 154.1 458.7 154.5 459.3 154.8 459.7 155.2 462.2 155.5 462.8 155.9 463.6 156.2 464.4 156.6 463.8 156.9 463.4 157.3 462.9 157.6 462.3 158.0 462.0 158.3 462.0 158.7 462.8 159.0 462.0 159.4 462.0 159.7 461.8 160.1 461.9 160.4 461.8 160.8 459.7 161.1 459.5 161.5 459.0 161.8 459.3 162.2 460.8 162.5 461.5 162.9 463.6 163.2 464.0 163.6 463.6 163.9 464.3 164.3 463.5 164.6 463.2 165.0 461.9 165.3 462.3 165.7 462.1 166.0 462.6 166.4 462.9 166.7 461.5 167.1 462.3 167.4 462.2 167.8 462.7 168.1 462.3 168.5 461.8 168.8 462.2 169.2 461.9 169.5 462.0 169.9 462.3 170.2 462.1 170.6 462.4 170.9 461.7 171.3 463.2 171.6 462.8 172.0 462.6 172.3 461.8 172.7 461.4 173.0 461.9 173.4 462.2 173.7 463.2 174.1 462.8 174.4 462.1 174.8 462.8 175.1 462.8 175.5 462.3 175.8 462.8 176.2 462.4 176.5 462.0 176.9 461.8 177.2 462.2 177.6 462.7 177.9 461.7 178.3 461.6 178.6 462.4 179.0 460.9 179.3 462.2 179.7 460.3 180.0 459.4 180.4 458.3 180.7 455.9 181.1 456.0 181.4 458.3 181.8 458.8 182.1 460.3 182.5 461.5 182.8 462.4 183.2 462.7 183.5 462.3 183.9 462.2 184.2 462.3 184.6 462.4 184.9 462.8 185.3 462.4 185.6 463.0 186.0 461.9 186.3 462.5 186.7 462.8 187.0 462.2 187.4 461.0 187.7 459.2 188.1 457.7 188.4 456.6 188.8 456.4 189.1 456.9 189.5 457.8 189.8 459.7 190.2 461.3 190.5 462.1 190.9 461.4 191.2 461.8 191.6 461.1 191.9 461.2 192.3 462.5 192.6 460.7 193.0 460.2 193.3 460.1 193.7 460.0 194.0 460.1 194.4 461.3 194.7 461.5 195.1 462.5 195.4 461.5 195.8 462.4 196.1 462.8 196.5 461.5 196.8 462.6 197.2 461.6 197.5 462.5 197.9 462.9 198.2 462.3 198.6 462.4 198.9 462.0 199.3 462.4 199.6 462.8 200.0 462.2 200.3 462.2 200.7 462.5 201.0 462.6 201.4 461.6 201.7 462.3 202.1 462.0 202.4 462.5 202.8 462.7 203.1 462.4 203.5 462.8 203.8 461.9 204.2 462.1 204.5 461.9 204.9 462.4 205.2 462.6 205.6 462.8 205.9 462.9 206.3 463.8 206.6 464.1 207.0 464.5 207.3 463.8 207.7 463.9 208.0 463.1 208.4 461.9 208.7 462.4 209.1 462.0 209.4 463.2 209.8 463.7 210.1 463.5 210.5 464.0 210.8 463.2 211.2 462.6 211.5 462.9 211.9 462.6 212.2 461.9 212.6 462.4 212.9 462.5 213.3 462.6 213.6 462.9 214.0 462.6 214.3 462.2 214.7 462.3 215.0 462.5 215.4 461.9 215.7 462.8 216.1 462.7 216.4 462.2 216.8 462.0 217.1 463.9 217.5 462.6 217.8 462.7 218.2 463.0 218.5 462.7 218.9 462.4 219.2 462.6 219.6 461.9 219.9 462.6 220.3 461.7 220.6 462.5 221.0 462.5 221.3 461.7 221.7 463.1 222.0 461.8 222.4 462.7 222.7 462.1 223.1 462.4 223.4 462.0 223.8 463.3 224.1 462.7 224.5 463.0 224.8 462.6 225.2 462.6 225.5 462.4 225.9 462.2 226.2 462.6 226.6 462.4 226.9 462.2 227.3 461.7 227.6 462.2 228.0 462.6 228.3 462.1 228.7 462.5 229.0 462.2 229.4 461.9 229.7 461.9 230.1 462.0 230.4 462.2 230.8 462.2 231.1 462.8 231.5 461.9 231.8 461.5 232.2 462.6 232.5 462.1 232.9 462.3 233.2 463.4 233.6 462.9 233.9 462.6 234.3 462.7 234.6 462.4 235.0 462.7 235.3 462.1 235.7 462.0 236.0 462.1 236.4 463.0 236.7 462.9 237.1 462.1 237.4 462.8 237.8 462.2 238.1 462.8 238.5 462.2 238.8 462.7 239.2 462.3 239.5 462.2 239.9 462.3 240.2 462.4 240.6 462.1 240.9 461.8 241.3 463.0 241.6 462.2 242.0 461.6 242.3 461.6 242.7 461.8 243.0 463.4 243.4 465.3 243.7 465.4 244.1 466.9 244.4 466.5 244.8 467.0 245.1 465.5 245.5 464.2 245.8 463.7 246.2 463.2 246.5 462.4 246.9 461.0 247.2 459.7 247.6 458.7 247.9 457.4 248.3 458.6 248.6 458.3 249.0 459.5 249.3 460.6 249.7 462.3 250.0 461.7 250.4 462.7 250.7 462.4 251.1 462.2 251.4 461.5 251.8 462.7 252.1 462.0 252.5 462.1 252.8 462.4 253.2 462.4 253.5 462.8 253.9 462.0 254.2 462.4 254.6 462.4 254.9 462.3 255.3 462.6 255.6 462.2 256.0 462.8 256.3 462.0 256.7 461.7 257.0 462.3 257.4 462.8 257.7 462.1 258.1 462.1 258.4 462.2 258.8 462.4 259.1 462.2 259.5 462.4 259.8 461.6 260.2 462.9 260.5 462.6 260.9 462.0 261.2 462.9 261.6 462.5 261.9 462.9 262.3 461.8 262.6 463.0 263.0 462.3 263.3 461.4 263.7 462.5 264.0 461.9 264.4 461.4 264.7 461.4 265.1 460.2 265.4 460.9 265.8 460.3 266.1 460.2 266.5 461.1 266.8 460.9 267.2 461.0 267.5 461.3 267.9 461.9 268.2 462.6 268.6 462.0 268.9 461.9 269.3 462.7 269.6 462.3 270.0 462.3 270.3 463.2 270.7 461.8 271.0 462.4 271.4 461.6 271.7 462.2 272.1 462.6 272.4 462.8 272.8 461.8 273.1 462.7 273.5 462.6 273.8 462.3 274.2 463.3 274.5 462.3 274.9 462.0 275.2 462.5 275.6 461.5 275.9 463.0 276.3 462.7 276.6 462.2 277.0 462.6 277.3 462.5 277.7 463.1 278.0 462.0 278.4 461.7 278.7 461.2 279.1 461.7 279.4 460.9 279.8 461.2 280.1 461.2 280.5 460.7 280.8 460.5 281.2 461.5 281.5 461.2 281.9 461.7 282.2 462.3 282.6 461.6 282.9 461.8 283.3 463.3 283.6 462.2 284.0 461.9 284.3 462.2 284.7 462.1 285.0 461.8 285.4 462.1 285.7 462.3 286.1 462.3 286.4 462.5 286.8 461.6 287.1 461.7 287.5 462.6 287.8 462.1 288.2 462.8 288.5 462.4 288.9 461.7 289.2 462.5 289.6 461.9 289.9 462.4 290.3 462.8 290.6 463.2 291.0 462.3 291.3 462.6 291.7 462.4 292.0 462.6 292.4 461.3 292.7 462.2 293.1 462.4 293.4 462.5 293.8 462.0 294.1 462.7 294.5 462.8 294.8 462.3 295.2 462.2 295.5 462.2 295.9 462.4 296.2 462.8 296.6 462.9 296.9 462.1 297.3 461.9 297.6 462.0 298.0 462.7 298.3 462.4 298.7 462.4 299.0 462.5 299.4 462.5 299.7 462.3 300.1 461.9 300.4 462.1 300.8 462.4 301.1 462.5 301.5 462.2 301.8 462.1 302.2 462.9 302.5 462.1 302.9 462.4 303.2 462.2 303.6 462.0 303.9 461.7 304.3 462.1 304.6 462.0 305.0 462.7 305.3 461.8 305.7 462.1 306.0 462.6 306.4 462.3 306.7 462.5 307.1 462.7 307.4 461.6 307.8 462.1 308.1 461.9 308.5 462.9 308.8 462.3 309.2 462.5 309.5 463.0 309.9 462.2 310.2 462.4 310.6 462.5 310.9 462.3 311.3 463.1 311.6 463.1 312.0 463.4 312.3 463.3 312.7 463.5 313.0 463.9 313.4 464.1 313.7 463.6 314.1 464.4 314.4 464.3 314.8 463.7 315.1 463.1 315.5 463.0 315.8 462.8 316.2 462.7 316.5 463.2 316.9 462.0 317.2 462.5 317.6 462.6 317.9 462.4 318.3 462.2 318.6 461.9 319.0 462.1 319.3 462.6 319.7 462.9 320.0 462.0 320.4 462.5 320.7 462.5 321.1 462.7 321.4 462.4 321.8 462.5 322.1 462.7 322.5 461.8 322.8 462.3 323.2 461.6 323.5 461.5 323.9 462.0 324.2 461.7 324.6 462.5 324.9 462.7 325.3 462.2 325.6 462.3 326.0 462.2 326.3 462.2 326.7 462.4 327.0 462.5 327.4 462.1 327.7 462.0 328.1 462.1 328.4 462.6 328.8 462.1 329.1 462.8 329.5 461.9 329.8 462.1 330.2 460.2 330.5 458.9 330.9 457.4 331.2 455.3 331.6 453.6 331.9 454.2 332.3 454.4 332.6 456.4 333.0 458.1 333.3 460.7 333.7 461.6 334.0 462.0 334.4 461.5 334.7 462.4 335.1 462.1 335.4 462.5 335.8 462.7 336.1 462.0 336.5 462.4 336.8 462.7 337.2 462.4 337.5 462.2" fill="none" stroke="#0000f0" stroke-width="1.1" stroke-linejoin="round"/>
<path d="M58.2 524.5L58.6 524.8 58.9 524.2 59.3 526.2 59.6 525.4 60.0 524.1 60.3 525.2 60.7 524.0 61.0 522.1 61.4 526.1 61.7 526.1 62.1 523.6 62.4 524.2 62.8 525.0 63.1 524.5 63.5 524.0 63.8 524.2 64.2 524.4 64.5 524.1 64.9 524.7 65.2 524.3 65.6 523.8 65.9 524.4 66.3 522.8 66.6 525.6 67.0 522.7 67.3 524.1 67.7 524.5 68.0 524.5 68.4 524.3 68.7 525.1 69.1 522.9 69.4 523.8 69.8 524.0 70.1 523.3 70.5 523.2 70.8 524.9 71.2 523.0 71.5 523.2 71.9 523.3 72.2 523.3 72.6 523.6 72.9 523.2 73.3 523.7 73.6 523.4 74.0 523.6 74.3 524.4 74.7 522.3 75.0 524.5 75.4 522.6 75.7 523.5 76.1 523.0 76.4 522.5 76.8 520.9 77.1 524.1 77.5 521.9 77.8 521.7 78.2 523.3 78.5 522.3 78.9 523.7 79.2 523.3 79.6 522.1 79.9 520.9 80.3 519.2 80.6 510.6 81.0 499.0 81.3 488.5 81.7 494.9 82.0 509.2 82.4 515.8 82.7 520.8 83.1 522.0 83.4 520.0 83.8 521.4 84.1 522.8 84.5 521.8 84.8 520.5 85.2 520.6 85.5 522.2 85.9 523.1 86.2 520.4 86.6 521.4 86.9 520.6 87.3 521.0 87.6 521.5 88.0 521.2 88.3 520.6 88.7 523.0 89.0 521.0 89.4 520.9 89.7 522.0 90.1 521.0 90.4 520.7 90.8 521.7 91.1 519.9 91.5 521.4 91.8 521.6 92.2 521.2 92.5 520.4 92.9 520.5 93.2 518.9 93.6 520.3 93.9 520.6 94.3 521.1 94.6 520.4 95.0 519.9 95.3 519.4 95.7 520.1 96.0 520.2 96.4 521.1 96.7 519.9 97.1 519.4 97.4 519.7 97.8 519.3 98.1 519.5 98.5 517.7 98.8 518.2 99.2 518.5 99.5 519.9 99.9 519.4 100.2 519.5 100.6 520.3 100.9 518.3 101.3 520.2 101.6 519.5 102.0 518.5 102.3 520.4 102.7 517.7 103.0 517.9 103.4 518.7 103.7 519.2 104.1 518.6 104.4 516.8 104.8 518.4 105.1 518.5 105.5 520.8 105.8 519.7 106.2 518.5 106.5 517.4 106.9 518.6 107.2 517.2 107.6 518.4 107.9 518.5 108.3 517.7 108.6 518.3 109.0 517.7 109.3 517.4 109.7 519.2 110.0 518.3 110.4 517.5 110.7 517.0 111.1 517.8 111.4 518.1 111.8 518.3 112.1 518.8 112.5 517.8 112.8 516.4 113.2 519.1 113.5 518.3 113.9 517.9 114.2 518.3 114.6 515.8 114.9 516.7 115.3 516.5 115.6 517.9 116.0 515.7 116.3 516.4 116.7 518.0 117.0 517.1 117.4 516.1 117.7 518.1 118.1 515.2 118.4 516.7 118.8 516.0 119.1 516.6 119.5 515.8 119.8 515.2 120.2 516.1 120.5 514.6 120.9 516.2 121.2 515.4 121.6 516.4 121.9 515.1 122.3 514.8 122.6 515.7 123.0 516.4 123.3 513.4 123.7 515.2 124.0 515.6 124.4 513.7 124.7 514.1 125.1 515.4 125.4 514.0 125.8 514.1 126.1 516.1 126.5 513.8 126.8 514.0 127.2 512.7 127.5 513.9 127.9 513.8 128.2 516.5 128.6 516.1 128.9 513.9 129.3 516.8 129.6 515.8 130.0 515.0 130.3 516.0 130.7 515.7 131.0 514.7 131.4 513.9 131.7 514.7 132.1 515.5 132.4 515.3 132.8 515.0 133.1 516.6 133.5 514.8 133.8 516.6 134.2 515.4 134.5 516.0 134.9 515.0 135.2 516.0 135.6 515.3 135.9 514.5 136.3 516.1 136.6 516.1 137.0 516.9 137.3 516.5 137.7 515.3 138.0 515.7 138.4 514.1 138.7 515.4 139.1 517.5 139.4 517.8 139.8 517.1 140.1 516.8 140.5 517.0 140.8 517.0 141.2 515.0 141.5 515.8 141.9 517.7 142.2 517.7 142.6 516.9 142.9 516.5 143.3 516.4 143.6 516.3 144.0 516.0 144.3 515.2 144.7 517.0 145.0 516.5 145.4 516.8 145.7 518.5 146.1 517.5 146.4 516.4 146.8 517.5 147.1 515.7 147.5 517.9 147.8 517.2 148.2 516.8 148.5 517.5 148.9 518.3 149.2 516.6 149.6 516.1 149.9 518.9 150.3 517.0 150.6 518.3 151.0 516.4 151.3 517.3 151.7 516.3 152.0 517.4 152.4 516.5 152.7 516.1 153.1 517.9 153.4 516.6 153.8 514.1 154.1 514.8 154.5 511.7 154.8 505.0 155.2 493.6 155.5 481.1 155.9 481.6 156.2 493.4 156.6 504.4 156.9 512.1 157.3 515.9 157.6 514.7 158.0 516.9 158.3 517.0 158.7 516.3 159.0 517.0 159.4 516.1 159.7 516.3 160.1 515.6 160.4 516.6 160.8 516.4 161.1 511.7 161.5 506.6 161.8 493.7 162.2 489.8 162.5 496.1 162.9 508.3 163.2 512.5 163.6 516.3 163.9 514.7 164.3 517.0 164.6 517.6 165.0 517.3 165.3 515.0 165.7 517.6 166.0 518.3 166.4 518.8 166.7 518.0 167.1 516.2 167.4 517.5 167.8 518.6 168.1 517.0 168.5 518.3 168.8 517.4 169.2 517.9 169.5 518.5 169.9 517.2 170.2 520.5 170.6 518.1 170.9 518.2 171.3 517.3 171.6 518.0 172.0 517.8 172.3 516.7 172.7 516.6 173.0 518.3 173.4 518.0 173.7 515.7 174.1 516.2 174.4 517.8 174.8 518.0 175.1 518.7 175.5 517.0 175.8 518.7 176.2 517.9 176.5 517.7 176.9 518.0 177.2 519.1 177.6 518.7 177.9 519.0 178.3 517.5 178.6 517.9 179.0 517.1 179.3 517.6 179.7 517.6 180.0 517.4 180.4 517.9 180.7 516.6 181.1 515.2 181.4 512.6 181.8 512.4 182.1 512.4 182.5 515.2 182.8 516.6 183.2 518.0 183.5 517.8 183.9 517.0 184.2 516.9 184.6 520.0 184.9 518.6 185.3 518.6 185.6 517.9 186.0 517.4 186.3 519.8 186.7 515.2 187.0 514.5 187.4 512.5 187.7 509.9 188.1 509.0 188.4 510.4 188.8 513.0 189.1 515.1 189.5 517.8 189.8 516.8 190.2 518.6 190.5 519.8 190.9 519.3 191.2 517.6 191.6 516.0 191.9 519.4 192.3 519.1 192.6 518.2 193.0 519.9 193.3 518.4 193.7 518.9 194.0 517.9 194.4 519.1 194.7 518.4 195.1 518.4 195.4 519.8 195.8 519.1 196.1 517.5 196.5 519.5 196.8 519.6 197.2 518.1 197.5 518.6 197.9 519.0 198.2 518.7 198.6 519.0 198.9 519.5 199.3 518.5 199.6 520.8 200.0 518.3 200.3 518.4 200.7 520.7 201.0 521.1 201.4 518.9 201.7 518.7 202.1 517.9 202.4 519.8 202.8 518.7 203.1 517.4 203.5 517.5 203.8 516.8 204.2 514.5 204.5 515.1 204.9 515.1 205.2 516.2 205.6 517.3 205.9 518.7 206.3 519.7 206.6 519.6 207.0 519.8 207.3 519.1 207.7 519.6 208.0 519.9 208.4 518.5 208.7 517.1 209.1 518.8 209.4 516.3 209.8 513.6 210.1 513.4 210.5 513.9 210.8 514.4 211.2 517.3 211.5 517.1 211.9 519.0 212.2 518.9 212.6 520.1 212.9 519.1 213.3 519.5 213.6 519.0 214.0 518.9 214.3 518.0 214.7 520.2 215.0 519.5 215.4 518.8 215.7 519.5 216.1 519.0 216.4 518.7 216.8 519.6 217.1 520.5 217.5 519.2 217.8 518.1 218.2 518.9 218.5 521.1 218.9 518.7 219.2 520.5 219.6 519.3 219.9 520.1 220.3 519.4 220.6 518.1 221.0 519.1 221.3 521.4 221.7 519.4 222.0 520.0 222.4 519.2 222.7 519.4 223.1 519.8 223.4 520.0 223.8 521.6 224.1 519.6 224.5 519.4 224.8 519.0 225.2 518.4 225.5 518.2 225.9 520.2 226.2 518.0 226.6 520.9 226.9 520.4 227.3 519.4 227.6 518.6 228.0 519.7 228.3 519.7 228.7 520.7 229.0 519.0 229.4 519.4 229.7 519.7 230.1 519.5 230.4 519.2 230.8 518.2 231.1 518.3 231.5 519.1 231.8 519.5 232.2 520.7 232.5 521.8 232.9 521.3 233.2 520.1 233.6 521.5 233.9 519.7 234.3 519.3 234.6 521.9 235.0 518.8 235.3 519.4 235.7 519.6 236.0 521.1 236.4 519.3 236.7 520.5 237.1 519.4 237.4 518.7 237.8 520.0 238.1 519.9 238.5 518.7 238.8 519.0 239.2 519.0 239.5 520.6 239.9 520.1 240.2 519.9 240.6 520.0 240.9 519.1 241.3 519.9 241.6 518.8 242.0 518.0 242.3 518.3 242.7 518.6 243.0 517.4 243.4 515.3 243.7 506.3 244.1 497.5 244.4 488.3 244.8 486.4 245.1 496.7 245.5 506.5 245.8 512.8 246.2 518.0 246.5 517.0 246.9 519.7 247.2 518.6 247.6 518.2 247.9 518.3 248.3 518.3 248.6 517.9 249.0 517.9 249.3 513.8 249.7 512.4 250.0 506.5 250.4 502.8 250.7 501.3 251.1 505.1 251.4 512.0 251.8 516.2 252.1 518.6 252.5 518.7 252.8 519.4 253.2 519.8 253.5 518.4 253.9 521.5 254.2 519.0 254.6 520.3 254.9 521.1 255.3 519.4 255.6 520.2 256.0 521.7 256.3 520.0 256.7 521.2 257.0 520.5 257.4 520.5 257.7 521.0 258.1 520.1 258.4 520.1 258.8 521.2 259.1 520.6 259.5 520.8 259.8 519.3 260.2 520.4 260.5 521.5 260.9 521.2 261.2 520.7 261.6 520.0 261.9 519.9 262.3 520.8 262.6 521.7 263.0 520.5 263.3 521.6 263.7 520.2 264.0 521.5 264.4 519.6 264.7 520.6 265.1 519.5 265.4 521.0 265.8 520.9 266.1 519.5 266.5 519.6 266.8 519.8 267.2 518.6 267.5 518.6 267.9 517.8 268.2 517.9 268.6 516.6 268.9 513.2 269.3 512.4 269.6 513.5 270.0 514.6 270.3 516.7 270.7 519.2 271.0 519.7 271.4 519.9 271.7 519.8 272.1 521.7 272.4 519.9 272.8 520.7 273.1 519.7 273.5 520.1 273.8 520.7 274.2 520.3 274.5 521.1 274.9 520.7 275.2 519.4 275.6 518.6 275.9 521.6 276.3 520.1 276.6 522.0 277.0 520.6 277.3 519.9 277.7 521.0 278.0 520.2 278.4 520.2 278.7 518.9 279.1 519.3 279.4 517.4 279.8 512.1 280.1 509.4 280.5 504.5 280.8 507.0 281.2 509.8 281.5 513.9 281.9 520.2 282.2 521.0 282.6 521.3 282.9 519.0 283.3 520.8 283.6 521.1 284.0 520.9 284.3 521.1 284.7 520.1 285.0 520.8 285.4 519.9 285.7 520.7 286.1 521.4 286.4 520.3 286.8 520.8 287.1 520.7 287.5 521.1 287.8 521.9 288.2 521.3 288.5 521.5 288.9 519.9 289.2 520.8 289.6 521.9 289.9 520.4 290.3 520.8 290.6 520.3 291.0 522.4 291.3 520.8 291.7 520.6 292.0 521.8 292.4 522.2 292.7 521.7 293.1 522.2 293.4 521.5 293.8 521.2 294.1 520.9 294.5 520.9 294.8 520.8 295.2 521.7 295.5 521.2 295.9 521.4 296.2 521.9 296.6 521.3 296.9 520.2 297.3 520.7 297.6 520.4 298.0 519.7 298.3 521.5 298.7 520.3 299.0 520.3 299.4 520.5 299.7 522.2 300.1 521.2 300.4 522.4 300.8 521.4 301.1 521.1 301.5 522.0 301.8 522.0 302.2 521.6 302.5 520.6 302.9 521.1 303.2 520.5 303.6 521.3 303.9 521.6 304.3 522.9 304.6 522.8 305.0 522.2 305.3 522.4 305.7 521.8 306.0 524.1 306.4 523.0 306.7 524.0 307.1 521.9 307.4 522.0 307.8 522.6 308.1 521.8 308.5 521.9 308.8 520.7 309.2 522.5 309.5 521.7 309.9 522.3 310.2 521.4 310.6 520.0 310.9 522.0 311.3 522.6 311.6 520.3 312.0 520.5 312.3 520.9 312.7 520.6 313.0 518.5 313.4 520.4 313.7 518.1 314.1 515.1 314.4 513.2 314.8 515.7 315.1 518.6 315.5 519.3 315.8 520.9 316.2 519.9 316.5 521.4 316.9 520.1 317.2 523.4 317.6 522.2 317.9 519.8 318.3 520.1 318.6 522.2 319.0 521.9 319.3 521.6 319.7 522.4 320.0 523.7 320.4 522.2 320.7 520.3 321.1 521.8 321.4 520.7 321.8 521.2 322.1 522.2 322.5 521.8 322.8 521.0 323.2 521.9 323.5 521.2 323.9 522.5 324.2 521.8 324.6 522.3 324.9 521.7 325.3 522.7 325.6 521.9 326.0 522.0 326.3 521.5 326.7 522.1 327.0 520.4 327.4 524.4 327.7 521.3 328.1 522.0 328.4 521.5 328.8 521.4 329.1 522.2 329.5 521.2 329.8 521.2 330.2 520.1 330.5 520.0 330.9 518.5 331.2 518.8 331.6 512.0 331.9 507.3 332.3 504.8 332.6 506.4 333.0 507.7 333.3 512.7 333.7 517.9 334.0 520.3 334.4 519.8 334.7 519.9 335.1 520.9 335.4 522.5 335.8 521.9 336.1 522.7 336.5 522.0 336.8 522.1 337.2 522.7 337.5 522.1" fill="none" stroke="#f11" stroke-width="2.4" stroke-linejoin="round" opacity="0.5"/>
<path d="M56.8 525.6a1.4 1.4 0 1 0 2.8 0a1.4 1.4 0 1 0-2.8 0M57.2 524.6a1.4 1.4 0 1 0 2.8 0a1.4 1.4 0 1 0-2.8 0M57.5 524.8a1.4 1.4 0 1 0 2.8 0a1.4 1.4 0 1 0-2.8 0M57.9 525.7a1.4 1.4 0 1 0 2.8 0a1.4 1.4 0 1 0-2.8 0M58.2 525.0a1.4 1.4 0 1 0 2.8 0a1.4 1.4 0 1 0-2.8 0M58.6 524.6a1.4 1.4 0 1 0 2.8 0a1.4 1.4 0 1 0-2.8 0M58.9 525.7a1.4 1.4 0 1 0 2.8 0a1.4 1.4 0 1 0-2.8 0M59.3 525.6a1.4 1.4 0 1 0 2.8 0a1.4 1.4 0 1 0-2.8 0M59.6 525.0a1.4 1.4 0 1 0 2.8 0a1.4 1.4 0 1 0-2.8 0M60.0 524.4a1.4 1.4 0 1 0 2.8 0a1.4 1.4 0 1 0-2.8 0M60.3 525.7a1.4 1.4 0 1 0 2.8 0a1.4 1.4 0 1 0-2.8 0M60.7 527.0a1.4 1.4 0 1 0 2.8 0a1.4 1.4 0 1 0-2.8 0M61.0 524.2a1.4 1.4 0 1 0 2.8 0a1.4 1.4 0 1 0-2.8 0M61.4 523.5a1.4 1.4 0 1 0 2.8 0a1.4 1.4 0 1 0-2.8 0M61.7 524.1a1.4 1.4 0 1 0 2.8 0a1.4 1.4 0 1 0-2.8 0M62.1 523.9a1.4 1.4 0 1 0 2.8 0a1.4 1.4 0 1 0-2.8 0M62.4 523.6a1.4 1.4 0 1 0 2.8 0a1.4 1.4 0 1 0-2.8 0M62.8 523.6a1.4 1.4 0 1 0 2.8 0a1.4 1.4 0 1 0-2.8 0M63.1 525.3a1.4 1.4 0 1 0 2.8 0a1.4 1.4 0 1 0-2.8 0M63.5 525.2a1.4 1.4 0 1 0 2.8 0a1.4 1.4 0 1 0-2.8 0M63.8 525.7a1.4 1.4 0 1 0 2.8 0a1.4 1.4 0 1 0-2.8 0M64.2 525.0a1.4 1.4 0 1 0 2.8 0a1.4 1.4 0 1 0-2.8 0M64.5 523.9a1.4 1.4 0 1 0 2.8 0a1.4 1.4 0 1 0-2.8 0M64.9 525.2a1.4 1.4 0 1 0 2.8 0a1.4 1.4 0 1 0-2.8 0M65.2 523.7a1.4 1.4 0 1 0 2.8 0a1.4 1.4 0 1 0-2.8 0M65.6 523.9a1.4 1.4 0 1 0 2.8 0a1.4 1.4 0 1 0-2.8 0M65.9 523.2a1.4 1.4 0 1 0 2.8 0a1.4 1.4 0 1 0-2.8 0M66.3 525.1a1.4 1.4 0 1 0 2.8 0a1.4 1.4 0 1 0-2.8 0M66.6 524.9a1.4 1.4 0 1 0 2.8 0a1.4 1.4 0 1 0-2.8 0M67.0 523.6a1.4 1.4 0 1 0 2.8 0a1.4 1.4 0 1 0-2.8 0M67.3 523.7a1.4 1.4 0 1 0 2.8 0a1.4 1.4 0 1 0-2.8 0M67.7 523.9a1.4 1.4 0 1 0 2.8 0a1.4 1.4 0 1 0-2.8 0M68.0 524.0a1.4 1.4 0 1 0 2.8 0a1.4 1.4 0 1 0-2.8 0M68.4 524.5a1.4 1.4 0 1 0 2.8 0a1.4 1.4 0 1 0-2.8 0M68.7 523.8a1.4 1.4 0 1 0 2.8 0a1.4 1.4 0 1 0-2.8 0M69.1 524.0a1.4 1.4 0 1 0 2.8 0a1.4 1.4 0 1 0-2.8 0M69.4 522.4a1.4 1.4 0 1 0 2.8 0a1.4 1.4 0 1 0-2.8 0M69.8 523.3a1.4 1.4 0 1 0 2.8 0a1.4 1.4 0 1 0-2.8 0M70.1 522.0a1.4 1.4 0 1 0 2.8 0a1.4 1.4 0 1 0-2.8 0M70.5 525.0a1.4 1.4 0 1 0 2.8 0a1.4 1.4 0 1 0-2.8 0M70.8 524.6a1.4 1.4 0 1 0 2.8 0a1.4 1.4 0 1 0-2.8 0M71.2 524.0a1.4 1.4 0 1 0 2.8 0a1.4 1.4 0 1 0-2.8 0M71.5 524.3a1.4 1.4 0 1 0 2.8 0a1.4 1.4 0 1 0-2.8 0M71.9 525.0a1.4 1.4 0 1 0 2.8 0a1.4 1.4 0 1 0-2.8 0M72.2 524.0a1.4 1.4 0 1 0 2.8 0a1.4 1.4 0 1 0-2.8 0M72.6 521.8a1.4 1.4 0 1 0 2.8 0a1.4 1.4 0 1 0-2.8 0M72.9 522.9a1.4 1.4 0 1 0 2.8 0a1.4 1.4 0 1 0-2.8 0M73.3 521.1a1.4 1.4 0 1 0 2.8 0a1.4 1.4 0 1 0-2.8 0M73.6 522.3a1.4 1.4 0 1 0 2.8 0a1.4 1.4 0 1 0-2.8 0M74.0 521.9a1.4 1.4 0 1 0 2.8 0a1.4 1.4 0 1 0-2.8 0M74.3 522.9a1.4 1.4 0 1 0 2.8 0a1.4 1.4 0 1 0-2.8 0M74.7 523.1a1.4 1.4 0 1 0 2.8 0a1.4 1.4 0 1 0-2.8 0M75.0 521.9a1.4 1.4 0 1 0 2.8 0a1.4 1.4 0 1 0-2.8 0M75.4 522.4a1.4 1.4 0 1 0 2.8 0a1.4 1.4 0 1 0-2.8 0M75.7 522.8a1.4 1.4 0 1 0 2.8 0a1.4 1.4 0 1 0-2.8 0M76.1 522.4a1.4 1.4 0 1 0 2.8 0a1.4 1.4 0 1 0-2.8 0M76.4 522.3a1.4 1.4 0 1 0 2.8 0a1.4 1.4 0 1 0-2.8 0M76.8 520.2a1.4 1.4 0 1 0 2.8 0a1.4 1.4 0 1 0-2.8 0M77.1 521.8a1.4 1.4 0 1 0 2.8 0a1.4 1.4 0 1 0-2.8 0M77.5 522.7a1.4 1.4 0 1 0 2.8 0a1.4 1.4 0 1 0-2.8 0M77.8 522.0a1.4 1.4 0 1 0 2.8 0a1.4 1.4 0 1 0-2.8 0M78.2 520.1a1.4 1.4 0 1 0 2.8 0a1.4 1.4 0 1 0-2.8 0M78.5 520.4a1.4 1.4 0 1 0 2.8 0a1.4 1.4 0 1 0-2.8 0M78.9 518.7a1.4 1.4 0 1 0 2.8 0a1.4 1.4 0 1 0-2.8 0M79.2 510.9a1.4 1.4 0 1 0 2.8 0a1.4 1.4 0 1 0-2.8 0M79.6 499.3a1.4 1.4 0 1 0 2.8 0a1.4 1.4 0 1 0-2.8 0M79.9 487.7a1.4 1.4 0 1 0 2.8 0a1.4 1.4 0 1 0-2.8 0M80.3 494.9a1.4 1.4 0 1 0 2.8 0a1.4 1.4 0 1 0-2.8 0M80.6 508.8a1.4 1.4 0 1 0 2.8 0a1.4 1.4 0 1 0-2.8 0M81.0 519.0a1.4 1.4 0 1 0 2.8 0a1.4 1.4 0 1 0-2.8 0M81.3 519.7a1.4 1.4 0 1 0 2.8 0a1.4 1.4 0 1 0-2.8 0M81.7 520.3a1.4 1.4 0 1 0 2.8 0a1.4 1.4 0 1 0-2.8 0M82.0 521.7a1.4 1.4 0 1 0 2.8 0a1.4 1.4 0 1 0-2.8 0M82.4 520.8a1.4 1.4 0 1 0 2.8 0a1.4 1.4 0 1 0-2.8 0M82.7 521.5a1.4 1.4 0 1 0 2.8 0a1.4 1.4 0 1 0-2.8 0M83.1 519.5a1.4 1.4 0 1 0 2.8 0a1.4 1.4 0 1 0-2.8 0M83.4 521.7a1.4 1.4 0 1 0 2.8 0a1.4 1.4 0 1 0-2.8 0M83.8 521.4a1.4 1.4 0 1 0 2.8 0a1.4 1.4 0 1 0-2.8 0M84.1 520.3a1.4 1.4 0 1 0 2.8 0a1.4 1.4 0 1 0-2.8 0M84.5 522.5a1.4 1.4 0 1 0 2.8 0a1.4 1.4 0 1 0-2.8 0M84.8 521.1a1.4 1.4 0 1 0 2.8 0a1.4 1.4 0 1 0-2.8 0M85.2 521.2a1.4 1.4 0 1 0 2.8 0a1.4 1.4 0 1 0-2.8 0M85.5 520.2a1.4 1.4 0 1 0 2.8 0a1.4 1.4 0 1 0-2.8 0M85.9 519.9a1.4 1.4 0 1 0 2.8 0a1.4 1.4 0 1 0-2.8 0M86.2 520.7a1.4 1.4 0 1 0 2.8 0a1.4 1.4 0 1 0-2.8 0M86.6 519.9a1.4 1.4 0 1 0 2.8 0a1.4 1.4 0 1 0-2.8 0M86.9 521.5a1.4 1.4 0 1 0 2.8 0a1.4 1.4 0 1 0-2.8 0M87.3 521.8a1.4 1.4 0 1 0 2.8 0a1.4 1.4 0 1 0-2.8 0M87.6 520.5a1.4 1.4 0 1 0 2.8 0a1.4 1.4 0 1 0-2.8 0M88.0 519.6a1.4 1.4 0 1 0 2.8 0a1.4 1.4 0 1 0-2.8 0M88.3 520.6a1.4 1.4 0 1 0 2.8 0a1.4 1.4 0 1 0-2.8 0M88.7 520.0a1.4 1.4 0 1 0 2.8 0a1.4 1.4 0 1 0-2.8 0M89.0 521.0a1.4 1.4 0 1 0 2.8 0a1.4 1.4 0 1 0-2.8 0M89.4 521.0a1.4 1.4 0 1 0 2.8 0a1.4 1.4 0 1 0-2.8 0M89.7 520.4a1.4 1.4 0 1 0 2.8 0a1.4 1.4 0 1 0-2.8 0M90.1 520.8a1.4 1.4 0 1 0 2.8 0a1.4 1.4 0 1 0-2.8 0M90.4 521.5a1.4 1.4 0 1 0 2.8 0a1.4 1.4 0 1 0-2.8 0M90.8 522.0a1.4 1.4 0 1 0 2.8 0a1.4 1.4 0 1 0-2.8 0M91.1 520.1a1.4 1.4 0 1 0 2.8 0a1.4 1.4 0 1 0-2.8 0M91.5 521.1a1.4 1.4 0 1 0 2.8 0a1.4 1.4 0 1 0-2.8 0M91.8 520.2a1.4 1.4 0 1 0 2.8 0a1.4 1.4 0 1 0-2.8 0M92.2 519.5a1.4 1.4 0 1 0 2.8 0a1.4 1.4 0 1 0-2.8 0M92.5 521.4a1.4 1.4 0 1 0 2.8 0a1.4 1.4 0 1 0-2.8 0M92.9 520.6a1.4 1.4 0 1 0 2.8 0a1.4 1.4 0 1 0-2.8 0M93.2 520.3a1.4 1.4 0 1 0 2.8 0a1.4 1.4 0 1 0-2.8 0M93.6 520.5a1.4 1.4 0 1 0 2.8 0a1.4 1.4 0 1 0-2.8 0M93.9 520.0a1.4 1.4 0 1 0 2.8 0a1.4 1.4 0 1 0-2.8 0M94.3 519.1a1.4 1.4 0 1 0 2.8 0a1.4 1.4 0 1 0-2.8 0M94.6 521.5a1.4 1.4 0 1 0 2.8 0a1.4 1.4 0 1 0-2.8 0M95.0 520.7a1.4 1.4 0 1 0 2.8 0a1.4 1.4 0 1 0-2.8 0M95.3 520.1a1.4 1.4 0 1 0 2.8 0a1.4 1.4 0 1 0-2.8 0M95.7 520.6a1.4 1.4 0 1 0 2.8 0a1.4 1.4 0 1 0-2.8 0M96.0 520.9a1.4 1.4 0 1 0 2.8 0a1.4 1.4 0 1 0-2.8 0M96.4 519.5a1.4 1.4 0 1 0 2.8 0a1.4 1.4 0 1 0-2.8 0M96.7 520.2a1.4 1.4 0 1 0 2.8 0a1.4 1.4 0 1 0-2.8 0M97.1 519.3a1.4 1.4 0 1 0 2.8 0a1.4 1.4 0 1 0-2.8 0M97.4 520.1a1.4 1.4 0 1 0 2.8 0a1.4 1.4 0 1 0-2.8 0M97.8 519.3a1.4 1.4 0 1 0 2.8 0a1.4 1.4 0 1 0-2.8 0M98.1 521.5a1.4 1.4 0 1 0 2.8 0a1.4 1.4 0 1 0-2.8 0M98.5 519.1a1.4 1.4 0 1 0 2.8 0a1.4 1.4 0 1 0-2.8 0M98.8 519.8a1.4 1.4 0 1 0 2.8 0a1.4 1.4 0 1 0-2.8 0M99.2 519.7a1.4 1.4 0 1 0 2.8 0a1.4 1.4 0 1 0-2.8 0M99.5 518.9a1.4 1.4 0 1 0 2.8 0a1.4 1.4 0 1 0-2.8 0M99.9 519.9a1.4 1.4 0 1 0 2.8 0a1.4 1.4 0 1 0-2.8 0M100.2 519.0a1.4 1.4 0 1 0 2.8 0a1.4 1.4 0 1 0-2.8 0M100.6 518.7a1.4 1.4 0 1 0 2.8 0a1.4 1.4 0 1 0-2.8 0M100.9 519.0a1.4 1.4 0 1 0 2.8 0a1.4 1.4 0 1 0-2.8 0M101.3 518.3a1.4 1.4 0 1 0 2.8 0a1.4 1.4 0 1 0-2.8 0M101.6 519.9a1.4 1.4 0 1 0 2.8 0a1.4 1.4 0 1 0-2.8 0M102.0 519.3a1.4 1.4 0 1 0 2.8 0a1.4 1.4 0 1 0-2.8 0M102.3 519.6a1.4 1.4 0 1 0 2.8 0a1.4 1.4 0 1 0-2.8 0M102.7 517.6a1.4 1.4 0 1 0 2.8 0a1.4 1.4 0 1 0-2.8 0M103.0 518.9a1.4 1.4 0 1 0 2.8 0a1.4 1.4 0 1 0-2.8 0M103.4 517.9a1.4 1.4 0 1 0 2.8 0a1.4 1.4 0 1 0-2.8 0M103.7 518.6a1.4 1.4 0 1 0 2.8 0a1.4 1.4 0 1 0-2.8 0M104.1 519.6a1.4 1.4 0 1 0 2.8 0a1.4 1.4 0 1 0-2.8 0M104.4 518.6a1.4 1.4 0 1 0 2.8 0a1.4 1.4 0 1 0-2.8 0M104.8 518.2a1.4 1.4 0 1 0 2.8 0a1.4 1.4 0 1 0-2.8 0M105.1 519.3a1.4 1.4 0 1 0 2.8 0a1.4 1.4 0 1 0-2.8 0M105.5 519.1a1.4 1.4 0 1 0 2.8 0a1.4 1.4 0 1 0-2.8 0M105.8 519.8a1.4 1.4 0 1 0 2.8 0a1.4 1.4 0 1 0-2.8 0M106.2 516.6a1.4 1.4 0 1 0 2.8 0a1.4 1.4 0 1 0-2.8 0M106.5 518.4a1.4 1.4 0 1 0 2.8 0a1.4 1.4 0 1 0-2.8 0M106.9 517.7a1.4 1.4 0 1 0 2.8 0a1.4 1.4 0 1 0-2.8 0M107.2 517.2a1.4 1.4 0 1 0 2.8 0a1.4 1.4 0 1 0-2.8 0M107.6 518.0a1.4 1.4 0 1 0 2.8 0a1.4 1.4 0 1 0-2.8 0M107.9 516.9a1.4 1.4 0 1 0 2.8 0a1.4 1.4 0 1 0-2.8 0M108.3 515.9a1.4 1.4 0 1 0 2.8 0a1.4 1.4 0 1 0-2.8 0M108.6 517.0a1.4 1.4 0 1 0 2.8 0a1.4 1.4 0 1 0-2.8 0M109.0 517.5a1.4 1.4 0 1 0 2.8 0a1.4 1.4 0 1 0-2.8 0M109.3 519.2a1.4 1.4 0 1 0 2.8 0a1.4 1.4 0 1 0-2.8 0M109.7 517.0a1.4 1.4 0 1 0 2.8 0a1.4 1.4 0 1 0-2.8 0M110.0 516.5a1.4 1.4 0 1 0 2.8 0a1.4 1.4 0 1 0-2.8 0M110.4 515.8a1.4 1.4 0 1 0 2.8 0a1.4 1.4 0 1 0-2.8 0M110.7 517.1a1.4 1.4 0 1 0 2.8 0a1.4 1.4 0 1 0-2.8 0M111.1 517.2a1.4 1.4 0 1 0 2.8 0a1.4 1.4 0 1 0-2.8 0M111.4 517.4a1.4 1.4 0 1 0 2.8 0a1.4 1.4 0 1 0-2.8 0M111.8 516.0a1.4 1.4 0 1 0 2.8 0a1.4 1.4 0 1 0-2.8 0M112.1 516.5a1.4 1.4 0 1 0 2.8 0a1.4 1.4 0 1 0-2.8 0M112.5 515.2a1.4 1.4 0 1 0 2.8 0a1.4 1.4 0 1 0-2.8 0M112.8 517.2a1.4 1.4 0 1 0 2.8 0a1.4 1.4 0 1 0-2.8 0M113.2 515.7a1.4 1.4 0 1 0 2.8 0a1.4 1.4 0 1 0-2.8 0M113.5 514.6a1.4 1.4 0 1 0 2.8 0a1.4 1.4 0 1 0-2.8 0M113.9 517.9a1.4 1.4 0 1 0 2.8 0a1.4 1.4 0 1 0-2.8 0M114.2 517.3a1.4 1.4 0 1 0 2.8 0a1.4 1.4 0 1 0-2.8 0M114.6 517.0a1.4 1.4 0 1 0 2.8 0a1.4 1.4 0 1 0-2.8 0M114.9 517.0a1.4 1.4 0 1 0 2.8 0a1.4 1.4 0 1 0-2.8 0M115.3 515.7a1.4 1.4 0 1 0 2.8 0a1.4 1.4 0 1 0-2.8 0M115.6 517.4a1.4 1.4 0 1 0 2.8 0a1.4 1.4 0 1 0-2.8 0M116.0 515.6a1.4 1.4 0 1 0 2.8 0a1.4 1.4 0 1 0-2.8 0M116.3 518.0a1.4 1.4 0 1 0 2.8 0a1.4 1.4 0 1 0-2.8 0M116.7 516.5a1.4 1.4 0 1 0 2.8 0a1.4 1.4 0 1 0-2.8 0M117.0 514.6a1.4 1.4 0 1 0 2.8 0a1.4 1.4 0 1 0-2.8 0M117.4 516.9a1.4 1.4 0 1 0 2.8 0a1.4 1.4 0 1 0-2.8 0M117.7 517.7a1.4 1.4 0 1 0 2.8 0a1.4 1.4 0 1 0-2.8 0M118.1 515.8a1.4 1.4 0 1 0 2.8 0a1.4 1.4 0 1 0-2.8 0M118.4 516.8a1.4 1.4 0 1 0 2.8 0a1.4 1.4 0 1 0-2.8 0M118.8 515.7a1.4 1.4 0 1 0 2.8 0a1.4 1.4 0 1 0-2.8 0M119.1 515.2a1.4 1.4 0 1 0 2.8 0a1.4 1.4 0 1 0-2.8 0M119.5 513.5a1.4 1.4 0 1 0 2.8 0a1.4 1.4 0 1 0-2.8 0M119.8 516.7a1.4 1.4 0 1 0 2.8 0a1.4 1.4 0 1 0-2.8 0M120.2 515.1a1.4 1.4 0 1 0 2.8 0a1.4 1.4 0 1 0-2.8 0M120.5 515.8a1.4 1.4 0 1 0 2.8 0a1.4 1.4 0 1 0-2.8 0M120.9 514.4a1.4 1.4 0 1 0 2.8 0a1.4 1.4 0 1 0-2.8 0M121.2 514.5a1.4 1.4 0 1 0 2.8 0a1.4 1.4 0 1 0-2.8 0M121.6 516.2a1.4 1.4 0 1 0 2.8 0a1.4 1.4 0 1 0-2.8 0M121.9 514.8a1.4 1.4 0 1 0 2.8 0a1.4 1.4 0 1 0-2.8 0M122.3 514.7a1.4 1.4 0 1 0 2.8 0a1.4 1.4 0 1 0-2.8 0M122.6 513.9a1.4 1.4 0 1 0 2.8 0a1.4 1.4 0 1 0-2.8 0M123.0 515.1a1.4 1.4 0 1 0 2.8 0a1.4 1.4 0 1 0-2.8 0M123.3 515.5a1.4 1.4 0 1 0 2.8 0a1.4 1.4 0 1 0-2.8 0M123.7 514.4a1.4 1.4 0 1 0 2.8 0a1.4 1.4 0 1 0-2.8 0M124.0 514.5a1.4 1.4 0 1 0 2.8 0a1.4 1.4 0 1 0-2.8 0M124.4 513.6a1.4 1.4 0 1 0 2.8 0a1.4 1.4 0 1 0-2.8 0M124.7 515.8a1.4 1.4 0 1 0 2.8 0a1.4 1.4 0 1 0-2.8 0M125.1 514.1a1.4 1.4 0 1 0 2.8 0a1.4 1.4 0 1 0-2.8 0M125.4 514.5a1.4 1.4 0 1 0 2.8 0a1.4 1.4 0 1 0-2.8 0M125.8 516.2a1.4 1.4 0 1 0 2.8 0a1.4 1.4 0 1 0-2.8 0M126.1 514.6a1.4 1.4 0 1 0 2.8 0a1.4 1.4 0 1 0-2.8 0M126.5 513.5a1.4 1.4 0 1 0 2.8 0a1.4 1.4 0 1 0-2.8 0M126.8 514.1a1.4 1.4 0 1 0 2.8 0a1.4 1.4 0 1 0-2.8 0M127.2 514.6a1.4 1.4 0 1 0 2.8 0a1.4 1.4 0 1 0-2.8 0M127.5 516.5a1.4 1.4 0 1 0 2.8 0a1.4 1.4 0 1 0-2.8 0M127.9 515.3a1.4 1.4 0 1 0 2.8 0a1.4 1.4 0 1 0-2.8 0M128.2 514.9a1.4 1.4 0 1 0 2.8 0a1.4 1.4 0 1 0-2.8 0M128.6 515.9a1.4 1.4 0 1 0 2.8 0a1.4 1.4 0 1 0-2.8 0M128.9 516.3a1.4 1.4 0 1 0 2.8 0a1.4 1.4 0 1 0-2.8 0M129.3 514.6a1.4 1.4 0 1 0 2.8 0a1.4 1.4 0 1 0-2.8 0M129.6 516.6a1.4 1.4 0 1 0 2.8 0a1.4 1.4 0 1 0-2.8 0M130.0 516.1a1.4 1.4 0 1 0 2.8 0a1.4 1.4 0 1 0-2.8 0M130.3 515.8a1.4 1.4 0 1 0 2.8 0a1.4 1.4 0 1 0-2.8 0M130.7 513.5a1.4 1.4 0 1 0 2.8 0a1.4 1.4 0 1 0-2.8 0M131.0 515.7a1.4 1.4 0 1 0 2.8 0a1.4 1.4 0 1 0-2.8 0M131.4 516.8a1.4 1.4 0 1 0 2.8 0a1.4 1.4 0 1 0-2.8 0M131.7 515.4a1.4 1.4 0 1 0 2.8 0a1.4 1.4 0 1 0-2.8 0M132.1 517.7a1.4 1.4 0 1 0 2.8 0a1.4 1.4 0 1 0-2.8 0M132.4 515.8a1.4 1.4 0 1 0 2.8 0a1.4 1.4 0 1 0-2.8 0M132.8 515.0a1.4 1.4 0 1 0 2.8 0a1.4 1.4 0 1 0-2.8 0M133.1 516.4a1.4 1.4 0 1 0 2.8 0a1.4 1.4 0 1 0-2.8 0M133.5 516.2a1.4 1.4 0 1 0 2.8 0a1.4 1.4 0 1 0-2.8 0M133.8 516.7a1.4 1.4 0 1 0 2.8 0a1.4 1.4 0 1 0-2.8 0M134.2 515.8a1.4 1.4 0 1 0 2.8 0a1.4 1.4 0 1 0-2.8 0M134.5 517.2a1.4 1.4 0 1 0 2.8 0a1.4 1.4 0 1 0-2.8 0M134.9 515.6a1.4 1.4 0 1 0 2.8 0a1.4 1.4 0 1 0-2.8 0M135.2 516.2a1.4 1.4 0 1 0 2.8 0a1.4 1.4 0 1 0-2.8 0M135.6 515.1a1.4 1.4 0 1 0 2.8 0a1.4 1.4 0 1 0-2.8 0M135.9 515.5a1.4 1.4 0 1 0 2.8 0a1.4 1.4 0 1 0-2.8 0M136.3 516.4a1.4 1.4 0 1 0 2.8 0a1.4 1.4 0 1 0-2.8 0M136.6 515.7a1.4 1.4 0 1 0 2.8 0a1.4 1.4 0 1 0-2.8 0M137.0 515.9a1.4 1.4 0 1 0 2.8 0a1.4 1.4 0 1 0-2.8 0M137.3 516.1a1.4 1.4 0 1 0 2.8 0a1.4 1.4 0 1 0-2.8 0M137.7 516.6a1.4 1.4 0 1 0 2.8 0a1.4 1.4 0 1 0-2.8 0M138.0 517.0a1.4 1.4 0 1 0 2.8 0a1.4 1.4 0 1 0-2.8 0M138.4 517.1a1.4 1.4 0 1 0 2.8 0a1.4 1.4 0 1 0-2.8 0M138.7 517.3a1.4 1.4 0 1 0 2.8 0a1.4 1.4 0 1 0-2.8 0M139.1 516.7a1.4 1.4 0 1 0 2.8 0a1.4 1.4 0 1 0-2.8 0M139.4 516.1a1.4 1.4 0 1 0 2.8 0a1.4 1.4 0 1 0-2.8 0M139.8 515.2a1.4 1.4 0 1 0 2.8 0a1.4 1.4 0 1 0-2.8 0M140.1 516.3a1.4 1.4 0 1 0 2.8 0a1.4 1.4 0 1 0-2.8 0M140.5 515.9a1.4 1.4 0 1 0 2.8 0a1.4 1.4 0 1 0-2.8 0M140.8 515.1a1.4 1.4 0 1 0 2.8 0a1.4 1.4 0 1 0-2.8 0M141.2 518.1a1.4 1.4 0 1 0 2.8 0a1.4 1.4 0 1 0-2.8 0M141.5 515.1a1.4 1.4 0 1 0 2.8 0a1.4 1.4 0 1 0-2.8 0M141.9 517.1a1.4 1.4 0 1 0 2.8 0a1.4 1.4 0 1 0-2.8 0M142.2 517.3a1.4 1.4 0 1 0 2.8 0a1.4 1.4 0 1 0-2.8 0M142.6 516.6a1.4 1.4 0 1 0 2.8 0a1.4 1.4 0 1 0-2.8 0M142.9 519.1a1.4 1.4 0 1 0 2.8 0a1.4 1.4 0 1 0-2.8 0M143.3 516.9a1.4 1.4 0 1 0 2.8 0a1.4 1.4 0 1 0-2.8 0M143.6 516.3a1.4 1.4 0 1 0 2.8 0a1.4 1.4 0 1 0-2.8 0M144.0 518.4a1.4 1.4 0 1 0 2.8 0a1.4 1.4 0 1 0-2.8 0M144.3 516.2a1.4 1.4 0 1 0 2.8 0a1.4 1.4 0 1 0-2.8 0M144.7 515.7a1.4 1.4 0 1 0 2.8 0a1.4 1.4 0 1 0-2.8 0M145.0 516.1a1.4 1.4 0 1 0 2.8 0a1.4 1.4 0 1 0-2.8 0M145.4 516.4a1.4 1.4 0 1 0 2.8 0a1.4 1.4 0 1 0-2.8 0M145.7 517.0a1.4 1.4 0 1 0 2.8 0a1.4 1.4 0 1 0-2.8 0M146.1 517.3a1.4 1.4 0 1 0 2.8 0a1.4 1.4 0 1 0-2.8 0M146.4 515.7a1.4 1.4 0 1 0 2.8 0a1.4 1.4 0 1 0-2.8 0M146.8 517.3a1.4 1.4 0 1 0 2.8 0a1.4 1.4 0 1 0-2.8 0M147.1 518.9a1.4 1.4 0 1 0 2.8 0a1.4 1.4 0 1 0-2.8 0M147.5 516.4a1.4 1.4 0 1 0 2.8 0a1.4 1.4 0 1 0-2.8 0M147.8 516.9a1.4 1.4 0 1 0 2.8 0a1.4 1.4 0 1 0-2.8 0M148.2 517.6a1.4 1.4 0 1 0 2.8 0a1.4 1.4 0 1 0-2.8 0M148.5 518.0a1.4 1.4 0 1 0 2.8 0a1.4 1.4 0 1 0-2.8 0M148.9 516.4a1.4 1.4 0 1 0 2.8 0a1.4 1.4 0 1 0-2.8 0M149.2 516.1a1.4 1.4 0 1 0 2.8 0a1.4 1.4 0 1 0-2.8 0M149.6 516.1a1.4 1.4 0 1 0 2.8 0a1.4 1.4 0 1 0-2.8 0M149.9 517.9a1.4 1.4 0 1 0 2.8 0a1.4 1.4 0 1 0-2.8 0M150.3 517.7a1.4 1.4 0 1 0 2.8 0a1.4 1.4 0 1 0-2.8 0M150.6 515.0a1.4 1.4 0 1 0 2.8 0a1.4 1.4 0 1 0-2.8 0M151.0 514.9a1.4 1.4 0 1 0 2.8 0a1.4 1.4 0 1 0-2.8 0M151.3 515.6a1.4 1.4 0 1 0 2.8 0a1.4 1.4 0 1 0-2.8 0M151.7 515.2a1.4 1.4 0 1 0 2.8 0a1.4 1.4 0 1 0-2.8 0M152.0 516.6a1.4 1.4 0 1 0 2.8 0a1.4 1.4 0 1 0-2.8 0M152.4 516.1a1.4 1.4 0 1 0 2.8 0a1.4 1.4 0 1 0-2.8 0M152.7 516.7a1.4 1.4 0 1 0 2.8 0a1.4 1.4 0 1 0-2.8 0M153.1 513.2a1.4 1.4 0 1 0 2.8 0a1.4 1.4 0 1 0-2.8 0M153.4 506.1a1.4 1.4 0 1 0 2.8 0a1.4 1.4 0 1 0-2.8 0M153.8 495.1a1.4 1.4 0 1 0 2.8 0a1.4 1.4 0 1 0-2.8 0M154.1 480.8a1.4 1.4 0 1 0 2.8 0a1.4 1.4 0 1 0-2.8 0M154.5 480.3a1.4 1.4 0 1 0 2.8 0a1.4 1.4 0 1 0-2.8 0M154.8 494.1a1.4 1.4 0 1 0 2.8 0a1.4 1.4 0 1 0-2.8 0M155.2 506.9a1.4 1.4 0 1 0 2.8 0a1.4 1.4 0 1 0-2.8 0M155.5 511.2a1.4 1.4 0 1 0 2.8 0a1.4 1.4 0 1 0-2.8 0M155.9 515.8a1.4 1.4 0 1 0 2.8 0a1.4 1.4 0 1 0-2.8 0M156.2 516.7a1.4 1.4 0 1 0 2.8 0a1.4 1.4 0 1 0-2.8 0M156.6 515.9a1.4 1.4 0 1 0 2.8 0a1.4 1.4 0 1 0-2.8 0M156.9 516.7a1.4 1.4 0 1 0 2.8 0a1.4 1.4 0 1 0-2.8 0M157.3 516.4a1.4 1.4 0 1 0 2.8 0a1.4 1.4 0 1 0-2.8 0M157.6 516.8a1.4 1.4 0 1 0 2.8 0a1.4 1.4 0 1 0-2.8 0M158.0 517.4a1.4 1.4 0 1 0 2.8 0a1.4 1.4 0 1 0-2.8 0M158.3 516.0a1.4 1.4 0 1 0 2.8 0a1.4 1.4 0 1 0-2.8 0M158.7 517.4a1.4 1.4 0 1 0 2.8 0a1.4 1.4 0 1 0-2.8 0M159.0 516.9a1.4 1.4 0 1 0 2.8 0a1.4 1.4 0 1 0-2.8 0M159.4 516.0a1.4 1.4 0 1 0 2.8 0a1.4 1.4 0 1 0-2.8 0M159.7 510.5a1.4 1.4 0 1 0 2.8 0a1.4 1.4 0 1 0-2.8 0M160.1 503.9a1.4 1.4 0 1 0 2.8 0a1.4 1.4 0 1 0-2.8 0M160.4 496.2a1.4 1.4 0 1 0 2.8 0a1.4 1.4 0 1 0-2.8 0M160.8 490.1a1.4 1.4 0 1 0 2.8 0a1.4 1.4 0 1 0-2.8 0M161.1 496.4a1.4 1.4 0 1 0 2.8 0a1.4 1.4 0 1 0-2.8 0M161.5 506.1a1.4 1.4 0 1 0 2.8 0a1.4 1.4 0 1 0-2.8 0M161.8 511.8a1.4 1.4 0 1 0 2.8 0a1.4 1.4 0 1 0-2.8 0M162.2 515.4a1.4 1.4 0 1 0 2.8 0a1.4 1.4 0 1 0-2.8 0M162.5 515.9a1.4 1.4 0 1 0 2.8 0a1.4 1.4 0 1 0-2.8 0M162.9 516.3a1.4 1.4 0 1 0 2.8 0a1.4 1.4 0 1 0-2.8 0M163.2 517.5a1.4 1.4 0 1 0 2.8 0a1.4 1.4 0 1 0-2.8 0M163.6 516.2a1.4 1.4 0 1 0 2.8 0a1.4 1.4 0 1 0-2.8 0M163.9 518.3a1.4 1.4 0 1 0 2.8 0a1.4 1.4 0 1 0-2.8 0M164.3 515.5a1.4 1.4 0 1 0 2.8 0a1.4 1.4 0 1 0-2.8 0M164.6 519.7a1.4 1.4 0 1 0 2.8 0a1.4 1.4 0 1 0-2.8 0M165.0 516.4a1.4 1.4 0 1 0 2.8 0a1.4 1.4 0 1 0-2.8 0M165.3 518.1a1.4 1.4 0 1 0 2.8 0a1.4 1.4 0 1 0-2.8 0M165.7 518.4a1.4 1.4 0 1 0 2.8 0a1.4 1.4 0 1 0-2.8 0M166.0 517.7a1.4 1.4 0 1 0 2.8 0a1.4 1.4 0 1 0-2.8 0M166.4 518.4a1.4 1.4 0 1 0 2.8 0a1.4 1.4 0 1 0-2.8 0M166.7 517.7a1.4 1.4 0 1 0 2.8 0a1.4 1.4 0 1 0-2.8 0M167.1 516.3a1.4 1.4 0 1 0 2.8 0a1.4 1.4 0 1 0-2.8 0M167.4 518.1a1.4 1.4 0 1 0 2.8 0a1.4 1.4 0 1 0-2.8 0M167.8 518.8a1.4 1.4 0 1 0 2.8 0a1.4 1.4 0 1 0-2.8 0M168.1 517.4a1.4 1.4 0 1 0 2.8 0a1.4 1.4 0 1 0-2.8 0M168.5 516.4a1.4 1.4 0 1 0 2.8 0a1.4 1.4 0 1 0-2.8 0M168.8 517.4a1.4 1.4 0 1 0 2.8 0a1.4 1.4 0 1 0-2.8 0M169.2 518.2a1.4 1.4 0 1 0 2.8 0a1.4 1.4 0 1 0-2.8 0M169.5 518.2a1.4 1.4 0 1 0 2.8 0a1.4 1.4 0 1 0-2.8 0M169.9 518.9a1.4 1.4 0 1 0 2.8 0a1.4 1.4 0 1 0-2.8 0M170.2 518.4a1.4 1.4 0 1 0 2.8 0a1.4 1.4 0 1 0-2.8 0M170.6 518.4a1.4 1.4 0 1 0 2.8 0a1.4 1.4 0 1 0-2.8 0M170.9 516.3a1.4 1.4 0 1 0 2.8 0a1.4 1.4 0 1 0-2.8 0M171.3 519.9a1.4 1.4 0 1 0 2.8 0a1.4 1.4 0 1 0-2.8 0M171.6 518.1a1.4 1.4 0 1 0 2.8 0a1.4 1.4 0 1 0-2.8 0M172.0 518.8a1.4 1.4 0 1 0 2.8 0a1.4 1.4 0 1 0-2.8 0M172.3 517.7a1.4 1.4 0 1 0 2.8 0a1.4 1.4 0 1 0-2.8 0M172.7 517.9a1.4 1.4 0 1 0 2.8 0a1.4 1.4 0 1 0-2.8 0M173.0 518.1a1.4 1.4 0 1 0 2.8 0a1.4 1.4 0 1 0-2.8 0M173.4 519.4a1.4 1.4 0 1 0 2.8 0a1.4 1.4 0 1 0-2.8 0M173.7 519.4a1.4 1.4 0 1 0 2.8 0a1.4 1.4 0 1 0-2.8 0M174.1 518.6a1.4 1.4 0 1 0 2.8 0a1.4 1.4 0 1 0-2.8 0M174.4 519.8a1.4 1.4 0 1 0 2.8 0a1.4 1.4 0 1 0-2.8 0M174.8 517.8a1.4 1.4 0 1 0 2.8 0a1.4 1.4 0 1 0-2.8 0M175.1 518.6a1.4 1.4 0 1 0 2.8 0a1.4 1.4 0 1 0-2.8 0M175.5 517.7a1.4 1.4 0 1 0 2.8 0a1.4 1.4 0 1 0-2.8 0M175.8 519.3a1.4 1.4 0 1 0 2.8 0a1.4 1.4 0 1 0-2.8 0M176.2 518.2a1.4 1.4 0 1 0 2.8 0a1.4 1.4 0 1 0-2.8 0M176.5 519.0a1.4 1.4 0 1 0 2.8 0a1.4 1.4 0 1 0-2.8 0M176.9 519.6a1.4 1.4 0 1 0 2.8 0a1.4 1.4 0 1 0-2.8 0M177.2 516.3a1.4 1.4 0 1 0 2.8 0a1.4 1.4 0 1 0-2.8 0M177.6 520.0a1.4 1.4 0 1 0 2.8 0a1.4 1.4 0 1 0-2.8 0M177.9 518.3a1.4 1.4 0 1 0 2.8 0a1.4 1.4 0 1 0-2.8 0M178.3 517.7a1.4 1.4 0 1 0 2.8 0a1.4 1.4 0 1 0-2.8 0M178.6 516.1a1.4 1.4 0 1 0 2.8 0a1.4 1.4 0 1 0-2.8 0M179.0 517.0a1.4 1.4 0 1 0 2.8 0a1.4 1.4 0 1 0-2.8 0M179.3 514.2a1.4 1.4 0 1 0 2.8 0a1.4 1.4 0 1 0-2.8 0M179.7 514.5a1.4 1.4 0 1 0 2.8 0a1.4 1.4 0 1 0-2.8 0M180.0 512.3a1.4 1.4 0 1 0 2.8 0a1.4 1.4 0 1 0-2.8 0M180.4 513.0a1.4 1.4 0 1 0 2.8 0a1.4 1.4 0 1 0-2.8 0M180.7 512.0a1.4 1.4 0 1 0 2.8 0a1.4 1.4 0 1 0-2.8 0M181.1 515.3a1.4 1.4 0 1 0 2.8 0a1.4 1.4 0 1 0-2.8 0M181.4 517.2a1.4 1.4 0 1 0 2.8 0a1.4 1.4 0 1 0-2.8 0M181.8 519.1a1.4 1.4 0 1 0 2.8 0a1.4 1.4 0 1 0-2.8 0M182.1 517.6a1.4 1.4 0 1 0 2.8 0a1.4 1.4 0 1 0-2.8 0M182.5 518.7a1.4 1.4 0 1 0 2.8 0a1.4 1.4 0 1 0-2.8 0M182.8 516.8a1.4 1.4 0 1 0 2.8 0a1.4 1.4 0 1 0-2.8 0M183.2 517.2a1.4 1.4 0 1 0 2.8 0a1.4 1.4 0 1 0-2.8 0M183.5 518.0a1.4 1.4 0 1 0 2.8 0a1.4 1.4 0 1 0-2.8 0M183.9 518.1a1.4 1.4 0 1 0 2.8 0a1.4 1.4 0 1 0-2.8 0M184.2 517.0a1.4 1.4 0 1 0 2.8 0a1.4 1.4 0 1 0-2.8 0M184.6 517.5a1.4 1.4 0 1 0 2.8 0a1.4 1.4 0 1 0-2.8 0M184.9 517.8a1.4 1.4 0 1 0 2.8 0a1.4 1.4 0 1 0-2.8 0M185.3 515.8a1.4 1.4 0 1 0 2.8 0a1.4 1.4 0 1 0-2.8 0M185.6 514.4a1.4 1.4 0 1 0 2.8 0a1.4 1.4 0 1 0-2.8 0M186.0 511.8a1.4 1.4 0 1 0 2.8 0a1.4 1.4 0 1 0-2.8 0M186.3 512.1a1.4 1.4 0 1 0 2.8 0a1.4 1.4 0 1 0-2.8 0M186.7 511.7a1.4 1.4 0 1 0 2.8 0a1.4 1.4 0 1 0-2.8 0M187.0 511.2a1.4 1.4 0 1 0 2.8 0a1.4 1.4 0 1 0-2.8 0M187.4 513.2a1.4 1.4 0 1 0 2.8 0a1.4 1.4 0 1 0-2.8 0M187.7 517.0a1.4 1.4 0 1 0 2.8 0a1.4 1.4 0 1 0-2.8 0M188.1 517.5a1.4 1.4 0 1 0 2.8 0a1.4 1.4 0 1 0-2.8 0M188.4 517.3a1.4 1.4 0 1 0 2.8 0a1.4 1.4 0 1 0-2.8 0M188.8 517.1a1.4 1.4 0 1 0 2.8 0a1.4 1.4 0 1 0-2.8 0M189.1 517.9a1.4 1.4 0 1 0 2.8 0a1.4 1.4 0 1 0-2.8 0M189.5 520.4a1.4 1.4 0 1 0 2.8 0a1.4 1.4 0 1 0-2.8 0M189.8 518.1a1.4 1.4 0 1 0 2.8 0a1.4 1.4 0 1 0-2.8 0M190.2 521.1a1.4 1.4 0 1 0 2.8 0a1.4 1.4 0 1 0-2.8 0M190.5 518.7a1.4 1.4 0 1 0 2.8 0a1.4 1.4 0 1 0-2.8 0M190.9 518.5a1.4 1.4 0 1 0 2.8 0a1.4 1.4 0 1 0-2.8 0M191.2 519.9a1.4 1.4 0 1 0 2.8 0a1.4 1.4 0 1 0-2.8 0M191.6 518.5a1.4 1.4 0 1 0 2.8 0a1.4 1.4 0 1 0-2.8 0M191.9 519.1a1.4 1.4 0 1 0 2.8 0a1.4 1.4 0 1 0-2.8 0M192.3 517.9a1.4 1.4 0 1 0 2.8 0a1.4 1.4 0 1 0-2.8 0M192.6 517.7a1.4 1.4 0 1 0 2.8 0a1.4 1.4 0 1 0-2.8 0M193.0 518.2a1.4 1.4 0 1 0 2.8 0a1.4 1.4 0 1 0-2.8 0M193.3 519.0a1.4 1.4 0 1 0 2.8 0a1.4 1.4 0 1 0-2.8 0M193.7 518.3a1.4 1.4 0 1 0 2.8 0a1.4 1.4 0 1 0-2.8 0M194.0 517.1a1.4 1.4 0 1 0 2.8 0a1.4 1.4 0 1 0-2.8 0M194.4 519.3a1.4 1.4 0 1 0 2.8 0a1.4 1.4 0 1 0-2.8 0M194.7 518.7a1.4 1.4 0 1 0 2.8 0a1.4 1.4 0 1 0-2.8 0M195.1 518.6a1.4 1.4 0 1 0 2.8 0a1.4 1.4 0 1 0-2.8 0M195.4 518.4a1.4 1.4 0 1 0 2.8 0a1.4 1.4 0 1 0-2.8 0M195.8 516.9a1.4 1.4 0 1 0 2.8 0a1.4 1.4 0 1 0-2.8 0M196.1 520.3a1.4 1.4 0 1 0 2.8 0a1.4 1.4 0 1 0-2.8 0M196.5 518.5a1.4 1.4 0 1 0 2.8 0a1.4 1.4 0 1 0-2.8 0M196.8 519.4a1.4 1.4 0 1 0 2.8 0a1.4 1.4 0 1 0-2.8 0M197.2 520.1a1.4 1.4 0 1 0 2.8 0a1.4 1.4 0 1 0-2.8 0M197.5 519.9a1.4 1.4 0 1 0 2.8 0a1.4 1.4 0 1 0-2.8 0M197.9 519.1a1.4 1.4 0 1 0 2.8 0a1.4 1.4 0 1 0-2.8 0M198.2 518.9a1.4 1.4 0 1 0 2.8 0a1.4 1.4 0 1 0-2.8 0M198.6 519.2a1.4 1.4 0 1 0 2.8 0a1.4 1.4 0 1 0-2.8 0M198.9 519.7a1.4 1.4 0 1 0 2.8 0a1.4 1.4 0 1 0-2.8 0M199.3 519.4a1.4 1.4 0 1 0 2.8 0a1.4 1.4 0 1 0-2.8 0M199.6 518.5a1.4 1.4 0 1 0 2.8 0a1.4 1.4 0 1 0-2.8 0M200.0 519.3a1.4 1.4 0 1 0 2.8 0a1.4 1.4 0 1 0-2.8 0M200.3 519.2a1.4 1.4 0 1 0 2.8 0a1.4 1.4 0 1 0-2.8 0M200.7 519.4a1.4 1.4 0 1 0 2.8 0a1.4 1.4 0 1 0-2.8 0M201.0 518.9a1.4 1.4 0 1 0 2.8 0a1.4 1.4 0 1 0-2.8 0M201.4 519.8a1.4 1.4 0 1 0 2.8 0a1.4 1.4 0 1 0-2.8 0M201.7 518.3a1.4 1.4 0 1 0 2.8 0a1.4 1.4 0 1 0-2.8 0M202.1 517.9a1.4 1.4 0 1 0 2.8 0a1.4 1.4 0 1 0-2.8 0M202.4 515.6a1.4 1.4 0 1 0 2.8 0a1.4 1.4 0 1 0-2.8 0M202.8 513.4a1.4 1.4 0 1 0 2.8 0a1.4 1.4 0 1 0-2.8 0M203.1 512.3a1.4 1.4 0 1 0 2.8 0a1.4 1.4 0 1 0-2.8 0M203.5 513.9a1.4 1.4 0 1 0 2.8 0a1.4 1.4 0 1 0-2.8 0M203.8 516.3a1.4 1.4 0 1 0 2.8 0a1.4 1.4 0 1 0-2.8 0M204.2 518.4a1.4 1.4 0 1 0 2.8 0a1.4 1.4 0 1 0-2.8 0M204.5 518.1a1.4 1.4 0 1 0 2.8 0a1.4 1.4 0 1 0-2.8 0M204.9 518.2a1.4 1.4 0 1 0 2.8 0a1.4 1.4 0 1 0-2.8 0M205.2 518.4a1.4 1.4 0 1 0 2.8 0a1.4 1.4 0 1 0-2.8 0M205.6 520.0a1.4 1.4 0 1 0 2.8 0a1.4 1.4 0 1 0-2.8 0M205.9 519.0a1.4 1.4 0 1 0 2.8 0a1.4 1.4 0 1 0-2.8 0M206.3 518.4a1.4 1.4 0 1 0 2.8 0a1.4 1.4 0 1 0-2.8 0M206.6 519.5a1.4 1.4 0 1 0 2.8 0a1.4 1.4 0 1 0-2.8 0M207.0 517.5a1.4 1.4 0 1 0 2.8 0a1.4 1.4 0 1 0-2.8 0M207.3 518.3a1.4 1.4 0 1 0 2.8 0a1.4 1.4 0 1 0-2.8 0M207.7 517.3a1.4 1.4 0 1 0 2.8 0a1.4 1.4 0 1 0-2.8 0M208.0 515.6a1.4 1.4 0 1 0 2.8 0a1.4 1.4 0 1 0-2.8 0M208.4 513.0a1.4 1.4 0 1 0 2.8 0a1.4 1.4 0 1 0-2.8 0M208.7 514.1a1.4 1.4 0 1 0 2.8 0a1.4 1.4 0 1 0-2.8 0M209.1 515.6a1.4 1.4 0 1 0 2.8 0a1.4 1.4 0 1 0-2.8 0M209.4 514.7a1.4 1.4 0 1 0 2.8 0a1.4 1.4 0 1 0-2.8 0M209.8 517.5a1.4 1.4 0 1 0 2.8 0a1.4 1.4 0 1 0-2.8 0M210.1 518.9a1.4 1.4 0 1 0 2.8 0a1.4 1.4 0 1 0-2.8 0M210.5 520.8a1.4 1.4 0 1 0 2.8 0a1.4 1.4 0 1 0-2.8 0M210.8 518.7a1.4 1.4 0 1 0 2.8 0a1.4 1.4 0 1 0-2.8 0M211.2 518.3a1.4 1.4 0 1 0 2.8 0a1.4 1.4 0 1 0-2.8 0M211.5 519.2a1.4 1.4 0 1 0 2.8 0a1.4 1.4 0 1 0-2.8 0M211.9 521.0a1.4 1.4 0 1 0 2.8 0a1.4 1.4 0 1 0-2.8 0M212.2 519.3a1.4 1.4 0 1 0 2.8 0a1.4 1.4 0 1 0-2.8 0M212.6 519.5a1.4 1.4 0 1 0 2.8 0a1.4 1.4 0 1 0-2.8 0M212.9 520.8a1.4 1.4 0 1 0 2.8 0a1.4 1.4 0 1 0-2.8 0M213.3 517.4a1.4 1.4 0 1 0 2.8 0a1.4 1.4 0 1 0-2.8 0M213.6 517.4a1.4 1.4 0 1 0 2.8 0a1.4 1.4 0 1 0-2.8 0M214.0 520.1a1.4 1.4 0 1 0 2.8 0a1.4 1.4 0 1 0-2.8 0M214.3 520.0a1.4 1.4 0 1 0 2.8 0a1.4 1.4 0 1 0-2.8 0M214.7 518.2a1.4 1.4 0 1 0 2.8 0a1.4 1.4 0 1 0-2.8 0M215.0 519.8a1.4 1.4 0 1 0 2.8 0a1.4 1.4 0 1 0-2.8 0M215.4 519.4a1.4 1.4 0 1 0 2.8 0a1.4 1.4 0 1 0-2.8 0M215.7 519.6a1.4 1.4 0 1 0 2.8 0a1.4 1.4 0 1 0-2.8 0M216.1 518.7a1.4 1.4 0 1 0 2.8 0a1.4 1.4 0 1 0-2.8 0M216.4 519.0a1.4 1.4 0 1 0 2.8 0a1.4 1.4 0 1 0-2.8 0M216.8 518.7a1.4 1.4 0 1 0 2.8 0a1.4 1.4 0 1 0-2.8 0M217.1 519.5a1.4 1.4 0 1 0 2.8 0a1.4 1.4 0 1 0-2.8 0M217.5 519.2a1.4 1.4 0 1 0 2.8 0a1.4 1.4 0 1 0-2.8 0M217.8 520.9a1.4 1.4 0 1 0 2.8 0a1.4 1.4 0 1 0-2.8 0M218.2 520.0a1.4 1.4 0 1 0 2.8 0a1.4 1.4 0 1 0-2.8 0M218.5 518.1a1.4 1.4 0 1 0 2.8 0a1.4 1.4 0 1 0-2.8 0M218.9 519.8a1.4 1.4 0 1 0 2.8 0a1.4 1.4 0 1 0-2.8 0M219.2 520.7a1.4 1.4 0 1 0 2.8 0a1.4 1.4 0 1 0-2.8 0M219.6 519.7a1.4 1.4 0 1 0 2.8 0a1.4 1.4 0 1 0-2.8 0M219.9 520.5a1.4 1.4 0 1 0 2.8 0a1.4 1.4 0 1 0-2.8 0M220.3 519.5a1.4 1.4 0 1 0 2.8 0a1.4 1.4 0 1 0-2.8 0M220.6 520.1a1.4 1.4 0 1 0 2.8 0a1.4 1.4 0 1 0-2.8 0M221.0 518.7a1.4 1.4 0 1 0 2.8 0a1.4 1.4 0 1 0-2.8 0M221.3 520.2a1.4 1.4 0 1 0 2.8 0a1.4 1.4 0 1 0-2.8 0M221.7 518.4a1.4 1.4 0 1 0 2.8 0a1.4 1.4 0 1 0-2.8 0M222.0 520.7a1.4 1.4 0 1 0 2.8 0a1.4 1.4 0 1 0-2.8 0M222.4 518.3a1.4 1.4 0 1 0 2.8 0a1.4 1.4 0 1 0-2.8 0M222.7 517.7a1.4 1.4 0 1 0 2.8 0a1.4 1.4 0 1 0-2.8 0M223.1 520.1a1.4 1.4 0 1 0 2.8 0a1.4 1.4 0 1 0-2.8 0M223.4 519.4a1.4 1.4 0 1 0 2.8 0a1.4 1.4 0 1 0-2.8 0M223.8 519.7a1.4 1.4 0 1 0 2.8 0a1.4 1.4 0 1 0-2.8 0M224.1 520.0a1.4 1.4 0 1 0 2.8 0a1.4 1.4 0 1 0-2.8 0M224.5 519.6a1.4 1.4 0 1 0 2.8 0a1.4 1.4 0 1 0-2.8 0M224.8 518.9a1.4 1.4 0 1 0 2.8 0a1.4 1.4 0 1 0-2.8 0M225.2 519.8a1.4 1.4 0 1 0 2.8 0a1.4 1.4 0 1 0-2.8 0M225.5 519.9a1.4 1.4 0 1 0 2.8 0a1.4 1.4 0 1 0-2.8 0M225.9 520.1a1.4 1.4 0 1 0 2.8 0a1.4 1.4 0 1 0-2.8 0M226.2 521.4a1.4 1.4 0 1 0 2.8 0a1.4 1.4 0 1 0-2.8 0M226.6 519.0a1.4 1.4 0 1 0 2.8 0a1.4 1.4 0 1 0-2.8 0M226.9 519.7a1.4 1.4 0 1 0 2.8 0a1.4 1.4 0 1 0-2.8 0M227.3 520.2a1.4 1.4 0 1 0 2.8 0a1.4 1.4 0 1 0-2.8 0M227.6 519.3a1.4 1.4 0 1 0 2.8 0a1.4 1.4 0 1 0-2.8 0M228.0 518.7a1.4 1.4 0 1 0 2.8 0a1.4 1.4 0 1 0-2.8 0M228.3 519.2a1.4 1.4 0 1 0 2.8 0a1.4 1.4 0 1 0-2.8 0M228.7 520.6a1.4 1.4 0 1 0 2.8 0a1.4 1.4 0 1 0-2.8 0M229.0 519.5a1.4 1.4 0 1 0 2.8 0a1.4 1.4 0 1 0-2.8 0M229.4 520.3a1.4 1.4 0 1 0 2.8 0a1.4 1.4 0 1 0-2.8 0M229.7 519.1a1.4 1.4 0 1 0 2.8 0a1.4 1.4 0 1 0-2.8 0M230.1 520.1a1.4 1.4 0 1 0 2.8 0a1.4 1.4 0 1 0-2.8 0M230.4 519.2a1.4 1.4 0 1 0 2.8 0a1.4 1.4 0 1 0-2.8 0M230.8 519.0a1.4 1.4 0 1 0 2.8 0a1.4 1.4 0 1 0-2.8 0M231.1 519.9a1.4 1.4 0 1 0 2.8 0a1.4 1.4 0 1 0-2.8 0M231.5 519.8a1.4 1.4 0 1 0 2.8 0a1.4 1.4 0 1 0-2.8 0M231.8 521.0a1.4 1.4 0 1 0 2.8 0a1.4 1.4 0 1 0-2.8 0M232.2 518.4a1.4 1.4 0 1 0 2.8 0a1.4 1.4 0 1 0-2.8 0M232.5 520.2a1.4 1.4 0 1 0 2.8 0a1.4 1.4 0 1 0-2.8 0M232.9 521.2a1.4 1.4 0 1 0 2.8 0a1.4 1.4 0 1 0-2.8 0M233.2 521.0a1.4 1.4 0 1 0 2.8 0a1.4 1.4 0 1 0-2.8 0M233.6 519.5a1.4 1.4 0 1 0 2.8 0a1.4 1.4 0 1 0-2.8 0M233.9 519.2a1.4 1.4 0 1 0 2.8 0a1.4 1.4 0 1 0-2.8 0M234.3 519.4a1.4 1.4 0 1 0 2.8 0a1.4 1.4 0 1 0-2.8 0M234.6 520.1a1.4 1.4 0 1 0 2.8 0a1.4 1.4 0 1 0-2.8 0M235.0 520.0a1.4 1.4 0 1 0 2.8 0a1.4 1.4 0 1 0-2.8 0M235.3 520.1a1.4 1.4 0 1 0 2.8 0a1.4 1.4 0 1 0-2.8 0M235.7 520.3a1.4 1.4 0 1 0 2.8 0a1.4 1.4 0 1 0-2.8 0M236.0 518.9a1.4 1.4 0 1 0 2.8 0a1.4 1.4 0 1 0-2.8 0M236.4 518.8a1.4 1.4 0 1 0 2.8 0a1.4 1.4 0 1 0-2.8 0M236.7 518.7a1.4 1.4 0 1 0 2.8 0a1.4 1.4 0 1 0-2.8 0M237.1 518.6a1.4 1.4 0 1 0 2.8 0a1.4 1.4 0 1 0-2.8 0M237.4 519.7a1.4 1.4 0 1 0 2.8 0a1.4 1.4 0 1 0-2.8 0M237.8 520.0a1.4 1.4 0 1 0 2.8 0a1.4 1.4 0 1 0-2.8 0M238.1 521.9a1.4 1.4 0 1 0 2.8 0a1.4 1.4 0 1 0-2.8 0M238.5 520.2a1.4 1.4 0 1 0 2.8 0a1.4 1.4 0 1 0-2.8 0M238.8 519.7a1.4 1.4 0 1 0 2.8 0a1.4 1.4 0 1 0-2.8 0M239.2 520.8a1.4 1.4 0 1 0 2.8 0a1.4 1.4 0 1 0-2.8 0M239.5 518.9a1.4 1.4 0 1 0 2.8 0a1.4 1.4 0 1 0-2.8 0M239.9 519.7a1.4 1.4 0 1 0 2.8 0a1.4 1.4 0 1 0-2.8 0M240.2 520.2a1.4 1.4 0 1 0 2.8 0a1.4 1.4 0 1 0-2.8 0M240.6 519.9a1.4 1.4 0 1 0 2.8 0a1.4 1.4 0 1 0-2.8 0M240.9 519.3a1.4 1.4 0 1 0 2.8 0a1.4 1.4 0 1 0-2.8 0M241.3 518.1a1.4 1.4 0 1 0 2.8 0a1.4 1.4 0 1 0-2.8 0M241.6 516.2a1.4 1.4 0 1 0 2.8 0a1.4 1.4 0 1 0-2.8 0M242.0 514.2a1.4 1.4 0 1 0 2.8 0a1.4 1.4 0 1 0-2.8 0M242.3 507.3a1.4 1.4 0 1 0 2.8 0a1.4 1.4 0 1 0-2.8 0M242.7 498.2a1.4 1.4 0 1 0 2.8 0a1.4 1.4 0 1 0-2.8 0M243.0 487.8a1.4 1.4 0 1 0 2.8 0a1.4 1.4 0 1 0-2.8 0M243.4 487.7a1.4 1.4 0 1 0 2.8 0a1.4 1.4 0 1 0-2.8 0M243.7 495.0a1.4 1.4 0 1 0 2.8 0a1.4 1.4 0 1 0-2.8 0M244.1 507.8a1.4 1.4 0 1 0 2.8 0a1.4 1.4 0 1 0-2.8 0M244.4 513.0a1.4 1.4 0 1 0 2.8 0a1.4 1.4 0 1 0-2.8 0M244.8 515.7a1.4 1.4 0 1 0 2.8 0a1.4 1.4 0 1 0-2.8 0M245.1 517.1a1.4 1.4 0 1 0 2.8 0a1.4 1.4 0 1 0-2.8 0M245.5 518.2a1.4 1.4 0 1 0 2.8 0a1.4 1.4 0 1 0-2.8 0M245.8 520.0a1.4 1.4 0 1 0 2.8 0a1.4 1.4 0 1 0-2.8 0M246.2 519.7a1.4 1.4 0 1 0 2.8 0a1.4 1.4 0 1 0-2.8 0M246.5 518.1a1.4 1.4 0 1 0 2.8 0a1.4 1.4 0 1 0-2.8 0M246.9 519.1a1.4 1.4 0 1 0 2.8 0a1.4 1.4 0 1 0-2.8 0M247.2 518.5a1.4 1.4 0 1 0 2.8 0a1.4 1.4 0 1 0-2.8 0M247.6 516.3a1.4 1.4 0 1 0 2.8 0a1.4 1.4 0 1 0-2.8 0M247.9 514.6a1.4 1.4 0 1 0 2.8 0a1.4 1.4 0 1 0-2.8 0M248.3 509.5a1.4 1.4 0 1 0 2.8 0a1.4 1.4 0 1 0-2.8 0M248.6 505.0a1.4 1.4 0 1 0 2.8 0a1.4 1.4 0 1 0-2.8 0M249.0 499.2a1.4 1.4 0 1 0 2.8 0a1.4 1.4 0 1 0-2.8 0M249.3 501.5a1.4 1.4 0 1 0 2.8 0a1.4 1.4 0 1 0-2.8 0M249.7 506.4a1.4 1.4 0 1 0 2.8 0a1.4 1.4 0 1 0-2.8 0M250.0 511.9a1.4 1.4 0 1 0 2.8 0a1.4 1.4 0 1 0-2.8 0M250.4 515.6a1.4 1.4 0 1 0 2.8 0a1.4 1.4 0 1 0-2.8 0M250.7 519.3a1.4 1.4 0 1 0 2.8 0a1.4 1.4 0 1 0-2.8 0M251.1 518.8a1.4 1.4 0 1 0 2.8 0a1.4 1.4 0 1 0-2.8 0M251.4 519.7a1.4 1.4 0 1 0 2.8 0a1.4 1.4 0 1 0-2.8 0M251.8 520.4a1.4 1.4 0 1 0 2.8 0a1.4 1.4 0 1 0-2.8 0M252.1 520.6a1.4 1.4 0 1 0 2.8 0a1.4 1.4 0 1 0-2.8 0M252.5 520.5a1.4 1.4 0 1 0 2.8 0a1.4 1.4 0 1 0-2.8 0M252.8 519.5a1.4 1.4 0 1 0 2.8 0a1.4 1.4 0 1 0-2.8 0M253.2 519.1a1.4 1.4 0 1 0 2.8 0a1.4 1.4 0 1 0-2.8 0M253.5 519.4a1.4 1.4 0 1 0 2.8 0a1.4 1.4 0 1 0-2.8 0M253.9 519.7a1.4 1.4 0 1 0 2.8 0a1.4 1.4 0 1 0-2.8 0M254.2 520.2a1.4 1.4 0 1 0 2.8 0a1.4 1.4 0 1 0-2.8 0M254.6 520.1a1.4 1.4 0 1 0 2.8 0a1.4 1.4 0 1 0-2.8 0M254.9 521.2a1.4 1.4 0 1 0 2.8 0a1.4 1.4 0 1 0-2.8 0M255.3 520.1a1.4 1.4 0 1 0 2.8 0a1.4 1.4 0 1 0-2.8 0M255.6 521.8a1.4 1.4 0 1 0 2.8 0a1.4 1.4 0 1 0-2.8 0M256.0 521.2a1.4 1.4 0 1 0 2.8 0a1.4 1.4 0 1 0-2.8 0M256.3 519.9a1.4 1.4 0 1 0 2.8 0a1.4 1.4 0 1 0-2.8 0M256.7 521.1a1.4 1.4 0 1 0 2.8 0a1.4 1.4 0 1 0-2.8 0M257.0 517.8a1.4 1.4 0 1 0 2.8 0a1.4 1.4 0 1 0-2.8 0M257.4 521.5a1.4 1.4 0 1 0 2.8 0a1.4 1.4 0 1 0-2.8 0M257.7 520.7a1.4 1.4 0 1 0 2.8 0a1.4 1.4 0 1 0-2.8 0M258.1 520.7a1.4 1.4 0 1 0 2.8 0a1.4 1.4 0 1 0-2.8 0M258.4 518.9a1.4 1.4 0 1 0 2.8 0a1.4 1.4 0 1 0-2.8 0M258.8 522.6a1.4 1.4 0 1 0 2.8 0a1.4 1.4 0 1 0-2.8 0M259.1 520.2a1.4 1.4 0 1 0 2.8 0a1.4 1.4 0 1 0-2.8 0M259.5 520.3a1.4 1.4 0 1 0 2.8 0a1.4 1.4 0 1 0-2.8 0M259.8 521.4a1.4 1.4 0 1 0 2.8 0a1.4 1.4 0 1 0-2.8 0M260.2 520.3a1.4 1.4 0 1 0 2.8 0a1.4 1.4 0 1 0-2.8 0M260.5 519.7a1.4 1.4 0 1 0 2.8 0a1.4 1.4 0 1 0-2.8 0M260.9 521.0a1.4 1.4 0 1 0 2.8 0a1.4 1.4 0 1 0-2.8 0M261.2 519.6a1.4 1.4 0 1 0 2.8 0a1.4 1.4 0 1 0-2.8 0M261.6 521.1a1.4 1.4 0 1 0 2.8 0a1.4 1.4 0 1 0-2.8 0M261.9 520.6a1.4 1.4 0 1 0 2.8 0a1.4 1.4 0 1 0-2.8 0M262.3 521.4a1.4 1.4 0 1 0 2.8 0a1.4 1.4 0 1 0-2.8 0M262.6 519.4a1.4 1.4 0 1 0 2.8 0a1.4 1.4 0 1 0-2.8 0M263.0 521.5a1.4 1.4 0 1 0 2.8 0a1.4 1.4 0 1 0-2.8 0M263.3 520.7a1.4 1.4 0 1 0 2.8 0a1.4 1.4 0 1 0-2.8 0M263.7 522.1a1.4 1.4 0 1 0 2.8 0a1.4 1.4 0 1 0-2.8 0M264.0 519.8a1.4 1.4 0 1 0 2.8 0a1.4 1.4 0 1 0-2.8 0M264.4 522.0a1.4 1.4 0 1 0 2.8 0a1.4 1.4 0 1 0-2.8 0M264.7 521.0a1.4 1.4 0 1 0 2.8 0a1.4 1.4 0 1 0-2.8 0M265.1 521.0a1.4 1.4 0 1 0 2.8 0a1.4 1.4 0 1 0-2.8 0M265.4 519.5a1.4 1.4 0 1 0 2.8 0a1.4 1.4 0 1 0-2.8 0M265.8 520.4a1.4 1.4 0 1 0 2.8 0a1.4 1.4 0 1 0-2.8 0M266.1 520.0a1.4 1.4 0 1 0 2.8 0a1.4 1.4 0 1 0-2.8 0M266.5 517.8a1.4 1.4 0 1 0 2.8 0a1.4 1.4 0 1 0-2.8 0M266.8 516.2a1.4 1.4 0 1 0 2.8 0a1.4 1.4 0 1 0-2.8 0M267.2 514.6a1.4 1.4 0 1 0 2.8 0a1.4 1.4 0 1 0-2.8 0M267.5 514.8a1.4 1.4 0 1 0 2.8 0a1.4 1.4 0 1 0-2.8 0M267.9 512.8a1.4 1.4 0 1 0 2.8 0a1.4 1.4 0 1 0-2.8 0M268.2 514.1a1.4 1.4 0 1 0 2.8 0a1.4 1.4 0 1 0-2.8 0M268.6 515.3a1.4 1.4 0 1 0 2.8 0a1.4 1.4 0 1 0-2.8 0M268.9 517.0a1.4 1.4 0 1 0 2.8 0a1.4 1.4 0 1 0-2.8 0M269.3 518.6a1.4 1.4 0 1 0 2.8 0a1.4 1.4 0 1 0-2.8 0M269.6 519.1a1.4 1.4 0 1 0 2.8 0a1.4 1.4 0 1 0-2.8 0M270.0 521.0a1.4 1.4 0 1 0 2.8 0a1.4 1.4 0 1 0-2.8 0M270.3 520.4a1.4 1.4 0 1 0 2.8 0a1.4 1.4 0 1 0-2.8 0M270.7 520.6a1.4 1.4 0 1 0 2.8 0a1.4 1.4 0 1 0-2.8 0M271.0 519.3a1.4 1.4 0 1 0 2.8 0a1.4 1.4 0 1 0-2.8 0M271.4 520.8a1.4 1.4 0 1 0 2.8 0a1.4 1.4 0 1 0-2.8 0M271.7 520.0a1.4 1.4 0 1 0 2.8 0a1.4 1.4 0 1 0-2.8 0M272.1 520.2a1.4 1.4 0 1 0 2.8 0a1.4 1.4 0 1 0-2.8 0M272.4 521.5a1.4 1.4 0 1 0 2.8 0a1.4 1.4 0 1 0-2.8 0M272.8 519.7a1.4 1.4 0 1 0 2.8 0a1.4 1.4 0 1 0-2.8 0M273.1 520.5a1.4 1.4 0 1 0 2.8 0a1.4 1.4 0 1 0-2.8 0M273.5 521.2a1.4 1.4 0 1 0 2.8 0a1.4 1.4 0 1 0-2.8 0M273.8 521.7a1.4 1.4 0 1 0 2.8 0a1.4 1.4 0 1 0-2.8 0M274.2 520.2a1.4 1.4 0 1 0 2.8 0a1.4 1.4 0 1 0-2.8 0M274.5 520.9a1.4 1.4 0 1 0 2.8 0a1.4 1.4 0 1 0-2.8 0M274.9 520.9a1.4 1.4 0 1 0 2.8 0a1.4 1.4 0 1 0-2.8 0M275.2 519.6a1.4 1.4 0 1 0 2.8 0a1.4 1.4 0 1 0-2.8 0M275.6 518.7a1.4 1.4 0 1 0 2.8 0a1.4 1.4 0 1 0-2.8 0M275.9 518.9a1.4 1.4 0 1 0 2.8 0a1.4 1.4 0 1 0-2.8 0M276.3 521.0a1.4 1.4 0 1 0 2.8 0a1.4 1.4 0 1 0-2.8 0M276.6 520.5a1.4 1.4 0 1 0 2.8 0a1.4 1.4 0 1 0-2.8 0M277.0 519.0a1.4 1.4 0 1 0 2.8 0a1.4 1.4 0 1 0-2.8 0M277.3 519.2a1.4 1.4 0 1 0 2.8 0a1.4 1.4 0 1 0-2.8 0M277.7 518.4a1.4 1.4 0 1 0 2.8 0a1.4 1.4 0 1 0-2.8 0M278.0 516.1a1.4 1.4 0 1 0 2.8 0a1.4 1.4 0 1 0-2.8 0M278.4 512.5a1.4 1.4 0 1 0 2.8 0a1.4 1.4 0 1 0-2.8 0M278.7 509.7a1.4 1.4 0 1 0 2.8 0a1.4 1.4 0 1 0-2.8 0M279.1 504.3a1.4 1.4 0 1 0 2.8 0a1.4 1.4 0 1 0-2.8 0M279.4 506.9a1.4 1.4 0 1 0 2.8 0a1.4 1.4 0 1 0-2.8 0M279.8 510.6a1.4 1.4 0 1 0 2.8 0a1.4 1.4 0 1 0-2.8 0M280.1 515.0a1.4 1.4 0 1 0 2.8 0a1.4 1.4 0 1 0-2.8 0M280.5 517.5a1.4 1.4 0 1 0 2.8 0a1.4 1.4 0 1 0-2.8 0M280.8 519.5a1.4 1.4 0 1 0 2.8 0a1.4 1.4 0 1 0-2.8 0M281.2 519.8a1.4 1.4 0 1 0 2.8 0a1.4 1.4 0 1 0-2.8 0M281.5 520.8a1.4 1.4 0 1 0 2.8 0a1.4 1.4 0 1 0-2.8 0M281.9 520.8a1.4 1.4 0 1 0 2.8 0a1.4 1.4 0 1 0-2.8 0M282.2 519.9a1.4 1.4 0 1 0 2.8 0a1.4 1.4 0 1 0-2.8 0M282.6 522.5a1.4 1.4 0 1 0 2.8 0a1.4 1.4 0 1 0-2.8 0M282.9 519.8a1.4 1.4 0 1 0 2.8 0a1.4 1.4 0 1 0-2.8 0M283.3 521.2a1.4 1.4 0 1 0 2.8 0a1.4 1.4 0 1 0-2.8 0M283.6 522.8a1.4 1.4 0 1 0 2.8 0a1.4 1.4 0 1 0-2.8 0M284.0 520.3a1.4 1.4 0 1 0 2.8 0a1.4 1.4 0 1 0-2.8 0M284.3 522.1a1.4 1.4 0 1 0 2.8 0a1.4 1.4 0 1 0-2.8 0M284.7 522.2a1.4 1.4 0 1 0 2.8 0a1.4 1.4 0 1 0-2.8 0M285.0 521.3a1.4 1.4 0 1 0 2.8 0a1.4 1.4 0 1 0-2.8 0M285.4 519.4a1.4 1.4 0 1 0 2.8 0a1.4 1.4 0 1 0-2.8 0M285.7 522.3a1.4 1.4 0 1 0 2.8 0a1.4 1.4 0 1 0-2.8 0M286.1 521.2a1.4 1.4 0 1 0 2.8 0a1.4 1.4 0 1 0-2.8 0M286.4 520.6a1.4 1.4 0 1 0 2.8 0a1.4 1.4 0 1 0-2.8 0M286.8 522.2a1.4 1.4 0 1 0 2.8 0a1.4 1.4 0 1 0-2.8 0M287.1 520.5a1.4 1.4 0 1 0 2.8 0a1.4 1.4 0 1 0-2.8 0M287.5 522.1a1.4 1.4 0 1 0 2.8 0a1.4 1.4 0 1 0-2.8 0M287.8 520.7a1.4 1.4 0 1 0 2.8 0a1.4 1.4 0 1 0-2.8 0M288.2 521.6a1.4 1.4 0 1 0 2.8 0a1.4 1.4 0 1 0-2.8 0M288.5 520.2a1.4 1.4 0 1 0 2.8 0a1.4 1.4 0 1 0-2.8 0M288.9 520.8a1.4 1.4 0 1 0 2.8 0a1.4 1.4 0 1 0-2.8 0M289.2 520.4a1.4 1.4 0 1 0 2.8 0a1.4 1.4 0 1 0-2.8 0M289.6 520.6a1.4 1.4 0 1 0 2.8 0a1.4 1.4 0 1 0-2.8 0M289.9 521.4a1.4 1.4 0 1 0 2.8 0a1.4 1.4 0 1 0-2.8 0M290.3 521.1a1.4 1.4 0 1 0 2.8 0a1.4 1.4 0 1 0-2.8 0M290.6 521.4a1.4 1.4 0 1 0 2.8 0a1.4 1.4 0 1 0-2.8 0M291.0 522.4a1.4 1.4 0 1 0 2.8 0a1.4 1.4 0 1 0-2.8 0M291.3 521.2a1.4 1.4 0 1 0 2.8 0a1.4 1.4 0 1 0-2.8 0M291.7 519.7a1.4 1.4 0 1 0 2.8 0a1.4 1.4 0 1 0-2.8 0M292.0 521.0a1.4 1.4 0 1 0 2.8 0a1.4 1.4 0 1 0-2.8 0M292.4 521.4a1.4 1.4 0 1 0 2.8 0a1.4 1.4 0 1 0-2.8 0M292.7 522.2a1.4 1.4 0 1 0 2.8 0a1.4 1.4 0 1 0-2.8 0M293.1 522.2a1.4 1.4 0 1 0 2.8 0a1.4 1.4 0 1 0-2.8 0M293.4 522.1a1.4 1.4 0 1 0 2.8 0a1.4 1.4 0 1 0-2.8 0M293.8 521.1a1.4 1.4 0 1 0 2.8 0a1.4 1.4 0 1 0-2.8 0M294.1 521.9a1.4 1.4 0 1 0 2.8 0a1.4 1.4 0 1 0-2.8 0M294.5 520.1a1.4 1.4 0 1 0 2.8 0a1.4 1.4 0 1 0-2.8 0M294.8 522.5a1.4 1.4 0 1 0 2.8 0a1.4 1.4 0 1 0-2.8 0M295.2 521.7a1.4 1.4 0 1 0 2.8 0a1.4 1.4 0 1 0-2.8 0M295.5 521.8a1.4 1.4 0 1 0 2.8 0a1.4 1.4 0 1 0-2.8 0M295.9 521.1a1.4 1.4 0 1 0 2.8 0a1.4 1.4 0 1 0-2.8 0M296.2 521.4a1.4 1.4 0 1 0 2.8 0a1.4 1.4 0 1 0-2.8 0M296.6 520.8a1.4 1.4 0 1 0 2.8 0a1.4 1.4 0 1 0-2.8 0M296.9 521.9a1.4 1.4 0 1 0 2.8 0a1.4 1.4 0 1 0-2.8 0M297.3 520.3a1.4 1.4 0 1 0 2.8 0a1.4 1.4 0 1 0-2.8 0M297.6 522.3a1.4 1.4 0 1 0 2.8 0a1.4 1.4 0 1 0-2.8 0M298.0 521.9a1.4 1.4 0 1 0 2.8 0a1.4 1.4 0 1 0-2.8 0M298.3 523.2a1.4 1.4 0 1 0 2.8 0a1.4 1.4 0 1 0-2.8 0M298.7 521.4a1.4 1.4 0 1 0 2.8 0a1.4 1.4 0 1 0-2.8 0M299.0 521.4a1.4 1.4 0 1 0 2.8 0a1.4 1.4 0 1 0-2.8 0M299.4 521.6a1.4 1.4 0 1 0 2.8 0a1.4 1.4 0 1 0-2.8 0M299.7 521.5a1.4 1.4 0 1 0 2.8 0a1.4 1.4 0 1 0-2.8 0M300.1 521.4a1.4 1.4 0 1 0 2.8 0a1.4 1.4 0 1 0-2.8 0M300.4 520.5a1.4 1.4 0 1 0 2.8 0a1.4 1.4 0 1 0-2.8 0M300.8 520.5a1.4 1.4 0 1 0 2.8 0a1.4 1.4 0 1 0-2.8 0M301.1 521.0a1.4 1.4 0 1 0 2.8 0a1.4 1.4 0 1 0-2.8 0M301.5 521.3a1.4 1.4 0 1 0 2.8 0a1.4 1.4 0 1 0-2.8 0M301.8 520.5a1.4 1.4 0 1 0 2.8 0a1.4 1.4 0 1 0-2.8 0M302.2 520.5a1.4 1.4 0 1 0 2.8 0a1.4 1.4 0 1 0-2.8 0M302.5 521.3a1.4 1.4 0 1 0 2.8 0a1.4 1.4 0 1 0-2.8 0M302.9 522.2a1.4 1.4 0 1 0 2.8 0a1.4 1.4 0 1 0-2.8 0M303.2 521.4a1.4 1.4 0 1 0 2.8 0a1.4 1.4 0 1 0-2.8 0M303.6 522.2a1.4 1.4 0 1 0 2.8 0a1.4 1.4 0 1 0-2.8 0M303.9 522.4a1.4 1.4 0 1 0 2.8 0a1.4 1.4 0 1 0-2.8 0M304.3 522.2a1.4 1.4 0 1 0 2.8 0a1.4 1.4 0 1 0-2.8 0M304.6 521.2a1.4 1.4 0 1 0 2.8 0a1.4 1.4 0 1 0-2.8 0M305.0 521.2a1.4 1.4 0 1 0 2.8 0a1.4 1.4 0 1 0-2.8 0M305.3 520.0a1.4 1.4 0 1 0 2.8 0a1.4 1.4 0 1 0-2.8 0M305.7 521.0a1.4 1.4 0 1 0 2.8 0a1.4 1.4 0 1 0-2.8 0M306.0 522.0a1.4 1.4 0 1 0 2.8 0a1.4 1.4 0 1 0-2.8 0M306.4 520.7a1.4 1.4 0 1 0 2.8 0a1.4 1.4 0 1 0-2.8 0M306.7 522.8a1.4 1.4 0 1 0 2.8 0a1.4 1.4 0 1 0-2.8 0M307.1 522.9a1.4 1.4 0 1 0 2.8 0a1.4 1.4 0 1 0-2.8 0M307.4 521.3a1.4 1.4 0 1 0 2.8 0a1.4 1.4 0 1 0-2.8 0M307.8 522.4a1.4 1.4 0 1 0 2.8 0a1.4 1.4 0 1 0-2.8 0M308.1 520.4a1.4 1.4 0 1 0 2.8 0a1.4 1.4 0 1 0-2.8 0M308.5 520.7a1.4 1.4 0 1 0 2.8 0a1.4 1.4 0 1 0-2.8 0M308.8 521.3a1.4 1.4 0 1 0 2.8 0a1.4 1.4 0 1 0-2.8 0M309.2 521.6a1.4 1.4 0 1 0 2.8 0a1.4 1.4 0 1 0-2.8 0M309.5 521.4a1.4 1.4 0 1 0 2.8 0a1.4 1.4 0 1 0-2.8 0M309.9 520.8a1.4 1.4 0 1 0 2.8 0a1.4 1.4 0 1 0-2.8 0M310.2 523.2a1.4 1.4 0 1 0 2.8 0a1.4 1.4 0 1 0-2.8 0M310.6 521.6a1.4 1.4 0 1 0 2.8 0a1.4 1.4 0 1 0-2.8 0M310.9 521.4a1.4 1.4 0 1 0 2.8 0a1.4 1.4 0 1 0-2.8 0M311.3 521.4a1.4 1.4 0 1 0 2.8 0a1.4 1.4 0 1 0-2.8 0M311.6 520.2a1.4 1.4 0 1 0 2.8 0a1.4 1.4 0 1 0-2.8 0M312.0 518.6a1.4 1.4 0 1 0 2.8 0a1.4 1.4 0 1 0-2.8 0M312.3 516.7a1.4 1.4 0 1 0 2.8 0a1.4 1.4 0 1 0-2.8 0M312.7 514.2a1.4 1.4 0 1 0 2.8 0a1.4 1.4 0 1 0-2.8 0M313.0 516.1a1.4 1.4 0 1 0 2.8 0a1.4 1.4 0 1 0-2.8 0M313.4 514.6a1.4 1.4 0 1 0 2.8 0a1.4 1.4 0 1 0-2.8 0M313.7 515.4a1.4 1.4 0 1 0 2.8 0a1.4 1.4 0 1 0-2.8 0M314.1 517.8a1.4 1.4 0 1 0 2.8 0a1.4 1.4 0 1 0-2.8 0M314.4 518.5a1.4 1.4 0 1 0 2.8 0a1.4 1.4 0 1 0-2.8 0M314.8 522.5a1.4 1.4 0 1 0 2.8 0a1.4 1.4 0 1 0-2.8 0M315.1 521.5a1.4 1.4 0 1 0 2.8 0a1.4 1.4 0 1 0-2.8 0M315.5 522.7a1.4 1.4 0 1 0 2.8 0a1.4 1.4 0 1 0-2.8 0M315.8 522.9a1.4 1.4 0 1 0 2.8 0a1.4 1.4 0 1 0-2.8 0M316.2 522.2a1.4 1.4 0 1 0 2.8 0a1.4 1.4 0 1 0-2.8 0M316.5 522.2a1.4 1.4 0 1 0 2.8 0a1.4 1.4 0 1 0-2.8 0M316.9 521.1a1.4 1.4 0 1 0 2.8 0a1.4 1.4 0 1 0-2.8 0M317.2 521.7a1.4 1.4 0 1 0 2.8 0a1.4 1.4 0 1 0-2.8 0M317.6 521.3a1.4 1.4 0 1 0 2.8 0a1.4 1.4 0 1 0-2.8 0M317.9 521.9a1.4 1.4 0 1 0 2.8 0a1.4 1.4 0 1 0-2.8 0M318.3 521.2a1.4 1.4 0 1 0 2.8 0a1.4 1.4 0 1 0-2.8 0M318.6 523.0a1.4 1.4 0 1 0 2.8 0a1.4 1.4 0 1 0-2.8 0M319.0 522.5a1.4 1.4 0 1 0 2.8 0a1.4 1.4 0 1 0-2.8 0M319.3 521.8a1.4 1.4 0 1 0 2.8 0a1.4 1.4 0 1 0-2.8 0M319.7 520.5a1.4 1.4 0 1 0 2.8 0a1.4 1.4 0 1 0-2.8 0M320.0 522.5a1.4 1.4 0 1 0 2.8 0a1.4 1.4 0 1 0-2.8 0M320.4 522.7a1.4 1.4 0 1 0 2.8 0a1.4 1.4 0 1 0-2.8 0M320.7 521.9a1.4 1.4 0 1 0 2.8 0a1.4 1.4 0 1 0-2.8 0M321.1 520.9a1.4 1.4 0 1 0 2.8 0a1.4 1.4 0 1 0-2.8 0M321.4 522.3a1.4 1.4 0 1 0 2.8 0a1.4 1.4 0 1 0-2.8 0M321.8 522.9a1.4 1.4 0 1 0 2.8 0a1.4 1.4 0 1 0-2.8 0M322.1 520.3a1.4 1.4 0 1 0 2.8 0a1.4 1.4 0 1 0-2.8 0M322.5 522.5a1.4 1.4 0 1 0 2.8 0a1.4 1.4 0 1 0-2.8 0M322.8 520.4a1.4 1.4 0 1 0 2.8 0a1.4 1.4 0 1 0-2.8 0M323.2 522.1a1.4 1.4 0 1 0 2.8 0a1.4 1.4 0 1 0-2.8 0M323.5 523.5a1.4 1.4 0 1 0 2.8 0a1.4 1.4 0 1 0-2.8 0M323.9 522.1a1.4 1.4 0 1 0 2.8 0a1.4 1.4 0 1 0-2.8 0M324.2 522.4a1.4 1.4 0 1 0 2.8 0a1.4 1.4 0 1 0-2.8 0M324.6 521.7a1.4 1.4 0 1 0 2.8 0a1.4 1.4 0 1 0-2.8 0M324.9 522.0a1.4 1.4 0 1 0 2.8 0a1.4 1.4 0 1 0-2.8 0M325.3 524.0a1.4 1.4 0 1 0 2.8 0a1.4 1.4 0 1 0-2.8 0M325.6 523.1a1.4 1.4 0 1 0 2.8 0a1.4 1.4 0 1 0-2.8 0M326.0 521.7a1.4 1.4 0 1 0 2.8 0a1.4 1.4 0 1 0-2.8 0M326.3 521.6a1.4 1.4 0 1 0 2.8 0a1.4 1.4 0 1 0-2.8 0M326.7 521.9a1.4 1.4 0 1 0 2.8 0a1.4 1.4 0 1 0-2.8 0M327.0 523.8a1.4 1.4 0 1 0 2.8 0a1.4 1.4 0 1 0-2.8 0M327.4 522.0a1.4 1.4 0 1 0 2.8 0a1.4 1.4 0 1 0-2.8 0M327.7 522.8a1.4 1.4 0 1 0 2.8 0a1.4 1.4 0 1 0-2.8 0M328.1 521.4a1.4 1.4 0 1 0 2.8 0a1.4 1.4 0 1 0-2.8 0M328.4 520.5a1.4 1.4 0 1 0 2.8 0a1.4 1.4 0 1 0-2.8 0M328.8 522.5a1.4 1.4 0 1 0 2.8 0a1.4 1.4 0 1 0-2.8 0M329.1 520.7a1.4 1.4 0 1 0 2.8 0a1.4 1.4 0 1 0-2.8 0M329.5 518.9a1.4 1.4 0 1 0 2.8 0a1.4 1.4 0 1 0-2.8 0M329.8 516.6a1.4 1.4 0 1 0 2.8 0a1.4 1.4 0 1 0-2.8 0M330.2 512.6a1.4 1.4 0 1 0 2.8 0a1.4 1.4 0 1 0-2.8 0M330.5 507.8a1.4 1.4 0 1 0 2.8 0a1.4 1.4 0 1 0-2.8 0M330.9 503.3a1.4 1.4 0 1 0 2.8 0a1.4 1.4 0 1 0-2.8 0M331.2 506.2a1.4 1.4 0 1 0 2.8 0a1.4 1.4 0 1 0-2.8 0M331.6 509.6a1.4 1.4 0 1 0 2.8 0a1.4 1.4 0 1 0-2.8 0M331.9 515.0a1.4 1.4 0 1 0 2.8 0a1.4 1.4 0 1 0-2.8 0M332.3 517.5a1.4 1.4 0 1 0 2.8 0a1.4 1.4 0 1 0-2.8 0M332.6 520.3a1.4 1.4 0 1 0 2.8 0a1.4 1.4 0 1 0-2.8 0M333.0 521.2a1.4 1.4 0 1 0 2.8 0a1.4 1.4 0 1 0-2.8 0M333.3 522.5a1.4 1.4 0 1 0 2.8 0a1.4 1.4 0 1 0-2.8 0M333.7 522.5a1.4 1.4 0 1 0 2.8 0a1.4 1.4 0 1 0-2.8 0M334.0 522.2a1.4 1.4 0 1 0 2.8 0a1.4 1.4 0 1 0-2.8 0M334.4 521.4a1.4 1.4 0 1 0 2.8 0a1.4 1.4 0 1 0-2.8 0M334.7 521.0a1.4 1.4 0 1 0 2.8 0a1.4 1.4 0 1 0-2.8 0M335.1 521.4a1.4 1.4 0 1 0 2.8 0a1.4 1.4 0 1 0-2.8 0M335.4 521.6a1.4 1.4 0 1 0 2.8 0a1.4 1.4 0 1 0-2.8 0M335.8 521.7a1.4 1.4 0 1 0 2.8 0a1.4 1.4 0 1 0-2.8 0M336.1 521.2a1.4 1.4 0 1 0 2.8 0a1.4 1.4 0 1 0-2.8 0" fill="none" stroke="#f01818" stroke-width="0.45" opacity="0.55"/>
<path d="M58.2 525.7L58.6 525.5 58.9 525.1 59.3 525.1 59.6 525.1 60.0 525.3 60.3 525.3 60.7 525.0 61.0 525.2 61.4 525.0 61.7 525.1 62.1 525.1 62.4 524.9 62.8 524.9 63.1 524.8 63.5 524.7 63.8 524.5 64.2 524.7 64.5 524.6 64.9 524.5 65.2 524.5 65.6 524.4 65.9 524.2 66.3 524.2 66.6 524.4 67.0 524.2 67.3 524.4 67.7 523.9 68.0 523.9 68.4 524.0 68.7 524.1 69.1 523.8 69.4 524.0 69.8 524.0 70.1 523.9 70.5 523.7 70.8 523.7 71.2 523.4 71.5 523.6 71.9 523.6 72.2 523.7 72.6 523.2 72.9 523.2 73.3 523.1 73.6 523.4 74.0 522.8 74.3 523.0 74.7 523.4 75.0 523.1 75.4 522.8 75.7 522.9 76.1 523.0 76.4 522.8 76.8 522.7 77.1 522.5 77.5 522.7 77.8 522.4 78.2 522.4 78.5 522.2 78.9 521.9 79.2 522.0 79.6 521.3 79.9 520.8 80.3 518.4 80.6 511.7 81.0 498.7 81.3 488.3 81.7 495.3 82.0 509.1 82.4 517.4 82.7 520.2 83.1 520.8 83.4 521.3 83.8 521.3 84.1 521.6 84.5 521.2 84.8 521.7 85.2 521.3 85.5 521.6 85.9 521.3 86.2 521.5 86.6 521.3 86.9 521.0 87.3 521.1 87.6 521.2 88.0 521.2 88.3 520.8 88.7 520.9 89.0 521.0 89.4 521.0 89.7 521.0 90.1 520.8 90.4 520.7 90.8 520.9 91.1 520.7 91.5 520.9 91.8 520.6 92.2 520.7 92.5 520.4 92.9 520.6 93.2 520.5 93.6 520.5 93.9 520.2 94.3 520.3 94.6 520.1 95.0 520.2 95.3 520.2 95.7 520.5 96.0 520.0 96.4 520.1 96.7 519.9 97.1 520.0 97.4 519.9 97.8 519.9 98.1 519.7 98.5 520.0 98.8 519.8 99.2 519.3 99.5 519.5 99.9 519.4 100.2 519.0 100.6 519.2 100.9 519.2 101.3 519.1 101.6 519.2 102.0 518.8 102.3 519.1 102.7 519.1 103.0 519.0 103.4 518.8 103.7 518.8 104.1 518.7 104.4 518.9 104.8 518.7 105.1 518.9 105.5 518.5 105.8 518.7 106.2 518.3 106.5 518.3 106.9 518.1 107.2 518.3 107.6 518.2 107.9 518.2 108.3 518.3 108.6 518.0 109.0 518.0 109.3 518.0 109.7 517.8 110.0 517.7 110.4 517.8 110.7 517.8 111.1 517.7 111.4 517.7 111.8 517.4 112.1 517.5 112.5 517.6 112.8 517.3 113.2 517.3 113.5 517.1 113.9 517.2 114.2 517.4 114.6 517.1 114.9 516.9 115.3 517.0 115.6 516.9 116.0 517.0 116.3 516.5 116.7 516.5 117.0 516.5 117.4 516.2 117.7 516.6 118.1 516.0 118.4 516.1 118.8 516.0 119.1 516.0 119.5 516.1 119.8 516.0 120.2 516.0 120.5 515.9 120.9 515.4 121.2 515.7 121.6 515.3 121.9 515.4 122.3 515.4 122.6 515.3 123.0 515.3 123.3 515.1 123.7 515.4 124.0 515.1 124.4 515.1 124.7 515.0 125.1 514.9 125.4 514.7 125.8 514.9 126.1 514.4 126.5 514.7 126.8 514.7 127.2 514.7 127.5 514.9 127.9 514.8 128.2 515.1 128.6 515.1 128.9 515.1 129.3 515.2 129.6 515.0 130.0 514.9 130.3 515.2 130.7 515.3 131.0 515.7 131.4 515.4 131.7 515.6 132.1 515.7 132.4 515.9 132.8 515.7 133.1 515.8 133.5 515.7 133.8 515.7 134.2 515.7 134.5 515.8 134.9 516.2 135.2 516.0 135.6 516.0 135.9 516.1 136.3 516.0 136.6 516.1 137.0 516.2 137.3 516.3 137.7 516.4 138.0 516.0 138.4 516.3 138.7 516.6 139.1 516.2 139.4 516.4 139.8 516.5 140.1 516.6 140.5 516.6 140.8 516.5 141.2 516.7 141.5 516.8 141.9 516.7 142.2 517.0 142.6 516.8 142.9 516.6 143.3 516.7 143.6 516.8 144.0 516.8 144.3 517.0 144.7 517.0 145.0 517.2 145.4 517.1 145.7 517.2 146.1 516.9 146.4 516.9 146.8 517.1 147.1 517.0 147.5 517.1 147.8 517.1 148.2 516.9 148.5 517.3 148.9 517.2 149.2 516.8 149.6 516.9 149.9 517.0 150.3 517.1 150.6 517.0 151.0 516.8 151.3 517.1 151.7 516.9 152.0 517.1 152.4 516.9 152.7 516.9 153.1 516.7 153.4 516.5 153.8 516.0 154.1 515.4 154.5 512.9 154.8 506.6 155.2 496.0 155.5 485.2 155.9 485.3 156.2 496.2 156.6 506.7 156.9 513.0 157.3 515.3 157.6 516.0 158.0 516.6 158.3 516.6 158.7 516.6 159.0 517.0 159.4 517.1 159.7 516.8 160.1 517.0 160.4 516.8 160.8 516.0 161.1 514.5 161.5 510.4 161.8 505.2 162.2 502.2 162.5 506.0 162.9 511.0 163.2 514.8 163.6 516.1 163.9 517.2 164.3 517.5 164.6 517.7 165.0 517.0 165.3 517.6 165.7 517.7 166.0 517.2 166.4 517.6 166.7 517.7 167.1 518.0 167.4 517.7 167.8 517.8 168.1 517.8 168.5 517.9 168.8 517.8 169.2 518.0 169.5 518.1 169.9 517.7 170.2 518.1 170.6 517.9 170.9 517.9 171.3 518.2 171.6 518.0 172.0 518.1 172.3 518.2 172.7 518.2 173.0 518.0 173.4 518.0 173.7 518.2 174.1 518.2 174.4 518.2 174.8 518.1 175.1 518.3 175.5 518.2 175.8 518.0 176.2 518.3 176.5 518.3 176.9 518.4 177.2 518.1 177.6 518.2 177.9 518.3 178.3 518.2 178.6 518.3 179.0 518.5 179.3 518.4 179.7 518.6 180.0 518.4 180.4 518.6 180.7 518.6 181.1 518.8 181.4 518.4 181.8 518.4 182.1 518.6 182.5 518.4 182.8 518.4 183.2 518.5 183.5 518.5 183.9 518.3 184.2 518.5 184.6 518.5 184.9 518.5 185.3 518.5 185.6 518.4 186.0 518.4 186.3 517.8 186.7 517.0 187.0 516.2 187.4 515.8 187.7 516.2 188.1 517.2 188.4 517.7 188.8 518.3 189.1 518.8 189.5 518.6 189.8 518.9 190.2 518.8 190.5 518.7 190.9 518.6 191.2 518.9 191.6 518.7 191.9 518.7 192.3 518.6 192.6 519.0 193.0 518.9 193.3 518.9 193.7 518.9 194.0 518.9 194.4 518.9 194.7 519.0 195.1 518.9 195.4 518.5 195.8 519.0 196.1 519.0 196.5 518.9 196.8 519.2 197.2 518.7 197.5 518.5 197.9 519.2 198.2 519.0 198.6 518.7 198.9 518.9 199.3 519.1 199.6 518.8 200.0 519.0 200.3 519.3 200.7 519.2 201.0 518.9 201.4 519.0 201.7 518.8 202.1 518.9 202.4 518.7 202.8 518.5 203.1 517.9 203.5 517.5 203.8 515.6 204.2 513.7 204.5 513.1 204.9 514.3 205.2 516.1 205.6 517.2 205.9 518.3 206.3 518.8 206.6 518.8 207.0 518.7 207.3 518.8 207.7 518.9 208.0 518.7 208.4 518.5 208.7 518.2 209.1 517.5 209.4 515.9 209.8 514.0 210.1 513.5 210.5 514.0 210.8 515.9 211.2 517.2 211.5 518.5 211.9 518.8 212.2 518.8 212.6 519.0 212.9 519.4 213.3 519.3 213.6 519.3 214.0 519.4 214.3 519.1 214.7 519.2 215.0 519.1 215.4 519.2 215.7 519.3 216.1 519.5 216.4 519.5 216.8 519.5 217.1 519.8 217.5 519.4 217.8 519.4 218.2 519.5 218.5 519.3 218.9 519.4 219.2 519.5 219.6 519.4 219.9 519.6 220.3 519.7 220.6 519.3 221.0 519.2 221.3 519.5 221.7 519.4 222.0 519.6 222.4 519.5 222.7 519.6 223.1 519.7 223.4 519.7 223.8 519.5 224.1 519.4 224.5 519.2 224.8 519.3 225.2 519.5 225.5 519.6 225.9 519.5 226.2 519.6 226.6 519.4 226.9 519.4 227.3 519.4 227.6 519.8 228.0 519.4 228.3 519.8 228.7 519.6 229.0 519.8 229.4 519.7 229.7 519.8 230.1 519.9 230.4 519.6 230.8 519.6 231.1 519.7 231.5 519.6 231.8 519.8 232.2 519.7 232.5 519.8 232.9 519.8 233.2 519.7 233.6 519.9 233.9 519.5 234.3 519.8 234.6 519.9 235.0 519.7 235.3 519.7 235.7 519.9 236.0 519.7 236.4 519.5 236.7 519.6 237.1 519.9 237.4 519.7 237.8 520.0 238.1 520.0 238.5 519.7 238.8 519.8 239.2 519.6 239.5 519.7 239.9 519.6 240.2 519.7 240.6 519.4 240.9 519.5 241.3 519.5 241.6 519.4 242.0 518.9 242.3 518.6 242.7 518.3 243.0 517.3 243.4 514.3 243.7 507.9 244.1 497.9 244.4 488.0 244.8 487.3 245.1 496.4 245.5 507.0 245.8 513.9 246.2 517.1 246.5 518.3 246.9 518.8 247.2 519.2 247.6 519.0 247.9 518.8 248.3 519.1 248.6 518.8 249.0 517.6 249.3 515.4 249.7 511.7 250.0 505.7 250.4 501.3 250.7 502.1 251.1 507.3 251.4 512.5 251.8 516.3 252.1 518.3 252.5 519.1 252.8 519.5 253.2 519.7 253.5 519.7 253.9 519.9 254.2 519.8 254.6 520.2 254.9 519.9 255.3 520.1 255.6 519.9 256.0 520.1 256.3 520.0 256.7 520.5 257.0 520.2 257.4 520.4 257.7 520.0 258.1 520.1 258.4 520.3 258.8 520.1 259.1 520.5 259.5 520.3 259.8 520.4 260.2 520.4 260.5 520.4 260.9 520.5 261.2 520.3 261.6 520.5 261.9 520.6 262.3 520.5 262.6 520.5 263.0 520.4 263.3 520.5 263.7 520.5 264.0 520.4 264.4 520.2 264.7 520.5 265.1 520.4 265.4 520.5 265.8 520.4 266.1 520.6 266.5 520.1 266.8 520.0 267.2 520.0 267.5 519.3 267.9 518.6 268.2 517.2 268.6 515.0 268.9 513.6 269.3 512.9 269.6 513.4 270.0 514.8 270.3 517.0 270.7 518.3 271.0 519.4 271.4 520.0 271.7 520.1 272.1 520.1 272.4 520.5 272.8 520.5 273.1 520.4 273.5 520.5 273.8 520.7 274.2 520.6 274.5 520.6 274.9 520.6 275.2 520.7 275.6 520.7 275.9 520.6 276.3 520.4 276.6 520.6 277.0 520.5 277.3 520.6 277.7 520.7 278.0 520.5 278.4 520.3 278.7 519.8 279.1 518.7 279.4 516.5 279.8 512.4 280.1 507.8 280.5 504.9 280.8 506.7 281.2 511.3 281.5 515.8 281.9 518.4 282.2 519.6 282.6 520.3 282.9 520.4 283.3 520.8 283.6 520.8 284.0 521.2 284.3 520.7 284.7 520.9 285.0 520.9 285.4 521.0 285.7 521.1 286.1 520.9 286.4 520.9 286.8 521.1 287.1 521.2 287.5 520.9 287.8 520.9 288.2 521.3 288.5 521.2 288.9 521.3 289.2 521.0 289.6 521.1 289.9 521.2 290.3 521.2 290.6 521.2 291.0 521.2 291.3 521.4 291.7 521.2 292.0 521.2 292.4 521.2 292.7 521.2 293.1 521.3 293.4 521.2 293.8 521.2 294.1 521.5 294.5 521.3 294.8 521.3 295.2 521.5 295.5 521.3 295.9 521.3 296.2 521.3 296.6 521.3 296.9 521.3 297.3 521.4 297.6 521.2 298.0 521.3 298.3 521.4 298.7 521.5 299.0 521.5 299.4 521.8 299.7 521.5 300.1 521.4 300.4 521.4 300.8 521.5 301.1 521.5 301.5 521.4 301.8 521.7 302.2 521.3 302.5 521.6 302.9 521.6 303.2 521.4 303.6 521.6 303.9 521.6 304.3 521.5 304.6 521.9 305.0 521.7 305.3 521.5 305.7 521.5 306.0 521.5 306.4 521.6 306.7 521.6 307.1 521.4 307.4 521.5 307.8 521.5 308.1 521.5 308.5 521.6 308.8 521.5 309.2 521.7 309.5 521.7 309.9 521.6 310.2 521.3 310.6 521.6 310.9 521.6 311.3 521.5 311.6 521.5 312.0 521.4 312.3 521.0 312.7 520.4 313.0 520.1 313.4 518.7 313.7 517.2 314.1 515.6 314.4 514.8 314.8 515.6 315.1 516.7 315.5 518.5 315.8 519.7 316.2 520.7 316.5 521.3 316.9 521.6 317.2 521.6 317.6 521.5 317.9 521.7 318.3 521.9 318.6 521.9 319.0 522.1 319.3 521.9 319.7 521.7 320.0 521.8 320.4 521.9 320.7 522.0 321.1 521.7 321.4 522.0 321.8 522.0 322.1 521.8 322.5 522.0 322.8 521.8 323.2 522.0 323.5 521.9 323.9 522.0 324.2 521.8 324.6 522.1 324.9 521.7 325.3 521.9 325.6 521.9 326.0 522.2 326.3 522.1 326.7 521.9 327.0 521.8 327.4 522.0 327.7 521.9 328.1 522.2 328.4 521.5 328.8 521.9 329.1 521.4 329.5 521.9 329.8 521.5 330.2 521.6 330.5 520.7 330.9 519.8 331.2 517.2 331.6 513.3 331.9 508.3 332.3 504.2 332.6 505.0 333.0 509.1 333.3 514.3 333.7 517.9 334.0 520.0 334.4 521.1 334.7 521.5 335.1 521.7 335.4 522.2 335.8 522.0 336.1 522.0 336.5 521.9 336.8 522.1 337.2 522.2 337.5 522.2" fill="none" stroke="#000" stroke-width="1.05" stroke-linejoin="round"/>
<path d="M81.00 529.3V533.0 M155.20 529.3V533.0 M161.50 529.3V533.0 M187.90 529.3V533.0 M205.40 529.3V533.0 M210.00 529.3V533.0 M244.70 529.3V533.0 M249.60 529.3V533.0 M268.50 529.3V533.0 M281.20 529.3V533.0 M314.30 529.3V533.0 M318.60 529.3V533.0 M332.60 529.3V533.0" stroke="#30a0a0" stroke-width="1"/>
<path d="M58.2 539.8L58.6 540.0 58.9 539.6 59.3 540.0 59.6 539.4 60.0 539.7 60.3 539.7 60.7 540.3 61.0 540.2 61.4 540.0 61.7 539.5 62.1 539.8 62.4 540.3 62.8 540.5 63.1 539.4 63.5 539.8 63.8 540.0 64.2 540.1 64.5 540.0 64.9 540.2 65.2 539.4 65.6 540.6 65.9 539.6 66.3 540.0 66.6 540.2 67.0 540.4 67.3 540.3 67.7 540.3 68.0 540.5 68.4 539.9 68.7 540.3 69.1 540.6 69.4 539.7 69.8 539.5 70.1 539.6 70.5 540.5 70.8 540.5 71.2 539.9 71.5 540.1 71.9 540.2 72.2 540.4 72.6 539.3 72.9 539.8 73.3 539.9 73.6 540.1 74.0 540.0 74.3 539.9 74.7 540.1 75.0 539.0 75.4 541.2 75.7 540.3 76.1 540.3 76.4 539.7 76.8 540.1 77.1 540.8 77.5 540.7 77.8 540.0 78.2 539.4 78.5 539.5 78.9 538.5 79.2 538.1 79.6 537.4 79.9 539.7 80.3 543.4 80.6 546.2 81.0 547.4 81.3 544.8 81.7 542.3 82.0 540.9 82.4 540.6 82.7 539.9 83.1 539.8 83.4 540.3 83.8 540.1 84.1 539.8 84.5 540.0 84.8 539.9 85.2 540.2 85.5 540.0 85.9 539.7 86.2 539.8 86.6 539.8 86.9 540.1 87.3 540.1 87.6 539.7 88.0 539.9 88.3 540.1 88.7 540.4 89.0 540.1 89.4 540.7 89.7 540.0 90.1 540.3 90.4 539.9 90.8 539.6 91.1 540.0 91.5 540.2 91.8 540.1 92.2 540.0 92.5 539.9 92.9 539.7 93.2 539.9 93.6 540.2 93.9 540.4 94.3 538.7 94.6 540.2 95.0 540.4 95.3 540.5 95.7 540.1 96.0 540.2 96.4 539.8 96.7 540.0 97.1 540.2 97.4 539.6 97.8 539.7 98.1 540.1 98.5 539.5 98.8 540.0 99.2 539.4 99.5 540.1 99.9 540.0 100.2 539.8 100.6 539.6 100.9 539.8 101.3 539.1 101.6 539.8 102.0 540.0 102.3 540.5 102.7 539.8 103.0 539.9 103.4 540.5 103.7 540.7 104.1 539.8 104.4 540.4 104.8 540.4 105.1 540.2 105.5 539.6 105.8 539.6 106.2 540.2 106.5 540.9 106.9 539.9 107.2 540.6 107.6 540.7 107.9 539.5 108.3 539.8 108.6 540.6 109.0 540.4 109.3 540.2 109.7 540.0 110.0 540.2 110.4 539.8 110.7 541.0 111.1 539.6 111.4 539.3 111.8 540.0 112.1 540.5 112.5 539.8 112.8 540.0 113.2 539.6 113.5 540.0 113.9 539.6 114.2 539.6 114.6 539.4 114.9 539.8 115.3 540.7 115.6 540.0 116.0 540.1 116.3 540.9 116.7 539.7 117.0 539.6 117.4 540.2 117.7 539.5 118.1 540.1 118.4 540.4 118.8 539.6 119.1 539.8 119.5 540.6 119.8 539.6 120.2 539.7 120.5 540.1 120.9 539.9 121.2 539.7 121.6 540.6 121.9 539.8 122.3 540.1 122.6 539.8 123.0 539.9 123.3 539.5 123.7 540.3 124.0 539.8 124.4 540.5 124.7 539.5 125.1 539.8 125.4 540.2 125.8 540.0 126.1 539.7 126.5 539.9 126.8 539.5 127.2 540.0 127.5 539.0 127.9 540.1 128.2 540.5 128.6 540.3 128.9 540.3 129.3 539.8 129.6 540.2 130.0 539.8 130.3 540.0 130.7 540.0 131.0 538.7 131.4 540.3 131.7 540.2 132.1 540.3 132.4 539.6 132.8 540.3 133.1 540.2 133.5 539.1 133.8 539.3 134.2 540.0 134.5 539.7 134.9 540.0 135.2 539.7 135.6 540.6 135.9 539.3 136.3 539.5 136.6 539.6 137.0 539.5 137.3 539.8 137.7 540.0 138.0 539.5 138.4 540.1 138.7 540.5 139.1 540.4 139.4 540.8 139.8 540.4 140.1 540.0 140.5 540.7 140.8 540.3 141.2 540.7 141.5 539.9 141.9 539.2 142.2 539.5 142.6 540.1 142.9 540.2 143.3 539.9 143.6 540.4 144.0 539.6 144.3 539.7 144.7 540.4 145.0 540.0 145.4 540.0 145.7 540.5 146.1 540.4 146.4 539.7 146.8 540.1 147.1 539.3 147.5 540.0 147.8 540.1 148.2 539.3 148.5 540.6 148.9 540.8 149.2 540.2 149.6 540.4 149.9 540.6 150.3 539.9 150.6 540.4 151.0 540.1 151.3 539.3 151.7 539.3 152.0 538.9 152.4 538.4 152.7 536.6 153.1 535.7 153.4 534.9 153.8 535.4 154.1 538.2 154.5 539.8 154.8 539.7 155.2 540.0 155.5 541.0 155.9 540.9 156.2 542.4 156.6 543.4 156.9 545.3 157.3 545.6 157.6 544.7 158.0 543.3 158.3 541.5 158.7 540.7 159.0 540.6 159.4 539.3 159.7 538.8 160.1 536.3 160.4 534.0 160.8 531.0 161.1 528.6 161.5 527.8 161.8 527.4 162.2 530.7 162.5 533.5 162.9 535.9 163.2 537.9 163.6 539.0 163.9 539.9 164.3 539.9 164.6 539.6 165.0 540.1 165.3 540.4 165.7 540.1 166.0 540.0 166.4 540.1 166.7 539.8 167.1 539.8 167.4 539.3 167.8 539.9 168.1 540.4 168.5 539.9 168.8 539.7 169.2 540.3 169.5 540.1 169.9 540.1 170.2 540.2 170.6 540.3 170.9 540.0 171.3 539.7 171.6 540.7 172.0 540.0 172.3 539.7 172.7 540.1 173.0 540.5 173.4 539.5 173.7 540.5 174.1 539.9 174.4 540.8 174.8 540.3 175.1 540.0 175.5 540.5 175.8 540.5 176.2 539.9 176.5 540.1 176.9 539.8 177.2 540.4 177.6 539.5 177.9 539.9 178.3 539.1 178.6 540.0 179.0 538.6 179.3 538.4 179.7 537.8 180.0 536.2 180.4 534.9 180.7 533.8 181.1 533.9 181.4 534.2 181.8 536.3 182.1 537.8 182.5 538.9 182.8 539.3 183.2 540.2 183.5 540.1 183.9 540.3 184.2 540.1 184.6 540.0 184.9 539.7 185.3 538.9 185.6 540.1 186.0 539.5 186.3 539.7 186.7 537.3 187.0 537.3 187.4 535.5 187.7 535.1 188.1 534.7 188.4 535.8 188.8 536.8 189.1 538.3 189.5 538.9 189.8 539.6 190.2 540.3 190.5 540.1 190.9 539.9 191.2 540.5 191.6 540.0 191.9 540.2 192.3 539.9 192.6 539.7 193.0 538.8 193.3 540.2 193.7 539.4 194.0 540.0 194.4 540.2 194.7 538.6 195.1 539.1 195.4 538.3 195.8 538.2 196.1 537.6 196.5 538.2 196.8 538.6 197.2 539.5 197.5 540.2 197.9 539.8 198.2 539.7 198.6 540.8 198.9 539.9 199.3 540.0 199.6 540.0 200.0 540.2 200.3 540.3 200.7 539.8 201.0 540.0 201.4 540.7 201.7 540.6 202.1 540.2 202.4 540.1 202.8 539.9 203.1 540.4 203.5 539.8 203.8 540.1 204.2 539.9 204.5 540.0 204.9 540.5 205.2 541.0 205.6 541.4 205.9 541.8 206.3 541.5 206.6 540.3 207.0 539.1 207.3 538.4 207.7 538.4 208.0 538.9 208.4 539.1 208.7 539.4 209.1 539.8 209.4 540.7 209.8 540.3 210.1 539.6 210.5 540.0 210.8 539.8 211.2 539.9 211.5 539.4 211.9 540.0 212.2 539.5 212.6 539.8 212.9 540.6 213.3 540.4 213.6 539.7 214.0 539.6 214.3 539.7 214.7 539.3 215.0 539.6 215.4 539.9 215.7 539.6 216.1 540.3 216.4 540.0 216.8 539.8 217.1 540.7 217.5 540.3 217.8 540.0 218.2 540.7 218.5 540.5 218.9 539.7 219.2 540.1 219.6 539.8 219.9 539.5 220.3 540.7 220.6 540.6 221.0 539.5 221.3 540.2 221.7 539.4 222.0 540.4 222.4 540.0 222.7 539.9 223.1 540.5 223.4 540.0 223.8 539.9 224.1 540.4 224.5 539.9 224.8 540.3 225.2 540.0 225.5 540.3 225.9 540.2 226.2 540.3 226.6 539.6 226.9 540.7 227.3 539.9 227.6 540.7 228.0 539.8 228.3 539.9 228.7 539.9 229.0 540.5 229.4 539.8 229.7 540.2 230.1 539.4 230.4 539.8 230.8 540.1 231.1 540.0 231.5 539.3 231.8 540.2 232.2 539.6 232.5 540.8 232.9 539.9 233.2 540.9 233.6 540.3 233.9 540.2 234.3 539.8 234.6 540.0 235.0 540.2 235.3 539.3 235.7 540.4 236.0 539.6 236.4 539.9 236.7 539.0 237.1 540.2 237.4 540.3 237.8 540.1 238.1 540.1 238.5 539.9 238.8 540.1 239.2 540.5 239.5 539.8 239.9 540.2 240.2 540.3 240.6 539.9 240.9 540.1 241.3 540.1 241.6 539.8 242.0 541.0 242.3 539.9 242.7 540.8 243.0 540.8 243.4 540.2 243.7 541.9 244.1 543.3 244.4 544.1 244.8 543.6 245.1 543.6 245.5 542.1 245.8 541.1 246.2 540.5 246.5 539.9 246.9 539.5 247.2 537.9 247.6 536.8 247.9 534.9 248.3 534.6 248.6 535.4 249.0 537.5 249.3 537.5 249.7 538.4 250.0 539.6 250.4 540.3 250.7 539.3 251.1 539.9 251.4 539.5 251.8 540.6 252.1 540.3 252.5 540.1 252.8 540.0 253.2 539.9 253.5 540.1 253.9 539.8 254.2 539.7 254.6 539.6 254.9 540.0 255.3 539.7 255.6 540.3 256.0 539.2 256.3 540.2 256.7 540.2 257.0 540.5 257.4 539.9 257.7 539.4 258.1 539.6 258.4 540.4 258.8 539.9 259.1 539.8 259.5 539.8 259.8 540.0 260.2 539.9 260.5 539.4 260.9 539.8 261.2 540.4 261.6 540.6 261.9 540.0 262.3 539.8 262.6 540.5 263.0 539.9 263.3 539.5 263.7 539.8 264.0 540.0 264.4 540.1 264.7 539.0 265.1 538.9 265.4 538.2 265.8 538.5 266.1 538.1 266.5 538.3 266.8 538.2 267.2 538.8 267.5 539.2 267.9 538.2 268.2 540.2 268.6 539.9 268.9 539.9 269.3 539.9 269.6 540.0 270.0 540.1 270.3 539.5 270.7 540.1 271.0 540.0 271.4 540.0 271.7 539.4 272.1 539.9 272.4 539.5 272.8 540.1 273.1 540.5 273.5 540.3 273.8 539.9 274.2 539.8 274.5 539.8 274.9 540.1 275.2 539.7 275.6 539.8 275.9 539.0 276.3 539.7 276.6 539.7 277.0 539.8 277.3 540.5 277.7 539.5 278.0 539.5 278.4 540.2 278.7 539.6 279.1 539.9 279.4 540.1 279.8 540.0 280.1 539.7 280.5 540.4 280.8 540.6 281.2 539.6 281.5 539.9 281.9 540.4 282.2 539.9 282.6 539.6 282.9 539.8 283.3 540.3 283.6 539.6 284.0 540.1 284.3 540.2 284.7 539.7 285.0 540.2 285.4 540.3 285.7 540.4 286.1 540.4 286.4 539.4 286.8 540.4 287.1 540.2 287.5 540.4 287.8 539.7 288.2 540.4 288.5 540.1 288.9 539.6 289.2 540.5 289.6 539.7 289.9 539.6 290.3 540.2 290.6 539.8 291.0 540.1 291.3 539.9 291.7 540.1 292.0 540.3 292.4 540.0 292.7 540.3 293.1 540.3 293.4 539.7 293.8 540.3 294.1 540.2 294.5 540.1 294.8 540.4 295.2 540.6 295.5 540.3 295.9 539.4 296.2 540.2 296.6 540.0 296.9 539.9 297.3 540.1 297.6 539.9 298.0 540.6 298.3 540.1 298.7 540.0 299.0 540.3 299.4 540.3 299.7 540.5 300.1 540.3 300.4 540.0 300.8 540.1 301.1 539.2 301.5 539.4 301.8 540.4 302.2 539.9 302.5 540.7 302.9 540.7 303.2 539.5 303.6 540.1 303.9 541.1 304.3 539.7 304.6 540.2 305.0 539.9 305.3 539.9 305.7 539.9 306.0 540.0 306.4 540.3 306.7 539.7 307.1 540.2 307.4 539.7 307.8 540.2 308.1 540.1 308.5 539.7 308.8 540.1 309.2 539.7 309.5 539.7 309.9 540.5 310.2 539.3 310.6 540.3 310.9 540.4 311.3 540.0 311.6 540.9 312.0 541.1 312.3 540.5 312.7 541.6 313.0 541.9 313.4 541.6 313.7 542.2 314.1 542.2 314.4 541.4 314.8 540.6 315.1 541.2 315.5 540.4 315.8 539.8 316.2 540.1 316.5 539.2 316.9 539.9 317.2 540.6 317.6 538.9 317.9 540.2 318.3 539.6 318.6 539.8 319.0 539.7 319.3 540.3 319.7 540.0 320.0 539.7 320.4 539.5 320.7 539.8 321.1 540.5 321.4 539.5 321.8 540.2 322.1 540.1 322.5 539.2 322.8 540.4 323.2 540.0 323.5 540.9 323.9 540.7 324.2 539.9 324.6 539.9 324.9 539.6 325.3 539.5 325.6 540.3 326.0 539.9 326.3 539.9 326.7 539.9 327.0 540.3 327.4 540.4 327.7 540.0 328.1 539.9 328.4 540.0 328.8 540.8 329.1 539.1 329.5 539.2 329.8 539.5 330.2 538.8 330.5 538.3 330.9 537.3 331.2 536.6 331.6 534.8 331.9 535.3 332.3 535.4 332.6 536.8 333.0 537.5 333.3 538.7 333.7 538.8 334.0 539.6 334.4 539.6 334.7 539.8 335.1 539.8 335.4 539.6 335.8 540.4 336.1 540.1 336.5 540.4 336.8 539.6 337.2 539.2 337.5 539.8" fill="none" stroke="#0000f0" stroke-width="1.1" stroke-linejoin="round"/>
<path d="M58.2 603.9L58.6 604.7 58.9 604.9 59.3 605.0 59.6 605.2 60.0 604.5 60.3 603.9 60.7 603.1 61.0 604.4 61.4 603.3 61.7 603.0 62.1 604.2 62.4 603.8 62.8 604.4 63.1 603.0 63.5 604.6 63.8 603.8 64.2 603.4 64.5 602.8 64.9 602.5 65.2 602.2 65.6 604.6 65.9 602.1 66.3 603.9 66.6 603.1 67.0 602.8 67.3 602.8 67.7 603.1 68.0 604.0 68.4 603.6 68.7 603.1 69.1 601.9 69.4 601.5 69.8 604.7 70.1 602.1 70.5 601.6 70.8 603.9 71.2 601.6 71.5 603.5 71.9 603.7 72.2 603.0 72.6 603.6 72.9 601.5 73.3 601.6 73.6 602.5 74.0 602.6 74.3 602.5 74.7 603.0 75.0 601.9 75.4 600.6 75.7 602.8 76.1 602.2 76.4 603.1 76.8 604.2 77.1 602.4 77.5 602.7 77.8 601.4 78.2 602.9 78.5 602.3 78.9 602.1 79.2 602.5 79.6 600.5 79.9 601.5 80.3 599.8 80.6 595.9 81.0 583.1 81.3 576.6 81.7 584.0 82.0 592.0 82.4 598.1 82.7 602.1 83.1 603.3 83.4 601.4 83.8 600.8 84.1 601.0 84.5 601.2 84.8 600.8 85.2 600.9 85.5 601.7 85.9 601.6 86.2 602.0 86.6 601.6 86.9 600.5 87.3 602.2 87.6 601.7 88.0 600.9 88.3 601.2 88.7 601.7 89.0 601.5 89.4 601.2 89.7 602.0 90.1 602.2 90.4 601.0 90.8 601.2 91.1 600.2 91.5 601.1 91.8 601.6 92.2 601.9 92.5 601.3 92.9 601.0 93.2 600.4 93.6 601.2 93.9 600.0 94.3 601.1 94.6 601.0 95.0 600.1 95.3 601.2 95.7 600.7 96.0 601.4 96.4 600.4 96.7 601.2 97.1 602.1 97.4 600.9 97.8 601.4 98.1 600.1 98.5 600.3 98.8 598.9 99.2 600.4 99.5 599.5 99.9 600.6 100.2 598.7 100.6 599.7 100.9 600.5 101.3 600.8 101.6 598.9 102.0 600.0 102.3 602.6 102.7 601.0 103.0 600.5 103.4 597.9 103.7 599.5 104.1 600.7 104.4 600.4 104.8 600.6 105.1 601.0 105.5 600.3 105.8 600.9 106.2 598.6 106.5 602.3 106.9 599.8 107.2 599.5 107.6 601.4 107.9 600.6 108.3 600.9 108.6 599.4 109.0 600.2 109.3 600.6 109.7 598.9 110.0 599.7 110.4 599.7 110.7 599.6 111.1 599.2 111.4 598.7 111.8 600.2 112.1 600.0 112.5 600.8 112.8 599.7 113.2 599.1 113.5 598.4 113.9 599.7 114.2 599.4 114.6 601.4 114.9 601.6 115.3 601.0 115.6 598.8 116.0 598.3 116.3 599.3 116.7 598.7 117.0 600.7 117.4 599.6 117.7 599.1 118.1 599.4 118.4 600.5 118.8 598.5 119.1 599.8 119.5 598.2 119.8 599.1 120.2 598.7 120.5 599.5 120.9 599.4 121.2 600.3 121.6 599.8 121.9 598.7 122.3 598.0 122.6 598.4 123.0 598.7 123.3 598.9 123.7 598.4 124.0 600.0 124.4 599.9 124.7 598.8 125.1 598.6 125.4 598.8 125.8 598.9 126.1 598.9 126.5 597.5 126.8 598.5 127.2 597.2 127.5 598.9 127.9 599.4 128.2 597.9 128.6 598.9 128.9 598.2 129.3 598.1 129.6 600.4 130.0 599.5 130.3 599.1 130.7 598.3 131.0 599.0 131.4 598.4 131.7 599.0 132.1 597.8 132.4 598.5 132.8 598.2 133.1 597.3 133.5 600.0 133.8 599.2 134.2 597.7 134.5 597.1 134.9 597.8 135.2 597.6 135.6 597.8 135.9 597.0 136.3 597.6 136.6 598.3 137.0 598.6 137.3 596.5 137.7 598.2 138.0 597.3 138.4 597.3 138.7 597.9 139.1 597.5 139.4 598.7 139.8 598.7 140.1 597.8 140.5 597.5 140.8 599.6 141.2 599.6 141.5 598.3 141.9 597.8 142.2 598.8 142.6 599.2 142.9 597.4 143.3 599.5 143.6 597.7 144.0 598.8 144.3 597.3 144.7 597.8 145.0 597.3 145.4 597.7 145.7 598.6 146.1 596.9 146.4 597.4 146.8 598.1 147.1 597.2 147.5 599.4 147.8 596.2 148.2 599.7 148.5 596.9 148.9 598.3 149.2 598.8 149.6 597.8 149.9 596.1 150.3 597.0 150.6 597.3 151.0 597.7 151.3 598.1 151.7 598.1 152.0 598.4 152.4 596.1 152.7 597.7 153.1 595.1 153.4 596.6 153.8 595.1 154.1 593.4 154.5 593.0 154.8 585.1 155.2 573.4 155.5 558.3 155.9 558.6 156.2 572.4 156.6 584.5 156.9 592.3 157.3 594.5 157.6 595.7 158.0 595.4 158.3 597.8 158.7 596.5 159.0 595.9 159.4 597.6 159.7 597.4 160.1 597.2 160.4 597.1 160.8 596.4 161.1 596.2 161.5 593.0 161.8 589.8 162.2 583.7 162.5 580.8 162.9 585.2 163.2 590.5 163.6 594.6 163.9 597.4 164.3 596.6 164.6 597.7 165.0 597.6 165.3 596.1 165.7 597.7 166.0 597.6 166.4 596.4 166.7 596.5 167.1 596.4 167.4 598.7 167.8 599.4 168.1 598.1 168.5 598.8 168.8 596.1 169.2 598.2 169.5 598.1 169.9 597.1 170.2 594.3 170.6 596.4 170.9 596.0 171.3 597.8 171.6 596.7 172.0 597.5 172.3 597.1 172.7 598.0 173.0 597.5 173.4 598.7 173.7 598.4 174.1 598.1 174.4 597.7 174.8 597.4 175.1 597.7 175.5 598.4 175.8 597.8 176.2 598.0 176.5 597.7 176.9 597.7 177.2 597.2 177.6 596.1 177.9 598.3 178.3 598.3 178.6 596.9 179.0 599.5 179.3 596.7 179.7 598.7 180.0 598.0 180.4 598.1 180.7 598.8 181.1 598.6 181.4 597.8 181.8 596.9 182.1 596.7 182.5 598.0 182.8 599.2 183.2 598.6 183.5 597.8 183.9 598.1 184.2 598.4 184.6 599.3 184.9 597.1 185.3 598.4 185.6 598.0 186.0 597.0 186.3 596.6 186.7 598.4 187.0 597.1 187.4 596.0 187.7 595.6 188.1 595.8 188.4 595.1 188.8 597.0 189.1 596.0 189.5 596.2 189.8 597.2 190.2 596.7 190.5 597.4 190.9 598.9 191.2 599.4 191.6 598.4 191.9 598.0 192.3 597.1 192.6 597.0 193.0 598.2 193.3 598.1 193.7 597.4 194.0 597.5 194.4 599.3 194.7 598.8 195.1 598.0 195.4 598.2 195.8 599.1 196.1 598.3 196.5 598.2 196.8 596.5 197.2 596.4 197.5 596.2 197.9 595.9 198.2 597.9 198.6 598.3 198.9 597.2 199.3 598.4 199.6 598.3 200.0 597.9 200.3 596.6 200.7 599.2 201.0 599.1 201.4 597.4 201.7 599.6 202.1 597.9 202.4 597.1 202.8 597.3 203.1 595.8 203.5 596.7 203.8 594.5 204.2 594.9 204.5 591.3 204.9 587.3 205.2 588.9 205.6 589.2 205.9 593.8 206.3 596.2 206.6 597.0 207.0 596.4 207.3 597.6 207.7 597.6 208.0 597.9 208.4 599.2 208.7 599.3 209.1 599.2 209.4 597.1 209.8 596.7 210.1 596.7 210.5 595.9 210.8 592.2 211.2 592.6 211.5 595.2 211.9 593.9 212.2 595.7 212.6 596.6 212.9 598.1 213.3 597.8 213.6 597.7 214.0 596.7 214.3 598.6 214.7 598.1 215.0 597.5 215.4 598.1 215.7 598.8 216.1 596.8 216.4 596.8 216.8 597.2 217.1 597.4 217.5 595.4 217.8 597.6 218.2 599.2 218.5 597.9 218.9 599.1 219.2 595.6 219.6 598.1 219.9 599.5 220.3 599.6 220.6 597.8 221.0 597.5 221.3 598.6 221.7 597.1 222.0 597.9 222.4 596.7 222.7 598.3 223.1 598.2 223.4 599.7 223.8 598.6 224.1 597.7 224.5 598.2 224.8 597.1 225.2 598.3 225.5 598.1 225.9 598.6 226.2 599.1 226.6 596.5 226.9 598.6 227.3 598.9 227.6 597.2 228.0 600.0 228.3 597.6 228.7 600.5 229.0 599.0 229.4 599.1 229.7 598.5 230.1 599.2 230.4 597.3 230.8 597.5 231.1 596.5 231.5 598.7 231.8 597.6 232.2 598.9 232.5 598.8 232.9 597.0 233.2 598.9 233.6 598.5 233.9 598.4 234.3 598.6 234.6 598.2 235.0 598.2 235.3 599.1 235.7 597.2 236.0 597.0 236.4 597.4 236.7 598.9 237.1 597.6 237.4 599.5 237.8 594.9 238.1 596.9 238.5 597.0 238.8 597.4 239.2 598.1 239.5 596.5 239.9 595.4 240.2 596.8 240.6 597.2 240.9 593.2 241.3 595.7 241.6 595.2 242.0 594.1 242.3 594.3 242.7 594.9 243.0 594.7 243.4 594.3 243.7 593.2 244.1 593.7 244.4 591.3 244.8 589.1 245.1 583.9 245.5 578.5 245.8 572.8 246.2 568.8 246.5 570.9 246.9 574.8 247.2 583.0 247.6 588.2 247.9 591.1 248.3 593.6 248.6 592.1 249.0 594.6 249.3 593.1 249.7 589.2 250.0 588.1 250.4 582.3 250.7 578.1 251.1 574.0 251.4 574.2 251.8 577.0 252.1 581.6 252.5 587.4 252.8 591.8 253.2 591.8 253.5 595.6 253.9 596.0 254.2 596.1 254.6 598.6 254.9 598.4 255.3 596.8 255.6 596.8 256.0 598.6 256.3 597.4 256.7 597.7 257.0 596.3 257.4 598.0 257.7 599.1 258.1 597.7 258.4 598.1 258.8 599.8 259.1 599.0 259.5 599.5 259.8 598.8 260.2 599.3 260.5 596.8 260.9 597.5 261.2 596.8 261.6 600.3 261.9 598.5 262.3 598.2 262.6 597.6 263.0 597.4 263.3 595.8 263.7 600.3 264.0 598.2 264.4 598.4 264.7 597.0 265.1 598.2 265.4 598.6 265.8 598.2 266.1 598.8 266.5 597.4 266.8 598.4 267.2 598.9 267.5 598.4 267.9 597.9 268.2 596.7 268.6 594.4 268.9 593.8 269.3 590.8 269.6 589.6 270.0 592.3 270.3 592.3 270.7 595.2 271.0 597.7 271.4 598.5 271.7 597.6 272.1 598.2 272.4 598.7 272.8 598.2 273.1 597.6 273.5 598.7 273.8 598.5 274.2 598.4 274.5 599.3 274.9 598.6 275.2 597.9 275.6 598.5 275.9 600.1 276.3 597.7 276.6 598.1 277.0 597.6 277.3 598.6 277.7 597.2 278.0 598.7 278.4 599.0 278.7 597.5 279.1 597.4 279.4 596.8 279.8 598.1 280.1 596.9 280.5 596.9 280.8 596.2 281.2 594.0 281.5 592.2 281.9 589.4 282.2 584.5 282.6 587.6 282.9 592.1 283.3 593.9 283.6 596.2 284.0 597.7 284.3 599.2 284.7 599.1 285.0 597.9 285.4 598.3 285.7 597.9 286.1 598.1 286.4 597.3 286.8 596.8 287.1 598.0 287.5 599.3 287.8 599.1 288.2 596.7 288.5 598.2 288.9 597.8 289.2 598.7 289.6 597.4 289.9 599.2 290.3 598.2 290.6 599.0 291.0 599.2 291.3 596.7 291.7 598.2 292.0 599.8 292.4 598.5 292.7 599.4 293.1 598.8 293.4 598.0 293.8 598.7 294.1 599.4 294.5 599.6 294.8 599.8 295.2 597.5 295.5 599.2 295.9 597.2 296.2 598.3 296.6 598.3 296.9 599.0 297.3 598.7 297.6 599.6 298.0 597.9 298.3 599.2 298.7 598.8 299.0 598.5 299.4 597.4 299.7 599.0 300.1 598.7 300.4 599.2 300.8 598.4 301.1 598.2 301.5 598.8 301.8 598.9 302.2 599.1 302.5 600.2 302.9 597.9 303.2 600.3 303.6 595.8 303.9 599.3 304.3 597.7 304.6 600.3 305.0 597.7 305.3 599.4 305.7 597.6 306.0 597.4 306.4 599.2 306.7 599.2 307.1 597.8 307.4 600.6 307.8 598.2 308.1 599.8 308.5 597.5 308.8 597.6 309.2 598.5 309.5 597.5 309.9 598.8 310.2 596.5 310.6 598.5 310.9 597.9 311.3 597.5 311.6 598.5 312.0 598.1 312.3 597.8 312.7 598.9 313.0 598.3 313.4 598.0 313.7 598.3 314.1 596.0 314.4 595.3 314.8 592.5 315.1 592.2 315.5 592.1 315.8 592.4 316.2 593.1 316.5 594.8 316.9 596.2 317.2 598.2 317.6 597.9 317.9 597.9 318.3 598.7 318.6 598.9 319.0 599.6 319.3 597.8 319.7 598.9 320.0 599.0 320.4 597.5 320.7 598.5 321.1 597.6 321.4 598.2 321.8 598.8 322.1 596.9 322.5 597.7 322.8 597.7 323.2 598.5 323.5 597.8 323.9 598.8 324.2 597.7 324.6 598.0 324.9 599.0 325.3 598.7 325.6 598.6 326.0 598.4 326.3 599.3 326.7 599.7 327.0 598.1 327.4 597.8 327.7 597.5 328.1 600.0 328.4 597.6 328.8 597.2 329.1 598.7 329.5 599.4 329.8 597.3 330.2 598.3 330.5 597.1 330.9 597.7 331.2 599.8 331.6 598.5 331.9 598.0 332.3 598.3 332.6 598.3 333.0 597.6 333.3 595.9 333.7 594.6 334.0 595.6 334.4 591.4 334.7 592.6 335.1 592.0 335.4 595.7 335.8 596.9 336.1 597.1 336.5 599.7 336.8 597.3 337.2 598.0 337.5 597.5" fill="none" stroke="#f11" stroke-width="2.4" stroke-linejoin="round" opacity="0.5"/>
<path d="M56.8 603.3a1.4 1.4 0 1 0 2.8 0a1.4 1.4 0 1 0-2.8 0M57.2 603.6a1.4 1.4 0 1 0 2.8 0a1.4 1.4 0 1 0-2.8 0M57.5 603.1a1.4 1.4 0 1 0 2.8 0a1.4 1.4 0 1 0-2.8 0M57.9 603.6a1.4 1.4 0 1 0 2.8 0a1.4 1.4 0 1 0-2.8 0M58.2 605.2a1.4 1.4 0 1 0 2.8 0a1.4 1.4 0 1 0-2.8 0M58.6 602.4a1.4 1.4 0 1 0 2.8 0a1.4 1.4 0 1 0-2.8 0M58.9 602.7a1.4 1.4 0 1 0 2.8 0a1.4 1.4 0 1 0-2.8 0M59.3 603.0a1.4 1.4 0 1 0 2.8 0a1.4 1.4 0 1 0-2.8 0M59.6 603.3a1.4 1.4 0 1 0 2.8 0a1.4 1.4 0 1 0-2.8 0M60.0 604.6a1.4 1.4 0 1 0 2.8 0a1.4 1.4 0 1 0-2.8 0M60.3 604.3a1.4 1.4 0 1 0 2.8 0a1.4 1.4 0 1 0-2.8 0M60.7 604.1a1.4 1.4 0 1 0 2.8 0a1.4 1.4 0 1 0-2.8 0M61.0 603.8a1.4 1.4 0 1 0 2.8 0a1.4 1.4 0 1 0-2.8 0M61.4 605.6a1.4 1.4 0 1 0 2.8 0a1.4 1.4 0 1 0-2.8 0M61.7 602.6a1.4 1.4 0 1 0 2.8 0a1.4 1.4 0 1 0-2.8 0M62.1 602.6a1.4 1.4 0 1 0 2.8 0a1.4 1.4 0 1 0-2.8 0M62.4 603.5a1.4 1.4 0 1 0 2.8 0a1.4 1.4 0 1 0-2.8 0M62.8 603.6a1.4 1.4 0 1 0 2.8 0a1.4 1.4 0 1 0-2.8 0M63.1 603.2a1.4 1.4 0 1 0 2.8 0a1.4 1.4 0 1 0-2.8 0M63.5 602.7a1.4 1.4 0 1 0 2.8 0a1.4 1.4 0 1 0-2.8 0M63.8 602.3a1.4 1.4 0 1 0 2.8 0a1.4 1.4 0 1 0-2.8 0M64.2 603.1a1.4 1.4 0 1 0 2.8 0a1.4 1.4 0 1 0-2.8 0M64.5 602.7a1.4 1.4 0 1 0 2.8 0a1.4 1.4 0 1 0-2.8 0M64.9 602.9a1.4 1.4 0 1 0 2.8 0a1.4 1.4 0 1 0-2.8 0M65.2 602.4a1.4 1.4 0 1 0 2.8 0a1.4 1.4 0 1 0-2.8 0M65.6 604.4a1.4 1.4 0 1 0 2.8 0a1.4 1.4 0 1 0-2.8 0M65.9 603.6a1.4 1.4 0 1 0 2.8 0a1.4 1.4 0 1 0-2.8 0M66.3 604.7a1.4 1.4 0 1 0 2.8 0a1.4 1.4 0 1 0-2.8 0M66.6 602.7a1.4 1.4 0 1 0 2.8 0a1.4 1.4 0 1 0-2.8 0M67.0 603.2a1.4 1.4 0 1 0 2.8 0a1.4 1.4 0 1 0-2.8 0M67.3 602.9a1.4 1.4 0 1 0 2.8 0a1.4 1.4 0 1 0-2.8 0M67.7 603.1a1.4 1.4 0 1 0 2.8 0a1.4 1.4 0 1 0-2.8 0M68.0 602.8a1.4 1.4 0 1 0 2.8 0a1.4 1.4 0 1 0-2.8 0M68.4 602.9a1.4 1.4 0 1 0 2.8 0a1.4 1.4 0 1 0-2.8 0M68.7 601.3a1.4 1.4 0 1 0 2.8 0a1.4 1.4 0 1 0-2.8 0M69.1 602.7a1.4 1.4 0 1 0 2.8 0a1.4 1.4 0 1 0-2.8 0M69.4 603.5a1.4 1.4 0 1 0 2.8 0a1.4 1.4 0 1 0-2.8 0M69.8 601.2a1.4 1.4 0 1 0 2.8 0a1.4 1.4 0 1 0-2.8 0M70.1 602.6a1.4 1.4 0 1 0 2.8 0a1.4 1.4 0 1 0-2.8 0M70.5 603.3a1.4 1.4 0 1 0 2.8 0a1.4 1.4 0 1 0-2.8 0M70.8 603.9a1.4 1.4 0 1 0 2.8 0a1.4 1.4 0 1 0-2.8 0M71.2 602.7a1.4 1.4 0 1 0 2.8 0a1.4 1.4 0 1 0-2.8 0M71.5 603.1a1.4 1.4 0 1 0 2.8 0a1.4 1.4 0 1 0-2.8 0M71.9 604.2a1.4 1.4 0 1 0 2.8 0a1.4 1.4 0 1 0-2.8 0M72.2 603.7a1.4 1.4 0 1 0 2.8 0a1.4 1.4 0 1 0-2.8 0M72.6 602.2a1.4 1.4 0 1 0 2.8 0a1.4 1.4 0 1 0-2.8 0M72.9 602.1a1.4 1.4 0 1 0 2.8 0a1.4 1.4 0 1 0-2.8 0M73.3 603.4a1.4 1.4 0 1 0 2.8 0a1.4 1.4 0 1 0-2.8 0M73.6 602.7a1.4 1.4 0 1 0 2.8 0a1.4 1.4 0 1 0-2.8 0M74.0 602.0a1.4 1.4 0 1 0 2.8 0a1.4 1.4 0 1 0-2.8 0M74.3 602.2a1.4 1.4 0 1 0 2.8 0a1.4 1.4 0 1 0-2.8 0M74.7 602.7a1.4 1.4 0 1 0 2.8 0a1.4 1.4 0 1 0-2.8 0M75.0 602.2a1.4 1.4 0 1 0 2.8 0a1.4 1.4 0 1 0-2.8 0M75.4 602.1a1.4 1.4 0 1 0 2.8 0a1.4 1.4 0 1 0-2.8 0M75.7 602.1a1.4 1.4 0 1 0 2.8 0a1.4 1.4 0 1 0-2.8 0M76.1 600.9a1.4 1.4 0 1 0 2.8 0a1.4 1.4 0 1 0-2.8 0M76.4 603.6a1.4 1.4 0 1 0 2.8 0a1.4 1.4 0 1 0-2.8 0M76.8 603.1a1.4 1.4 0 1 0 2.8 0a1.4 1.4 0 1 0-2.8 0M77.1 603.3a1.4 1.4 0 1 0 2.8 0a1.4 1.4 0 1 0-2.8 0M77.5 601.7a1.4 1.4 0 1 0 2.8 0a1.4 1.4 0 1 0-2.8 0M77.8 601.8a1.4 1.4 0 1 0 2.8 0a1.4 1.4 0 1 0-2.8 0M78.2 601.9a1.4 1.4 0 1 0 2.8 0a1.4 1.4 0 1 0-2.8 0M78.5 601.6a1.4 1.4 0 1 0 2.8 0a1.4 1.4 0 1 0-2.8 0M78.9 597.8a1.4 1.4 0 1 0 2.8 0a1.4 1.4 0 1 0-2.8 0M79.2 594.8a1.4 1.4 0 1 0 2.8 0a1.4 1.4 0 1 0-2.8 0M79.6 583.8a1.4 1.4 0 1 0 2.8 0a1.4 1.4 0 1 0-2.8 0M79.9 576.6a1.4 1.4 0 1 0 2.8 0a1.4 1.4 0 1 0-2.8 0M80.3 581.4a1.4 1.4 0 1 0 2.8 0a1.4 1.4 0 1 0-2.8 0M80.6 593.8a1.4 1.4 0 1 0 2.8 0a1.4 1.4 0 1 0-2.8 0M81.0 598.9a1.4 1.4 0 1 0 2.8 0a1.4 1.4 0 1 0-2.8 0M81.3 600.5a1.4 1.4 0 1 0 2.8 0a1.4 1.4 0 1 0-2.8 0M81.7 602.2a1.4 1.4 0 1 0 2.8 0a1.4 1.4 0 1 0-2.8 0M82.0 601.2a1.4 1.4 0 1 0 2.8 0a1.4 1.4 0 1 0-2.8 0M82.4 600.8a1.4 1.4 0 1 0 2.8 0a1.4 1.4 0 1 0-2.8 0M82.7 601.3a1.4 1.4 0 1 0 2.8 0a1.4 1.4 0 1 0-2.8 0M83.1 601.2a1.4 1.4 0 1 0 2.8 0a1.4 1.4 0 1 0-2.8 0M83.4 601.6a1.4 1.4 0 1 0 2.8 0a1.4 1.4 0 1 0-2.8 0M83.8 602.3a1.4 1.4 0 1 0 2.8 0a1.4 1.4 0 1 0-2.8 0M84.1 601.5a1.4 1.4 0 1 0 2.8 0a1.4 1.4 0 1 0-2.8 0M84.5 601.5a1.4 1.4 0 1 0 2.8 0a1.4 1.4 0 1 0-2.8 0M84.8 602.4a1.4 1.4 0 1 0 2.8 0a1.4 1.4 0 1 0-2.8 0M85.2 601.8a1.4 1.4 0 1 0 2.8 0a1.4 1.4 0 1 0-2.8 0M85.5 602.3a1.4 1.4 0 1 0 2.8 0a1.4 1.4 0 1 0-2.8 0M85.9 601.6a1.4 1.4 0 1 0 2.8 0a1.4 1.4 0 1 0-2.8 0M86.2 600.4a1.4 1.4 0 1 0 2.8 0a1.4 1.4 0 1 0-2.8 0M86.6 600.5a1.4 1.4 0 1 0 2.8 0a1.4 1.4 0 1 0-2.8 0M86.9 600.0a1.4 1.4 0 1 0 2.8 0a1.4 1.4 0 1 0-2.8 0M87.3 602.4a1.4 1.4 0 1 0 2.8 0a1.4 1.4 0 1 0-2.8 0M87.6 601.7a1.4 1.4 0 1 0 2.8 0a1.4 1.4 0 1 0-2.8 0M88.0 600.9a1.4 1.4 0 1 0 2.8 0a1.4 1.4 0 1 0-2.8 0M88.3 600.5a1.4 1.4 0 1 0 2.8 0a1.4 1.4 0 1 0-2.8 0M88.7 601.6a1.4 1.4 0 1 0 2.8 0a1.4 1.4 0 1 0-2.8 0M89.0 601.2a1.4 1.4 0 1 0 2.8 0a1.4 1.4 0 1 0-2.8 0M89.4 601.5a1.4 1.4 0 1 0 2.8 0a1.4 1.4 0 1 0-2.8 0M89.7 600.5a1.4 1.4 0 1 0 2.8 0a1.4 1.4 0 1 0-2.8 0M90.1 600.2a1.4 1.4 0 1 0 2.8 0a1.4 1.4 0 1 0-2.8 0M90.4 602.5a1.4 1.4 0 1 0 2.8 0a1.4 1.4 0 1 0-2.8 0M90.8 600.3a1.4 1.4 0 1 0 2.8 0a1.4 1.4 0 1 0-2.8 0M91.1 601.1a1.4 1.4 0 1 0 2.8 0a1.4 1.4 0 1 0-2.8 0M91.5 602.2a1.4 1.4 0 1 0 2.8 0a1.4 1.4 0 1 0-2.8 0M91.8 599.5a1.4 1.4 0 1 0 2.8 0a1.4 1.4 0 1 0-2.8 0M92.2 601.6a1.4 1.4 0 1 0 2.8 0a1.4 1.4 0 1 0-2.8 0M92.5 601.0a1.4 1.4 0 1 0 2.8 0a1.4 1.4 0 1 0-2.8 0M92.9 600.8a1.4 1.4 0 1 0 2.8 0a1.4 1.4 0 1 0-2.8 0M93.2 601.2a1.4 1.4 0 1 0 2.8 0a1.4 1.4 0 1 0-2.8 0M93.6 599.9a1.4 1.4 0 1 0 2.8 0a1.4 1.4 0 1 0-2.8 0M93.9 599.0a1.4 1.4 0 1 0 2.8 0a1.4 1.4 0 1 0-2.8 0M94.3 602.4a1.4 1.4 0 1 0 2.8 0a1.4 1.4 0 1 0-2.8 0M94.6 600.6a1.4 1.4 0 1 0 2.8 0a1.4 1.4 0 1 0-2.8 0M95.0 601.5a1.4 1.4 0 1 0 2.8 0a1.4 1.4 0 1 0-2.8 0M95.3 601.7a1.4 1.4 0 1 0 2.8 0a1.4 1.4 0 1 0-2.8 0M95.7 601.0a1.4 1.4 0 1 0 2.8 0a1.4 1.4 0 1 0-2.8 0M96.0 601.1a1.4 1.4 0 1 0 2.8 0a1.4 1.4 0 1 0-2.8 0M96.4 601.3a1.4 1.4 0 1 0 2.8 0a1.4 1.4 0 1 0-2.8 0M96.7 602.0a1.4 1.4 0 1 0 2.8 0a1.4 1.4 0 1 0-2.8 0M97.1 601.0a1.4 1.4 0 1 0 2.8 0a1.4 1.4 0 1 0-2.8 0M97.4 601.6a1.4 1.4 0 1 0 2.8 0a1.4 1.4 0 1 0-2.8 0M97.8 600.3a1.4 1.4 0 1 0 2.8 0a1.4 1.4 0 1 0-2.8 0M98.1 600.2a1.4 1.4 0 1 0 2.8 0a1.4 1.4 0 1 0-2.8 0M98.5 600.6a1.4 1.4 0 1 0 2.8 0a1.4 1.4 0 1 0-2.8 0M98.8 600.8a1.4 1.4 0 1 0 2.8 0a1.4 1.4 0 1 0-2.8 0M99.2 600.9a1.4 1.4 0 1 0 2.8 0a1.4 1.4 0 1 0-2.8 0M99.5 602.1a1.4 1.4 0 1 0 2.8 0a1.4 1.4 0 1 0-2.8 0M99.9 601.1a1.4 1.4 0 1 0 2.8 0a1.4 1.4 0 1 0-2.8 0M100.2 600.4a1.4 1.4 0 1 0 2.8 0a1.4 1.4 0 1 0-2.8 0M100.6 602.0a1.4 1.4 0 1 0 2.8 0a1.4 1.4 0 1 0-2.8 0M100.9 600.6a1.4 1.4 0 1 0 2.8 0a1.4 1.4 0 1 0-2.8 0M101.3 600.6a1.4 1.4 0 1 0 2.8 0a1.4 1.4 0 1 0-2.8 0M101.6 600.7a1.4 1.4 0 1 0 2.8 0a1.4 1.4 0 1 0-2.8 0M102.0 600.0a1.4 1.4 0 1 0 2.8 0a1.4 1.4 0 1 0-2.8 0M102.3 599.4a1.4 1.4 0 1 0 2.8 0a1.4 1.4 0 1 0-2.8 0M102.7 600.4a1.4 1.4 0 1 0 2.8 0a1.4 1.4 0 1 0-2.8 0M103.0 600.0a1.4 1.4 0 1 0 2.8 0a1.4 1.4 0 1 0-2.8 0M103.4 599.5a1.4 1.4 0 1 0 2.8 0a1.4 1.4 0 1 0-2.8 0M103.7 600.3a1.4 1.4 0 1 0 2.8 0a1.4 1.4 0 1 0-2.8 0M104.1 600.0a1.4 1.4 0 1 0 2.8 0a1.4 1.4 0 1 0-2.8 0M104.4 599.6a1.4 1.4 0 1 0 2.8 0a1.4 1.4 0 1 0-2.8 0M104.8 598.6a1.4 1.4 0 1 0 2.8 0a1.4 1.4 0 1 0-2.8 0M105.1 600.0a1.4 1.4 0 1 0 2.8 0a1.4 1.4 0 1 0-2.8 0M105.5 601.6a1.4 1.4 0 1 0 2.8 0a1.4 1.4 0 1 0-2.8 0M105.8 600.8a1.4 1.4 0 1 0 2.8 0a1.4 1.4 0 1 0-2.8 0M106.2 600.9a1.4 1.4 0 1 0 2.8 0a1.4 1.4 0 1 0-2.8 0M106.5 600.0a1.4 1.4 0 1 0 2.8 0a1.4 1.4 0 1 0-2.8 0M106.9 600.9a1.4 1.4 0 1 0 2.8 0a1.4 1.4 0 1 0-2.8 0M107.2 599.4a1.4 1.4 0 1 0 2.8 0a1.4 1.4 0 1 0-2.8 0M107.6 599.6a1.4 1.4 0 1 0 2.8 0a1.4 1.4 0 1 0-2.8 0M107.9 600.4a1.4 1.4 0 1 0 2.8 0a1.4 1.4 0 1 0-2.8 0M108.3 598.7a1.4 1.4 0 1 0 2.8 0a1.4 1.4 0 1 0-2.8 0M108.6 599.9a1.4 1.4 0 1 0 2.8 0a1.4 1.4 0 1 0-2.8 0M109.0 600.1a1.4 1.4 0 1 0 2.8 0a1.4 1.4 0 1 0-2.8 0M109.3 601.3a1.4 1.4 0 1 0 2.8 0a1.4 1.4 0 1 0-2.8 0M109.7 599.2a1.4 1.4 0 1 0 2.8 0a1.4 1.4 0 1 0-2.8 0M110.0 600.2a1.4 1.4 0 1 0 2.8 0a1.4 1.4 0 1 0-2.8 0M110.4 599.2a1.4 1.4 0 1 0 2.8 0a1.4 1.4 0 1 0-2.8 0M110.7 599.3a1.4 1.4 0 1 0 2.8 0a1.4 1.4 0 1 0-2.8 0M111.1 597.5a1.4 1.4 0 1 0 2.8 0a1.4 1.4 0 1 0-2.8 0M111.4 598.9a1.4 1.4 0 1 0 2.8 0a1.4 1.4 0 1 0-2.8 0M111.8 600.7a1.4 1.4 0 1 0 2.8 0a1.4 1.4 0 1 0-2.8 0M112.1 600.1a1.4 1.4 0 1 0 2.8 0a1.4 1.4 0 1 0-2.8 0M112.5 599.8a1.4 1.4 0 1 0 2.8 0a1.4 1.4 0 1 0-2.8 0M112.8 601.7a1.4 1.4 0 1 0 2.8 0a1.4 1.4 0 1 0-2.8 0M113.2 600.1a1.4 1.4 0 1 0 2.8 0a1.4 1.4 0 1 0-2.8 0M113.5 598.6a1.4 1.4 0 1 0 2.8 0a1.4 1.4 0 1 0-2.8 0M113.9 599.4a1.4 1.4 0 1 0 2.8 0a1.4 1.4 0 1 0-2.8 0M114.2 599.5a1.4 1.4 0 1 0 2.8 0a1.4 1.4 0 1 0-2.8 0M114.6 600.9a1.4 1.4 0 1 0 2.8 0a1.4 1.4 0 1 0-2.8 0M114.9 598.8a1.4 1.4 0 1 0 2.8 0a1.4 1.4 0 1 0-2.8 0M115.3 599.9a1.4 1.4 0 1 0 2.8 0a1.4 1.4 0 1 0-2.8 0M115.6 600.3a1.4 1.4 0 1 0 2.8 0a1.4 1.4 0 1 0-2.8 0M116.0 598.8a1.4 1.4 0 1 0 2.8 0a1.4 1.4 0 1 0-2.8 0M116.3 599.5a1.4 1.4 0 1 0 2.8 0a1.4 1.4 0 1 0-2.8 0M116.7 597.7a1.4 1.4 0 1 0 2.8 0a1.4 1.4 0 1 0-2.8 0M117.0 599.5a1.4 1.4 0 1 0 2.8 0a1.4 1.4 0 1 0-2.8 0M117.4 597.5a1.4 1.4 0 1 0 2.8 0a1.4 1.4 0 1 0-2.8 0M117.7 599.0a1.4 1.4 0 1 0 2.8 0a1.4 1.4 0 1 0-2.8 0M118.1 600.8a1.4 1.4 0 1 0 2.8 0a1.4 1.4 0 1 0-2.8 0M118.4 599.6a1.4 1.4 0 1 0 2.8 0a1.4 1.4 0 1 0-2.8 0M118.8 599.3a1.4 1.4 0 1 0 2.8 0a1.4 1.4 0 1 0-2.8 0M119.1 599.4a1.4 1.4 0 1 0 2.8 0a1.4 1.4 0 1 0-2.8 0M119.5 601.1a1.4 1.4 0 1 0 2.8 0a1.4 1.4 0 1 0-2.8 0M119.8 599.7a1.4 1.4 0 1 0 2.8 0a1.4 1.4 0 1 0-2.8 0M120.2 600.1a1.4 1.4 0 1 0 2.8 0a1.4 1.4 0 1 0-2.8 0M120.5 598.8a1.4 1.4 0 1 0 2.8 0a1.4 1.4 0 1 0-2.8 0M120.9 598.8a1.4 1.4 0 1 0 2.8 0a1.4 1.4 0 1 0-2.8 0M121.2 598.3a1.4 1.4 0 1 0 2.8 0a1.4 1.4 0 1 0-2.8 0M121.6 599.0a1.4 1.4 0 1 0 2.8 0a1.4 1.4 0 1 0-2.8 0M121.9 598.5a1.4 1.4 0 1 0 2.8 0a1.4 1.4 0 1 0-2.8 0M122.3 599.9a1.4 1.4 0 1 0 2.8 0a1.4 1.4 0 1 0-2.8 0M122.6 599.6a1.4 1.4 0 1 0 2.8 0a1.4 1.4 0 1 0-2.8 0M123.0 598.9a1.4 1.4 0 1 0 2.8 0a1.4 1.4 0 1 0-2.8 0M123.3 598.6a1.4 1.4 0 1 0 2.8 0a1.4 1.4 0 1 0-2.8 0M123.7 596.6a1.4 1.4 0 1 0 2.8 0a1.4 1.4 0 1 0-2.8 0M124.0 598.5a1.4 1.4 0 1 0 2.8 0a1.4 1.4 0 1 0-2.8 0M124.4 599.2a1.4 1.4 0 1 0 2.8 0a1.4 1.4 0 1 0-2.8 0M124.7 599.5a1.4 1.4 0 1 0 2.8 0a1.4 1.4 0 1 0-2.8 0M125.1 596.3a1.4 1.4 0 1 0 2.8 0a1.4 1.4 0 1 0-2.8 0M125.4 596.9a1.4 1.4 0 1 0 2.8 0a1.4 1.4 0 1 0-2.8 0M125.8 599.0a1.4 1.4 0 1 0 2.8 0a1.4 1.4 0 1 0-2.8 0M126.1 598.0a1.4 1.4 0 1 0 2.8 0a1.4 1.4 0 1 0-2.8 0M126.5 598.6a1.4 1.4 0 1 0 2.8 0a1.4 1.4 0 1 0-2.8 0M126.8 598.4a1.4 1.4 0 1 0 2.8 0a1.4 1.4 0 1 0-2.8 0M127.2 599.3a1.4 1.4 0 1 0 2.8 0a1.4 1.4 0 1 0-2.8 0M127.5 597.2a1.4 1.4 0 1 0 2.8 0a1.4 1.4 0 1 0-2.8 0M127.9 598.3a1.4 1.4 0 1 0 2.8 0a1.4 1.4 0 1 0-2.8 0M128.2 599.5a1.4 1.4 0 1 0 2.8 0a1.4 1.4 0 1 0-2.8 0M128.6 598.9a1.4 1.4 0 1 0 2.8 0a1.4 1.4 0 1 0-2.8 0M128.9 598.0a1.4 1.4 0 1 0 2.8 0a1.4 1.4 0 1 0-2.8 0M129.3 599.0a1.4 1.4 0 1 0 2.8 0a1.4 1.4 0 1 0-2.8 0M129.6 598.9a1.4 1.4 0 1 0 2.8 0a1.4 1.4 0 1 0-2.8 0M130.0 597.9a1.4 1.4 0 1 0 2.8 0a1.4 1.4 0 1 0-2.8 0M130.3 599.2a1.4 1.4 0 1 0 2.8 0a1.4 1.4 0 1 0-2.8 0M130.7 599.1a1.4 1.4 0 1 0 2.8 0a1.4 1.4 0 1 0-2.8 0M131.0 598.4a1.4 1.4 0 1 0 2.8 0a1.4 1.4 0 1 0-2.8 0M131.4 599.3a1.4 1.4 0 1 0 2.8 0a1.4 1.4 0 1 0-2.8 0M131.7 597.5a1.4 1.4 0 1 0 2.8 0a1.4 1.4 0 1 0-2.8 0M132.1 599.1a1.4 1.4 0 1 0 2.8 0a1.4 1.4 0 1 0-2.8 0M132.4 598.3a1.4 1.4 0 1 0 2.8 0a1.4 1.4 0 1 0-2.8 0M132.8 597.6a1.4 1.4 0 1 0 2.8 0a1.4 1.4 0 1 0-2.8 0M133.1 597.9a1.4 1.4 0 1 0 2.8 0a1.4 1.4 0 1 0-2.8 0M133.5 599.4a1.4 1.4 0 1 0 2.8 0a1.4 1.4 0 1 0-2.8 0M133.8 597.9a1.4 1.4 0 1 0 2.8 0a1.4 1.4 0 1 0-2.8 0M134.2 598.1a1.4 1.4 0 1 0 2.8 0a1.4 1.4 0 1 0-2.8 0M134.5 597.8a1.4 1.4 0 1 0 2.8 0a1.4 1.4 0 1 0-2.8 0M134.9 597.6a1.4 1.4 0 1 0 2.8 0a1.4 1.4 0 1 0-2.8 0M135.2 599.1a1.4 1.4 0 1 0 2.8 0a1.4 1.4 0 1 0-2.8 0M135.6 600.1a1.4 1.4 0 1 0 2.8 0a1.4 1.4 0 1 0-2.8 0M135.9 599.4a1.4 1.4 0 1 0 2.8 0a1.4 1.4 0 1 0-2.8 0M136.3 598.6a1.4 1.4 0 1 0 2.8 0a1.4 1.4 0 1 0-2.8 0M136.6 598.8a1.4 1.4 0 1 0 2.8 0a1.4 1.4 0 1 0-2.8 0M137.0 597.9a1.4 1.4 0 1 0 2.8 0a1.4 1.4 0 1 0-2.8 0M137.3 597.7a1.4 1.4 0 1 0 2.8 0a1.4 1.4 0 1 0-2.8 0M137.7 597.1a1.4 1.4 0 1 0 2.8 0a1.4 1.4 0 1 0-2.8 0M138.0 599.3a1.4 1.4 0 1 0 2.8 0a1.4 1.4 0 1 0-2.8 0M138.4 597.8a1.4 1.4 0 1 0 2.8 0a1.4 1.4 0 1 0-2.8 0M138.7 597.5a1.4 1.4 0 1 0 2.8 0a1.4 1.4 0 1 0-2.8 0M139.1 597.5a1.4 1.4 0 1 0 2.8 0a1.4 1.4 0 1 0-2.8 0M139.4 598.2a1.4 1.4 0 1 0 2.8 0a1.4 1.4 0 1 0-2.8 0M139.8 597.5a1.4 1.4 0 1 0 2.8 0a1.4 1.4 0 1 0-2.8 0M140.1 598.0a1.4 1.4 0 1 0 2.8 0a1.4 1.4 0 1 0-2.8 0M140.5 598.1a1.4 1.4 0 1 0 2.8 0a1.4 1.4 0 1 0-2.8 0M140.8 599.1a1.4 1.4 0 1 0 2.8 0a1.4 1.4 0 1 0-2.8 0M141.2 596.9a1.4 1.4 0 1 0 2.8 0a1.4 1.4 0 1 0-2.8 0M141.5 598.1a1.4 1.4 0 1 0 2.8 0a1.4 1.4 0 1 0-2.8 0M141.9 597.3a1.4 1.4 0 1 0 2.8 0a1.4 1.4 0 1 0-2.8 0M142.2 597.5a1.4 1.4 0 1 0 2.8 0a1.4 1.4 0 1 0-2.8 0M142.6 599.2a1.4 1.4 0 1 0 2.8 0a1.4 1.4 0 1 0-2.8 0M142.9 598.3a1.4 1.4 0 1 0 2.8 0a1.4 1.4 0 1 0-2.8 0M143.3 597.4a1.4 1.4 0 1 0 2.8 0a1.4 1.4 0 1 0-2.8 0M143.6 598.2a1.4 1.4 0 1 0 2.8 0a1.4 1.4 0 1 0-2.8 0M144.0 597.7a1.4 1.4 0 1 0 2.8 0a1.4 1.4 0 1 0-2.8 0M144.3 598.6a1.4 1.4 0 1 0 2.8 0a1.4 1.4 0 1 0-2.8 0M144.7 597.3a1.4 1.4 0 1 0 2.8 0a1.4 1.4 0 1 0-2.8 0M145.0 598.1a1.4 1.4 0 1 0 2.8 0a1.4 1.4 0 1 0-2.8 0M145.4 597.4a1.4 1.4 0 1 0 2.8 0a1.4 1.4 0 1 0-2.8 0M145.7 597.6a1.4 1.4 0 1 0 2.8 0a1.4 1.4 0 1 0-2.8 0M146.1 597.4a1.4 1.4 0 1 0 2.8 0a1.4 1.4 0 1 0-2.8 0M146.4 597.0a1.4 1.4 0 1 0 2.8 0a1.4 1.4 0 1 0-2.8 0M146.8 597.6a1.4 1.4 0 1 0 2.8 0a1.4 1.4 0 1 0-2.8 0M147.1 598.3a1.4 1.4 0 1 0 2.8 0a1.4 1.4 0 1 0-2.8 0M147.5 596.9a1.4 1.4 0 1 0 2.8 0a1.4 1.4 0 1 0-2.8 0M147.8 597.1a1.4 1.4 0 1 0 2.8 0a1.4 1.4 0 1 0-2.8 0M148.2 597.7a1.4 1.4 0 1 0 2.8 0a1.4 1.4 0 1 0-2.8 0M148.5 596.7a1.4 1.4 0 1 0 2.8 0a1.4 1.4 0 1 0-2.8 0M148.9 598.0a1.4 1.4 0 1 0 2.8 0a1.4 1.4 0 1 0-2.8 0M149.2 597.9a1.4 1.4 0 1 0 2.8 0a1.4 1.4 0 1 0-2.8 0M149.6 595.3a1.4 1.4 0 1 0 2.8 0a1.4 1.4 0 1 0-2.8 0M149.9 596.6a1.4 1.4 0 1 0 2.8 0a1.4 1.4 0 1 0-2.8 0M150.3 596.2a1.4 1.4 0 1 0 2.8 0a1.4 1.4 0 1 0-2.8 0M150.6 597.8a1.4 1.4 0 1 0 2.8 0a1.4 1.4 0 1 0-2.8 0M151.0 597.8a1.4 1.4 0 1 0 2.8 0a1.4 1.4 0 1 0-2.8 0M151.3 595.9a1.4 1.4 0 1 0 2.8 0a1.4 1.4 0 1 0-2.8 0M151.7 596.1a1.4 1.4 0 1 0 2.8 0a1.4 1.4 0 1 0-2.8 0M152.0 596.4a1.4 1.4 0 1 0 2.8 0a1.4 1.4 0 1 0-2.8 0M152.4 595.7a1.4 1.4 0 1 0 2.8 0a1.4 1.4 0 1 0-2.8 0M152.7 595.6a1.4 1.4 0 1 0 2.8 0a1.4 1.4 0 1 0-2.8 0M153.1 593.0a1.4 1.4 0 1 0 2.8 0a1.4 1.4 0 1 0-2.8 0M153.4 585.6a1.4 1.4 0 1 0 2.8 0a1.4 1.4 0 1 0-2.8 0M153.8 573.4a1.4 1.4 0 1 0 2.8 0a1.4 1.4 0 1 0-2.8 0M154.1 560.5a1.4 1.4 0 1 0 2.8 0a1.4 1.4 0 1 0-2.8 0M154.5 559.7a1.4 1.4 0 1 0 2.8 0a1.4 1.4 0 1 0-2.8 0M154.8 572.1a1.4 1.4 0 1 0 2.8 0a1.4 1.4 0 1 0-2.8 0M155.2 584.5a1.4 1.4 0 1 0 2.8 0a1.4 1.4 0 1 0-2.8 0M155.5 592.9a1.4 1.4 0 1 0 2.8 0a1.4 1.4 0 1 0-2.8 0M155.9 595.8a1.4 1.4 0 1 0 2.8 0a1.4 1.4 0 1 0-2.8 0M156.2 596.9a1.4 1.4 0 1 0 2.8 0a1.4 1.4 0 1 0-2.8 0M156.6 596.2a1.4 1.4 0 1 0 2.8 0a1.4 1.4 0 1 0-2.8 0M156.9 596.3a1.4 1.4 0 1 0 2.8 0a1.4 1.4 0 1 0-2.8 0M157.3 597.0a1.4 1.4 0 1 0 2.8 0a1.4 1.4 0 1 0-2.8 0M157.6 598.0a1.4 1.4 0 1 0 2.8 0a1.4 1.4 0 1 0-2.8 0M158.0 597.3a1.4 1.4 0 1 0 2.8 0a1.4 1.4 0 1 0-2.8 0M158.3 597.2a1.4 1.4 0 1 0 2.8 0a1.4 1.4 0 1 0-2.8 0M158.7 596.3a1.4 1.4 0 1 0 2.8 0a1.4 1.4 0 1 0-2.8 0M159.0 597.3a1.4 1.4 0 1 0 2.8 0a1.4 1.4 0 1 0-2.8 0M159.4 597.2a1.4 1.4 0 1 0 2.8 0a1.4 1.4 0 1 0-2.8 0M159.7 595.6a1.4 1.4 0 1 0 2.8 0a1.4 1.4 0 1 0-2.8 0M160.1 596.5a1.4 1.4 0 1 0 2.8 0a1.4 1.4 0 1 0-2.8 0M160.4 590.5a1.4 1.4 0 1 0 2.8 0a1.4 1.4 0 1 0-2.8 0M160.8 585.6a1.4 1.4 0 1 0 2.8 0a1.4 1.4 0 1 0-2.8 0M161.1 580.4a1.4 1.4 0 1 0 2.8 0a1.4 1.4 0 1 0-2.8 0M161.5 584.3a1.4 1.4 0 1 0 2.8 0a1.4 1.4 0 1 0-2.8 0M161.8 590.0a1.4 1.4 0 1 0 2.8 0a1.4 1.4 0 1 0-2.8 0M162.2 594.3a1.4 1.4 0 1 0 2.8 0a1.4 1.4 0 1 0-2.8 0M162.5 597.0a1.4 1.4 0 1 0 2.8 0a1.4 1.4 0 1 0-2.8 0M162.9 596.8a1.4 1.4 0 1 0 2.8 0a1.4 1.4 0 1 0-2.8 0M163.2 596.9a1.4 1.4 0 1 0 2.8 0a1.4 1.4 0 1 0-2.8 0M163.6 598.0a1.4 1.4 0 1 0 2.8 0a1.4 1.4 0 1 0-2.8 0M163.9 597.9a1.4 1.4 0 1 0 2.8 0a1.4 1.4 0 1 0-2.8 0M164.3 597.5a1.4 1.4 0 1 0 2.8 0a1.4 1.4 0 1 0-2.8 0M164.6 597.6a1.4 1.4 0 1 0 2.8 0a1.4 1.4 0 1 0-2.8 0M165.0 598.9a1.4 1.4 0 1 0 2.8 0a1.4 1.4 0 1 0-2.8 0M165.3 597.3a1.4 1.4 0 1 0 2.8 0a1.4 1.4 0 1 0-2.8 0M165.7 597.8a1.4 1.4 0 1 0 2.8 0a1.4 1.4 0 1 0-2.8 0M166.0 597.9a1.4 1.4 0 1 0 2.8 0a1.4 1.4 0 1 0-2.8 0M166.4 596.3a1.4 1.4 0 1 0 2.8 0a1.4 1.4 0 1 0-2.8 0M166.7 595.9a1.4 1.4 0 1 0 2.8 0a1.4 1.4 0 1 0-2.8 0M167.1 597.5a1.4 1.4 0 1 0 2.8 0a1.4 1.4 0 1 0-2.8 0M167.4 598.0a1.4 1.4 0 1 0 2.8 0a1.4 1.4 0 1 0-2.8 0M167.8 597.1a1.4 1.4 0 1 0 2.8 0a1.4 1.4 0 1 0-2.8 0M168.1 595.9a1.4 1.4 0 1 0 2.8 0a1.4 1.4 0 1 0-2.8 0M168.5 595.1a1.4 1.4 0 1 0 2.8 0a1.4 1.4 0 1 0-2.8 0M168.8 595.9a1.4 1.4 0 1 0 2.8 0a1.4 1.4 0 1 0-2.8 0M169.2 595.2a1.4 1.4 0 1 0 2.8 0a1.4 1.4 0 1 0-2.8 0M169.5 594.8a1.4 1.4 0 1 0 2.8 0a1.4 1.4 0 1 0-2.8 0M169.9 597.4a1.4 1.4 0 1 0 2.8 0a1.4 1.4 0 1 0-2.8 0M170.2 597.5a1.4 1.4 0 1 0 2.8 0a1.4 1.4 0 1 0-2.8 0M170.6 597.8a1.4 1.4 0 1 0 2.8 0a1.4 1.4 0 1 0-2.8 0M170.9 598.4a1.4 1.4 0 1 0 2.8 0a1.4 1.4 0 1 0-2.8 0M171.3 598.7a1.4 1.4 0 1 0 2.8 0a1.4 1.4 0 1 0-2.8 0M171.6 598.1a1.4 1.4 0 1 0 2.8 0a1.4 1.4 0 1 0-2.8 0M172.0 597.5a1.4 1.4 0 1 0 2.8 0a1.4 1.4 0 1 0-2.8 0M172.3 595.9a1.4 1.4 0 1 0 2.8 0a1.4 1.4 0 1 0-2.8 0M172.7 597.9a1.4 1.4 0 1 0 2.8 0a1.4 1.4 0 1 0-2.8 0M173.0 597.6a1.4 1.4 0 1 0 2.8 0a1.4 1.4 0 1 0-2.8 0M173.4 598.8a1.4 1.4 0 1 0 2.8 0a1.4 1.4 0 1 0-2.8 0M173.7 598.8a1.4 1.4 0 1 0 2.8 0a1.4 1.4 0 1 0-2.8 0M174.1 598.1a1.4 1.4 0 1 0 2.8 0a1.4 1.4 0 1 0-2.8 0M174.4 598.9a1.4 1.4 0 1 0 2.8 0a1.4 1.4 0 1 0-2.8 0M174.8 597.7a1.4 1.4 0 1 0 2.8 0a1.4 1.4 0 1 0-2.8 0M175.1 597.7a1.4 1.4 0 1 0 2.8 0a1.4 1.4 0 1 0-2.8 0M175.5 597.0a1.4 1.4 0 1 0 2.8 0a1.4 1.4 0 1 0-2.8 0M175.8 597.5a1.4 1.4 0 1 0 2.8 0a1.4 1.4 0 1 0-2.8 0M176.2 597.9a1.4 1.4 0 1 0 2.8 0a1.4 1.4 0 1 0-2.8 0M176.5 598.7a1.4 1.4 0 1 0 2.8 0a1.4 1.4 0 1 0-2.8 0M176.9 597.2a1.4 1.4 0 1 0 2.8 0a1.4 1.4 0 1 0-2.8 0M177.2 598.5a1.4 1.4 0 1 0 2.8 0a1.4 1.4 0 1 0-2.8 0M177.6 599.7a1.4 1.4 0 1 0 2.8 0a1.4 1.4 0 1 0-2.8 0M177.9 596.7a1.4 1.4 0 1 0 2.8 0a1.4 1.4 0 1 0-2.8 0M178.3 597.6a1.4 1.4 0 1 0 2.8 0a1.4 1.4 0 1 0-2.8 0M178.6 597.8a1.4 1.4 0 1 0 2.8 0a1.4 1.4 0 1 0-2.8 0M179.0 598.6a1.4 1.4 0 1 0 2.8 0a1.4 1.4 0 1 0-2.8 0M179.3 599.5a1.4 1.4 0 1 0 2.8 0a1.4 1.4 0 1 0-2.8 0M179.7 598.8a1.4 1.4 0 1 0 2.8 0a1.4 1.4 0 1 0-2.8 0M180.0 597.8a1.4 1.4 0 1 0 2.8 0a1.4 1.4 0 1 0-2.8 0M180.4 597.1a1.4 1.4 0 1 0 2.8 0a1.4 1.4 0 1 0-2.8 0M180.7 597.8a1.4 1.4 0 1 0 2.8 0a1.4 1.4 0 1 0-2.8 0M181.1 597.8a1.4 1.4 0 1 0 2.8 0a1.4 1.4 0 1 0-2.8 0M181.4 598.0a1.4 1.4 0 1 0 2.8 0a1.4 1.4 0 1 0-2.8 0M181.8 597.1a1.4 1.4 0 1 0 2.8 0a1.4 1.4 0 1 0-2.8 0M182.1 599.1a1.4 1.4 0 1 0 2.8 0a1.4 1.4 0 1 0-2.8 0M182.5 597.2a1.4 1.4 0 1 0 2.8 0a1.4 1.4 0 1 0-2.8 0M182.8 598.4a1.4 1.4 0 1 0 2.8 0a1.4 1.4 0 1 0-2.8 0M183.2 598.0a1.4 1.4 0 1 0 2.8 0a1.4 1.4 0 1 0-2.8 0M183.5 596.9a1.4 1.4 0 1 0 2.8 0a1.4 1.4 0 1 0-2.8 0M183.9 597.8a1.4 1.4 0 1 0 2.8 0a1.4 1.4 0 1 0-2.8 0M184.2 597.8a1.4 1.4 0 1 0 2.8 0a1.4 1.4 0 1 0-2.8 0M184.6 597.5a1.4 1.4 0 1 0 2.8 0a1.4 1.4 0 1 0-2.8 0M184.9 598.2a1.4 1.4 0 1 0 2.8 0a1.4 1.4 0 1 0-2.8 0M185.3 596.9a1.4 1.4 0 1 0 2.8 0a1.4 1.4 0 1 0-2.8 0M185.6 598.9a1.4 1.4 0 1 0 2.8 0a1.4 1.4 0 1 0-2.8 0M186.0 597.1a1.4 1.4 0 1 0 2.8 0a1.4 1.4 0 1 0-2.8 0M186.3 594.7a1.4 1.4 0 1 0 2.8 0a1.4 1.4 0 1 0-2.8 0M186.7 592.9a1.4 1.4 0 1 0 2.8 0a1.4 1.4 0 1 0-2.8 0M187.0 596.0a1.4 1.4 0 1 0 2.8 0a1.4 1.4 0 1 0-2.8 0M187.4 595.7a1.4 1.4 0 1 0 2.8 0a1.4 1.4 0 1 0-2.8 0M187.7 596.3a1.4 1.4 0 1 0 2.8 0a1.4 1.4 0 1 0-2.8 0M188.1 596.1a1.4 1.4 0 1 0 2.8 0a1.4 1.4 0 1 0-2.8 0M188.4 596.1a1.4 1.4 0 1 0 2.8 0a1.4 1.4 0 1 0-2.8 0M188.8 596.0a1.4 1.4 0 1 0 2.8 0a1.4 1.4 0 1 0-2.8 0M189.1 599.9a1.4 1.4 0 1 0 2.8 0a1.4 1.4 0 1 0-2.8 0M189.5 599.1a1.4 1.4 0 1 0 2.8 0a1.4 1.4 0 1 0-2.8 0M189.8 597.4a1.4 1.4 0 1 0 2.8 0a1.4 1.4 0 1 0-2.8 0M190.2 599.4a1.4 1.4 0 1 0 2.8 0a1.4 1.4 0 1 0-2.8 0M190.5 596.3a1.4 1.4 0 1 0 2.8 0a1.4 1.4 0 1 0-2.8 0M190.9 598.5a1.4 1.4 0 1 0 2.8 0a1.4 1.4 0 1 0-2.8 0M191.2 598.5a1.4 1.4 0 1 0 2.8 0a1.4 1.4 0 1 0-2.8 0M191.6 597.2a1.4 1.4 0 1 0 2.8 0a1.4 1.4 0 1 0-2.8 0M191.9 597.5a1.4 1.4 0 1 0 2.8 0a1.4 1.4 0 1 0-2.8 0M192.3 597.0a1.4 1.4 0 1 0 2.8 0a1.4 1.4 0 1 0-2.8 0M192.6 598.0a1.4 1.4 0 1 0 2.8 0a1.4 1.4 0 1 0-2.8 0M193.0 599.0a1.4 1.4 0 1 0 2.8 0a1.4 1.4 0 1 0-2.8 0M193.3 598.8a1.4 1.4 0 1 0 2.8 0a1.4 1.4 0 1 0-2.8 0M193.7 598.3a1.4 1.4 0 1 0 2.8 0a1.4 1.4 0 1 0-2.8 0M194.0 598.9a1.4 1.4 0 1 0 2.8 0a1.4 1.4 0 1 0-2.8 0M194.4 596.4a1.4 1.4 0 1 0 2.8 0a1.4 1.4 0 1 0-2.8 0M194.7 599.7a1.4 1.4 0 1 0 2.8 0a1.4 1.4 0 1 0-2.8 0M195.1 597.9a1.4 1.4 0 1 0 2.8 0a1.4 1.4 0 1 0-2.8 0M195.4 596.8a1.4 1.4 0 1 0 2.8 0a1.4 1.4 0 1 0-2.8 0M195.8 597.6a1.4 1.4 0 1 0 2.8 0a1.4 1.4 0 1 0-2.8 0M196.1 597.4a1.4 1.4 0 1 0 2.8 0a1.4 1.4 0 1 0-2.8 0M196.5 598.0a1.4 1.4 0 1 0 2.8 0a1.4 1.4 0 1 0-2.8 0M196.8 598.2a1.4 1.4 0 1 0 2.8 0a1.4 1.4 0 1 0-2.8 0M197.2 596.0a1.4 1.4 0 1 0 2.8 0a1.4 1.4 0 1 0-2.8 0M197.5 599.0a1.4 1.4 0 1 0 2.8 0a1.4 1.4 0 1 0-2.8 0M197.9 599.4a1.4 1.4 0 1 0 2.8 0a1.4 1.4 0 1 0-2.8 0M198.2 597.1a1.4 1.4 0 1 0 2.8 0a1.4 1.4 0 1 0-2.8 0M198.6 599.2a1.4 1.4 0 1 0 2.8 0a1.4 1.4 0 1 0-2.8 0M198.9 599.0a1.4 1.4 0 1 0 2.8 0a1.4 1.4 0 1 0-2.8 0M199.3 598.8a1.4 1.4 0 1 0 2.8 0a1.4 1.4 0 1 0-2.8 0M199.6 599.3a1.4 1.4 0 1 0 2.8 0a1.4 1.4 0 1 0-2.8 0M200.0 596.7a1.4 1.4 0 1 0 2.8 0a1.4 1.4 0 1 0-2.8 0M200.3 598.5a1.4 1.4 0 1 0 2.8 0a1.4 1.4 0 1 0-2.8 0M200.7 597.0a1.4 1.4 0 1 0 2.8 0a1.4 1.4 0 1 0-2.8 0M201.0 599.8a1.4 1.4 0 1 0 2.8 0a1.4 1.4 0 1 0-2.8 0M201.4 596.9a1.4 1.4 0 1 0 2.8 0a1.4 1.4 0 1 0-2.8 0M201.7 596.4a1.4 1.4 0 1 0 2.8 0a1.4 1.4 0 1 0-2.8 0M202.1 598.0a1.4 1.4 0 1 0 2.8 0a1.4 1.4 0 1 0-2.8 0M202.4 596.5a1.4 1.4 0 1 0 2.8 0a1.4 1.4 0 1 0-2.8 0M202.8 593.9a1.4 1.4 0 1 0 2.8 0a1.4 1.4 0 1 0-2.8 0M203.1 591.2a1.4 1.4 0 1 0 2.8 0a1.4 1.4 0 1 0-2.8 0M203.5 589.1a1.4 1.4 0 1 0 2.8 0a1.4 1.4 0 1 0-2.8 0M203.8 589.8a1.4 1.4 0 1 0 2.8 0a1.4 1.4 0 1 0-2.8 0M204.2 590.1a1.4 1.4 0 1 0 2.8 0a1.4 1.4 0 1 0-2.8 0M204.5 593.2a1.4 1.4 0 1 0 2.8 0a1.4 1.4 0 1 0-2.8 0M204.9 595.3a1.4 1.4 0 1 0 2.8 0a1.4 1.4 0 1 0-2.8 0M205.2 596.9a1.4 1.4 0 1 0 2.8 0a1.4 1.4 0 1 0-2.8 0M205.6 597.5a1.4 1.4 0 1 0 2.8 0a1.4 1.4 0 1 0-2.8 0M205.9 596.6a1.4 1.4 0 1 0 2.8 0a1.4 1.4 0 1 0-2.8 0M206.3 598.0a1.4 1.4 0 1 0 2.8 0a1.4 1.4 0 1 0-2.8 0M206.6 596.7a1.4 1.4 0 1 0 2.8 0a1.4 1.4 0 1 0-2.8 0M207.0 597.6a1.4 1.4 0 1 0 2.8 0a1.4 1.4 0 1 0-2.8 0M207.3 597.6a1.4 1.4 0 1 0 2.8 0a1.4 1.4 0 1 0-2.8 0M207.7 597.6a1.4 1.4 0 1 0 2.8 0a1.4 1.4 0 1 0-2.8 0M208.0 598.9a1.4 1.4 0 1 0 2.8 0a1.4 1.4 0 1 0-2.8 0M208.4 598.8a1.4 1.4 0 1 0 2.8 0a1.4 1.4 0 1 0-2.8 0M208.7 597.6a1.4 1.4 0 1 0 2.8 0a1.4 1.4 0 1 0-2.8 0M209.1 596.9a1.4 1.4 0 1 0 2.8 0a1.4 1.4 0 1 0-2.8 0M209.4 593.8a1.4 1.4 0 1 0 2.8 0a1.4 1.4 0 1 0-2.8 0M209.8 594.3a1.4 1.4 0 1 0 2.8 0a1.4 1.4 0 1 0-2.8 0M210.1 593.6a1.4 1.4 0 1 0 2.8 0a1.4 1.4 0 1 0-2.8 0M210.5 595.2a1.4 1.4 0 1 0 2.8 0a1.4 1.4 0 1 0-2.8 0M210.8 596.6a1.4 1.4 0 1 0 2.8 0a1.4 1.4 0 1 0-2.8 0M211.2 596.1a1.4 1.4 0 1 0 2.8 0a1.4 1.4 0 1 0-2.8 0M211.5 597.2a1.4 1.4 0 1 0 2.8 0a1.4 1.4 0 1 0-2.8 0M211.9 597.8a1.4 1.4 0 1 0 2.8 0a1.4 1.4 0 1 0-2.8 0M212.2 598.3a1.4 1.4 0 1 0 2.8 0a1.4 1.4 0 1 0-2.8 0M212.6 597.9a1.4 1.4 0 1 0 2.8 0a1.4 1.4 0 1 0-2.8 0M212.9 597.3a1.4 1.4 0 1 0 2.8 0a1.4 1.4 0 1 0-2.8 0M213.3 597.1a1.4 1.4 0 1 0 2.8 0a1.4 1.4 0 1 0-2.8 0M213.6 598.1a1.4 1.4 0 1 0 2.8 0a1.4 1.4 0 1 0-2.8 0M214.0 597.1a1.4 1.4 0 1 0 2.8 0a1.4 1.4 0 1 0-2.8 0M214.3 597.1a1.4 1.4 0 1 0 2.8 0a1.4 1.4 0 1 0-2.8 0M214.7 598.0a1.4 1.4 0 1 0 2.8 0a1.4 1.4 0 1 0-2.8 0M215.0 598.3a1.4 1.4 0 1 0 2.8 0a1.4 1.4 0 1 0-2.8 0M215.4 597.5a1.4 1.4 0 1 0 2.8 0a1.4 1.4 0 1 0-2.8 0M215.7 596.7a1.4 1.4 0 1 0 2.8 0a1.4 1.4 0 1 0-2.8 0M216.1 598.4a1.4 1.4 0 1 0 2.8 0a1.4 1.4 0 1 0-2.8 0M216.4 598.9a1.4 1.4 0 1 0 2.8 0a1.4 1.4 0 1 0-2.8 0M216.8 597.8a1.4 1.4 0 1 0 2.8 0a1.4 1.4 0 1 0-2.8 0M217.1 597.9a1.4 1.4 0 1 0 2.8 0a1.4 1.4 0 1 0-2.8 0M217.5 596.2a1.4 1.4 0 1 0 2.8 0a1.4 1.4 0 1 0-2.8 0M217.8 599.0a1.4 1.4 0 1 0 2.8 0a1.4 1.4 0 1 0-2.8 0M218.2 597.3a1.4 1.4 0 1 0 2.8 0a1.4 1.4 0 1 0-2.8 0M218.5 598.8a1.4 1.4 0 1 0 2.8 0a1.4 1.4 0 1 0-2.8 0M218.9 597.7a1.4 1.4 0 1 0 2.8 0a1.4 1.4 0 1 0-2.8 0M219.2 598.1a1.4 1.4 0 1 0 2.8 0a1.4 1.4 0 1 0-2.8 0M219.6 598.1a1.4 1.4 0 1 0 2.8 0a1.4 1.4 0 1 0-2.8 0M219.9 596.7a1.4 1.4 0 1 0 2.8 0a1.4 1.4 0 1 0-2.8 0M220.3 600.6a1.4 1.4 0 1 0 2.8 0a1.4 1.4 0 1 0-2.8 0M220.6 596.9a1.4 1.4 0 1 0 2.8 0a1.4 1.4 0 1 0-2.8 0M221.0 598.3a1.4 1.4 0 1 0 2.8 0a1.4 1.4 0 1 0-2.8 0M221.3 597.5a1.4 1.4 0 1 0 2.8 0a1.4 1.4 0 1 0-2.8 0M221.7 598.0a1.4 1.4 0 1 0 2.8 0a1.4 1.4 0 1 0-2.8 0M222.0 599.4a1.4 1.4 0 1 0 2.8 0a1.4 1.4 0 1 0-2.8 0M222.4 596.7a1.4 1.4 0 1 0 2.8 0a1.4 1.4 0 1 0-2.8 0M222.7 598.1a1.4 1.4 0 1 0 2.8 0a1.4 1.4 0 1 0-2.8 0M223.1 598.7a1.4 1.4 0 1 0 2.8 0a1.4 1.4 0 1 0-2.8 0M223.4 598.4a1.4 1.4 0 1 0 2.8 0a1.4 1.4 0 1 0-2.8 0M223.8 598.6a1.4 1.4 0 1 0 2.8 0a1.4 1.4 0 1 0-2.8 0M224.1 597.6a1.4 1.4 0 1 0 2.8 0a1.4 1.4 0 1 0-2.8 0M224.5 596.9a1.4 1.4 0 1 0 2.8 0a1.4 1.4 0 1 0-2.8 0M224.8 597.1a1.4 1.4 0 1 0 2.8 0a1.4 1.4 0 1 0-2.8 0M225.2 597.9a1.4 1.4 0 1 0 2.8 0a1.4 1.4 0 1 0-2.8 0M225.5 598.9a1.4 1.4 0 1 0 2.8 0a1.4 1.4 0 1 0-2.8 0M225.9 598.3a1.4 1.4 0 1 0 2.8 0a1.4 1.4 0 1 0-2.8 0M226.2 599.6a1.4 1.4 0 1 0 2.8 0a1.4 1.4 0 1 0-2.8 0M226.6 598.4a1.4 1.4 0 1 0 2.8 0a1.4 1.4 0 1 0-2.8 0M226.9 598.4a1.4 1.4 0 1 0 2.8 0a1.4 1.4 0 1 0-2.8 0M227.3 598.4a1.4 1.4 0 1 0 2.8 0a1.4 1.4 0 1 0-2.8 0M227.6 596.8a1.4 1.4 0 1 0 2.8 0a1.4 1.4 0 1 0-2.8 0M228.0 598.8a1.4 1.4 0 1 0 2.8 0a1.4 1.4 0 1 0-2.8 0M228.3 597.3a1.4 1.4 0 1 0 2.8 0a1.4 1.4 0 1 0-2.8 0M228.7 597.9a1.4 1.4 0 1 0 2.8 0a1.4 1.4 0 1 0-2.8 0M229.0 600.3a1.4 1.4 0 1 0 2.8 0a1.4 1.4 0 1 0-2.8 0M229.4 597.2a1.4 1.4 0 1 0 2.8 0a1.4 1.4 0 1 0-2.8 0M229.7 598.4a1.4 1.4 0 1 0 2.8 0a1.4 1.4 0 1 0-2.8 0M230.1 598.5a1.4 1.4 0 1 0 2.8 0a1.4 1.4 0 1 0-2.8 0M230.4 598.4a1.4 1.4 0 1 0 2.8 0a1.4 1.4 0 1 0-2.8 0M230.8 598.3a1.4 1.4 0 1 0 2.8 0a1.4 1.4 0 1 0-2.8 0M231.1 597.8a1.4 1.4 0 1 0 2.8 0a1.4 1.4 0 1 0-2.8 0M231.5 599.9a1.4 1.4 0 1 0 2.8 0a1.4 1.4 0 1 0-2.8 0M231.8 596.5a1.4 1.4 0 1 0 2.8 0a1.4 1.4 0 1 0-2.8 0M232.2 597.4a1.4 1.4 0 1 0 2.8 0a1.4 1.4 0 1 0-2.8 0M232.5 599.5a1.4 1.4 0 1 0 2.8 0a1.4 1.4 0 1 0-2.8 0M232.9 598.7a1.4 1.4 0 1 0 2.8 0a1.4 1.4 0 1 0-2.8 0M233.2 597.5a1.4 1.4 0 1 0 2.8 0a1.4 1.4 0 1 0-2.8 0M233.6 597.4a1.4 1.4 0 1 0 2.8 0a1.4 1.4 0 1 0-2.8 0M233.9 597.9a1.4 1.4 0 1 0 2.8 0a1.4 1.4 0 1 0-2.8 0M234.3 600.4a1.4 1.4 0 1 0 2.8 0a1.4 1.4 0 1 0-2.8 0M234.6 598.5a1.4 1.4 0 1 0 2.8 0a1.4 1.4 0 1 0-2.8 0M235.0 597.2a1.4 1.4 0 1 0 2.8 0a1.4 1.4 0 1 0-2.8 0M235.3 598.2a1.4 1.4 0 1 0 2.8 0a1.4 1.4 0 1 0-2.8 0M235.7 597.4a1.4 1.4 0 1 0 2.8 0a1.4 1.4 0 1 0-2.8 0M236.0 599.1a1.4 1.4 0 1 0 2.8 0a1.4 1.4 0 1 0-2.8 0M236.4 597.9a1.4 1.4 0 1 0 2.8 0a1.4 1.4 0 1 0-2.8 0M236.7 598.6a1.4 1.4 0 1 0 2.8 0a1.4 1.4 0 1 0-2.8 0M237.1 597.5a1.4 1.4 0 1 0 2.8 0a1.4 1.4 0 1 0-2.8 0M237.4 598.9a1.4 1.4 0 1 0 2.8 0a1.4 1.4 0 1 0-2.8 0M237.8 597.3a1.4 1.4 0 1 0 2.8 0a1.4 1.4 0 1 0-2.8 0M238.1 596.9a1.4 1.4 0 1 0 2.8 0a1.4 1.4 0 1 0-2.8 0M238.5 595.5a1.4 1.4 0 1 0 2.8 0a1.4 1.4 0 1 0-2.8 0M238.8 595.7a1.4 1.4 0 1 0 2.8 0a1.4 1.4 0 1 0-2.8 0M239.2 596.1a1.4 1.4 0 1 0 2.8 0a1.4 1.4 0 1 0-2.8 0M239.5 595.0a1.4 1.4 0 1 0 2.8 0a1.4 1.4 0 1 0-2.8 0M239.9 597.3a1.4 1.4 0 1 0 2.8 0a1.4 1.4 0 1 0-2.8 0M240.2 595.0a1.4 1.4 0 1 0 2.8 0a1.4 1.4 0 1 0-2.8 0M240.6 594.2a1.4 1.4 0 1 0 2.8 0a1.4 1.4 0 1 0-2.8 0M240.9 595.6a1.4 1.4 0 1 0 2.8 0a1.4 1.4 0 1 0-2.8 0M241.3 594.2a1.4 1.4 0 1 0 2.8 0a1.4 1.4 0 1 0-2.8 0M241.6 595.0a1.4 1.4 0 1 0 2.8 0a1.4 1.4 0 1 0-2.8 0M242.0 594.5a1.4 1.4 0 1 0 2.8 0a1.4 1.4 0 1 0-2.8 0M242.3 593.6a1.4 1.4 0 1 0 2.8 0a1.4 1.4 0 1 0-2.8 0M242.7 594.7a1.4 1.4 0 1 0 2.8 0a1.4 1.4 0 1 0-2.8 0M243.0 592.0a1.4 1.4 0 1 0 2.8 0a1.4 1.4 0 1 0-2.8 0M243.4 589.9a1.4 1.4 0 1 0 2.8 0a1.4 1.4 0 1 0-2.8 0M243.7 584.1a1.4 1.4 0 1 0 2.8 0a1.4 1.4 0 1 0-2.8 0M244.1 577.1a1.4 1.4 0 1 0 2.8 0a1.4 1.4 0 1 0-2.8 0M244.4 571.1a1.4 1.4 0 1 0 2.8 0a1.4 1.4 0 1 0-2.8 0M244.8 568.1a1.4 1.4 0 1 0 2.8 0a1.4 1.4 0 1 0-2.8 0M245.1 570.1a1.4 1.4 0 1 0 2.8 0a1.4 1.4 0 1 0-2.8 0M245.5 576.1a1.4 1.4 0 1 0 2.8 0a1.4 1.4 0 1 0-2.8 0M245.8 583.0a1.4 1.4 0 1 0 2.8 0a1.4 1.4 0 1 0-2.8 0M246.2 586.9a1.4 1.4 0 1 0 2.8 0a1.4 1.4 0 1 0-2.8 0M246.5 591.8a1.4 1.4 0 1 0 2.8 0a1.4 1.4 0 1 0-2.8 0M246.9 592.7a1.4 1.4 0 1 0 2.8 0a1.4 1.4 0 1 0-2.8 0M247.2 594.0a1.4 1.4 0 1 0 2.8 0a1.4 1.4 0 1 0-2.8 0M247.6 596.7a1.4 1.4 0 1 0 2.8 0a1.4 1.4 0 1 0-2.8 0M247.9 594.5a1.4 1.4 0 1 0 2.8 0a1.4 1.4 0 1 0-2.8 0M248.3 590.9a1.4 1.4 0 1 0 2.8 0a1.4 1.4 0 1 0-2.8 0M248.6 589.1a1.4 1.4 0 1 0 2.8 0a1.4 1.4 0 1 0-2.8 0M249.0 584.1a1.4 1.4 0 1 0 2.8 0a1.4 1.4 0 1 0-2.8 0M249.3 578.6a1.4 1.4 0 1 0 2.8 0a1.4 1.4 0 1 0-2.8 0M249.7 575.5a1.4 1.4 0 1 0 2.8 0a1.4 1.4 0 1 0-2.8 0M250.0 573.6a1.4 1.4 0 1 0 2.8 0a1.4 1.4 0 1 0-2.8 0M250.4 576.8a1.4 1.4 0 1 0 2.8 0a1.4 1.4 0 1 0-2.8 0M250.7 581.1a1.4 1.4 0 1 0 2.8 0a1.4 1.4 0 1 0-2.8 0M251.1 587.4a1.4 1.4 0 1 0 2.8 0a1.4 1.4 0 1 0-2.8 0M251.4 590.0a1.4 1.4 0 1 0 2.8 0a1.4 1.4 0 1 0-2.8 0M251.8 593.4a1.4 1.4 0 1 0 2.8 0a1.4 1.4 0 1 0-2.8 0M252.1 596.0a1.4 1.4 0 1 0 2.8 0a1.4 1.4 0 1 0-2.8 0M252.5 596.1a1.4 1.4 0 1 0 2.8 0a1.4 1.4 0 1 0-2.8 0M252.8 597.4a1.4 1.4 0 1 0 2.8 0a1.4 1.4 0 1 0-2.8 0M253.2 598.9a1.4 1.4 0 1 0 2.8 0a1.4 1.4 0 1 0-2.8 0M253.5 596.7a1.4 1.4 0 1 0 2.8 0a1.4 1.4 0 1 0-2.8 0M253.9 598.9a1.4 1.4 0 1 0 2.8 0a1.4 1.4 0 1 0-2.8 0M254.2 597.2a1.4 1.4 0 1 0 2.8 0a1.4 1.4 0 1 0-2.8 0M254.6 597.1a1.4 1.4 0 1 0 2.8 0a1.4 1.4 0 1 0-2.8 0M254.9 598.1a1.4 1.4 0 1 0 2.8 0a1.4 1.4 0 1 0-2.8 0M255.3 598.9a1.4 1.4 0 1 0 2.8 0a1.4 1.4 0 1 0-2.8 0M255.6 597.4a1.4 1.4 0 1 0 2.8 0a1.4 1.4 0 1 0-2.8 0M256.0 597.5a1.4 1.4 0 1 0 2.8 0a1.4 1.4 0 1 0-2.8 0M256.3 597.7a1.4 1.4 0 1 0 2.8 0a1.4 1.4 0 1 0-2.8 0M256.7 597.5a1.4 1.4 0 1 0 2.8 0a1.4 1.4 0 1 0-2.8 0M257.0 598.3a1.4 1.4 0 1 0 2.8 0a1.4 1.4 0 1 0-2.8 0M257.4 597.6a1.4 1.4 0 1 0 2.8 0a1.4 1.4 0 1 0-2.8 0M257.7 598.0a1.4 1.4 0 1 0 2.8 0a1.4 1.4 0 1 0-2.8 0M258.1 598.5a1.4 1.4 0 1 0 2.8 0a1.4 1.4 0 1 0-2.8 0M258.4 597.9a1.4 1.4 0 1 0 2.8 0a1.4 1.4 0 1 0-2.8 0M258.8 599.2a1.4 1.4 0 1 0 2.8 0a1.4 1.4 0 1 0-2.8 0M259.1 597.7a1.4 1.4 0 1 0 2.8 0a1.4 1.4 0 1 0-2.8 0M259.5 597.6a1.4 1.4 0 1 0 2.8 0a1.4 1.4 0 1 0-2.8 0M259.8 600.0a1.4 1.4 0 1 0 2.8 0a1.4 1.4 0 1 0-2.8 0M260.2 599.6a1.4 1.4 0 1 0 2.8 0a1.4 1.4 0 1 0-2.8 0M260.5 598.4a1.4 1.4 0 1 0 2.8 0a1.4 1.4 0 1 0-2.8 0M260.9 599.0a1.4 1.4 0 1 0 2.8 0a1.4 1.4 0 1 0-2.8 0M261.2 598.6a1.4 1.4 0 1 0 2.8 0a1.4 1.4 0 1 0-2.8 0M261.6 597.9a1.4 1.4 0 1 0 2.8 0a1.4 1.4 0 1 0-2.8 0M261.9 598.9a1.4 1.4 0 1 0 2.8 0a1.4 1.4 0 1 0-2.8 0M262.3 598.6a1.4 1.4 0 1 0 2.8 0a1.4 1.4 0 1 0-2.8 0M262.6 599.4a1.4 1.4 0 1 0 2.8 0a1.4 1.4 0 1 0-2.8 0M263.0 596.7a1.4 1.4 0 1 0 2.8 0a1.4 1.4 0 1 0-2.8 0M263.3 599.0a1.4 1.4 0 1 0 2.8 0a1.4 1.4 0 1 0-2.8 0M263.7 598.4a1.4 1.4 0 1 0 2.8 0a1.4 1.4 0 1 0-2.8 0M264.0 597.7a1.4 1.4 0 1 0 2.8 0a1.4 1.4 0 1 0-2.8 0M264.4 597.9a1.4 1.4 0 1 0 2.8 0a1.4 1.4 0 1 0-2.8 0M264.7 597.9a1.4 1.4 0 1 0 2.8 0a1.4 1.4 0 1 0-2.8 0M265.1 597.1a1.4 1.4 0 1 0 2.8 0a1.4 1.4 0 1 0-2.8 0M265.4 597.7a1.4 1.4 0 1 0 2.8 0a1.4 1.4 0 1 0-2.8 0M265.8 598.7a1.4 1.4 0 1 0 2.8 0a1.4 1.4 0 1 0-2.8 0M266.1 596.6a1.4 1.4 0 1 0 2.8 0a1.4 1.4 0 1 0-2.8 0M266.5 597.2a1.4 1.4 0 1 0 2.8 0a1.4 1.4 0 1 0-2.8 0M266.8 594.8a1.4 1.4 0 1 0 2.8 0a1.4 1.4 0 1 0-2.8 0M267.2 594.8a1.4 1.4 0 1 0 2.8 0a1.4 1.4 0 1 0-2.8 0M267.5 593.6a1.4 1.4 0 1 0 2.8 0a1.4 1.4 0 1 0-2.8 0M267.9 591.2a1.4 1.4 0 1 0 2.8 0a1.4 1.4 0 1 0-2.8 0M268.2 590.5a1.4 1.4 0 1 0 2.8 0a1.4 1.4 0 1 0-2.8 0M268.6 590.7a1.4 1.4 0 1 0 2.8 0a1.4 1.4 0 1 0-2.8 0M268.9 594.3a1.4 1.4 0 1 0 2.8 0a1.4 1.4 0 1 0-2.8 0M269.3 595.0a1.4 1.4 0 1 0 2.8 0a1.4 1.4 0 1 0-2.8 0M269.6 597.8a1.4 1.4 0 1 0 2.8 0a1.4 1.4 0 1 0-2.8 0M270.0 597.9a1.4 1.4 0 1 0 2.8 0a1.4 1.4 0 1 0-2.8 0M270.3 597.7a1.4 1.4 0 1 0 2.8 0a1.4 1.4 0 1 0-2.8 0M270.7 599.4a1.4 1.4 0 1 0 2.8 0a1.4 1.4 0 1 0-2.8 0M271.0 597.9a1.4 1.4 0 1 0 2.8 0a1.4 1.4 0 1 0-2.8 0M271.4 599.1a1.4 1.4 0 1 0 2.8 0a1.4 1.4 0 1 0-2.8 0M271.7 598.4a1.4 1.4 0 1 0 2.8 0a1.4 1.4 0 1 0-2.8 0M272.1 598.3a1.4 1.4 0 1 0 2.8 0a1.4 1.4 0 1 0-2.8 0M272.4 599.2a1.4 1.4 0 1 0 2.8 0a1.4 1.4 0 1 0-2.8 0M272.8 598.7a1.4 1.4 0 1 0 2.8 0a1.4 1.4 0 1 0-2.8 0M273.1 598.3a1.4 1.4 0 1 0 2.8 0a1.4 1.4 0 1 0-2.8 0M273.5 598.2a1.4 1.4 0 1 0 2.8 0a1.4 1.4 0 1 0-2.8 0M273.8 598.5a1.4 1.4 0 1 0 2.8 0a1.4 1.4 0 1 0-2.8 0M274.2 598.4a1.4 1.4 0 1 0 2.8 0a1.4 1.4 0 1 0-2.8 0M274.5 598.1a1.4 1.4 0 1 0 2.8 0a1.4 1.4 0 1 0-2.8 0M274.9 597.5a1.4 1.4 0 1 0 2.8 0a1.4 1.4 0 1 0-2.8 0M275.2 596.1a1.4 1.4 0 1 0 2.8 0a1.4 1.4 0 1 0-2.8 0M275.6 598.2a1.4 1.4 0 1 0 2.8 0a1.4 1.4 0 1 0-2.8 0M275.9 598.1a1.4 1.4 0 1 0 2.8 0a1.4 1.4 0 1 0-2.8 0M276.3 599.3a1.4 1.4 0 1 0 2.8 0a1.4 1.4 0 1 0-2.8 0M276.6 598.7a1.4 1.4 0 1 0 2.8 0a1.4 1.4 0 1 0-2.8 0M277.0 599.2a1.4 1.4 0 1 0 2.8 0a1.4 1.4 0 1 0-2.8 0M277.3 599.7a1.4 1.4 0 1 0 2.8 0a1.4 1.4 0 1 0-2.8 0M277.7 598.1a1.4 1.4 0 1 0 2.8 0a1.4 1.4 0 1 0-2.8 0M278.0 597.4a1.4 1.4 0 1 0 2.8 0a1.4 1.4 0 1 0-2.8 0M278.4 598.7a1.4 1.4 0 1 0 2.8 0a1.4 1.4 0 1 0-2.8 0M278.7 597.4a1.4 1.4 0 1 0 2.8 0a1.4 1.4 0 1 0-2.8 0M279.1 597.3a1.4 1.4 0 1 0 2.8 0a1.4 1.4 0 1 0-2.8 0M279.4 597.8a1.4 1.4 0 1 0 2.8 0a1.4 1.4 0 1 0-2.8 0M279.8 595.1a1.4 1.4 0 1 0 2.8 0a1.4 1.4 0 1 0-2.8 0M280.1 592.4a1.4 1.4 0 1 0 2.8 0a1.4 1.4 0 1 0-2.8 0M280.5 586.9a1.4 1.4 0 1 0 2.8 0a1.4 1.4 0 1 0-2.8 0M280.8 586.5a1.4 1.4 0 1 0 2.8 0a1.4 1.4 0 1 0-2.8 0M281.2 589.3a1.4 1.4 0 1 0 2.8 0a1.4 1.4 0 1 0-2.8 0M281.5 590.8a1.4 1.4 0 1 0 2.8 0a1.4 1.4 0 1 0-2.8 0M281.9 595.1a1.4 1.4 0 1 0 2.8 0a1.4 1.4 0 1 0-2.8 0M282.2 597.0a1.4 1.4 0 1 0 2.8 0a1.4 1.4 0 1 0-2.8 0M282.6 595.6a1.4 1.4 0 1 0 2.8 0a1.4 1.4 0 1 0-2.8 0M282.9 599.3a1.4 1.4 0 1 0 2.8 0a1.4 1.4 0 1 0-2.8 0M283.3 597.5a1.4 1.4 0 1 0 2.8 0a1.4 1.4 0 1 0-2.8 0M283.6 598.1a1.4 1.4 0 1 0 2.8 0a1.4 1.4 0 1 0-2.8 0M284.0 599.7a1.4 1.4 0 1 0 2.8 0a1.4 1.4 0 1 0-2.8 0M284.3 596.8a1.4 1.4 0 1 0 2.8 0a1.4 1.4 0 1 0-2.8 0M284.7 598.7a1.4 1.4 0 1 0 2.8 0a1.4 1.4 0 1 0-2.8 0M285.0 598.0a1.4 1.4 0 1 0 2.8 0a1.4 1.4 0 1 0-2.8 0M285.4 598.4a1.4 1.4 0 1 0 2.8 0a1.4 1.4 0 1 0-2.8 0M285.7 597.7a1.4 1.4 0 1 0 2.8 0a1.4 1.4 0 1 0-2.8 0M286.1 599.5a1.4 1.4 0 1 0 2.8 0a1.4 1.4 0 1 0-2.8 0M286.4 597.4a1.4 1.4 0 1 0 2.8 0a1.4 1.4 0 1 0-2.8 0M286.8 598.7a1.4 1.4 0 1 0 2.8 0a1.4 1.4 0 1 0-2.8 0M287.1 598.9a1.4 1.4 0 1 0 2.8 0a1.4 1.4 0 1 0-2.8 0M287.5 598.3a1.4 1.4 0 1 0 2.8 0a1.4 1.4 0 1 0-2.8 0M287.8 598.2a1.4 1.4 0 1 0 2.8 0a1.4 1.4 0 1 0-2.8 0M288.2 598.2a1.4 1.4 0 1 0 2.8 0a1.4 1.4 0 1 0-2.8 0M288.5 599.3a1.4 1.4 0 1 0 2.8 0a1.4 1.4 0 1 0-2.8 0M288.9 598.8a1.4 1.4 0 1 0 2.8 0a1.4 1.4 0 1 0-2.8 0M289.2 598.4a1.4 1.4 0 1 0 2.8 0a1.4 1.4 0 1 0-2.8 0M289.6 597.5a1.4 1.4 0 1 0 2.8 0a1.4 1.4 0 1 0-2.8 0M289.9 598.6a1.4 1.4 0 1 0 2.8 0a1.4 1.4 0 1 0-2.8 0M290.3 598.9a1.4 1.4 0 1 0 2.8 0a1.4 1.4 0 1 0-2.8 0M290.6 598.4a1.4 1.4 0 1 0 2.8 0a1.4 1.4 0 1 0-2.8 0M291.0 599.7a1.4 1.4 0 1 0 2.8 0a1.4 1.4 0 1 0-2.8 0M291.3 596.8a1.4 1.4 0 1 0 2.8 0a1.4 1.4 0 1 0-2.8 0M291.7 600.6a1.4 1.4 0 1 0 2.8 0a1.4 1.4 0 1 0-2.8 0M292.0 598.3a1.4 1.4 0 1 0 2.8 0a1.4 1.4 0 1 0-2.8 0M292.4 597.5a1.4 1.4 0 1 0 2.8 0a1.4 1.4 0 1 0-2.8 0M292.7 597.0a1.4 1.4 0 1 0 2.8 0a1.4 1.4 0 1 0-2.8 0M293.1 599.2a1.4 1.4 0 1 0 2.8 0a1.4 1.4 0 1 0-2.8 0M293.4 599.0a1.4 1.4 0 1 0 2.8 0a1.4 1.4 0 1 0-2.8 0M293.8 598.3a1.4 1.4 0 1 0 2.8 0a1.4 1.4 0 1 0-2.8 0M294.1 598.4a1.4 1.4 0 1 0 2.8 0a1.4 1.4 0 1 0-2.8 0M294.5 598.6a1.4 1.4 0 1 0 2.8 0a1.4 1.4 0 1 0-2.8 0M294.8 598.1a1.4 1.4 0 1 0 2.8 0a1.4 1.4 0 1 0-2.8 0M295.2 599.4a1.4 1.4 0 1 0 2.8 0a1.4 1.4 0 1 0-2.8 0M295.5 599.0a1.4 1.4 0 1 0 2.8 0a1.4 1.4 0 1 0-2.8 0M295.9 598.4a1.4 1.4 0 1 0 2.8 0a1.4 1.4 0 1 0-2.8 0M296.2 597.1a1.4 1.4 0 1 0 2.8 0a1.4 1.4 0 1 0-2.8 0M296.6 599.6a1.4 1.4 0 1 0 2.8 0a1.4 1.4 0 1 0-2.8 0M296.9 598.1a1.4 1.4 0 1 0 2.8 0a1.4 1.4 0 1 0-2.8 0M297.3 597.6a1.4 1.4 0 1 0 2.8 0a1.4 1.4 0 1 0-2.8 0M297.6 599.6a1.4 1.4 0 1 0 2.8 0a1.4 1.4 0 1 0-2.8 0M298.0 598.9a1.4 1.4 0 1 0 2.8 0a1.4 1.4 0 1 0-2.8 0M298.3 596.8a1.4 1.4 0 1 0 2.8 0a1.4 1.4 0 1 0-2.8 0M298.7 597.1a1.4 1.4 0 1 0 2.8 0a1.4 1.4 0 1 0-2.8 0M299.0 598.1a1.4 1.4 0 1 0 2.8 0a1.4 1.4 0 1 0-2.8 0M299.4 597.4a1.4 1.4 0 1 0 2.8 0a1.4 1.4 0 1 0-2.8 0M299.7 598.3a1.4 1.4 0 1 0 2.8 0a1.4 1.4 0 1 0-2.8 0M300.1 600.7a1.4 1.4 0 1 0 2.8 0a1.4 1.4 0 1 0-2.8 0M300.4 601.0a1.4 1.4 0 1 0 2.8 0a1.4 1.4 0 1 0-2.8 0M300.8 598.4a1.4 1.4 0 1 0 2.8 0a1.4 1.4 0 1 0-2.8 0M301.1 599.2a1.4 1.4 0 1 0 2.8 0a1.4 1.4 0 1 0-2.8 0M301.5 599.2a1.4 1.4 0 1 0 2.8 0a1.4 1.4 0 1 0-2.8 0M301.8 598.4a1.4 1.4 0 1 0 2.8 0a1.4 1.4 0 1 0-2.8 0M302.2 597.2a1.4 1.4 0 1 0 2.8 0a1.4 1.4 0 1 0-2.8 0M302.5 599.4a1.4 1.4 0 1 0 2.8 0a1.4 1.4 0 1 0-2.8 0M302.9 598.3a1.4 1.4 0 1 0 2.8 0a1.4 1.4 0 1 0-2.8 0M303.2 598.9a1.4 1.4 0 1 0 2.8 0a1.4 1.4 0 1 0-2.8 0M303.6 599.1a1.4 1.4 0 1 0 2.8 0a1.4 1.4 0 1 0-2.8 0M303.9 597.8a1.4 1.4 0 1 0 2.8 0a1.4 1.4 0 1 0-2.8 0M304.3 599.9a1.4 1.4 0 1 0 2.8 0a1.4 1.4 0 1 0-2.8 0M304.6 598.5a1.4 1.4 0 1 0 2.8 0a1.4 1.4 0 1 0-2.8 0M305.0 598.7a1.4 1.4 0 1 0 2.8 0a1.4 1.4 0 1 0-2.8 0M305.3 598.1a1.4 1.4 0 1 0 2.8 0a1.4 1.4 0 1 0-2.8 0M305.7 599.1a1.4 1.4 0 1 0 2.8 0a1.4 1.4 0 1 0-2.8 0M306.0 599.3a1.4 1.4 0 1 0 2.8 0a1.4 1.4 0 1 0-2.8 0M306.4 598.0a1.4 1.4 0 1 0 2.8 0a1.4 1.4 0 1 0-2.8 0M306.7 598.9a1.4 1.4 0 1 0 2.8 0a1.4 1.4 0 1 0-2.8 0M307.1 598.1a1.4 1.4 0 1 0 2.8 0a1.4 1.4 0 1 0-2.8 0M307.4 597.4a1.4 1.4 0 1 0 2.8 0a1.4 1.4 0 1 0-2.8 0M307.8 598.2a1.4 1.4 0 1 0 2.8 0a1.4 1.4 0 1 0-2.8 0M308.1 598.9a1.4 1.4 0 1 0 2.8 0a1.4 1.4 0 1 0-2.8 0M308.5 598.9a1.4 1.4 0 1 0 2.8 0a1.4 1.4 0 1 0-2.8 0M308.8 599.3a1.4 1.4 0 1 0 2.8 0a1.4 1.4 0 1 0-2.8 0M309.2 597.8a1.4 1.4 0 1 0 2.8 0a1.4 1.4 0 1 0-2.8 0M309.5 598.1a1.4 1.4 0 1 0 2.8 0a1.4 1.4 0 1 0-2.8 0M309.9 598.4a1.4 1.4 0 1 0 2.8 0a1.4 1.4 0 1 0-2.8 0M310.2 598.9a1.4 1.4 0 1 0 2.8 0a1.4 1.4 0 1 0-2.8 0M310.6 598.2a1.4 1.4 0 1 0 2.8 0a1.4 1.4 0 1 0-2.8 0M310.9 597.4a1.4 1.4 0 1 0 2.8 0a1.4 1.4 0 1 0-2.8 0M311.3 596.8a1.4 1.4 0 1 0 2.8 0a1.4 1.4 0 1 0-2.8 0M311.6 599.0a1.4 1.4 0 1 0 2.8 0a1.4 1.4 0 1 0-2.8 0M312.0 598.6a1.4 1.4 0 1 0 2.8 0a1.4 1.4 0 1 0-2.8 0M312.3 596.5a1.4 1.4 0 1 0 2.8 0a1.4 1.4 0 1 0-2.8 0M312.7 597.3a1.4 1.4 0 1 0 2.8 0a1.4 1.4 0 1 0-2.8 0M313.0 594.5a1.4 1.4 0 1 0 2.8 0a1.4 1.4 0 1 0-2.8 0M313.4 593.3a1.4 1.4 0 1 0 2.8 0a1.4 1.4 0 1 0-2.8 0M313.7 592.8a1.4 1.4 0 1 0 2.8 0a1.4 1.4 0 1 0-2.8 0M314.1 591.3a1.4 1.4 0 1 0 2.8 0a1.4 1.4 0 1 0-2.8 0M314.4 592.2a1.4 1.4 0 1 0 2.8 0a1.4 1.4 0 1 0-2.8 0M314.8 593.0a1.4 1.4 0 1 0 2.8 0a1.4 1.4 0 1 0-2.8 0M315.1 596.3a1.4 1.4 0 1 0 2.8 0a1.4 1.4 0 1 0-2.8 0M315.5 597.4a1.4 1.4 0 1 0 2.8 0a1.4 1.4 0 1 0-2.8 0M315.8 598.4a1.4 1.4 0 1 0 2.8 0a1.4 1.4 0 1 0-2.8 0M316.2 598.5a1.4 1.4 0 1 0 2.8 0a1.4 1.4 0 1 0-2.8 0M316.5 598.3a1.4 1.4 0 1 0 2.8 0a1.4 1.4 0 1 0-2.8 0M316.9 599.2a1.4 1.4 0 1 0 2.8 0a1.4 1.4 0 1 0-2.8 0M317.2 597.4a1.4 1.4 0 1 0 2.8 0a1.4 1.4 0 1 0-2.8 0M317.6 598.7a1.4 1.4 0 1 0 2.8 0a1.4 1.4 0 1 0-2.8 0M317.9 598.8a1.4 1.4 0 1 0 2.8 0a1.4 1.4 0 1 0-2.8 0M318.3 598.3a1.4 1.4 0 1 0 2.8 0a1.4 1.4 0 1 0-2.8 0M318.6 599.9a1.4 1.4 0 1 0 2.8 0a1.4 1.4 0 1 0-2.8 0M319.0 598.8a1.4 1.4 0 1 0 2.8 0a1.4 1.4 0 1 0-2.8 0M319.3 599.6a1.4 1.4 0 1 0 2.8 0a1.4 1.4 0 1 0-2.8 0M319.7 599.2a1.4 1.4 0 1 0 2.8 0a1.4 1.4 0 1 0-2.8 0M320.0 598.3a1.4 1.4 0 1 0 2.8 0a1.4 1.4 0 1 0-2.8 0M320.4 600.1a1.4 1.4 0 1 0 2.8 0a1.4 1.4 0 1 0-2.8 0M320.7 599.4a1.4 1.4 0 1 0 2.8 0a1.4 1.4 0 1 0-2.8 0M321.1 598.5a1.4 1.4 0 1 0 2.8 0a1.4 1.4 0 1 0-2.8 0M321.4 598.4a1.4 1.4 0 1 0 2.8 0a1.4 1.4 0 1 0-2.8 0M321.8 597.6a1.4 1.4 0 1 0 2.8 0a1.4 1.4 0 1 0-2.8 0M322.1 598.3a1.4 1.4 0 1 0 2.8 0a1.4 1.4 0 1 0-2.8 0M322.5 598.3a1.4 1.4 0 1 0 2.8 0a1.4 1.4 0 1 0-2.8 0M322.8 598.6a1.4 1.4 0 1 0 2.8 0a1.4 1.4 0 1 0-2.8 0M323.2 598.1a1.4 1.4 0 1 0 2.8 0a1.4 1.4 0 1 0-2.8 0M323.5 599.0a1.4 1.4 0 1 0 2.8 0a1.4 1.4 0 1 0-2.8 0M323.9 598.4a1.4 1.4 0 1 0 2.8 0a1.4 1.4 0 1 0-2.8 0M324.2 597.1a1.4 1.4 0 1 0 2.8 0a1.4 1.4 0 1 0-2.8 0M324.6 598.0a1.4 1.4 0 1 0 2.8 0a1.4 1.4 0 1 0-2.8 0M324.9 597.7a1.4 1.4 0 1 0 2.8 0a1.4 1.4 0 1 0-2.8 0M325.3 597.4a1.4 1.4 0 1 0 2.8 0a1.4 1.4 0 1 0-2.8 0M325.6 598.2a1.4 1.4 0 1 0 2.8 0a1.4 1.4 0 1 0-2.8 0M326.0 599.2a1.4 1.4 0 1 0 2.8 0a1.4 1.4 0 1 0-2.8 0M326.3 597.5a1.4 1.4 0 1 0 2.8 0a1.4 1.4 0 1 0-2.8 0M326.7 596.7a1.4 1.4 0 1 0 2.8 0a1.4 1.4 0 1 0-2.8 0M327.0 598.3a1.4 1.4 0 1 0 2.8 0a1.4 1.4 0 1 0-2.8 0M327.4 601.0a1.4 1.4 0 1 0 2.8 0a1.4 1.4 0 1 0-2.8 0M327.7 597.9a1.4 1.4 0 1 0 2.8 0a1.4 1.4 0 1 0-2.8 0M328.1 598.7a1.4 1.4 0 1 0 2.8 0a1.4 1.4 0 1 0-2.8 0M328.4 598.1a1.4 1.4 0 1 0 2.8 0a1.4 1.4 0 1 0-2.8 0M328.8 599.1a1.4 1.4 0 1 0 2.8 0a1.4 1.4 0 1 0-2.8 0M329.1 599.6a1.4 1.4 0 1 0 2.8 0a1.4 1.4 0 1 0-2.8 0M329.5 598.2a1.4 1.4 0 1 0 2.8 0a1.4 1.4 0 1 0-2.8 0M329.8 599.4a1.4 1.4 0 1 0 2.8 0a1.4 1.4 0 1 0-2.8 0M330.2 597.4a1.4 1.4 0 1 0 2.8 0a1.4 1.4 0 1 0-2.8 0M330.5 598.5a1.4 1.4 0 1 0 2.8 0a1.4 1.4 0 1 0-2.8 0M330.9 597.1a1.4 1.4 0 1 0 2.8 0a1.4 1.4 0 1 0-2.8 0M331.2 598.2a1.4 1.4 0 1 0 2.8 0a1.4 1.4 0 1 0-2.8 0M331.6 597.2a1.4 1.4 0 1 0 2.8 0a1.4 1.4 0 1 0-2.8 0M331.9 597.2a1.4 1.4 0 1 0 2.8 0a1.4 1.4 0 1 0-2.8 0M332.3 594.7a1.4 1.4 0 1 0 2.8 0a1.4 1.4 0 1 0-2.8 0M332.6 594.1a1.4 1.4 0 1 0 2.8 0a1.4 1.4 0 1 0-2.8 0M333.0 592.2a1.4 1.4 0 1 0 2.8 0a1.4 1.4 0 1 0-2.8 0M333.3 591.1a1.4 1.4 0 1 0 2.8 0a1.4 1.4 0 1 0-2.8 0M333.7 592.0a1.4 1.4 0 1 0 2.8 0a1.4 1.4 0 1 0-2.8 0M334.0 593.6a1.4 1.4 0 1 0 2.8 0a1.4 1.4 0 1 0-2.8 0M334.4 595.9a1.4 1.4 0 1 0 2.8 0a1.4 1.4 0 1 0-2.8 0M334.7 597.7a1.4 1.4 0 1 0 2.8 0a1.4 1.4 0 1 0-2.8 0M335.1 597.8a1.4 1.4 0 1 0 2.8 0a1.4 1.4 0 1 0-2.8 0M335.4 598.3a1.4 1.4 0 1 0 2.8 0a1.4 1.4 0 1 0-2.8 0M335.8 599.3a1.4 1.4 0 1 0 2.8 0a1.4 1.4 0 1 0-2.8 0M336.1 598.0a1.4 1.4 0 1 0 2.8 0a1.4 1.4 0 1 0-2.8 0" fill="none" stroke="#f01818" stroke-width="0.45" opacity="0.55"/>
<path d="M58.2 604.0L58.6 604.1 58.9 604.0 59.3 604.0 59.6 603.9 60.0 604.1 60.3 603.8 60.7 603.7 61.0 603.8 61.4 604.0 61.7 603.9 62.1 603.7 62.4 603.8 62.8 603.7 63.1 603.6 63.5 603.6 63.8 603.6 64.2 603.5 64.5 603.7 64.9 603.4 65.2 603.6 65.6 603.7 65.9 603.7 66.3 603.3 66.6 603.2 67.0 603.0 67.3 603.2 67.7 603.6 68.0 602.9 68.4 602.9 68.7 603.2 69.1 603.2 69.4 602.8 69.8 603.0 70.1 603.0 70.5 602.7 70.8 603.1 71.2 602.7 71.5 603.0 71.9 602.9 72.2 602.7 72.6 602.5 72.9 602.7 73.3 602.7 73.6 602.6 74.0 602.5 74.3 602.6 74.7 602.7 75.0 602.4 75.4 602.5 75.7 602.5 76.1 602.4 76.4 602.5 76.8 602.6 77.1 602.2 77.5 602.3 77.8 601.8 78.2 602.1 78.5 602.2 78.9 601.8 79.2 602.0 79.6 601.4 79.9 601.4 80.3 600.0 80.6 596.2 81.0 589.2 81.3 583.6 81.7 587.2 82.0 594.6 82.4 599.2 82.7 601.0 83.1 601.3 83.4 601.6 83.8 601.4 84.1 601.5 84.5 601.5 84.8 601.6 85.2 601.7 85.5 601.9 85.9 601.7 86.2 601.6 86.6 601.8 86.9 601.4 87.3 601.3 87.6 601.6 88.0 601.5 88.3 601.5 88.7 601.5 89.0 601.3 89.4 601.3 89.7 601.4 90.1 601.4 90.4 601.4 90.8 601.3 91.1 601.3 91.5 600.8 91.8 601.3 92.2 600.9 92.5 601.1 92.9 601.5 93.2 601.0 93.6 600.8 93.9 601.2 94.3 600.9 94.6 600.9 95.0 600.9 95.3 601.0 95.7 601.0 96.0 600.8 96.4 601.0 96.7 600.6 97.1 600.8 97.4 600.6 97.8 600.8 98.1 600.5 98.5 600.6 98.8 600.8 99.2 600.4 99.5 600.4 99.9 600.6 100.2 600.4 100.6 600.4 100.9 600.4 101.3 600.7 101.6 600.2 102.0 600.3 102.3 600.4 102.7 600.2 103.0 600.3 103.4 600.4 103.7 600.1 104.1 600.4 104.4 600.1 104.8 600.2 105.1 600.2 105.5 600.6 105.8 599.9 106.2 600.2 106.5 600.5 106.9 600.0 107.2 600.2 107.6 600.1 107.9 599.8 108.3 600.1 108.6 599.8 109.0 600.0 109.3 599.7 109.7 600.0 110.0 599.5 110.4 599.8 110.7 600.0 111.1 599.9 111.4 599.8 111.8 599.8 112.1 599.7 112.5 600.2 112.8 599.7 113.2 599.7 113.5 599.6 113.9 599.6 114.2 599.7 114.6 599.5 114.9 599.5 115.3 599.5 115.6 599.5 116.0 599.6 116.3 599.4 116.7 599.5 117.0 599.4 117.4 599.6 117.7 599.4 118.1 599.4 118.4 599.4 118.8 599.4 119.1 599.1 119.5 599.3 119.8 599.6 120.2 599.4 120.5 599.4 120.9 599.1 121.2 599.0 121.6 599.1 121.9 599.4 122.3 599.0 122.6 599.0 123.0 599.3 123.3 599.1 123.7 599.0 124.0 599.1 124.4 599.0 124.7 599.0 125.1 599.0 125.4 598.9 125.8 598.9 126.1 599.0 126.5 598.7 126.8 598.8 127.2 598.7 127.5 598.9 127.9 598.9 128.2 598.9 128.6 598.9 128.9 598.9 129.3 598.8 129.6 598.6 130.0 598.8 130.3 598.5 130.7 599.0 131.0 598.7 131.4 598.7 131.7 598.4 132.1 598.7 132.4 598.7 132.8 598.3 133.1 598.4 133.5 598.4 133.8 598.4 134.2 598.6 134.5 598.7 134.9 598.2 135.2 598.5 135.6 598.3 135.9 598.5 136.3 597.9 136.6 598.2 137.0 598.4 137.3 598.1 137.7 598.4 138.0 598.1 138.4 598.3 138.7 598.2 139.1 598.1 139.4 598.0 139.8 598.1 140.1 598.2 140.5 598.0 140.8 597.9 141.2 598.5 141.5 597.7 141.9 597.9 142.2 598.0 142.6 597.7 142.9 597.9 143.3 597.8 143.6 597.6 144.0 597.9 144.3 597.6 144.7 597.6 145.0 597.9 145.4 597.5 145.7 597.8 146.1 597.8 146.4 597.8 146.8 597.7 147.1 597.5 147.5 597.3 147.8 597.5 148.2 597.6 148.5 597.4 148.9 597.3 149.2 597.5 149.6 597.2 149.9 597.4 150.3 597.2 150.6 597.0 151.0 597.5 151.3 597.3 151.7 597.2 152.0 596.9 152.4 597.0 152.7 596.9 153.1 596.6 153.4 596.7 153.8 595.7 154.1 595.1 154.5 591.9 154.8 584.9 155.2 572.3 155.5 559.8 155.9 559.6 156.2 572.4 156.6 585.0 156.9 592.0 157.3 594.9 157.6 595.9 158.0 596.4 158.3 596.7 158.7 596.5 159.0 596.9 159.4 597.2 159.7 597.0 160.1 597.1 160.4 597.0 160.8 596.9 161.1 596.8 161.5 595.9 161.8 594.1 162.2 590.5 162.5 588.5 162.9 590.2 163.2 594.0 163.6 596.2 163.9 596.7 164.3 597.3 164.6 597.3 165.0 597.6 165.3 597.4 165.7 597.4 166.0 597.4 166.4 597.7 166.7 597.2 167.1 597.6 167.4 597.5 167.8 597.4 168.1 597.5 168.5 597.6 168.8 597.4 169.2 597.2 169.5 596.3 169.9 595.3 170.2 595.1 170.6 595.4 170.9 596.1 171.3 597.0 171.6 597.6 172.0 597.5 172.3 597.3 172.7 597.8 173.0 597.5 173.4 597.7 173.7 597.8 174.1 597.7 174.4 597.7 174.8 597.7 175.1 597.8 175.5 597.8 175.8 598.0 176.2 597.3 176.5 597.6 176.9 597.6 177.2 597.9 177.6 597.8 177.9 597.9 178.3 597.5 178.6 597.7 179.0 597.9 179.3 597.8 179.7 597.7 180.0 597.8 180.4 598.0 180.7 597.5 181.1 598.0 181.4 597.8 181.8 597.7 182.1 597.9 182.5 597.8 182.8 598.0 183.2 597.7 183.5 597.9 183.9 597.6 184.2 597.8 184.6 597.9 184.9 597.7 185.3 597.8 185.6 597.6 186.0 597.8 186.3 597.4 186.7 597.1 187.0 596.8 187.4 596.1 187.7 595.3 188.1 595.1 188.4 595.0 188.8 595.6 189.1 596.0 189.5 596.7 189.8 597.3 190.2 597.4 190.5 597.7 190.9 597.9 191.2 598.0 191.6 598.1 191.9 598.0 192.3 597.8 192.6 598.0 193.0 597.8 193.3 598.0 193.7 597.7 194.0 598.1 194.4 598.0 194.7 597.9 195.1 597.7 195.4 598.0 195.8 597.9 196.1 598.0 196.5 597.8 196.8 597.9 197.2 598.0 197.5 598.2 197.9 597.8 198.2 597.9 198.6 598.0 198.9 597.9 199.3 597.9 199.6 598.3 200.0 597.8 200.3 598.0 200.7 597.8 201.0 597.9 201.4 597.5 201.7 598.0 202.1 597.8 202.4 597.6 202.8 597.9 203.1 597.4 203.5 596.9 203.8 595.8 204.2 594.1 204.5 591.0 204.9 588.5 205.2 588.2 205.6 590.6 205.9 593.7 206.3 595.8 206.6 596.6 207.0 597.3 207.3 597.7 207.7 598.1 208.0 597.7 208.4 597.5 208.7 597.9 209.1 597.7 209.4 597.5 209.8 597.4 210.1 596.6 210.5 595.3 210.8 593.8 211.2 593.1 211.5 593.6 211.9 594.7 212.2 596.5 212.6 597.1 212.9 597.9 213.3 597.9 213.6 597.9 214.0 598.1 214.3 597.9 214.7 598.1 215.0 598.3 215.4 598.0 215.7 598.2 216.1 598.0 216.4 598.1 216.8 598.3 217.1 598.0 217.5 598.2 217.8 597.8 218.2 598.0 218.5 598.1 218.9 598.3 219.2 598.3 219.6 598.1 219.9 598.2 220.3 598.2 220.6 598.0 221.0 598.3 221.3 598.4 221.7 598.4 222.0 598.1 222.4 598.2 222.7 598.1 223.1 598.2 223.4 598.2 223.8 598.3 224.1 598.2 224.5 598.1 224.8 598.4 225.2 598.4 225.5 598.2 225.9 598.2 226.2 598.2 226.6 598.0 226.9 598.3 227.3 598.4 227.6 598.5 228.0 598.3 228.3 598.2 228.7 598.2 229.0 598.4 229.4 598.4 229.7 598.1 230.1 598.3 230.4 598.4 230.8 598.0 231.1 598.5 231.5 598.2 231.8 598.4 232.2 598.2 232.5 598.2 232.9 598.2 233.2 598.3 233.6 598.4 233.9 598.2 234.3 598.0 234.6 598.1 235.0 598.0 235.3 598.3 235.7 598.0 236.0 598.3 236.4 598.1 236.7 598.0 237.1 598.1 237.4 597.8 237.8 597.7 238.1 597.7 238.5 597.5 238.8 597.0 239.2 597.3 239.5 596.8 239.9 596.2 240.2 596.1 240.6 595.9 240.9 595.5 241.3 595.4 241.6 595.4 242.0 595.0 242.3 595.1 242.7 594.9 243.0 594.7 243.4 594.9 243.7 594.4 244.1 593.9 244.4 592.5 244.8 589.9 245.1 586.3 245.5 582.1 245.8 578.2 246.2 576.2 246.5 577.1 246.9 581.0 247.2 585.4 247.6 589.2 247.9 592.2 248.3 594.1 248.6 594.8 249.0 594.7 249.3 593.7 249.7 591.4 250.0 587.8 250.4 582.9 250.7 577.8 251.1 574.1 251.4 573.6 251.8 576.9 252.1 581.9 252.5 586.9 252.8 591.1 253.2 594.2 253.5 595.5 253.9 596.5 254.2 597.0 254.6 597.3 254.9 597.8 255.3 597.7 255.6 598.0 256.0 597.7 256.3 598.2 256.7 598.4 257.0 597.9 257.4 598.1 257.7 598.1 258.1 598.2 258.4 598.0 258.8 598.3 259.1 598.3 259.5 598.1 259.8 597.9 260.2 598.2 260.5 598.2 260.9 598.4 261.2 598.2 261.6 598.1 261.9 598.4 262.3 598.4 262.6 598.4 263.0 598.3 263.3 598.5 263.7 598.4 264.0 598.0 264.4 598.3 264.7 598.4 265.1 598.3 265.4 598.5 265.8 598.2 266.1 598.3 266.5 598.0 266.8 598.2 267.2 598.0 267.5 597.8 267.9 597.4 268.2 596.8 268.6 595.4 268.9 593.2 269.3 591.0 269.6 590.3 270.0 591.8 270.3 593.6 270.7 595.9 271.0 596.8 271.4 597.7 271.7 598.1 272.1 598.3 272.4 598.1 272.8 598.1 273.1 598.1 273.5 598.4 273.8 598.3 274.2 598.3 274.5 598.3 274.9 598.4 275.2 598.4 275.6 598.5 275.9 598.0 276.3 598.5 276.6 598.3 277.0 598.3 277.3 598.3 277.7 598.3 278.0 598.4 278.4 598.3 278.7 598.0 279.1 598.2 279.4 598.1 279.8 598.1 280.1 597.9 280.5 597.5 280.8 596.7 281.2 594.4 281.5 591.8 281.9 587.9 282.2 586.3 282.6 588.5 282.9 592.0 283.3 595.1 283.6 596.9 284.0 597.6 284.3 597.9 284.7 598.1 285.0 598.2 285.4 598.1 285.7 598.5 286.1 598.6 286.4 598.3 286.8 598.3 287.1 598.3 287.5 598.1 287.8 598.3 288.2 598.3 288.5 598.4 288.9 598.3 289.2 598.1 289.6 598.5 289.9 598.7 290.3 598.1 290.6 598.4 291.0 598.6 291.3 598.3 291.7 598.2 292.0 598.5 292.4 598.4 292.7 598.4 293.1 598.7 293.4 598.7 293.8 598.6 294.1 598.5 294.5 598.4 294.8 598.6 295.2 598.4 295.5 598.7 295.9 598.7 296.2 598.4 296.6 598.6 296.9 598.7 297.3 598.6 297.6 598.3 298.0 598.4 298.3 598.4 298.7 598.5 299.0 598.5 299.4 598.4 299.7 598.6 300.1 598.7 300.4 598.4 300.8 598.3 301.1 598.5 301.5 598.5 301.8 598.5 302.2 598.4 302.5 598.5 302.9 598.3 303.2 598.6 303.6 598.7 303.9 598.3 304.3 598.1 304.6 598.4 305.0 598.4 305.3 598.5 305.7 598.5 306.0 598.5 306.4 598.9 306.7 598.4 307.1 598.4 307.4 598.5 307.8 598.2 308.1 598.6 308.5 598.4 308.8 598.2 309.2 598.3 309.5 598.5 309.9 598.5 310.2 598.6 310.6 598.5 310.9 598.3 311.3 598.4 311.6 598.3 312.0 598.7 312.3 597.9 312.7 598.4 313.0 598.1 313.4 597.8 313.7 597.1 314.1 596.0 314.4 594.4 314.8 592.7 315.1 592.0 315.5 591.8 315.8 593.0 316.2 594.6 316.5 595.7 316.9 597.0 317.2 597.7 317.6 598.2 317.9 598.0 318.3 598.3 318.6 598.3 319.0 598.3 319.3 598.2 319.7 598.4 320.0 598.4 320.4 598.1 320.7 598.6 321.1 598.8 321.4 598.3 321.8 598.6 322.1 598.3 322.5 598.4 322.8 598.7 323.2 598.5 323.5 598.7 323.9 598.5 324.2 598.6 324.6 598.4 324.9 598.7 325.3 598.7 325.6 598.6 326.0 598.4 326.3 598.4 326.7 598.3 327.0 598.6 327.4 598.5 327.7 598.4 328.1 598.6 328.4 598.4 328.8 598.7 329.1 598.6 329.5 598.7 329.8 598.3 330.2 598.3 330.5 598.1 330.9 598.5 331.2 598.2 331.6 598.5 331.9 598.3 332.3 598.3 332.6 597.9 333.0 597.6 333.3 597.0 333.7 595.8 334.0 593.7 334.4 592.2 334.7 591.4 335.1 592.8 335.4 594.6 335.8 596.2 336.1 597.4 336.5 598.1 336.8 598.1 337.2 598.4 337.5 598.2" fill="none" stroke="#000" stroke-width="1.05" stroke-linejoin="round"/>
<path d="M81.00 605.4V609.6 M155.20 605.4V609.6 M162.60 605.4V609.6 M188.30 605.4V609.6 M205.40 605.4V609.6 M210.60 605.4V609.6 M246.60 605.4V609.6 M250.50 605.4V609.6 M269.00 605.4V609.6 M282.00 605.4V609.6 M315.70 605.4V609.6 M319.60 605.4V609.6 M334.10 605.4V609.6" stroke="#30a0a0" stroke-width="1"/>
<path d="M58.2 616.5L58.6 615.9 58.9 616.4 59.3 616.0 59.6 616.4 60.0 616.6 60.3 616.0 60.7 615.7 61.0 616.3 61.4 616.6 61.7 616.4 62.1 616.0 62.4 616.7 62.8 616.2 63.1 616.7 63.5 616.0 63.8 616.5 64.2 616.8 64.5 616.1 64.9 616.2 65.2 616.6 65.6 616.6 65.9 616.5 66.3 616.3 66.6 615.7 67.0 616.4 67.3 615.8 67.7 616.4 68.0 615.4 68.4 616.9 68.7 617.1 69.1 616.5 69.4 616.0 69.8 616.2 70.1 616.7 70.5 616.6 70.8 616.1 71.2 616.8 71.5 616.6 71.9 616.6 72.2 616.2 72.6 616.3 72.9 616.1 73.3 616.4 73.6 616.1 74.0 616.8 74.3 616.4 74.7 616.4 75.0 616.5 75.4 616.5 75.7 615.8 76.1 616.9 76.4 616.4 76.8 616.1 77.1 616.0 77.5 616.1 77.8 616.1 78.2 616.4 78.5 616.0 78.9 616.4 79.2 616.4 79.6 615.9 79.9 616.4 80.3 613.4 80.6 610.2 81.0 608.1 81.3 610.2 81.7 615.3 82.0 619.3 82.4 620.1 82.7 619.4 83.1 618.8 83.4 616.7 83.8 616.9 84.1 616.4 84.5 616.5 84.8 615.8 85.2 616.2 85.5 615.9 85.9 616.1 86.2 616.6 86.6 616.3 86.9 616.1 87.3 616.8 87.6 616.3 88.0 615.5 88.3 615.9 88.7 616.5 89.0 616.5 89.4 616.4 89.7 616.4 90.1 616.0 90.4 616.3 90.8 615.9 91.1 616.0 91.5 616.0 91.8 616.0 92.2 616.2 92.5 616.2 92.9 616.0 93.2 616.7 93.6 616.1 93.9 616.9 94.3 616.7 94.6 615.8 95.0 616.7 95.3 615.8 95.7 616.9 96.0 616.4 96.4 615.9 96.7 615.4 97.1 616.2 97.4 615.8 97.8 616.7 98.1 615.8 98.5 616.2 98.8 616.5 99.2 616.3 99.5 616.4 99.9 616.2 100.2 616.6 100.6 615.9 100.9 616.5 101.3 615.8 101.6 616.4 102.0 615.9 102.3 616.2 102.7 616.5 103.0 616.8 103.4 615.6 103.7 616.0 104.1 615.9 104.4 616.8 104.8 616.0 105.1 616.6 105.5 616.1 105.8 615.7 106.2 616.3 106.5 615.8 106.9 616.6 107.2 616.6 107.6 616.8 107.9 615.9 108.3 616.9 108.6 616.7 109.0 615.6 109.3 617.2 109.7 617.0 110.0 615.9 110.4 616.4 110.7 615.8 111.1 616.2 111.4 616.4 111.8 616.5 112.1 616.0 112.5 616.3 112.8 615.9 113.2 616.4 113.5 616.6 113.9 616.3 114.2 616.7 114.6 616.6 114.9 616.4 115.3 616.8 115.6 615.8 116.0 616.3 116.3 615.6 116.7 616.3 117.0 616.1 117.4 616.6 117.7 616.1 118.1 616.0 118.4 616.3 118.8 616.2 119.1 616.5 119.5 615.9 119.8 615.7 120.2 615.7 120.5 616.8 120.9 615.8 121.2 616.1 121.6 615.9 121.9 616.6 122.3 616.1 122.6 616.8 123.0 616.0 123.3 616.4 123.7 616.6 124.0 616.7 124.4 615.8 124.7 616.2 125.1 616.3 125.4 615.6 125.8 616.6 126.1 616.5 126.5 616.5 126.8 615.7 127.2 616.4 127.5 616.5 127.9 616.7 128.2 616.1 128.6 616.6 128.9 617.1 129.3 616.1 129.6 616.1 130.0 616.2 130.3 615.7 130.7 616.2 131.0 616.9 131.4 615.9 131.7 616.2 132.1 616.8 132.4 616.5 132.8 616.4 133.1 616.2 133.5 616.3 133.8 616.3 134.2 616.6 134.5 616.3 134.9 616.7 135.2 615.6 135.6 616.6 135.9 616.1 136.3 616.3 136.6 616.1 137.0 616.6 137.3 616.3 137.7 616.5 138.0 616.0 138.4 616.4 138.7 616.8 139.1 616.7 139.4 616.2 139.8 616.4 140.1 616.2 140.5 616.3 140.8 616.3 141.2 616.8 141.5 616.5 141.9 616.9 142.2 616.9 142.6 615.8 142.9 616.4 143.3 616.1 143.6 615.7 144.0 615.9 144.3 616.1 144.7 617.0 145.0 616.3 145.4 616.2 145.7 616.3 146.1 616.0 146.4 616.4 146.8 616.3 147.1 615.7 147.5 616.1 147.8 617.6 148.2 616.6 148.5 616.3 148.9 616.6 149.2 615.9 149.6 616.3 149.9 616.6 150.3 615.7 150.6 616.0 151.0 616.1 151.3 616.2 151.7 616.1 152.0 616.4 152.4 616.6 152.7 616.2 153.1 616.1 153.4 615.3 153.8 613.3 154.1 612.0 154.5 610.3 154.8 610.2 155.2 610.6 155.5 612.5 155.9 615.6 156.2 617.0 156.6 617.6 156.9 618.4 157.3 618.0 157.6 617.0 158.0 616.7 158.3 616.8 158.7 616.1 159.0 616.2 159.4 616.0 159.7 616.4 160.1 616.2 160.4 615.8 160.8 615.8 161.1 615.9 161.5 613.3 161.8 611.8 162.2 610.9 162.5 609.3 162.9 610.9 163.2 610.8 163.6 612.6 163.9 614.4 164.3 616.0 164.6 616.3 165.0 616.4 165.3 616.4 165.7 616.8 166.0 615.6 166.4 616.4 166.7 616.8 167.1 615.7 167.4 616.0 167.8 616.1 168.1 615.7 168.5 614.7 168.8 615.2 169.2 614.5 169.5 614.8 169.9 614.3 170.2 614.8 170.6 615.2 170.9 616.5 171.3 615.2 171.6 615.5 172.0 616.6 172.3 616.3 172.7 615.1 173.0 616.1 173.4 616.2 173.7 616.8 174.1 615.6 174.4 616.1 174.8 616.7 175.1 616.6 175.5 615.9 175.8 616.2 176.2 615.7 176.5 616.8 176.9 616.1 177.2 616.8 177.6 616.6 177.9 616.0 178.3 616.3 178.6 616.6 179.0 616.5 179.3 616.9 179.7 616.7 180.0 616.4 180.4 616.6 180.7 616.0 181.1 616.1 181.4 616.5 181.8 616.4 182.1 615.9 182.5 616.3 182.8 616.0 183.2 616.1 183.5 616.8 183.9 615.9 184.2 616.1 184.6 616.5 184.9 616.3 185.3 616.4 185.6 615.8 186.0 616.3 186.3 616.2 186.7 616.0 187.0 616.1 187.4 616.1 187.7 616.5 188.1 616.7 188.4 615.7 188.8 615.9 189.1 614.9 189.5 613.9 189.8 614.3 190.2 614.9 190.5 615.2 190.9 614.7 191.2 616.3 191.6 615.5 191.9 615.8 192.3 616.0 192.6 616.8 193.0 616.5 193.3 616.7 193.7 615.5 194.0 616.3 194.4 616.3 194.7 616.6 195.1 616.1 195.4 616.8 195.8 616.0 196.1 615.8 196.5 615.7 196.8 616.8 197.2 616.6 197.5 616.0 197.9 616.7 198.2 616.3 198.6 616.3 198.9 615.8 199.3 616.1 199.6 616.4 200.0 616.4 200.3 616.1 200.7 616.7 201.0 616.9 201.4 616.0 201.7 616.5 202.1 615.7 202.4 616.5 202.8 615.9 203.1 616.3 203.5 616.5 203.8 616.6 204.2 617.7 204.5 618.2 204.9 619.8 205.2 621.2 205.6 621.2 205.9 620.3 206.3 618.6 206.6 617.2 207.0 617.0 207.3 616.5 207.7 616.7 208.0 616.7 208.4 615.9 208.7 615.6 209.1 615.4 209.4 615.1 209.8 614.6 210.1 616.1 210.5 615.8 210.8 616.8 211.2 615.9 211.5 616.5 211.9 616.4 212.2 616.3 212.6 616.7 212.9 616.3 213.3 616.3 213.6 616.4 214.0 615.5 214.3 616.0 214.7 616.0 215.0 617.0 215.4 616.5 215.7 616.6 216.1 616.6 216.4 616.2 216.8 617.0 217.1 616.2 217.5 615.8 217.8 616.6 218.2 616.8 218.5 616.4 218.9 616.5 219.2 616.7 219.6 616.9 219.9 616.5 220.3 617.0 220.6 616.4 221.0 617.1 221.3 615.8 221.7 616.7 222.0 616.4 222.4 616.4 222.7 615.8 223.1 616.7 223.4 616.2 223.8 615.9 224.1 616.1 224.5 616.2 224.8 616.4 225.2 616.0 225.5 616.0 225.9 616.5 226.2 616.3 226.6 617.1 226.9 616.2 227.3 616.6 227.6 617.0 228.0 616.2 228.3 616.7 228.7 616.4 229.0 616.3 229.4 616.9 229.7 615.9 230.1 616.1 230.4 615.6 230.8 616.3 231.1 616.7 231.5 616.2 231.8 616.6 232.2 616.0 232.5 616.8 232.9 616.3 233.2 616.2 233.6 617.0 233.9 616.4 234.3 616.7 234.6 616.6 235.0 616.9 235.3 616.8 235.7 616.4 236.0 617.1 236.4 617.4 236.7 617.6 237.1 617.5 237.4 618.5 237.8 617.7 238.1 618.2 238.5 618.4 238.8 617.9 239.2 617.9 239.5 618.5 239.9 618.4 240.2 618.0 240.6 617.1 240.9 617.4 241.3 617.4 241.6 617.4 242.0 617.4 242.3 617.0 242.7 617.0 243.0 617.2 243.4 615.6 243.7 616.8 244.1 616.2 244.4 616.3 244.8 615.7 245.1 614.2 245.5 612.6 245.8 611.4 246.2 610.3 246.5 611.1 246.9 612.3 247.2 615.1 247.6 615.6 247.9 617.7 248.3 617.6 248.6 619.0 249.0 619.5 249.3 617.9 249.7 616.5 250.0 615.2 250.4 614.3 250.7 614.1 251.1 614.4 251.4 615.4 251.8 615.3 252.1 615.9 252.5 616.8 252.8 616.1 253.2 616.2 253.5 615.7 253.9 616.2 254.2 615.7 254.6 616.5 254.9 616.9 255.3 616.4 255.6 616.4 256.0 616.2 256.3 616.5 256.7 615.9 257.0 616.1 257.4 617.1 257.7 615.8 258.1 616.1 258.4 615.8 258.8 616.8 259.1 616.2 259.5 615.8 259.8 615.8 260.2 616.7 260.5 616.6 260.9 616.6 261.2 616.3 261.6 616.7 261.9 616.8 262.3 616.6 262.6 615.7 263.0 615.6 263.3 615.8 263.7 616.4 264.0 615.7 264.4 615.9 264.7 616.3 265.1 616.0 265.4 615.8 265.8 616.7 266.1 616.5 266.5 616.6 266.8 616.7 267.2 616.9 267.5 616.3 267.9 616.2 268.2 615.6 268.6 616.2 268.9 616.1 269.3 616.7 269.6 616.6 270.0 616.9 270.3 616.7 270.7 616.8 271.0 616.5 271.4 616.4 271.7 616.2 272.1 616.3 272.4 615.9 272.8 616.5 273.1 616.3 273.5 615.5 273.8 615.3 274.2 616.0 274.5 616.1 274.9 616.2 275.2 616.8 275.6 616.1 275.9 615.8 276.3 616.4 276.6 616.7 277.0 616.9 277.3 615.9 277.7 616.2 278.0 616.1 278.4 616.9 278.7 616.5 279.1 616.2 279.4 616.4 279.8 615.8 280.1 615.6 280.5 615.3 280.8 614.7 281.2 614.4 281.5 614.4 281.9 614.5 282.2 615.2 282.6 615.4 282.9 615.4 283.3 614.9 283.6 615.5 284.0 616.0 284.3 616.1 284.7 615.8 285.0 616.1 285.4 616.3 285.7 616.1 286.1 616.2 286.4 616.3 286.8 616.0 287.1 616.0 287.5 616.2 287.8 616.4 288.2 615.9 288.5 615.5 288.9 615.9 289.2 616.5 289.6 615.7 289.9 616.6 290.3 616.1 290.6 616.3 291.0 616.0 291.3 616.5 291.7 616.3 292.0 616.4 292.4 615.5 292.7 616.6 293.1 615.6 293.4 616.2 293.8 616.5 294.1 616.2 294.5 616.5 294.8 616.4 295.2 616.3 295.5 616.0 295.9 616.7 296.2 616.7 296.6 616.1 296.9 615.9 297.3 616.4 297.6 616.0 298.0 616.3 298.3 616.6 298.7 616.5 299.0 616.8 299.4 616.5 299.7 615.9 300.1 616.0 300.4 616.5 300.8 617.0 301.1 616.2 301.5 615.9 301.8 616.8 302.2 616.2 302.5 616.5 302.9 616.7 303.2 615.9 303.6 616.2 303.9 616.1 304.3 616.5 304.6 616.5 305.0 616.1 305.3 616.5 305.7 615.6 306.0 616.4 306.4 616.4 306.7 616.3 307.1 615.7 307.4 616.2 307.8 615.9 308.1 616.8 308.5 616.2 308.8 616.2 309.2 616.2 309.5 616.5 309.9 616.3 310.2 616.5 310.6 615.9 310.9 616.7 311.3 616.1 311.6 616.6 312.0 616.4 312.3 616.9 312.7 616.6 313.0 616.4 313.4 617.1 313.7 618.0 314.1 619.2 314.4 619.0 314.8 619.3 315.1 619.5 315.5 618.3 315.8 618.0 316.2 617.4 316.5 616.7 316.9 616.7 317.2 616.8 317.6 616.7 317.9 616.2 318.3 617.4 318.6 616.4 319.0 616.2 319.3 616.0 319.7 615.9 320.0 616.6 320.4 615.2 320.7 616.2 321.1 615.8 321.4 616.2 321.8 616.3 322.1 615.8 322.5 615.9 322.8 616.8 323.2 616.1 323.5 616.3 323.9 616.2 324.2 616.6 324.6 616.7 324.9 616.6 325.3 616.5 325.6 616.5 326.0 615.8 326.3 616.8 326.7 616.1 327.0 616.0 327.4 616.1 327.7 616.0 328.1 616.4 328.4 616.6 328.8 616.8 329.1 616.2 329.5 616.1 329.8 616.2 330.2 615.8 330.5 616.0 330.9 617.0 331.2 616.0 331.6 616.1 331.9 616.4 332.3 616.0 332.6 615.6 333.0 614.0 333.3 612.5 333.7 612.1 334.0 610.6 334.4 611.0 334.7 612.2 335.1 612.9 335.4 614.7 335.8 615.4 336.1 616.2 336.5 616.1 336.8 615.4 337.2 616.6 337.5 615.3" fill="none" stroke="#0000f0" stroke-width="1.1" stroke-linejoin="round"/>
<rect x="57.6" y="315.2" width="280.4" height="310.2" fill="none" stroke="#222" stroke-width="1.3"/>
<line x1="57.6" x2="338" y1="393.0" y2="393.0" stroke="#333" stroke-width="1.5"/>
<line x1="57.6" x2="338" y1="471.5" y2="471.5" stroke="#333" stroke-width="1.5"/>
<line x1="57.6" x2="338" y1="549.0" y2="549.0" stroke="#333" stroke-width="1.5"/>
<path d="M68.72 625V622.8 M79.94 625V622.8 M91.16 625V622.8 M102.38 625V622.8 M113.60 625V621.0 M124.82 625V622.8 M136.04 625V622.8 M147.26 625V622.8 M158.48 625V622.8 M169.70 625V621.0 M180.92 625V622.8 M192.14 625V622.8 M203.36 625V622.8 M214.58 625V622.8 M225.80 625V621.0 M237.02 625V622.8 M248.24 625V622.8 M259.46 625V622.8 M270.68 625V622.8 M281.90 625V621.0 M293.12 625V622.8 M304.34 625V622.8 M315.56 625V622.8 M326.78 625V622.8" stroke="#000" stroke-width="1.1"/>
<text class="b" x="57.50" y="640.2" font-size="13.5" text-anchor="middle" font-family="Liberation Serif">10</text>
<text class="b" x="113.60" y="640.2" font-size="13.5" text-anchor="middle" font-family="Liberation Serif">20</text>
<text class="b" x="169.70" y="640.2" font-size="13.5" text-anchor="middle" font-family="Liberation Serif">30</text>
<text class="b" x="225.80" y="640.2" font-size="13.5" text-anchor="middle" font-family="Liberation Serif">40</text>
<text class="b" x="281.90" y="640.2" font-size="13.5" text-anchor="middle" font-family="Liberation Serif">50</text>
<text class="b" x="338.00" y="640.2" font-size="13.5" text-anchor="middle" font-family="Liberation Serif">60</text>
<text class="b" y="657.5" font-size="21" font-family="Liberation Serif"><tspan x="149.6" font-style="italic" font-size="19.5">2</tspan><tspan x="161" font-style="italic" font-size="22">θ</tspan><tspan x="174" font-size="21.6">(degree)</tspan></text>
<text class="b" transform="translate(45.6 570) rotate(-90)" font-size="22.6" font-family="Liberation Serif">Intensity(amu. unit)</text>
<text x="76" y="333.4" font-size="10.6" font-family="Liberation Serif">(A) FeTe</text>
<text x="74.2" y="408.3" font-size="10.2" font-family="Liberation Serif">(B) FeTe<tspan font-size="6.4" dy="3">0.95</tspan><tspan dy="-3">S</tspan><tspan font-size="6.4" dy="3">0.05</tspan></text>
<text x="77.8" y="482.8" font-size="10.2" font-family="Liberation Serif">(C) FeTe<tspan font-size="6.4" dy="3">0.90</tspan><tspan dy="-3">S</tspan><tspan font-size="6.4" dy="3">0.10</tspan></text>
<text x="78.7" y="566.5" font-size="10.2" font-family="Liberation Serif">(D) FeTe<tspan font-size="6.4" dy="3">0.75</tspan><tspan dy="-3">S</tspan><tspan font-size="6.4" dy="3">0.25</tspan></text>
<rect x="179.2" y="326.4" width="42.1" height="19.9" fill="#fff" stroke="#aaa" stroke-width="0.9"/>
<text y="340.9" font-size="10.5" font-family="Liberation Serif"><tspan x="183.8" font-style="italic">χ</tspan><tspan x="189.7" y="334.9" font-size="5.4">2</tspan><tspan x="191.6" y="340.9">=</tspan><tspan x="199.6" font-size="9.8">1.83</tspan></text>
<rect x="181.5" y="398.2" width="40.4" height="20.1" fill="#fff" stroke="#aaa" stroke-width="0.9"/>
<text y="412.9" font-size="10.5" font-family="Liberation Serif"><tspan x="186.1" font-style="italic">χ</tspan><tspan x="192.0" y="406.9" font-size="5.4">2</tspan><tspan x="193.9" y="412.9">=</tspan><tspan x="201.9" font-size="9.8">6.88</tspan></text>
<rect x="180.4" y="476.7" width="41.9" height="19.7" fill="#fff" stroke="#aaa" stroke-width="0.9"/>
<text y="491.0" font-size="10.5" font-family="Liberation Serif"><tspan x="185.0" font-style="italic">χ</tspan><tspan x="190.9" y="485.0" font-size="5.4">2</tspan><tspan x="192.8" y="491.0">=</tspan><tspan x="200.8" font-size="9.8">4.43</tspan></text>
<rect x="182.1" y="554.8" width="42.9" height="20.8" fill="#fff" stroke="#aaa" stroke-width="0.9"/>
<text y="570.2" font-size="10.5" font-family="Liberation Serif"><tspan x="186.7" font-style="italic">χ</tspan><tspan x="192.6" y="564.2" font-size="5.4">2</tspan><tspan x="194.5" y="570.2">=</tspan><tspan x="202.5" font-size="9.8">5.36</tspan></text>
<path d="M296.70 405.30V408.50M295.31 406.10L298.09 407.70M295.31 407.70L298.09 406.10" stroke="#333" stroke-width="1.0"/>
<text y="409.7" font-size="10.4" font-family="Liberation Serif"><tspan x="301.6">FeTe</tspan><tspan x="322" y="414.7" font-size="6.2">2</tspan></text>
<path d="M298.50 485.40V488.60M297.11 486.20L299.89 487.80M297.11 487.80L299.89 486.20" stroke="#333" stroke-width="1.0"/>
<text y="489.9" font-size="10.4" font-family="Liberation Serif"><tspan x="303.6">FeTe</tspan><tspan x="324.6" y="494.3" font-size="6.2">2</tspan></text>
<path d="M301.65 558.50L300.59 565.10M303.41 558.50L302.35 565.10M300.00 560.61H304.00M300.00 562.99H304.00" stroke="#222" stroke-width="0.7" fill="none"/>
<text y="565.1" font-size="10.4" font-family="Liberation Serif"><tspan x="309.2">Fe</tspan><tspan x="318.8" y="568.9" font-size="5.6">3</tspan><tspan x="321.5" y="565.1">O</tspan><tspan x="329.2" y="568.9" font-size="5.6">4</tspan></text>
<path d="M181.25 430.20V432.80M180.12 430.85L182.38 432.15M180.12 432.15L182.38 430.85" stroke="#444" stroke-width="1.0"/>
<path d="M194.00 435.40V438.00M192.87 436.05L195.13 437.35M192.87 437.35L195.13 436.05" stroke="#444" stroke-width="1.0"/>
<path d="M128.20 505.60V508.20M127.07 506.25L129.33 507.55M127.07 507.55L129.33 506.25" stroke="#444" stroke-width="1.0"/>
<path d="M178.75 507.40V510.00M177.62 508.05L179.88 509.35M177.62 509.35L179.88 508.05" stroke="#444" stroke-width="1.0"/>
<path d="M170.14 587.90L169.60 591.30M171.20 587.90L170.66 591.30M169.20 588.99H171.60M169.20 590.21H171.60" stroke="#444" stroke-width="0.55" fill="none"/>
</svg>
</body></html>
